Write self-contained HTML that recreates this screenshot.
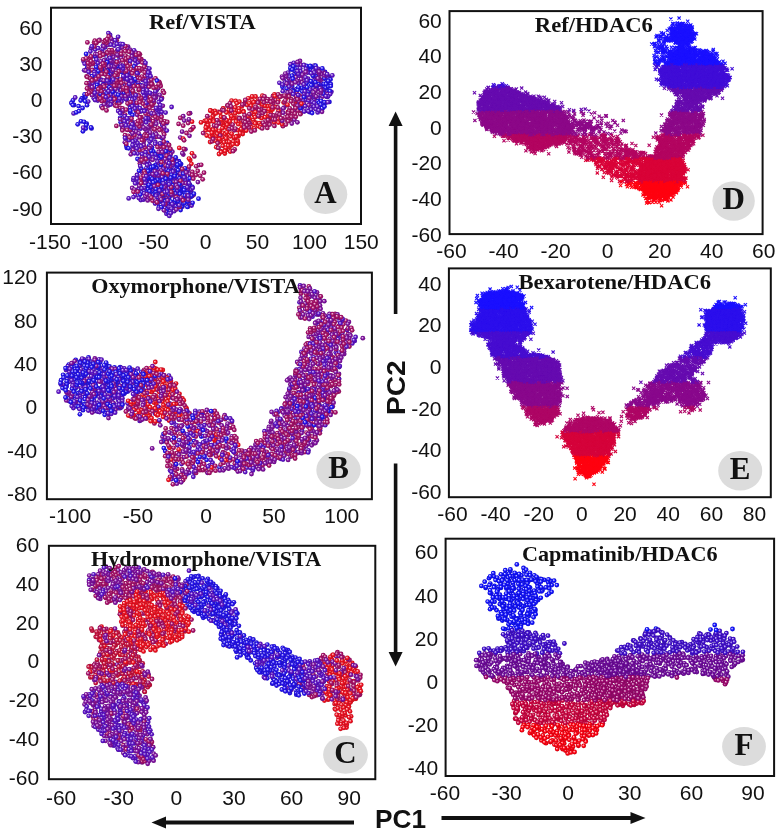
<!DOCTYPE html>
<html><head><meta charset="utf-8"><style>
html,body{margin:0;padding:0;background:#fff;width:781px;height:832px;overflow:hidden}
svg{display:block;filter:blur(0.35px)}
.n{font-family:"Liberation Sans",sans-serif;font-size:21px;fill:#111}
.t{font-family:"Liberation Serif",serif;font-weight:bold;font-size:21.5px;fill:#111}
.L{font-family:"Liberation Serif",serif;font-weight:bold;font-size:31px;fill:#111;text-anchor:middle}
.P{font-family:"Liberation Sans",sans-serif;font-weight:bold;font-size:26px;fill:#111}
</style></head><body>
<svg width="781" height="832" viewBox="0 0 781 832">
<defs><radialGradient id="gmdf01020" cx="0.5" cy="0.5" r="0.5" fx="0.38" fy="0.35"><stop offset="0" stop-color="#fde2e4"/><stop offset="0.55" stop-color="#f01020"/><stop offset="1" stop-color="#c00d1a"/></radialGradient><marker id="mdf01020" markerUnits="userSpaceOnUse" markerWidth="6" markerHeight="6" refX="3" refY="3" overflow="visible"><circle cx="3" cy="3" r="2.4" fill="url(#gmdf01020)"/></marker><radialGradient id="gmd5c12c8" cx="0.5" cy="0.5" r="0.5" fx="0.38" fy="0.35"><stop offset="0" stop-color="#ebe3f8"/><stop offset="0.55" stop-color="#5c12c8"/><stop offset="1" stop-color="#4a0ea0"/></radialGradient><marker id="md5c12c8" markerUnits="userSpaceOnUse" markerWidth="6" markerHeight="6" refX="3" refY="3" overflow="visible"><circle cx="3" cy="3" r="2.4" fill="url(#gmd5c12c8)"/></marker><radialGradient id="gmd2412ee" cx="0.5" cy="0.5" r="0.5" fx="0.38" fy="0.35"><stop offset="0" stop-color="#e5e3fd"/><stop offset="0.55" stop-color="#2412ee"/><stop offset="1" stop-color="#1d0ebe"/></radialGradient><marker id="md2412ee" markerUnits="userSpaceOnUse" markerWidth="6" markerHeight="6" refX="3" refY="3" overflow="visible"><circle cx="3" cy="3" r="2.4" fill="url(#gmd2412ee)"/></marker><radialGradient id="gmda8106a" cx="0.5" cy="0.5" r="0.5" fx="0.38" fy="0.35"><stop offset="0" stop-color="#f5e2ed"/><stop offset="0.55" stop-color="#a8106a"/><stop offset="1" stop-color="#860d55"/></radialGradient><marker id="mda8106a" markerUnits="userSpaceOnUse" markerWidth="6" markerHeight="6" refX="3" refY="3" overflow="visible"><circle cx="3" cy="3" r="2.4" fill="url(#gmda8106a)"/></marker><radialGradient id="gmd8010a0" cx="0.5" cy="0.5" r="0.5" fx="0.38" fy="0.35"><stop offset="0" stop-color="#f0e2f4"/><stop offset="0.55" stop-color="#8010a0"/><stop offset="1" stop-color="#660d80"/></radialGradient><marker id="md8010a0" markerUnits="userSpaceOnUse" markerWidth="6" markerHeight="6" refX="3" refY="3" overflow="visible"><circle cx="3" cy="3" r="2.4" fill="url(#gmd8010a0)"/></marker><marker id="mx8c0888" markerUnits="userSpaceOnUse" markerWidth="6" markerHeight="6" refX="3" refY="3" overflow="visible"><path d="M1.4 1.4L4.6 4.6M4.6 1.4L1.4 4.6" stroke="#8c0888" stroke-width="1.1"/></marker><marker id="mx660baf" markerUnits="userSpaceOnUse" markerWidth="6" markerHeight="6" refX="3" refY="3" overflow="visible"><path d="M1.4 1.4L4.6 4.6M4.6 1.4L1.4 4.6" stroke="#660baf" stroke-width="1.1"/></marker><marker id="mxb30560" markerUnits="userSpaceOnUse" markerWidth="6" markerHeight="6" refX="3" refY="3" overflow="visible"><path d="M1.4 1.4L4.6 4.6M4.6 1.4L1.4 4.6" stroke="#b30560" stroke-width="1.1"/></marker><marker id="mxff0010" markerUnits="userSpaceOnUse" markerWidth="6" markerHeight="6" refX="3" refY="3" overflow="visible"><path d="M1.4 1.4L4.6 4.6M4.6 1.4L1.4 4.6" stroke="#ff0010" stroke-width="1.1"/></marker><marker id="mxd90338" markerUnits="userSpaceOnUse" markerWidth="6" markerHeight="6" refX="3" refY="3" overflow="visible"><path d="M1.4 1.4L4.6 4.6M4.6 1.4L1.4 4.6" stroke="#d90338" stroke-width="1.1"/></marker><marker id="mx400dd7" markerUnits="userSpaceOnUse" markerWidth="6" markerHeight="6" refX="3" refY="3" overflow="visible"><path d="M1.4 1.4L4.6 4.6M4.6 1.4L1.4 4.6" stroke="#400dd7" stroke-width="1.1"/></marker><marker id="mx1a10ff" markerUnits="userSpaceOnUse" markerWidth="6" markerHeight="6" refX="3" refY="3" overflow="visible"><path d="M1.4 1.4L4.6 4.6M4.6 1.4L1.4 4.6" stroke="#1a10ff" stroke-width="1.1"/></marker><marker id="mx660bb0" markerUnits="userSpaceOnUse" markerWidth="6" markerHeight="6" refX="3" refY="3" overflow="visible"><path d="M1.4 1.4L4.6 4.6M4.6 1.4L1.4 4.6" stroke="#660bb0" stroke-width="1.1"/></marker><marker id="mx89088c" markerUnits="userSpaceOnUse" markerWidth="6" markerHeight="6" refX="3" refY="3" overflow="visible"><path d="M1.4 1.4L4.6 4.6M4.6 1.4L1.4 4.6" stroke="#89088c" stroke-width="1.1"/></marker><marker id="mxd5033b" markerUnits="userSpaceOnUse" markerWidth="6" markerHeight="6" refX="3" refY="3" overflow="visible"><path d="M1.4 1.4L4.6 4.6M4.6 1.4L1.4 4.6" stroke="#d5033b" stroke-width="1.1"/></marker><marker id="mx2c0fec" markerUnits="userSpaceOnUse" markerWidth="6" markerHeight="6" refX="3" refY="3" overflow="visible"><path d="M1.4 1.4L4.6 4.6M4.6 1.4L1.4 4.6" stroke="#2c0fec" stroke-width="1.1"/></marker><marker id="mx470dd0" markerUnits="userSpaceOnUse" markerWidth="6" markerHeight="6" refX="3" refY="3" overflow="visible"><path d="M1.4 1.4L4.6 4.6M4.6 1.4L1.4 4.6" stroke="#470dd0" stroke-width="1.1"/></marker><marker id="mxae0665" markerUnits="userSpaceOnUse" markerWidth="6" markerHeight="6" refX="3" refY="3" overflow="visible"><path d="M1.4 1.4L4.6 4.6M4.6 1.4L1.4 4.6" stroke="#ae0665" stroke-width="1.1"/></marker><radialGradient id="gmdc8103e" cx="0.5" cy="0.5" r="0.5" fx="0.38" fy="0.35"><stop offset="0" stop-color="#f8e2e8"/><stop offset="0.55" stop-color="#c8103e"/><stop offset="1" stop-color="#a00d32"/></radialGradient><marker id="mdc8103e" markerUnits="userSpaceOnUse" markerWidth="6" markerHeight="6" refX="3" refY="3" overflow="visible"><circle cx="3" cy="3" r="2.4" fill="url(#gmdc8103e)"/></marker><radialGradient id="gmd700a9f" cx="0.5" cy="0.5" r="0.5" fx="0.38" fy="0.35"><stop offset="0" stop-color="#eee2f3"/><stop offset="0.55" stop-color="#700a9f"/><stop offset="1" stop-color="#5a087f"/></radialGradient><marker id="md700a9f" markerUnits="userSpaceOnUse" markerWidth="6" markerHeight="6" refX="3" refY="3" overflow="visible"><circle cx="3" cy="3" r="2.4" fill="url(#gmd700a9f)"/></marker><radialGradient id="gmdcf0340" cx="0.5" cy="0.5" r="0.5" fx="0.38" fy="0.35"><stop offset="0" stop-color="#f9e1e8"/><stop offset="0.55" stop-color="#cf0340"/><stop offset="1" stop-color="#a60233"/></radialGradient><marker id="mdcf0340" markerUnits="userSpaceOnUse" markerWidth="6" markerHeight="6" refX="3" refY="3" overflow="visible"><circle cx="3" cy="3" r="2.4" fill="url(#gmdcf0340)"/></marker><radialGradient id="gmd400dcf" cx="0.5" cy="0.5" r="0.5" fx="0.38" fy="0.35"><stop offset="0" stop-color="#e8e2f9"/><stop offset="0.55" stop-color="#400dcf"/><stop offset="1" stop-color="#330aa6"/></radialGradient><marker id="md400dcf" markerUnits="userSpaceOnUse" markerWidth="6" markerHeight="6" refX="3" refY="3" overflow="visible"><circle cx="3" cy="3" r="2.4" fill="url(#gmd400dcf)"/></marker><radialGradient id="gmdff0010" cx="0.5" cy="0.5" r="0.5" fx="0.38" fy="0.35"><stop offset="0" stop-color="#ffe0e2"/><stop offset="0.55" stop-color="#ff0010"/><stop offset="1" stop-color="#cc000d"/></radialGradient><marker id="mdff0010" markerUnits="userSpaceOnUse" markerWidth="6" markerHeight="6" refX="3" refY="3" overflow="visible"><circle cx="3" cy="3" r="2.4" fill="url(#gmdff0010)"/></marker><radialGradient id="gmd1010ff" cx="0.5" cy="0.5" r="0.5" fx="0.38" fy="0.35"><stop offset="0" stop-color="#e2e2ff"/><stop offset="0.55" stop-color="#1010ff"/><stop offset="1" stop-color="#0d0dcc"/></radialGradient><marker id="md1010ff" markerUnits="userSpaceOnUse" markerWidth="6" markerHeight="6" refX="3" refY="3" overflow="visible"><circle cx="3" cy="3" r="2.4" fill="url(#gmd1010ff)"/></marker><radialGradient id="gmd9f0670" cx="0.5" cy="0.5" r="0.5" fx="0.38" fy="0.35"><stop offset="0" stop-color="#f3e1ee"/><stop offset="0.55" stop-color="#9f0670"/><stop offset="1" stop-color="#7f055a"/></radialGradient><marker id="md9f0670" markerUnits="userSpaceOnUse" markerWidth="6" markerHeight="6" refX="3" refY="3" overflow="visible"><circle cx="3" cy="3" r="2.4" fill="url(#gmd9f0670)"/></marker></defs>
<rect width="781" height="832" fill="#fff"/>
<path d="M210 121.4 216.3 135.8 242.9 129.7 253.3 120.2 222 137.5 239.4 101.7 256.1 102.1 226 127.5 213.4 115.2 229 135.2 229.2 150.2 237.7 140.9 213.6 119.7 221.4 120.2 286.7 97.7 238.5 136.3 241.3 124.8 215.8 132.1 265.4 110.9 243.9 130.8 247.1 105 219.7 142 229.3 111.3 253.8 122.5 241.8 106.4 228.2 129.5 213.1 138.2 218.1 111.8 251 104.2 233.8 109.7 243.4 111.1 217.2 133.7 269.7 118.1 210.1 142 249.4 103.3 220.2 131.6 258.4 126.2 234.5 138.2 237.9 143 274.1 122.2 191.4 163.8 201 122.4 223.2 132.8 205.7 130.4 237.1 117.7 192 121.7 207.2 122.6 210.4 129.8 204.8 121 230.7 145.4 235.1 107.5 190.2 160.1" fill="none" stroke="none" marker-start="url(#mdf01020)" marker-mid="url(#mdf01020)" marker-end="url(#mdf01020)"/>
<path d="M150 135.8 163.9 132.1 166.7 169.6 114.3 45.7 168.6 172.7 179.3 167.2 150.1 120.2 166.5 197.4 166.4 213.8 321 95.6 140.8 200 161 99.5 314.3 65.7 137.6 153.6 287.1 80.3 298.5 83 139.8 184.7 143.1 157.4 134.7 98.6 95.1 49.6 112.6 62.1 145.6 86.2 294.5 73.9 175.7 174.3 164.3 130.3 310 106.9 166.5 211.4 184.8 176.7 107.1 85.8 130.6 96.1 137.1 178.8 182.4 206.7 101 79.7 145.7 162.5 301.4 111.1 155.1 203.6 129.4 104.9 104.4 81.5 135 144 313.4 88.2 151.8 191.9 131.8 121.9 324.5 78.6 134.9 80.9 102.9 45.6 147.9 161.5 191 192 125.8 79.5 139 159.7 136.2 56.8 149.3 154.3 135.5 64.4 146.4 107.9 158.9 202.2 98.1 48.2 309.9 70.2 146 95.2 131.4 86.3 306.9 87.9 331.4 91.8 95.6 90 167.9 202.9 165.1 208 130.1 108.1 109.5 82.9 189.5 185.4 303.9 80.8 158.3 113.9 95.6 61.9 317.4 97.7 169.6 169.6 302.3 107 160.2 144.1 147 182.9 309 91.9 185.2 188.7 144.9 96 123 95.7 191.6 205.5 133.4 180.2 158.6 115.5 123.2 78.7 135.5 123.9 173.7 169.7 129.4 118.2 128.4 90.6 105.1 59.6 97.8 100.6 135.7 146 154.3 194.8 149.5 157.4 122.2 129 306.6 110.7 130.1 127.2 155 137.4 163.2 178.3 140.5 128.7 311.5 102.3 314.7 80 147.6 77.7 159.5 161.3 308 78.7 147.8 174.5 114.3 68.3 186.1 180.9 132.1 99.7 121.9 95.5 115 89.5 313.8 85 165.2 190.1 155 133.9 320.4 84.3 155 188.6 147.1 68.2 147.8 92.5 147.4 118.2 317.8 98.7 150.8 169.1 160.4 183.8 290.6 83.1 160.5 167.5 164.9 195.3 305.5 100.2 133 95.3" fill="none" stroke="none" marker-start="url(#md5c12c8)" marker-mid="url(#md5c12c8)" marker-end="url(#md5c12c8)"/>
<path d="M85.5 96.9 311.1 67.7 155.9 154.6 113.7 86.5 166.9 178.9 309.4 112 168 174.3 182.7 202.4 146.3 189.3 290.9 69.4 158.2 183.9 114.6 93.2 169 206 97.1 86.3 303.5 89 133 90.8 169.4 169.4 330.8 84.1 163.9 189.5 126.5 83.8 324.9 77.8 181.4 186.6 153.6 184.3 192.6 202.8 148.1 180.2 151.2 178.7 162.1 183 95.3 77.6 87 105.2 152.9 194.6 164.9 202.7 141.7 192.5 164.2 178.1 183 190.7 154.2 177.4 326.8 91 119.4 71.3 169.3 160.5 307.6 67.4 181.1 164.1 162.1 189.3 157.2 200.2 187.3 171.7 170.4 193.9 190.3 190.3 182 206.2 176.7 183.4 169.5 186.3 162.6 196 174.4 178.4 85.8 128.6 72.9 100.4 147.6 191.1 146.3 180.2 158.9 207 155.8 96 316 76.1 132.1 86.2 311.4 73 126.8 147.9 316.8 89.1 323 105.8 118.5 49.7 295.7 71.4 178.3 164.3 98.5 75.4 306.5 65.9 174.7 201.4 171.3 170.2 159.8 152 298.5 68.3 120.6 70.9 126.6 99.5 296.3 89.1 107.6 78.2 148.1 188.9 157.8 153.9 122.1 72.2 74.1 105 148.7 178.7 170.1 194.2 182.8 191.1 154.7 193 152.3 173 321.3 87.2 161.2 167.6 175.2 173.2 86.7 123.7 317.6 101.3 117.4 77.9 325 72 157.5 189.2 188.5 188.4 119.9 82 181 172.5 179.5 166.6 151 174.1 180 174.3" fill="none" stroke="none" marker-start="url(#md2412ee)" marker-mid="url(#md2412ee)" marker-end="url(#md2412ee)"/>
<path d="M155.8 192.2 119.5 98.4 174 190.3 130.2 112.7 167.7 208.7 98.7 79.8 324.1 89.6 107.4 98.8 177.1 181.1 180.8 192.2 161.5 153.7 155.3 154.5 78.6 106.1 176.8 203.7 82.9 131.3 318.6 84.1 326.9 82.6 169.9 169.3 168.6 170.8 325.7 94.3 82.5 98.1 166.8 161.2 142.2 161.7 172.6 188.1 115.4 61.3 150.6 177.4 325.5 102.8 168.9 213.4 184.8 197.5 293.2 68.2 167.9 182.5 137.5 158.9 175.6 193.6 129.8 73.5 329.4 101.9 129.9 110.7 119.7 58.7 156.3 167.9 103.5 90 120.7 122.2 316.9 86 328.8 77.2 108.6 71.9 190.7 197 71.4 103 320.3 73.9 161 165.2 110.9 92.7 115.3 87.6 120.3 89.9 181 182.9 183.1 203.7 152.8 167.9 189.1 196.9 134.2 66.5 301.5 87.9 175.1 202.9 160.8 201.1 153.3 151.3 166.6 160.8 286.7 88.5 174.5 202.5 324.4 78.3 153.5 171.6 140.3 194.6 72.8 105.1 77.7 124.3 155.5 165 134.1 81.8 174.6 206.3 153.8 166.3 130.5 104.2 324.4 102.1 160 191.5 308.5 91.7 128.5 71.8 177.6 186.6 163.8 174.5 126.3 145.8 311 69.7 137.8 73.3 111.6 74.2 101.3 87.5 180.6 210 159.9 161.3 127 64 318.4 70.1 131.9 91.8 111.2 98.8 159 179.4 107.4 63.1 326.9 86.7 167.8 183 292.2 85.9 178.9 161.2 108.1 68.1 133 134.7 178.2 187.5" fill="none" stroke="none" marker-start="url(#md2412ee)" marker-mid="url(#md2412ee)" marker-end="url(#md2412ee)"/>
<path d="M117.4 97 185 201.3 127.5 89.4 153.9 102.8 112.3 83.7 132 137.9 149.4 97.8 114 95.3 142.7 182.7 188.1 123.1 150.1 97.2 139.4 99.1 219.5 112.2 152.5 200.7 156.8 136.7 282.9 126.2 134.6 135.1 261.8 106.9 125.9 73.7 125.5 55.6 149 86.9 121.1 82.7 286.6 119.8 103.7 41.9 262.6 113.3 162 97.9 130 64.4 175.6 159.8 155.5 78.3 114.5 103.6 98.4 99.2 118.5 70.9 163.6 132.8 112.8 92.2 273.1 119.5 229.6 129.1 153.1 121.1 141.5 179.4 252.5 109.6 269.5 121.9 157.7 127.8 164.2 134.5 197.7 170.9 148.2 151.9 159.9 105.3 169.5 196.3 148.4 184.2 285.9 96.3 163.2 196.4 102.4 92.9 148.6 114.3 148.6 104.6 172.7 163.5 178.6 123.9 141.8 98.5 107 67.7 162.5 124.8 250.2 124.4 142.5 86.9 267.7 99.2 152.8 115.4 168.6 175.8 230.7 124.3 136.1 69.4 267.1 101.3 299.7 95.6 139.9 163.4 119.2 86.2 204 172.7 89.9 88.8 91 56.9 105.2 40.2 121.3 51.4 152.4 105.6 149.5 118.7 116.6 51.6 212 141.4 106.2 70.5 145.5 106.2 113.4 40.3 120.3 108 90.2 86.8 171.2 162.6 300.6 101.1 144.8 147.4 183.2 125.7 106.7 82.9 249.1 122.4 98.7 96.7 151.7 104.2 86.6 76.4 117.7 55.5 159.2 81.9 297.7 110.5 142 157 255.7 107.5 292.1 113.7 300.5 113.5 273 96 292.2 118.9 125.3 71.9 126.2 61.9 275.7 99.9 261.1 109.6 122.6 108.5 122.9 120.2 112.8 54.7 232.7 124.6 172.3 183.7 220.2 135.6 152.9 111.1 262.3 116.2 136 84.8 96.4 95.3 109.8 42.6 115.1 105.6 161.3 129.2 128.2 135.8" fill="none" stroke="none" marker-start="url(#mda8106a)" marker-mid="url(#mda8106a)" marker-end="url(#mda8106a)"/>
<path d="M160.9 186.6 109.4 78.9 291.6 83 292.1 93.4 320.8 80.3 151.4 159.3 284.1 107.6 303.8 72.9 155.5 175.3 100.3 86.2 322.7 96.5 308.6 105.1 142.6 159.1 146.6 131 188.3 169.2 297.4 122.3 102 51.6 136.5 138.8 314.1 99.7 137.8 189.7 132.2 151.4 147 169.9 320.3 88.2 288.9 78.3 295.1 106 143.9 162.3 156.3 123.8 145.1 64.7 112.5 100.1 98.6 77.8 99.8 56.2 118.7 68.2 163.9 210.3 327.5 75.9 151.4 82.5 192.3 196.1 313 94.6 152.1 94.2 126.7 92.7 174.5 158.9 138.5 83 122.1 47.2 155.3 93.5 159 163.1 132.2 188 182.1 131.7 110.7 75.3 115.6 89 121.5 125.3 110.4 74.1 295.8 77.2 300.8 76.8 142.6 173.3 150.5 186.5 170.8 154 297.1 80.8 131.3 89.8 183.2 198.8 325 93.6 147.9 156.5 291.3 88.8 315.5 90.4 153.6 100.5 149.6 127.8 94.7 80.5 155.4 132.8 188.9 119.3 161 122.1 113.4 57 160.9 150.4 300.7 64.8 95.5 57.2 294.4 119.7" fill="none" stroke="none" marker-start="url(#md8010a0)" marker-mid="url(#md8010a0)" marker-end="url(#md8010a0)"/>
<path d="M108.7 99.1 75.2 97.5 143.4 199.7 101.4 80.1 138.6 87.4 174.2 178.4 128.7 76.4 136.3 59.6 185.3 180.2 128.1 95.8 145.4 98.6 164.2 151.8 150 182.5 168.9 182.2 313.2 80.6 135.7 103.7 157.9 203.1 98.6 78.9 109.7 67.4 138.8 198 182.1 176.6 296.3 98.3 151.7 113.4 157.4 161.6 164.8 166.7 161.6 193.8 188.9 203.3 320.1 88.3 135.1 60.4 146.2 82.7 321 109.3 169.2 203.3 90.2 76.3 150 92.9 156.6 90.3 156.3 181.4 168.9 207 167.9 157.2 288.3 84.3 303.9 65 146.7 103.2 143.4 90 146.3 168.3 117.3 85.8 113.6 79.6 128.6 85.6 84.2 70.3 325.2 88.7 83.2 127.7 303.1 100.2 105.1 47.4 108.8 96.3 135.3 195.1 140.7 145.4 97.5 82.7 310 89.6 102.6 48.9 138.9 188.6 132.9 102.5 167.2 189.8 188.1 188.6 305.9 68.8 101.4 106.4 293.7 62.8 170.7 207.1 155.7 157.1 138.8 149.6 291.9 93.1 136.9 128.7 313 70.5 123.7 77.3 105 80.7 131 131.3 308.6 100.5 134 128.2 137.6 143 132.4 106.2 94.7 97.2 160.4 168.4 149.2 173.7 159.1 173.8 289 86.6 149.4 68.6 120.2 44.8 109.3 65.2 157.7 172.5 132.8 146 137.1 75.4 317.5 70.3 155.4 142.2 96.6 67.4 88.2 101.6 147.9 156 171.5 208.7 175.9 206.1 83.5 61.1 307.7 72.7 163.3 168.8 144.6 198.3 143.9 95.9 92.6 83.2 105.3 102.5 305.5 77.3 159.3 111 174.2 211.2 127.9 122.3 178.2 179.5 145.2 182.9 295.4 65 128.9 140.2 298.1 88.5 188.1 183.4 112 71.3 171.2 172.2 319.2 107.9 164.9 156.3 150.9 140.4 169.3 215.9 135.2 140.7 174.9 197.3 300.2 68.3 153.3 135.7 284.7 82.7 127.1 75.4" fill="none" stroke="none" marker-start="url(#md5c12c8)" marker-mid="url(#md5c12c8)" marker-end="url(#md5c12c8)"/>
<path d="M124.6 121.2 137 105.7 173.1 176.9 179 193.8 183.4 176.6 290.4 64.2 156.6 180.3 161.1 115.7 163.3 199.9 144.2 187.8 161.5 99.2 122.1 98.6 299.3 75.7 110.1 34.9 303.4 106 149.7 141.5 119.3 93.3 113.8 64.5 279.4 82.8 98 63 135.1 54.5 112.5 82 287.8 92.4 144.2 193.5 152.1 154.4 142.8 110.3 313.9 106.6 84.6 63.7 314.8 97.1 155.4 91.4 302 105 148 118.5 93.8 98.3 143 92.5 147.2 172.1 121.5 101.6 119.6 97.3 133.6 178.2 146.4 138.3 138.1 62.2 313.6 76 146.1 122.4 118.1 36.8 166 163.7 312.4 101.7 133.5 197.1 132.8 141.5 105.9 100.3 116.2 70.8 308.5 111.2 177.7 190.6 162.4 125 181.2 181.2 171 179 108.6 59.2 162.1 177 156.7 109.8 134.4 79.9 96.6 69.7 111.2 80.9 328.4 78.5 161.7 111.8 166.7 179.1 329.3 79.1 140.4 111.6 177.2 161.9 109 99.9 126.5 98.9 311.2 109.6 178.7 187.9 160.1 108.9 160.2 107.5 179.6 168.4 155.1 143.8 177.5 176.7 141.8 170.7 160.7 144.2 162.6 158.1 115.8 94.4 134.1 50.3 128.7 198.4 131.1 52.7 318.2 68.8 316.2 85.3 131.6 122.1 160 143.8 143.2 120 111.7 62.4 169.1 188.3 175.9 206.3 297.7 64.7 166.6 123.2 118.2 111 143.9 61.2 317.7 112.4 172.8 165.3 146.1 102.8 315.8 109.2 125.8 99 288.1 72.7 110.7 94.4 132.6 145 143 80.2 122.8 113.7 289.7 76.6 310.5 97.2 120.5 43.9 150.9 188.1 327 96.9 188.3 178.9 121.2 55.1 111.9 91.1 149.5 164.2 305.4 96.4 108.4 33.1 300.5 71.4 145.9 83.9 111.4 66.3 126 138.1 108.7 82.5 147 90.4 149.5 73 73.6 113.4 158.7 102.1 98 85.5" fill="none" stroke="none" marker-start="url(#md5c12c8)" marker-mid="url(#md5c12c8)" marker-end="url(#md5c12c8)"/>
<path d="M227.1 140.1 228.2 142.2 209.3 129.8 269.9 106.5 252.4 100.3 259.3 123.2 235.1 113.2 221 116.7 230.9 145.5 223.4 117.4 249.4 118.2 235.6 100.9 265.1 117.2 243.6 111.9 226.9 141.9 213.1 128.9 206.7 135.5 282 124.1 257.5 101.6 242.7 134 260.7 125.6 251.6 127.4 228.1 123.6 296.4 92.4 228.8 110 248.3 98.3 255.5 111.9 221.2 151.5 223.4 126.1 241.8 129.9 208.4 126 251 105.8 267.3 106.2 264.7 105.8 231.2 118.4 255.8 122.6 248.3 116 278.3 122.6 215.8 129.5 281.9 121.2 222.4 128.1 219 154 258.6 99.3 230.6 150.7 206.6 120.5 225.5 149.7 192 153.3 270.9 113.6 223.9 142.3 255.1 123.5 253.7 102.3 230.6 114.8" fill="none" stroke="none" marker-start="url(#mdf01020)" marker-mid="url(#mdf01020)" marker-end="url(#mdf01020)"/>
<path d="M177.5 164.3 158.5 188.6 170.4 202 177.8 206.9 164.9 200.7 297.2 105 117.4 66 170.9 201.7 109.5 87.3 290.4 67.9 81.6 98.7 149.3 145.6 171.5 174.8 322.6 108.6 322.1 108.2 323.4 93.7 184.5 182.9 173.5 159.9 120.5 66.8 198.5 198.7 184.8 188.5 86.1 53.9 184.7 193.3 120.2 117.8 159.5 180.8 76.2 112.4 117.9 101.1 127.5 91.8 161.5 194 167.1 143 177.1 199.7 87.2 67.5 160.1 190 312 85 298.4 73.3 179.6 178.4 108.9 80 105.6 64.8 157 80.7 293.4 66.3 141.4 85.4 152 147.6 282.7 85.1 312.8 75.7 299.3 105.6 120.9 90 150.9 187 98.9 40.8 162.4 138.4 153.9 166.8 311.3 67.3 190.2 175.6 300.4 108 323.8 83.9 108.3 75.1 185.7 193.5 298.5 87.3 97.1 85 157.6 179.7 178.1 170.1 100.5 93.9 108.4 91.4 319 102.8 156.5 194.4 112.7 91.8 147.5 169.8 130.4 110.7 163 194.9 148.2 171 329.9 91.2 151 167.3 164.4 172.8 160.1 156.5 187.7 193.1 321.1 100.9 307 87.3 91.5 128.4 151.9 179.8 169.3 197.6 147.6 177.6 175.7 157.5 111.5 101.2 175.1 174.1 315.6 65.7 148.1 185.8 124.1 92.9 132.5 115 171.5 163.2 101.9 70 136.2 111.7 189.8 185 98.4 71 116.2 82.7 325.7 87.6 330.5 79.5 152.3 178.8 160.8 199.3 181.6 199.4" fill="none" stroke="none" marker-start="url(#md2412ee)" marker-mid="url(#md2412ee)" marker-end="url(#md2412ee)"/>
<path d="M172.4 151.7 152.3 125.2 137.1 114.8 145 129 168 152 297.8 103.9 318.7 92.3 111.9 42.1 294 94.3 156 97.7 159.7 94.8 119.7 60.7 91.1 48.3 165.2 159.1 89.4 84.6 303.8 103.6 286 76 154.6 97.6 320.9 92.7 121.4 96.2 136.2 131.7 128 46.6 135.9 122.3 322.7 70.7 148.6 127 319.4 78.5 88.5 69.2 188.3 201 97.6 91.9 158.6 151.9 117.4 49.9 176.1 181.8 134.4 189.6 193.7 194.8 117.4 54.8 321.5 74.2 125.5 96.2 188.1 206.6 145.7 70.5 184.2 120.6 113.1 69.9 180.3 137.6 139.3 59.9 92.5 88.2 107.9 105.7 165.3 186.3 124.9 67 138.8 133.4 158.3 175.5 114.6 66.5 112.4 61.4 282.2 120.8 92 95.2 108.8 66.6 128.5 80.5 105.2 92 130.8 154.3 183.2 116.2 168.4 195.5 173.1 163 111.1 38.3 286.9 105.2 108.9 104.5 159.2 136.8 180.4 173.7 145.5 196.4 104.3 104.3 167.2 148.6 121.7 125.2 324.3 75.4 92.2 77.4 180.1 185.3 155.4 173" fill="none" stroke="none" marker-start="url(#md8010a0)" marker-mid="url(#md8010a0)" marker-end="url(#md8010a0)"/>
<path d="M282 76.7 292.1 83.8 301.4 97.8 300 61 319 73.5 185.6 183.2 130.3 85.7 301.2 79.2 147.7 200.4 302 82.5 183.3 172.6 182.7 169.1 103.9 60.5 318 71.5 319.3 79.6 283.3 108.4 108 44.8 176.8 184.8 160.2 197.7 295.8 99.9 198.9 165.1 149.8 198.3 183.3 154.6 150.2 132.5 297.6 62 103.7 80.6 182.4 153.2 170.2 166.5 162.8 105.8 197.9 182.1 115.9 64.4 139.2 185.8 121.9 70.5 150.2 125.2 285.3 73.6 136.1 52.9 314.2 94.6 155.7 200.6 124.9 142.3 161.2 199.5 164.1 187.3 172.6 194.5 321 90.5 325 73.5 110.7 60.6 299.6 105.4 161.2 170.7 85.7 70.5 156.9 172.2 132.2 59 286.7 83.6 131.9 56.4 293.4 90.4 121.8 111.6 122.9 110.3 143.6 127.5 154.2 113.8 171.8 193.1 182.6 182.9 302.4 74.7 150.6 146.3 149.2 83.1 156.3 134.3 143 78.8 316.1 96.5 298.8 101.5 103.7 46.3 280.2 109.9 143.8 145 144 141.1 165.1 144.6 291.5 79.5 114.6 82.1 148.7 81" fill="none" stroke="none" marker-start="url(#md8010a0)" marker-mid="url(#md8010a0)" marker-end="url(#md8010a0)"/>
<path d="M240.1 133.4 270.5 110 262 104.6 254 115.2 220.4 140.9 261.5 118.2 274.5 94.4 212.7 116.5 236.8 136.2 255 117.2 233.3 141.5 277.5 95.5 218.7 138.8 259.5 103 278.6 110.6 221.6 122.1 234.5 117.7 215.4 140.8 240.9 120.6 210.5 110.7 225.9 138.4 189 158.6 301.5 103.7 210.1 136.6 223.4 108.7 260.4 127.3 295.1 103.9 278.3 100.6 224.8 153.5 214.8 110.9 225.1 133.9 231.6 100.6 225.9 122.1 238.8 108.5 230.2 151.6 220.2 112.8 215.8 113.4 262.4 95.7 213.7 121.6 238.2 124.1 268.4 116.8 233.2 118.2 229.1 141.8 236.1 121.6 236.8 103.3 227.1 124.7 254.5 128.4 278.2 118.7 219.2 130.8 210.5 117.8 239.7 111.7 212.2 111.5" fill="none" stroke="none" marker-start="url(#mdf01020)" marker-mid="url(#mdf01020)" marker-end="url(#mdf01020)"/>
<path d="M287.9 112 246.3 130.5 268 115.7 191.8 129.2 223.1 108.5 283.6 102.6 230.4 136.4 229.7 121.4 206.2 126 287.5 104.7 234.2 137.3 272.5 109.5 274.8 96 245.3 101.4 226.6 120.1 268.7 109.3 207.8 125.1 210.3 110.5 213.1 129.8 226.4 112.5 226.7 132.3 216.3 147.2 221.1 152 205.8 127.5 237 144.2 222.7 145.8 228.1 145.7 295.1 104.8 238.8 112.1 179.3 147.9 241 129.1 211.9 134.6 225.7 147.9 255.5 96.5 234.3 110.1 275.3 107 231.5 116.2 236 136.7 222.4 123.3 252.1 96.5 220.8 123.7 251.3 113.4 225 151 183.2 138.7 219.4 139 231.7 133.7 237.3 130.2 232.8 144.3 211.8 132.8 259 116.7 239 111.2 268.7 114.1" fill="none" stroke="none" marker-start="url(#mdf01020)" marker-mid="url(#mdf01020)" marker-end="url(#mdf01020)"/>
<path d="M170.2 149.9 310.2 66 170.7 177.7 140.7 136.4 328.5 86.6 126 91.6 91 127.5 180.2 193.1 137.6 85 151 150.8 179.9 193.8 179.5 184.2 96.1 66.9 310.9 81.2 118.2 94.8 80.7 100.5 311.3 85.2 155.3 181.4 169.2 193.8 141.3 168.7 184.5 203 128.6 148.3 79 111.1 125.1 85.7 187.8 201.6 97.1 87.4 292.3 69.6 296.8 72.8 85.1 101.3 315.5 82.2 179.2 188.7 162.9 180.5 131.5 78.2 183.3 173.7 292 75.7 155.8 189.1 176 199.9 302.3 91.6 322.3 68.4 82.6 108 165.8 151.4 320.6 104.6 161.5 186.8 328.1 86.2 148.8 184.8 108.8 90.5 189.8 178.4 161 164.7 84.6 94.4 153.1 166.7 177 166.2 86.3 125 104.6 74 135.4 79.3 139 170.8 326 83.9 172.8 185.3 107.6 70.7 149.6 191.3 184.9 195.6 297.7 90.1 306.7 83 292.4 90.4 174.7 176 95.3 56.2 103.3 84.4 177.9 201.3 161.3 156.8 104.8 54.4 292.8 78.7 282.4 86.8 107.2 62.1 165.8 178.6 293.4 91.5 185.1 168.3 192.3 186.9 179.9 163.3 330.8 86.1 324.5 106.6 161.3 207.2 81 121.3 312.1 113 102.5 67.3 92.1 76.2 187.4 206.9 84 121.8 191.6 195.7 177.5 164.8 106.7 93.3 170.4 182.8 170.5 157.4 153.3 182.3 304 97 193.9 193.7 328.3 80.9 165.5 201.1 184.1 190 175.3 200.3" fill="none" stroke="none" marker-start="url(#md2412ee)" marker-mid="url(#md2412ee)" marker-end="url(#md2412ee)"/>
<path d="M317.9 78.4 121 90.2 322 111.8 152.7 159.8 99.5 39.9 147.4 112 313.6 92.4 189.5 135.8 305.7 72 158.1 88.2 95.4 54.1 146.9 194.3 139.7 137.1 327.6 94.1 171.5 194.4 189.8 173.9 163.4 137.3 154.2 175.2 287.7 92.5 283 78.3 111 89.1 190.1 113.2 295.3 82.3 154.4 186 129.9 49.7 132.5 133.1 164.2 127.4 119.3 86.2 133.1 149.9 142.6 85.9 139.9 160.7 166.3 144.7 176.2 185.5 290.6 91.7 167.6 200.4 180.9 197.6 188.3 199.7 282.6 78.1 162.3 152 185.4 149.3 309.4 97.9 137 174.9 291.8 123.5 319.2 71.8 156.5 119.5 92.1 87.2 120.7 64.8 159.8 172.6 131.7 52.7 111.5 101.6 127.9 94.1 127.3 48 141.9 123.8 152.7 174.2 100.8 61.3 177.4 187.4 283.2 112.8 123.2 128.7 176.3 209.4 297.5 105.7 103.4 85.1 154.9 171.2 293.8 110.5 120.2 119.2 110.6 55.3 186.2 172.5 149.1 148.2 88.7 83.1 167.1 161.9 97.5 54.3 150 195.8 131.5 72.8 121.3 58" fill="none" stroke="none" marker-start="url(#md8010a0)" marker-mid="url(#md8010a0)" marker-end="url(#md8010a0)"/>
<path d="M288.9 96 196.2 166.3 152.5 84.7 131.6 118.6 138.8 90.3 161.3 120.4 267.3 127.9 293.2 103.8 254.8 130.4 164.3 121.6 192.4 171.9 101.1 69 195.9 175.1 125.4 46.2 143.2 139.8 273.4 102.9 136.9 102.8 122.4 60.3 287.8 113.2 158.1 184.8 153.6 128.9 91.5 91.1 90.9 91.8 123.2 89.4 103.3 96 116.3 85.4 114.3 85.7 94.3 46.4 162.5 194 104.6 63.8 247.9 120.2 118.7 71.4 239.7 118 276.1 115.7 102.3 73.3 91.2 79.2 123.6 87.7 186.5 133 183.8 149 284.4 102 89.6 71.3 86.5 83.2 289.8 108.3 117.1 82.4 137.3 68.5 102.6 108.2 88.6 66.6 127.6 103.5 116.8 61.9 140.2 70.7 203.1 133.1 128.9 51.7 96.1 79 136.8 68.6 131 123.1 257.9 102.6 222.2 110 131 69.4 130.7 102.1 90 78.3 234.7 149.4 140.6 121.5 100.3 87.4 227.4 105.5 149.4 100.7 244 125.9 292.3 111.2 117.7 74.8 160.1 146.3 142.2 62.6 295.9 116.8 296.3 96.3 188.8 113.6 90.1 64.2 88.1 62.3 112.3 51.8 100 53 165.7 165.6 133.4 71.2 271.4 98.8 133.3 92.6 245.3 99.9 272.6 101.2 83.3 59.3 139.9 54.3 163.8 141.7 100.4 56.2 300.3 114.2 126.1 109.7 243.6 121.4 104 65.6 297.3 99 144.3 171.4 234.5 130.3 265.4 121.6 127 85.4 100.3 67.4 101.4 91.1 189 166.7 109.2 55.7 229.8 103.3 132.8 90.9 87.4 42.4 125.1 114.6 289.1 111 154.7 129.3 201.2 164.8 285.3 117.4 139.3 126.5 141.3 117.2 288.4 112.9 94.1 42.6 99.6 88.3 278.5 113.5 171.3 191.9 139 89.5 263.9 102.3" fill="none" stroke="none" marker-start="url(#mda8106a)" marker-mid="url(#mda8106a)" marker-end="url(#mda8106a)"/>
<path d="M256.7 108 285.3 100.4 282 96.1 168.5 165.3 245.3 122.2 92.1 80.5 126.4 82.4 231.4 110.6 135.5 94.4 141.2 101.8 264.5 96.3 138.1 86.2 141.1 177.7 126.1 63.3 108 77.9 214.1 125.5 202.7 179.3 139.4 149.9 141.7 160.3 194.3 156.4 291.3 99.4 151.4 79.7 297.5 99.3 145.2 76.1 132.3 73.4 273.4 115.4 259.2 110.2 106.9 52.4 137.8 191.6 157.5 118.1 142.9 103.8 90.2 64.5 137.4 124.4 192.2 174.9 227.7 105.6 145 134.4 270.6 115.1 207.3 116.2 87.1 94.1 144.7 72.4 108.1 96.3 138.5 95.5 262.2 128.4 126.7 91.4 151.4 197.6 129.9 129.9 127.5 60.2 176.4 197 151.6 84 120.5 79.6 121.2 54 98.4 89 90.1 57.9 105.3 74.4 156.1 87.1 125.2 51.1 163.8 147.2 239.4 118.5 92.8 64 106.5 110.4 90.9 56.5 277.5 113.4 92.3 70 88 63.1 137 68.2 187.5 195.7 232 128.3 141.8 69 116.2 73.4 288.9 118.9 218.8 123.5 171.2 187.2 119.4 103.2 165.1 204.1 121.5 83 216.6 126 141.9 76.6 269 124.1 104 100.2 139.9 117.5 144.9 173.6 145.5 113.7 291.4 99.6 106.4 71.7 291.4 116.8 179.5 206.9 272.6 107.4 141.1 97.9 151.2 124.6 193.4 127.2 259.3 114.3 114.6 99.2 155.4 116.9 125.9 58.8 136.1 54.9 224.3 117.8 101.8 101 141.3 59.1 139.5 68.1 259.9 98.9 127.8 66.3 243.9 104.2 213.1 139 125 135.2 164.9 121.3 167.3 173.8 294.9 113.6 284.5 95.6 289 96.5 100.4 98.6 127.2 129.9 106.8 42.8 138.9 95.9 86.2 58.3 275.1 119.6 217.6 143 96.3 43.2" fill="none" stroke="none" marker-start="url(#mda8106a)" marker-mid="url(#mda8106a)" marker-end="url(#mda8106a)"/>
<path d="M144.3 135.7 167.3 121.9 126.4 88.1 146.7 136 277.8 107.5 248.9 127.6 162.9 173.4 170.4 148.8 94.8 40.7 246.9 125.5 268.1 120 193.3 178.7 116.7 40.4 92.7 62.7 128.4 57.6 217.1 120.1 287.6 116.7 274.4 125.9 98.7 76.4 139.8 102.2 166.6 155.7 270.7 101.9 151 99.6 96 42.9 111.9 50.2 263.1 122.8 159.9 83.4 223.6 110.4 183 200.4 138.9 53.5 184.1 140.3 244.9 118.4 291 101.3 107.4 52.7 143.4 150.8 138.2 77.8 180.5 180.7 169.1 144.9 285.9 124.6 104.3 86.7 251.3 131.6 278.2 94.5 108.7 36.5 87.3 77 133.9 86.4 105.6 40.9 141.9 140.1 102.9 63.6 116.7 106.2 224.4 117.6 288.2 121.2 264.5 111.2 233.1 151.2 255.5 106.8 279.6 114.5 101.7 74.1 149.6 107.8 133.6 152.3 122.4 130.4 107.8 77.1 133.5 191.8 249.4 114.2 157.5 147 269.7 124.6 125.8 69.6 114.9 75.6 163.4 123.4 258.5 115.9 190.5 130.2 218.4 147.8 263.4 99.2 295.6 108.1 109.3 50.1 153.5 87.8 162.9 91 116.1 80.5 103.3 54.7 281 118.2 242.4 104.6 280 96.9 135.8 110.2 244.6 115.2 141.2 183.1 156.9 202.3 159.6 130 160.7 86 172.2 159.5 143.8 175.9 126.3 143.8 200.2 175.8 231 106.5 164 92.8 244.3 127.5 107 39.3 264.8 125.1 249.3 108.4 138.1 120.9 91 61.1 87 88.5 126.4 70.8 235.4 128.6 161.6 116.9 144.3 66.7 158.7 84.2 89 92.7 138.4 112.3 180.3 117.9 182.2 168.9 218.3 147.9 161.6 162.2 139.6 58.1 116.4 125.9 129.5 137.4 277.9 102.4 146 159 99.1 40.6 140.1 78.6 136.8 74.8" fill="none" stroke="none" marker-start="url(#mda8106a)" marker-mid="url(#mda8106a)" marker-end="url(#mda8106a)"/>
<path d="M88.6 71.9 136.8 148.4 169.6 157.7 159.6 190.6 158.5 208.8 115.2 40.2 298.2 95 293.3 94.1 145.6 152.2 124.8 116.2 151.3 139.5 125.9 125.4 141.9 111.1 149.1 156.8 132.3 124.3 156.6 173.8 170.7 213.2 120.1 113.1 144.6 179.1 177.3 199 91.8 46.4 298.3 73.9 327.2 74.2 282.5 84.6 282.8 91.2 145.5 62.8 169.1 184.4 147.7 75.4 123.3 76.1 108.8 91.4 95 100 172.3 204 127.1 118.4 314.3 72.6 305.2 106.1 131.2 127.4 119 100.4 145.8 118.3 136.5 182.6 94.5 72 332.3 75.4 297.5 71.2 140.2 166 146.3 176.1 314.3 102.9 173.6 171.2 134.4 153.3 150.6 76.2 303.8 84.4 122.9 68.7 147.2 165 167.9 166.1 129.3 84.2 90.4 51.5 141.2 146.4 96.5 59.5 191.4 189.5 105.9 97.1 166.8 130.6 137.2 175.1 141.7 188.5 94.6 74.1 156.7 194.8 156.2 158.1 163.5 183.5 311.1 73.3 137.2 73.2 156 195.7 156 108 130.2 78.2 109.9 57.9 165.6 112.6 140 108.2 160.1 143.5 148.3 72.6 135.8 95.3 110.8 44.7 94.8 92.9 160.3 105.1 171.6 107 304.3 93.8 107.3 80.7 327.8 102.2 173 171.6 330.2 94.1 169 163.2 142.1 154 184.3 177.5 131.5 81.3 125 138 328 96.5 145.7 81.4 306.9 80.4 318.7 110.3 192.7 188 144.4 111 135.2 183.4 127.5 79.7 122.6 65.9 122.8 44.2 108.6 91.2 120.8 66.7 134.9 108.5 116.9 43.9 164.9 192 130.3 61 307.9 94.8 119.5 98.6 127.2 79.1 187.4 187.2 325.8 96.2 316.2 68.2 113.2 79.6 179.2 205.3 110.6 99 304.9 91.3 110.7 104.6 163.4 203.9 188.2 195.8 167.3 191.7 189.1 183.2 304.2 111.6 317.4 106.4 118.3 49.3" fill="none" stroke="none" marker-start="url(#md5c12c8)" marker-mid="url(#md5c12c8)" marker-end="url(#md5c12c8)"/>
<rect x="51" y="7.7" width="310" height="216.3" fill="none" stroke="#111" stroke-width="2"/>
<text class="t" x="149" y="29" textLength="106.7" lengthAdjust="spacingAndGlyphs">Ref/VISTA</text>
<ellipse cx="325.5" cy="194.3" rx="21.8" ry="19.6" fill="#dcdcdc"/>
<text class="L" x="325.5" y="202.5">A</text>
<text class="n" x="42.5" y="34.9" text-anchor="end">60</text>
<text class="n" x="42.5" y="71" text-anchor="end">30</text>
<text class="n" x="42.5" y="107.2" text-anchor="end">0</text>
<text class="n" x="42.5" y="143.3" text-anchor="end">-30</text>
<text class="n" x="42.5" y="179.4" text-anchor="end">-60</text>
<text class="n" x="42.5" y="215.5" text-anchor="end">-90</text>
<text class="n" x="50" y="249.1" text-anchor="middle">-150</text>
<text class="n" x="101.9" y="249.1" text-anchor="middle">-100</text>
<text class="n" x="153.8" y="249.1" text-anchor="middle">-50</text>
<text class="n" x="205.7" y="249.1" text-anchor="middle">0</text>
<text class="n" x="257.5" y="249.1" text-anchor="middle">50</text>
<text class="n" x="309.4" y="249.1" text-anchor="middle">100</text>
<text class="n" x="361.3" y="249.1" text-anchor="middle">150</text>
<path d="M509 119.2 541.8 113.6 500.1 116.7 586.9 123.9 585.9 127.5 491.4 115.1 546.1 126.2 505.1 121.4 535 122.1 513.1 124.8 534 115.4 504.6 112.2 491.8 128.7 554.2 130.5 499.5 127.3 515.5 133.9 546.2 125.1 483.1 118.1 541.3 116.5 528.4 128.1 567.6 127.5 568.4 112.1 489.4 126.5 545.5 134.6 685.8 130.3 534 133.5 504.9 133.8 519.6 125.8 687.2 117.7 490.1 125.2 683.9 125.8 535.2 117.2 503.7 128.1 486.8 121.2 505.6 128.4 513.9 129.4 697.9 131.4 683.5 131.2 545.6 117.4 546.8 128 496.4 127.9 500.9 124 564.6 131.7 522.8 129.9 550.8 111.8 668.6 120.2 527.4 133 531.7 131.9 541.2 131.5 521.8 121 473.5 112 582.5 123.8 550.8 118 559.8 120.9 543.4 133.7 492.3 121.5 678.4 115 554 122.1 526.1 123.8 487 111.5 547.5 125.8 486.6 112.2 502.7 112.1 674.1 116.3 605.7 116 593.9 127.3 683.9 115 528.2 114.6 680.5 120.4 514.4 119 558.6 130.5 505.8 112.2 665.3 132.1 554.9 124.2 557.8 114.8 482 117.7 528.7 119.4 544.6 120 497.4 112.3 514.2 120.6 689.3 129.7 500 117.8 526.3 128.1 557 116.8 573.7 116.7 526.8 114 569.1 128.4 670.5 115.3 498.9 111.8 518.1 127.5 551 133.9 578.6 127.8 581.3 111.9 700.1 132.5 539.2 129.8 676.4 120 493.5 111.9 578.2 129.7 674.6 130.4 527.6 128.1 546.5 130.9 698.2 119.9 502.6 132.4 675.1 119.6 677.6 122.9 494.1 113.9 560.6 111.3 499.4 119.7 669.1 127.3 667.9 124.6 540.7 119.7 498.3 115.8 545.2 131.5 572.8 119.5 543.5 120.9 522.5 117.3 591.2 131 544.9 128.1 529.2 134 493.5 128.3 566.4 134.5 555.3 130.2 518 121.3 566.1 131 526 131.6 688.5 116 573.1 125.3 531.9 124 569.8 115.7 539.9 114.5 496.7 111.3 538.5 116.3 682.7 132.5 665.5 134.3 684.8 120.1 549.7 129.8 491.5 113 505.6 115.1 676.1 131.1 538.3 113.5 553.6 124.1 558.6 128.2 500.6 130 534 126.2 688.7 114 538.6 128.1 564.6 115 668.2 133 514.4 134.8 506.6 115.3 680.8 124.8 543.1 127.6 518 125.6 529 127.4 684.6 125.9 561.9 121.9 528.2 116.6 684 118.8 673.2 123.9 520.4 129.6 527.6 124.2 547 133.2 493.7 130.9 487.2 118.6 503.2 130.2 503.6 130.1 543.7 114 515.5 113.1 538.3 120.6 488 119.1 674.3 129.2 533.8 134 680.2 114 500.7 113.5 687.7 122.4 528.8 123.4 534.6 117.5 696 129.8 697.2 131.8 491.6 113.1 491 123.1 680.8 111.3 566.2 131.1 566 123 674.1 123.6 503.2 129.2 557 114.7 670.2 122 566.8 126.7 566.1 125.7 503.6 124.2 555.3 131.8 689.7 134.2 525.8 132.5 578.3 124.8 677.7 126.6 681.5 122.8 538 124.3 535.8 128.3 667.5 130.8 673 112.4 559.2 133.5 533.1 119.4 682.9 123.5 566.3 129.7 699.2 121.6 542.8 123 542.3 113.3 479.6 115 544.3 122.8 583 115.3 581 127.5 676.3 116.7 525.5 111.9 668.1 131.7 550.2 133.5 514.3 132.8 544.9 117.8 556.3 112.3 538.7 114.4 700.6 115.9 684.5 118.6 690 123.5 508 121.2 686.7 123 537.2 126.4 536.9 112.6 548.6 123.5 565.1 134.5 491.6 127.7 546.1 130.1 686.6 116.2 517.1 120.5 491.6 124.6 681.6 113.5 671.4 114.1 487.5 112.3 565.2 111.5 515.3 120.1 527.8 121.1 517.3 128 512.7 122.1 669.7 126.1 540.5 134.5 527.7 112 530.2 131.6 558.4 123.5 688.7 128.6 504.9 123.3 697.4 130.8 504.8 129.8 564 124.8 495.8 117.6 684.3 134 554.8 113.3 543.8 130.4 529 126.1 521.1 111.4 491.7 112 538.4 124.8 573.8 111.3 560.7 133.5 677.5 120 560.6 113.1 505.5 127.9 551.7 126.4 555.9 127.8 484.3 121.6 551.3 117.2 489.2 125.9 524.8 115.5 515.7 134.7 669.1 125.9 684.1 128.5 537.4 127.9 565.9 124.3 688.6 119.7 539.3 122.1 517.1 134.7 689.8 116.5 533.9 119.3 489.5 126.9 521.1 115.8 556.2 131.7 691.4 114.8 525.7 113.6 492.1 120.8 684.2 133 522.3 133.9 703.3 125.2 517.1 128.8 559.3 116.6 537.3 127.9 509.7 120.8 561.3 118.1 691.4 131.3 559.3 124.9 510.6 122.4 689.3 128.1 682.7 113.4 593.4 131.2 679 128.4 676.1 132.5 531 116.7 582.4 128.9 500.8 117.4 553.1 117.1 508.1 132.2 669.7 126.8 490.2 124.9 670.1 125.9 531.4 118.6 584.8 129.4 528.3 113.2 541.6 111.8 617.5 125.2 624.8 130.8 696.8 123.9 511.9 118.8 670.7 112.6 530.7 118.6 522.5 125.5 529.7 116.5 483.6 124.8 528.4 117.8 527.9 124.1 543.1 127.7 565 130.3 494.3 122.3 682.6 117.7 500.9 120 700.8 119.4 590.7 124.6 545.6 113.6 518.3 114.7 552.3 122.1 545.5 114 481 113.5 485.9 122.1 547.5 128.5 512.8 111.6 488.5 122.8 562 121.5 701.2 114.7 560.2 128.6 544 116.4 688.6 119.9 683.9 118.6 687.6 127.1 525.4 111.9 548 123.3 485.9 125.6 488.4 117.4 700.3 134.5 486.7 115.2 662.3 131 492.4 125.6 691.9 117.9 504.1 131.4 495.1 114.9 499.2 133.6 544.8 132.1 517.8 122.6 674.3 119.1 700.4 118.6 562.9 131.2 488.2 115.8 562.4 119.1 559.7 118.3 562.5 120.2 557.6 123.1 688.7 132.8 524.5 114.9 552.2 126 571.4 134.4 518.4 113.7 690.1 119.7 533.6 116.9 537.4 118 584.9 129.7 513.1 117.6 692.2 113.3 592.8 128.6 590.1 125.4 509.4 129.3 677.7 121 687.9 128.8 503.9 116.7 544.5 130.8 492.5 129.4 562 121.7 528.1 112.8 497.2 127 512.1 119.3 594.7 112.7 520.4 114.4 583 121.3 585.2 121.6 668.7 124.7 555.6 130.7 494.8 111.4 507.3 120.5 527.6 133.7 699.7 126.6 525.1 127.6 557.2 111.6 528.6 113.2 570.3 127.2 519.7 122.4 542.5 121.2 541.7 124.1 539 134.4 692.2 127.9 599.3 131.3 555.2 132.9 508.6 112.9 531.4 133.2 520.5 113.2 687.1 131.4 506.7 134.6 538.6 116.9 555.9 124.5 532.4 130.7 497.5 117.5 531.7 119.5 683.4 120.5 492.4 117.6 488.4 127.7 671.7 113.7 587.6 127.9 534.5 123.5 561.7 113.4 568.9 125.9 531.6 113 516.7 119.5 549.7 125.2 556.4 120 551.8 122.7 508.1 114.9 547 123.9 685.3 130.5 490.2 125.8 521.1 120.9 674.9 121.5 507 128.8 558.6 129.7 510.2 133.3 534.9 125 564.9 129.1 552.7 115.8 690.8 120.7 701 130.4 567.3 132.1 551.3 131.8 696.5 112.8 559.1 131.2 675.6 128.6 557.9 115 525 112.7 692.9 128.2 539.3 118.5 554 134.8 566.4 122.2 575.4 125 537.1 114 697.5 123.4 564.9 123.7 529.6 131.3 505.1 130.7 539.9 126.8 670.8 126.2 686.5 130.8 537.7 124.2 590.4 133.8 540.2 130.5 672.2 119 494.3 115.1 499 114.8 601.9 118 564.8 116.3 507.2 119.7 526.2 121.3 695.5 120.3 549.8 124.9 590 126.7 680.8 127.5 683.2 122.1 551.2 125.1 530.5 113.2 688.6 128.7 543.8 133.1 511.7 121.3 540.3 124.7 675.2 118.8 553.1 123 522.7 119.5 678.2 113 503.4 128.3 589.4 125.6 671.7 128.3" fill="none" stroke="none" marker-start="url(#mx8c0888)" marker-mid="url(#mx8c0888)" marker-end="url(#mx8c0888)"/>
<path d="M529.9 108 499.3 94.3 508.5 92.4 510.6 95.1 695.9 90.3 508.5 102.6 506.2 107.7 538.3 96.2 527.1 102.3 492.9 94.2 548.9 108.2 486.7 98.2 697.1 94.3 546.3 104.9 537.2 108.9 503 98.2 699 90.7 514.3 109.7 538 104.4 715.9 87.9 486.5 95 533.4 101.5 539.8 108.2 491.9 98.9 497.3 107 511.9 99.5 514 109.4 495.5 98.2 514.3 95.3 516.3 107.8 539.7 97.3 682.3 107.2 688.4 93.4 487.3 105.5 688 92.3 532.3 108.4 510.9 110.1 493.9 101.4 552.4 107.2 534.3 108.1 699.3 98 492.8 110.5 493 98.7 494.1 92.4 535.1 105.7 675.6 92.2 505.4 99.3 488.2 93.3 703.1 94.7 684.2 92.6 676 109.8 517.5 100.8 520.8 97.8 495.3 88.6 503.3 109 507.8 92.4 697.4 93.1 540.3 106.8 692.3 100.4 495.1 102.8 692.1 93.5 535.8 103.4 714.9 92.4 674.2 88.2 551.9 106.1 530.3 96.5 492.7 90.4 484.4 94.8 545.9 110.9 516.8 100.1 534.6 100.7 524.1 96.5 546.4 99.2 488.3 103.3 514.1 102.8 706.4 93.6 690.4 100.8 490.2 93.3 511 93.9 540 108.3 529 98.1 545.5 108.4 538.1 108.7 538.2 109.6 546.2 106.4 707.7 97.9 499 101.7 512.4 108 548 101 489.9 100.1 678.7 103.3 487.5 95.6 677.1 109 505.8 97.8 695.5 97.2 490.7 101.2 502 101.6 514.3 91.1 495.2 92.4 710.6 88.9 487.6 91.4 493.4 103.9 533.2 105.4 684.5 91.2 692.8 98.2 696.5 100.4 479.6 104.1 526.5 102.1 498.8 100.9 499.7 94.2 531.8 101.6 478.4 109.3 674.6 88.7 686.9 91.6 501.6 89.7 503.7 88.8 529.6 106.8 522.1 106.7 535.2 110.1 513.4 98.5 530.7 107.9 534.1 106.8 486.1 95.1 496.9 95.5 509.5 109.4 494.1 97.2 491.8 106.8 528.6 101.1 522.7 110.2 489.7 100.2 500.8 96.6 664.4 88.2 552.8 108.4 552.7 107.3 545.6 102.4 694.7 104.1 683.7 93.8 536.9 102 703.6 92.3 513.4 111 554.7 101.5 498.9 99.2 708.4 89.3 553.1 105.4 482.9 102.1 498.9 97.3 696.3 90.8 487.4 100.6 507.1 99.8 485.7 101.5 704.6 99 502.4 108 526.4 95.8 695.4 96.6 498.7 109 689.3 107 715.4 90.8 536.2 106.6 517.1 107.5 693 107.6 698.4 106.5 543.9 110.4 542.9 103.5 531.5 99.9 498.2 99.2 492.6 92.4 527.9 109.8 685.6 94.8 515 93.3 492.3 107.2 514.3 96.8 492.7 104.8 486.9 95.6 515.9 94 704.7 100.5 485.3 91.1 544.5 104.3 557.9 109.1 496.4 99.3 493.9 106.5 484.6 101 527.1 110.2 684.2 100.1 708.5 95.7 484.4 106.7 499.3 109.5 543.4 110.9 676.7 105.8 697.8 96.4 508.6 88.7 708.9 93.8 516.6 104.3 557.1 106.5 498.6 107.9 497 101 521.7 88.1 539.3 106.2 692.2 106.5 496.5 93.6 701.9 94.1 489 92.5 530.7 99.4 677.2 106 533.2 100 688 89.6 676.1 92.1 510.5 106.6 705.7 89 486 102.3 688.7 107.9 718 93 515.3 101.1 500.3 97.4 496.9 89.8 698 102 676.3 104.4 547.2 102.5 531.9 109.9 677.8 104.2 702.4 89.9 706.1 89.5 530.5 99.6 531.1 99.1 498.6 100.6 516.4 103.8 559.6 107.9 506 107.1 499.2 88.8 510.1 100 512.1 98.3 504.8 90.9 492.3 108.8 496.4 106.3 707.5 89.7 548.8 108.7 483.8 97.6 502.4 106.5 516.5 103.9 685.8 97.3 515.9 105.9 703.5 94.1 521.6 95 493 90.8 709 88 705.1 99 485.3 95.8 517.5 94 523.5 107.9 522.6 96.5 531.2 103.6 496.5 95.2 684.1 103.6 691.9 87.6 485.1 91.5 697.2 91.6 678.5 97.6 548.3 105.3 483.8 96.7 510.6 107.8 707.7 92.9 503.8 110.5 678.2 87.9 521.3 98.1 531.9 98.5 695.3 96.9 495.2 106.8 502.4 96.4 687.4 93.7 697.4 89.9 487.1 107.5 482 109 539.2 102.7 526.3 110.4 509.5 106.5 539 109.4 506.5 87.8 494.3 95.9 687.3 111.1 531.4 110 690.6 96.2 505.6 96.9 484.9 93.2 512.4 104.4 490.8 110.8 538.3 103.3 495.2 100.5 521 93.7 526.9 98.7 554.2 105.3 513.8 91.5 519.6 92.3 515.2 107.9 485.4 109.7 494.8 100.9 499 97.8 554.6 107.8 684.3 94.7 497.1 90.1 494.7 108 540.3 100.5 484.7 105.1 697.6 110.6 489.1 102.5 507.2 92.5 481.8 99.7 509.2 105.1 530.8 102.4 688.8 101.4 521.7 97.9 554.8 107.7 699.3 98.8 672.8 88.1 683.4 110.6 534.5 100.2 541.1 97.8 505 90.4 499.1 110.4 527.3 100.4 682.9 90.1 716 88.6 556.1 107.1 711 98 505 97.3 483.8 106.6 712.6 91.2 677.6 93.2 678.1 106.8 484.8 95.7 692.9 100.3 498.9 93.4 499.1 93.8 519.8 111 674.5 87.8 701.2 98.8 518.2 92.9 712.1 92.3 542.7 105 513.6 99.2 521.4 107.5 697.2 89.2 704.6 100.9 486 109.1 538.6 101.6 556.6 108.9 491.3 94 506.9 90.1 502.4 104 534.3 100.9 707.5 89.5 505.8 97.8 497.1 101 487.9 99.5 494.4 101 718.5 90.4 539.2 102.5" fill="none" stroke="none" marker-start="url(#mx660baf)" marker-mid="url(#mx660baf)" marker-end="url(#mx660baf)"/>
<path d="M583.2 148.6 513.5 136.2 671.8 136 682.3 142.7 595 143.1 665.1 152.3 678.8 147.9 544.9 144.3 682.6 156.6 536.1 139.7 662.2 144.1 580.5 154.8 532.9 148.2 659 157.2 551 136.5 518.8 140 618.9 139.9 678.1 149.9 686.2 148.6 544.5 140 661.4 135.8 536.4 138.1 558.3 143.5 624.9 157.4 653.5 157.3 687.6 139.1 532.9 137.2 580.6 146 656.8 151.2 678.8 143.9 657.4 155.8 545.1 141.7 542.6 146.5 515 134.9 516.4 141.2 539.5 149.1 662.2 154.8 648.9 158.1 666.5 147.7 691.1 135.2 666.9 140.6 688.4 150.1 628.7 155.2 558.7 141 552 140.6 671.2 157.9 532.2 144.2 590.5 143.2 671.6 157.7 663.3 140.4 662.1 150.2 632.7 151.6 532.4 142.1 556.1 142.1 661.8 142.3 665 140.6 658.8 156.5 675.7 156 613.5 148.8 564.5 142.5 666.5 144.4 531.6 137.5 557.9 140 535.9 145.1 658.8 156.1 534.4 144.2 675.6 154.7 662.2 153.4 677.8 158.2 510.3 136.5 679.5 140.4 614.7 144 555.7 144.9 683.3 141 682.8 150.7 670.5 154.9 666.5 147.4 615.1 154.7 547.4 135 558.9 144.1 593.8 138.4 684.8 137.3 626.8 156.7 687.3 149.7 672.9 141.5 680.6 142 610.7 156.2 680.2 146.5 589 149.1 607.1 141.2 593.2 147.8 547 138.5 607.8 157.7 658.9 147.4 578.1 144.5 666.7 147.4 620 151.3 649.5 156.8 544 145.5 606.3 139.4 575.5 136.7 667.6 139.1 522.1 139.2 538.6 139.3 659.5 150 548 142.8 510.2 135.4 536.8 135.5 627.8 151.1 548.4 141.8 656.8 152.2 672.2 149.3 688.7 139.5 661.8 151.2 598.1 157.8 560.3 138.2 525.9 150.8 682.8 152.2 535.6 135.7 668.1 148.8 570.5 135.8 603.5 151 517.5 138.3 624.7 150.3 666.5 136.2 567.6 134.9 680.9 156.3 680.2 151.5 548.3 142.8 579.7 153 580.3 153.6 503.4 136.3 680.8 140 685.9 142.3 674.6 155.9 673.6 143.4 571 140.8 543.1 137.9 630.9 155.2 558.3 142.4 538.4 140.9 543.6 137 596.7 140.1 554.3 135.2 560.7 141.7 664.7 143.1 560.9 139.9 684 136.6 693.7 141.2 590.9 150.2 530.2 135.1 540.1 143.6 535.2 139.4 573.2 146.7 513.9 136.5 670.7 137.8 559.5 137.9 611.7 146.7 610.7 143.6 661.4 153.8 540.1 145.4 628.7 152.7 667.5 148.2 662.4 139.7 681.5 149.6 591.6 155.2 604.6 136.3 602.8 145.9 574.6 137.7 666.7 136.4 591.9 146.3 547.8 141.6 602.9 158.2 673 155.2 608.2 153.2 521.9 135.7 656.3 156.5 608 157.4 664.7 155.7 637.2 154.5 536.7 142.5 548.5 143.6 577.9 152.5 582.3 145.4 661 144 554.1 141.6 616.5 138.6 516.8 139.5 584.4 139.3 594 137.9 514.4 138.3 655.8 149.2 548.1 137.5 670.3 151.9 592 137.6 575.2 143 565 135.5 667.8 136.1 656.5 136.9 520.8 143 667.1 138 672.9 150.5 528 147.4 596.7 137.3 666.4 152.5 675.1 158.1 548 136.1 671.6 157.3 648 158.1 668.8 136.8 564.9 138.1 522.7 138.2 618.4 154.2 530 140 539.8 144.9 686.2 141.3 624.7 157.9 671 137.2 585.8 135 693.6 136.5 538.8 137.7 625.5 155.6 677.2 135.3 647.7 156.7 667.4 154.7 648 157.3 620.7 149.8 661.7 154.5 562 140.4 586.6 148 635.3 157.4 668.4 154.7 672 136.4 554.5 142.3 623.3 158.3 530 138.9 512.7 139.6 652.1 157.8 540.7 136.7 552.6 140.9 569.3 136.8 604.8 148.6 634.5 153.3 678.1 146 680.2 148.1 605.3 136.5 667.8 137.4 660.3 156.6 656.8 146.9 678.2 155.3 601.1 134.9 692.1 141.3 556.7 139.1 683.3 144.8 547.2 137.4 673.5 137.8 631.6 150.9 558.1 141.3 655.2 151.5 534.2 140.5 591.1 155.4 660.7 140.9 502.6 136.2 668 141.1 547.7 139.3 673.7 148.5 679.1 155.9 657.5 156.2 687.7 137.6 636 151.9 601.6 146.9 557.4 137.6 517 136.6 678.4 141.8 533 146.4 687.6 142 574.6 149.2 681.9 139.6 625.2 157.3 659.4 145.5 575.8 142.7 603.8 148.4 666.2 155.7 546.8 142 566.4 136.4 562.8 139.2 663 146.5 559.1 138.9 657.4 138.2 621.6 149.8 617.2 146.7 666.3 149.5 657 157.9 584.4 144.6 553.8 135.9 526 135.5 690.5 136.7 599.4 137.9 574.4 150.5 666.9 148.9 578.4 149.9 683.5 150.1 658.9 158.2 623.9 156.5 526.3 135.1 692 136.3 533.4 138.7 628.4 152.4 689.2 145.5 522.4 139.2 517.7 141.2 589.5 153.2 610.8 154.7 667.8 151.8 680 158.2 585.4 141.9 538.8 148.7 538.6 142 679.2 142.4 581.3 138.8 562.5 141.8 689.5 139.2 564.6 135.6 660.4 156.2" fill="none" stroke="none" marker-start="url(#mxb30560)" marker-mid="url(#mxb30560)" marker-end="url(#mxb30560)"/>
<path d="M554 134.7 573 123.3 517.2 118.9 551.7 111.6 482.3 121.8 539.8 132.6 536.7 121.1 539.4 116.2 500.1 111.3 497 128.5 558.3 122.3 703.5 113.5 516.3 130.1 541.2 126.8 510.5 125.7 491.6 125.2 525.3 128.1 520.6 112.6 696.3 114 494.9 115 550.5 122.4 523.2 111.3 563.7 134 569 126.3 552.2 112.8 534.9 115.6 511.2 122.1 523.2 129.6 491.6 130.7 541.5 116.4 516 112 536.5 115.3 567.2 121.7 685 128.6 506.6 114.2 500.1 121.1 675.7 115.6 504.1 119.3 608.3 123.2 667.7 127.2 678.2 118 544.8 130.6 529.1 127.5 681.8 115.7 674.9 115 527 123.9 506.6 115.8 532.8 132 702 111.6 506.4 128.7 519.9 129.3 695.2 118.8 676.7 122.1 672.8 116.3 510.5 124.2 679.4 127.9 542.9 125.4 504.5 122.1 669.4 132.1 591.3 134.3 560.2 118.9 690.3 114.4 610.2 128.2 524.2 112.4 693.9 118.1 516.3 125.8 564.4 115.8 510.3 114.8 578.9 122.1 508.9 123.2 527.9 132.3 569.6 130.7 532.5 123.6 701.1 126.8 509.7 133 533.5 118.7 595.7 127.6 546.4 120.2 495.1 130.6 505.7 119 672.3 127.1 698.8 118.6 525.2 125.1 551.5 117.8 530 111.5 695.7 125.1 496.4 120.1 553.5 122.3 510.5 133.9 677.7 132.1 501.7 133.4 512.1 122.2 565.6 127 545.1 131.4 583.5 113.4 556.7 122.1 569.9 124.3 695.6 113.6 487.9 112.5 561.5 133.6 506.6 123.1 487.3 115 514.9 123 699.2 116.2 571.6 129.8 490.3 122.4 563 131.5 508.2 119.2 530 117.6 542.1 132.7 532.7 131 519.2 133.6 543.6 117.4 685.7 112.5 502.8 134.4 529 113.5 531.7 115.3 523.6 127.7 544.6 114.3 526 125.6 518.4 124.1 566 130.3 479.1 115.1 541.3 130.6 699.9 124.8 548.1 112.1 610.2 126.5 700 115.1 518.5 112.3 507.2 118.9 513.6 131.2 513.6 130.8 487.3 122.3 526.6 130 537.3 115.1 578.9 133.8 489.6 118.4 563.1 122.3 528.2 113.6 520 119.7 527.9 113.5 484.2 118.9 489.7 118.7 551.7 128.7 517.8 134.2 693.3 121.8 699.5 123.5 664.3 130.2 671.1 114.6 687.1 133.3 513.1 133.3 524.8 124.2 680 132.6 524.9 125.1 687.8 126.2 552 127.3 554.7 120 499.8 126.8 525 123.2 682.8 126.1 564.4 134.7 560.1 128.1 667.6 129.3 686.6 123.1 574.6 113.9 525.5 127.1 669.7 125 486.8 127.6 544.2 132.2 493.1 116.9 509.3 119.3 510.4 120.9 508.5 115.3 505.8 121 695.6 126.3 535.2 112 546.1 127.2 698.4 125.8 582 124.4 532.3 126.7 554.8 122.6 542.6 119.4 523.4 120.5 682 120.1 697.3 126.7 495.5 130.9 480.8 114.5 509.8 118.5 704.2 119.5 565.9 122.2 693.9 127.7 683.4 113.6 702.6 116.4 483.6 124.8 552.6 119.3 562.4 120.6 569.8 124.9 505 123.4 549.7 116.7 539.7 114.8 526.9 116.6 679.1 115.7 506.2 127.8 497.4 122.4 515.4 111.6 558.7 134.2 542.2 132.1 533 115.9 570.7 132.6 688.8 123.6 511.7 130.5 521.3 117 563.2 134.1 538.6 120.5 696.7 130.9 542.8 131.3 604.1 131.9 504.3 120.5 543.8 127.6 486 122.8 539.5 132.8 567.3 125.8 673.9 122.8 681.9 113.5 675.4 122.9 693.1 114.4 664.4 130 541.5 118.7 496.4 121.9 670.7 128.8 696.3 124.5 516.6 121.8 524.4 128.7 524.4 129.7 485.6 120.3 532 121.1 557.6 122.8 512.7 127.2 537.3 117.9 549.6 122.4 564.6 119.5 525.9 123.3 497.3 130.2 512.8 131.9 544.1 125.3 553.6 112.5 612.8 120.6 562.9 134.3 501.6 121.5 544.4 127.5 702 124.5 561.4 134 584.8 128 550.7 119.4 537.8 124.6 675.4 131.5 566.9 123.4 541.3 126.4 591.8 130.4 690.2 128.6 698.7 131.8 582.4 130 521.6 111.7 564.2 118.7 665.6 124.4 488 122.7 589.6 123.4 564.3 117.7 568 130.9 479.4 114.4 557.4 132.9 560.5 118.3 566.1 134.5 496.2 115.9 691.4 119.2 513.9 132.5 544.9 122.2 524.1 133.1 485.3 124.1 566.9 133.4 567.3 123.5 599.1 133 694.6 112.8 703.3 123.1 670.6 126.7 486.3 126.7 672.5 128.9 556.9 115.6 597.5 121.6 560.3 127.5 544.6 127.6 672.9 114.4 552.8 127.3 546.3 123.5 614.6 122 518.2 133.3 683.4 113.7 555.3 132.7 509.5 120 500.2 111.5 528.5 117.5 558.5 112.9 534.6 125.1 572.1 122.9 511.3 131.7 491.8 120.1 554.5 119.3 670.6 130.3 591.8 133.7 514.4 121.2 681.8 113.2 694.5 134.1 697.1 121.8 565.8 117.9 500.2 126.6 528.3 113.4 552.3 132.7 683.8 129.1 694.3 127.7 671.8 115.7 502.8 126 527.3 133.6 486.6 124 552.1 118.2 661.5 126.4 564.7 112.8 690.4 127.1 538.1 124.2 537.6 125.4 549.6 116.1 485.9 120.1 678.5 119.1 683.6 122.8 508.2 113.8 567.6 132.4 492.8 122.7 511 112.1 544.1 113 544.4 133.6 544.8 130.4 567.7 122.9 519.7 126.8 581.3 124 528.3 116.6 687.1 112 486.6 128.2 665.4 128.5 556.8 130.7 548.8 121.4 527.7 117.2 518.7 117.4 522.6 127.4 572.6 129.2 533.1 121.1 532.8 126.5 546.6 120.9 495.3 126.1 679.1 132.8 485.4 119.5 542.2 134.5 551.6 119.1 697.3 133.1 552.6 124.6 669.6 114.2 685.1 133.2 563.9 117.9 624.7 131.7 537.9 113.4 580.3 120.7 539.2 113.9 507.4 130.1 531.3 123.9 575.5 120.8 524 112 531.3 114 491.1 112.3 686.9 127.4 509.1 117.3 496.7 117.3 521.5 120.4 563.3 129.9 562.1 120.8 517.5 112.8 539.5 134.4 499 120.8 563.6 116.9 560.8 131.7 486 122.5 670.9 122.2 549.7 121.6 557.7 117.8 514.5 124.2 542.2 123.5 563.4 127.4 693.3 128.9 561.9 129.5 490.7 115.6 534.8 111.7 563.2 119.4 554.9 132.9 698.3 129.6 524.8 116.7 591.7 128.2 504.3 112.2 689.4 115.9 560.3 128.2 542.4 128 506.6 115.3 511.6 129 542.4 117.1 537.8 122.5 568.3 133.8 533.5 127 514.4 131.8 517.3 115.5 549.7 133.7 538.7 120.3 557.5 115.2 495.1 121.4 530.6 124.2 606.3 115.9 514.1 126.3 559.2 124.8 516.2 128.6 521.2 115.8 521.5 131.9 503.5 123.4 547.9 111.8 685.3 122.2 540.6 122.7 484.2 111.6 551.9 130.8 535.4 133.9 566.6 117.1 529.4 118.8 512.4 123.7 519.5 114.5 522.7 112.4 527.5 132.3 681 112 699.5 116.1 582.4 134.5 537.3 127.8 518.1 121.5 691.2 122.5 524.8 134 682.6 128.1 481.8 111.8 530.5 116.4 532.6 134.4 533.5 121 481.8 122.7 490.8 117.2 516.8 131.9 542.8 131 564.1 129.5 497.9 125.5 695.9 131.9 560.2 118.6 532.8 134.4 497.6 120.8 598.2 125.5 560.3 117.2 537.4 131.3 535.3 119.4 566.5 127.8 525.4 123.3 487.9 115.9 519.2 131.2 685.1 122.6 511.2 127.6 691.3 121.7 503.1 118.4 490.2 117.5 515.9 127.2 563.2 133.8 562.1 120.6 481.9 112.5 574.9 120.1 515.7 112 525.2 133.5 670.3 129.7 554.4 119.6 516.1 122.3 544.3 122.5 560.2 132.4 522.2 133.8 492.6 116.6 584.5 133 673.7 114.4 664.2 129.9 495.8 131.5 572.6 133.9 548.4 132.1 700.5 112.2 677.7 127.3 510 113.3 593.2 128.2 553.5 123 689.9 128.6" fill="none" stroke="none" marker-start="url(#mx8c0888)" marker-mid="url(#mx8c0888)" marker-end="url(#mx8c0888)"/>
<path d="M521.5 101.8 492.9 92.3 517.8 104.2 683.7 91.7 700.9 103.7 540.2 103.8 517.2 110.9 482.7 103.9 503.5 110.4 698.4 88.1 707 90.1 556.6 107.8 496 92.3 503.7 107 474.5 92.7 679 104.5 497.3 98.3 520.5 98.3 697.1 98.5 541.8 108.8 682 89.1 499.8 101 504.5 88.2 495.1 107.9 507.8 101.1 686 103.1 714.9 87.8 504.9 104.3 690.1 93 699.9 96.7 548.8 100.3 487.9 110.4 510.5 92.4 676 110.2 503.8 95.2 533 107.6 689 102.3 492.5 110.9 691.6 100.7 558.5 109.1 529.3 103.6 669 87.8 507.8 87.8 529.6 108.2 676.4 105.3 516.2 96.5 540.3 104.4 544.3 106.9 701.7 95.1 507.4 103.2 502.1 101.9 687.3 95.1 497.2 88.8 702 93.9 691.6 93.4 528.1 105.3 504 97.6 481.9 97.8 485.2 101.3 687.7 104.9 506.4 109.1 708.5 94.5 484.5 94.3 688.8 102.4 687.7 94.3 716 90.2 535.1 109.3 521.4 96.9 506.3 106.4 690.9 100.4 542.8 101.1 687.3 90.8 549.9 106.5 531.8 100.6 512.3 92.1 672.7 110.5 491.9 109.9 524.6 97.4 489.9 91.6 697.4 94.2 691.6 100.7 549.2 109.5 487.9 92.4 710.4 98.8 678.1 90.6 694.2 99.2 508.8 92.4 569.4 109.8 523 99.1 688.7 92.1 696.8 93 501.7 97.1 489.3 95.6 688.7 98.1 671.8 111.1 700.2 99.1 501.2 101.1 691.4 97.1 549 106.5 482.9 109.3 493.6 93.4 495.5 96.7 540 100.4 502.7 95.6 490.8 100.8 514 97.4 493.4 104.7 500 97.4 509.5 104.3 513.3 96.5 530.1 101.6 508.7 99 515.3 90.8 513 105.7 680.1 101.6 499.7 104.6 698.9 91.9 708.2 87.8 531.3 106.8 518.3 98.9 677.7 94.3 503.5 104.2 485.2 109.3 513.8 101.9 495.1 109.4 505 99.7 528.3 104.5 501.1 110.5 685.8 90.3 536.9 108.6 491.5 99 682.6 110.9 695.9 103 486.7 100.1 478.3 102.5 679.9 89.2 539.7 101.7 517.4 93.7 559 110.1 515.2 105.3 697.3 97.4 544.7 103.4 703.9 90.8 700.3 90.3 482 103.3 690.4 90.6 505.6 90 681.7 96.1 712.2 91.6 512.3 95.3 523.2 107.1 513.5 100.7 531.8 98.7 678.1 90.8 480.3 100 695.5 96.1 513.4 94.6 689.5 89.2 539 106 685.5 94.9 505.6 95.4 688.4 102.9 512 95 553.4 109.5 499.2 94.4 485 97.4 553.4 109.3 513.3 101.2 545 102.9 508.5 104.7 536.8 100.4 685.1 96.8 518.9 108 505.4 98.7 522.1 93.9 500.4 107.3 489 92.2 707.4 97.4 561.5 102.8 684.7 91.3 699.6 93.5 678.4 105.9 496.1 88.7 502.8 93.3 698.2 101.8 508.9 94.2 539.2 106.4 491.4 98 491.8 94 527.9 105.7 697.4 95.2 501 104.4 692.5 102.4 702.3 89.7 525.6 107.8 553.4 104.3 516.3 103.8 484.1 99.8 696.1 105.2 716.6 90.3 528.4 104 494.3 95.5 513.8 90.8 696.2 92.7 485.4 104.5 581.3 109.4 708.1 95.8 510.5 106.1 490.8 100.4 688.9 106.5 490.2 110.8 527 99.1 714.9 94.2 721.4 89.1 500.2 110.9 499.9 93.2 700.5 97 687.8 96.9 545.5 102.8 509.6 94.3 509.9 99.4 716.8 88.5 510.9 99.5 527 102.8 531.3 110.3 496.4 104.6 500.4 103.2 680 110.4 487.9 110.2 535.9 110.5 510.8 94.9 511.9 102 479.4 107 488.5 91 675.4 90.1 557.7 107.9 496.1 99.7 688.7 94.3 675.5 111 516.4 92.2 685.9 106.8 703.3 91.8 515 89.8 501.9 109.6 686.2 99.7 682.9 94 675.7 108.7 674.6 92.6 489.9 107.3 531.4 98 520.1 109.9 494.6 111 680.7 91.1 700.7 99.9 524.2 108.8 510.8 89.3 504 91.5 494 100 684.8 110.2 512.9 95.8 524.7 104 683.3 94.3 516.9 103 681.2 101.4 690.1 92 493.3 93.4 502.9 99.8 683.8 95.7 489.6 111 686.8 91.2 493 93.1 551.4 109 496.3 89.9 541.7 105 519.5 106.9 510.6 110.4 505.3 105.3 511.3 110.3 478.5 108.1 487.5 109.8 532.5 97.9 522.5 108.9 505.1 92.5 501.2 95.1 489.7 101.7 691.5 105.8 688 101.6 516.3 95.3 495.2 100.2 517.5 109.4 548.7 109.4 692.6 104.1 483.6 100.9 707.7 90.7 715.7 94.1 700.1 109.4 525.6 92.1 510.5 105.3 704.8 99.8 714.7 93.5 674.2 88.3 513.1 96.1 538.4 108 503.3 90.2 710.3 96.2 489.3 97.2 512.4 94.6 682.9 88.3 517.6 92.1 518.2 95.3 544.6 108.5 692.7 110.4 691 90.1 703 89.5 689 94.6 682.8 108.2 700.8 93.9 488.6 97.3 485.9 104.3 510.1 92 702.9 107 515.2 99.1 490.3 108.8 708.1 97.7 691.1 98.3 536 102 689.4 88.4 540.9 107.3 498.7 96.3 515.9 97.8 683.8 110.9 539.3 102.4 543.4 101.3 495.1 101.7 692.3 101.5 489.6 96.3 504.1 110.1 510.7 91 709.6 90.9 697.1 89.9 525.2 105.4 527.7 103.1 698.7 108.5 699 88.5 711.5 93.5 721.5 90.3 678.2 110.3 481.7 103.2 505.7 99.5 496.5 103.3 495.8 102.2 551.3 106.6 686.9 98.9 518.2 108.2 672.5 88.6" fill="none" stroke="none" marker-start="url(#mx660baf)" marker-mid="url(#mx660baf)" marker-end="url(#mx660baf)"/>
<path d="M668.3 196.8 652.7 190.7 649.2 197.3 655.7 196.8 649.7 197.3 650.6 187.1 651 192.2 643.3 183.1 640.5 189.3 657.1 183.4 654.6 183 673.1 186.3 662.2 191.9 651.5 187.7 666.8 198.7 641.9 184.6 678.2 187.7 676.2 183.8 643.4 188.2 635.8 182.8 639.8 183.4 676.9 183.7 653.4 196 662.8 187 667.8 200.9 670.5 189.9 654.5 194.3 660.8 182.9 657.4 187.7 665.2 197 655.4 184.6 657.1 198 649.8 185.8 657.4 189.7 650.2 196.1 646.1 190 653.5 187.4 642.2 184.2 663.9 193.5 654.8 186.9 663.6 183.3 666.9 198.8 646.6 188.8 649.4 202.5 668.1 194.9 677.6 189.1 648 182.6 675.3 183.6 669.8 192.4 649.5 193.9 654 189 667.6 187.5 674.1 189.5 673.4 184.7 647.4 186.9 646.1 191.6 662.1 182.7 672.6 184.8 659.5 196.3 675.7 191.4 646.3 193.4 645.2 184 639.7 187 670.2 182.2 653.7 192.7 654.4 188 659 186 652.7 189 674.7 187.1 659.8 189.2 669.4 182.4 646.6 203.1 655.5 190 665.7 198.1 648.3 184.3 675.1 184.6 664 194.6 672.7 186.5 668.9 187.8 672 191.8 655.5 186 653.7 196.8 672.5 182.9 678.2 183.6 644.6 191.1 646.7 184.6 665.1 187.5 665.9 185.8 650.1 193.5 662.3 182.8 656.5 188.6 669.5 192.8 649 202.6 667.1 189 658.4 184.5 650.6 185.8 659.3 195.3 649.1 183.1 652.6 182 669.8 190.1 659.4 183.1 655.5 191 671.9 183.2 648.7 196.7 666 199 668.2 191.4 662.7 195.8 648.8 182.5 676.2 190.3 650.1 184.4 656.5 187.6 643.8 183.9 668 189.2 660.2 193.7 673.3 184.9 655 195.6 646.6 191.1 656.5 189.9 665.5 190.8 677.8 183.3 672.9 190.9 631.7 187.2 649.3 194.7 662 195.3 629.1 183.2 670.7 186.9 672.8 184.7 656.7 182.6 645.1 190.9 643.7 188.1 654.6 186.1 664.5 193.9 648.3 185.6 661.9 194.7 654.9 197.9 656.7 197.7 670.7 185.7 661.1 185.2 652.7 193.6 661.7 194.2 672.8 189 654.5 188.5 641.8 185 653.5 193.4 660.6 182.2 632 182.8" fill="none" stroke="none" marker-start="url(#mxff0010)" marker-mid="url(#mxff0010)" marker-end="url(#mxff0010)"/>
<path d="M686.2 120 535.8 111.2 698.2 127.1 513.7 120.8 579.6 130.3 560.4 122.6 505.5 126.9 682.9 123 486.6 113.8 531.1 112.4 503 120.8 697.9 131.8 687.9 112.6 520.5 123.2 491.2 115.8 561.5 122.7 506.7 119.4 684 119.7 671.5 125.1 494.4 124.5 559.4 134.3 564.5 130.3 565.3 120.6 525.6 132.2 517.9 117.8 537.1 121.5 512.3 130.9 519.8 134.4 548.1 118 518.7 124.8 499.5 127.1 495 131.7 582 123.4 673.1 117.6 533.6 111.9 519.7 127.2 557.9 130.1 545 114.9 671.6 122.2 701.3 115.5 564.2 133.9 561 121.4 484 118.2 681.4 127.4 547.3 130.6 537 116.7 694 131.9 494.9 128.2 558.5 122.2 561.7 125.5 511.3 130.8 702.6 115.3 701.1 114.8 501.5 123.2 522.3 128.6 554.5 123.7 522.5 114.9 542.6 133.4 483.1 121.1 693.8 117.3 523.2 115.8 580.6 122.5 550.4 114.1 508.2 117.8 539.1 119.3 555.4 112.6 486.5 124 534.7 124 679.9 121 506.4 122.4 539.3 115.8 511.3 118.2 548.9 125.7 514 133.2 554.7 116.3 704.2 121.1 691.1 115.8 559.2 120.3 552 120.1 675.8 128.3 678.4 115.8 669.9 113.9 677.4 124.7 693.2 118 607.4 133.5 540.4 118.6 655.8 133.1 518.8 130.3 672.2 122.1 562.5 123.3 576.2 123.3 562.5 111.8 545.6 134.1 501.1 113.5 531.9 127.6 491.7 116.6 692.1 131.4 507.3 115.5 535.9 131.6 621.7 129.9 540.2 126.3 515.5 130.1 537.1 133.3 558.2 127.4 596.8 126.5 504.5 119 521 129 572.6 131.7 692.7 127.9 523 118 563.3 118.1 504.6 111.5 555.6 114.7 512 119.6 521.8 119.4 610.7 134.1 680.1 129.4 518.9 126.6 538.7 118.2 561.4 124.8 697.6 132.7 517.2 125.9 526.4 122.7 489.6 119.6 681.3 133.5 581.1 129.3 550.8 111.7 563.9 126.9 508.4 120.7 515.1 128.6 607.3 126.4 532 116.9 518.1 121.5 521.4 115.6 686.2 120.2 545.6 123.3 551.4 119.8 506.3 130.5 499.4 132.4 516.2 123 493.8 112.5 510.8 117.2 503.9 124.4 505.9 124.6 695.6 125.9 558.6 115.4 504.6 114 666.8 133 566.5 130.6 568.8 122.5 523.2 122.3 553.3 130.7 543.7 133.7 674.5 127.7 615.1 122.7 687.2 122.8 560.1 123.2 683 119.2 674.2 119.4 666.9 128.9 689.5 122.9 563.5 134.2 559.6 128.2 551 128.6 678.1 129.5 675.6 129 518.8 123.1 519.9 133.8 664.7 124.3 534.9 112.4 547.6 129.2 524 134.2 488.6 112.2 484.7 115.2 550.9 131.4 585 130.1 521.3 118 496 125.6 547.9 126.3 614.7 131 483.1 125.1 670.9 134.4 674.2 123.6 474.9 120.4 551.2 130.7 532.4 115.1 550.1 122.5 562 126.6 546 125.1 483 114.2 506.5 134.6 669.7 122.5 491.7 116.6 543.3 129.5 554.3 124.2 569.3 134.7 523 121.2 541.5 126.6 556.1 134.1 490.6 125.7 558 127.5 561.9 126.8 484.2 122 558.2 133.3 565.4 128.4 559.3 116.6 500.6 116.8 545.4 123 594.1 117.9 523.6 132.5 515.8 126.4 687.4 119.9 534.3 117.4 524.1 119.6 556.9 134.4 506.6 125.9 497.2 129.2 546.5 129.9 702.3 117.3 677.4 118.7 516.3 127.5 699.7 121 498.1 118.7 533.3 111.8 504.5 131.2 530 117.3 482.7 124.2 527.4 115 666.2 128.7 491.6 116.2 486.9 121.4 511.5 113.3 482.7 112.9 669.2 131.1 562.7 123.2 487.8 129 680.7 117.6 678.5 113.5 533.6 121.1 531.2 127.5 559.2 124.2 692.4 111.7 690.4 131.3 487.6 121.5 542.4 125.3 573.1 126.4 544.6 113.6 532.1 123.8 691.6 118.4 694 133.6 672.5 113.7 551.6 134.1 566.2 124.3 509.9 119.8 539.1 123.7 547.1 119.6 540.5 128.6 538.2 113.4 557.1 123 565.8 129 517.6 116.1 567.5 125 566.8 130.3 499.7 111.4 487.5 126.3 550.3 121.3 495 116.8 696.1 128.5 492.1 122.7 520.2 117.8 491.2 129.4 491.3 117.6 549.5 115.8 479.9 114.4 550.7 115.2 504.3 116.2 691.7 132.8 584.5 132.8 564.5 117.8 550.5 131 519.1 127.8 480.7 114.1 512 122 541.5 112.4 526.1 113.9 513.1 133.5 485.2 119.3 482.8 121.7 507.9 117 562.5 120.3 493.2 126.6 486.8 129.5 510.9 124.6 598.6 127.5 533.4 118.1 535.8 112.1 669.5 133.4 513.2 127.7 515.4 122.7 700.1 125.9 525.9 126 531.5 113.7 504.9 127.9 492.5 112.1 686.5 118.8 520.5 130.2 566.2 134.4 683.9 130.3 676.3 128.5 525.8 125.6 516.2 126.9 524.6 124.8 541.5 111.7 671 117.5 681.9 113.6 548 121.5 502.2 114.3 551.4 126.7 688.5 117.5 626.2 131.4 689.5 118.9 496 113.3 685.2 113.4 506.8 117.9 485.2 118.1 495 117.2 605.9 123.7 501.6 130 554.5 134.5 567.3 133.9 549.1 120.8 531.6 131 543.3 127.4 512.5 131 502.8 123.9 509.9 111.8 513.9 121.8 696.8 128.2 547 125 503.8 126.5 571.5 126.2 549.3 126 502.3 124.4 669.4 120.6 584.4 126.4 556.5 115.7 623.3 120.4 530.5 113.6 543.5 130 537 115.7 589.8 127.7 530 126.9 565.5 133 506.9 128.8 543.8 117.5 545.7 111.7 551.5 125.2 536.9 134.3 561.8 114.5 502.7 123.7 537.7 121.9 673.7 122.5 560.8 125.4 687.3 112 542.3 128.6 556.3 113.2 693.8 130.8 560.6 112 556.3 116.9 504.4 124 548.7 126.1 489.7 124 509 118.6 490.7 113.7 484.3 120 661.1 130.4 697 124.5 566.6 120 508 126.6 549.8 129.2 545.9 133.7 487.1 115 697.2 130.9 699.5 117.9 690.7 127.3 498.3 117.8 683.4 112.6 664.5 130.2 526.7 129.1 567.8 134.6 497.3 112.1 532.4 121.1 557.8 132.5 526.6 114.9 567.9 123 569.2 129.2 566.8 130.7 533 113.9 536 112.4 665.9 130.8 576.1 125.6 497.5 118 690.6 118.3 545.1 115.2 532 129.4 665.9 128.8 667.1 121.2 684.6 112.8 535 125.5 515.6 133 491.4 113 530.2 131.8 533.5 114 496.4 111.3 679.3 120.1 673.5 113.6 543 122.2 519.1 129 687.2 128.9 526.1 125.2 664.6 126.5 668 123.9 497.7 118.1 699.9 123.1 682.3 113.5 668.5 133.5 527.6 111.6 680.3 114.8 514.5 113.8 663.5 130.8 679.4 117.2 559.1 134.4 504 118.9 516.7 133.7 666 129.4 691 129 506.5 115.3 528.1 126.4 495.2 129.2 549.4 133.4 544.9 117.9 507.7 119.5 512.9 126.7 527.1 114.7 530 119 552.1 129.9 495.6 118.3 512.9 121.4 498.3 129.3 681.3 111.2 573.8 127.4 697.7 114.8 568.5 118.3 688.2 128.3 480.7 118 667.3 130.2 531.5 127.2 580.2 123.8 530.4 134.4 549.2 124.8 668.8 130.4 536.5 113.7 492.4 128.9 517.7 124.2 506 114.9 496.2 130.4 666.8 120.7 504.4 112.8 584.3 133.1 671.1 128.5 698.9 121.4 694.8 119.2 553.8 113.5 567.4 116.6 699.3 121.8 564.6 121.5 593.8 128.3 562.5 133.7 673.6 131.1 680.7 119.1 504.3 119.2 600.1 127.9 685.8 126.8 538.6 128.9 695.4 112.7 533.7 123.7 480.4 114.8 535.8 132.4 695.5 116.4 517.6 113.7 510.6 118 529.9 128.4 544.6 116.3 477.1 113.6 503 111.7 666.8 129.6 681.3 124.1 508 121.9 564.2 118.2 500.5 125.3" fill="none" stroke="none" marker-start="url(#mx8c0888)" marker-mid="url(#mx8c0888)" marker-end="url(#mx8c0888)"/>
<path d="M553 139.1 672.2 139.3 513.6 140.5 547.3 142.2 526.6 138.7 698.1 138 573.2 144.8 687.7 144.9 690.6 137.7 557.7 138.8 662.4 156.5 676.8 140.6 526.6 137.3 557.4 138.8 565.4 139.1 679 147.2 663.8 146.7 592.7 155.7 504 140.8 524.7 138 681.2 150.1 590.6 146.6 671.4 145.1 687.8 145.4 676.9 135.4 645.2 157.9 579.1 139.8 544.6 146.9 517.2 139.8 534.1 142.9 592.4 134.8 543.3 149.5 668.6 156.2 665 135.4 683.1 158 603.1 145.8 589.3 135.1 677.1 143.3 509.5 135 505.1 136.2 580.2 155.1 661.9 157.7 588 153.2 660.4 144.7 661.4 157.5 594.8 146 682.7 152.8 628.3 153.9 642.8 156.9 685.8 138 505.4 134.9 577.7 139.3 658.3 136.5 526.7 139.3 665.3 145.2 657 154.7 684.6 143.7 660.4 153.5 663.3 135.1 692 144.2 599.1 152.9 535.3 145.1 517.7 138.8 590.9 146.5 547.2 146 677.9 148 559.2 139.3 550.5 141.9 685.6 136.7 510.5 137 671.4 148.5 668.7 139.8 692.1 139.4 674.6 144.9 689.2 140.5 522.5 136.3 534.1 143.7 686.2 139.5 607.8 139.1 688.9 143.6 659.6 148.3 599.1 142.6 534 141.2 685.9 135.4 685.8 139.1 687.2 140.8 564.1 139.9 683.1 144 562.5 139.7 643.4 157.8 662.2 154.1 548.7 153.7 661 158.1 561.2 143.6 671 139.4 581.6 151.3 554 135.8 694.2 137.5 667.7 147.5 678.8 145.7 607.5 145.1 561 137.3 586 155.9 657.4 140.1 549.5 145.5 678.1 149.8 562.7 140 538 146.1 673.9 141.5 660.9 155.6 674 151.2 674.6 149.7 600.2 151 512.3 137.3 571.9 139.5 661.5 157.3 562 135 541.8 143 557.1 142 685.4 146.8 575.3 136.7 530.1 141.3 548.2 145.8 550.7 138.4 651.5 158.3 662.3 156.5 643.6 156.1 616.2 140.9 517.2 137.1 526.8 141.4 625.8 145.9 672.9 155.8 659.7 158.1 689.6 135.6 674.7 154 640.8 153.1 634 156.4 662.5 153.5 542.4 135 664.3 156.2 657.3 158.1 670 140.4 528.6 143.8 675.1 148.8 516.5 143.7 557.4 141.4 569.8 143.3 667.7 156.6 642.8 153.1 588.4 146.9 688.6 145.6 662.9 140.5 673.6 149 582.6 147.6 604.7 135.1 600.4 151.3 608.4 144.1 669.2 149.3 508.6 137.9 668.2 144.6 684.6 148.7 531.6 143.1 686.2 141.7 559.8 139.1 586.6 144.1 548.4 140.6 511.5 136 663.9 141.8 661.8 148.6 613.6 137 553.7 139.2 673 157.9 627.4 155.5 670.8 137.5 547.1 139.5 562.9 141.6 677.5 139.4 673.7 145.7 593.2 138.3 595.2 136.9 673.8 157.7 632 143.5 681.1 137.1 589.8 152.3 528.5 140.1 670.9 153.5 556.3 138.6 549.5 145.1 542.5 148.2 559.2 135.5 561.4 135.4 662.3 148.8 545.9 141.1 664.9 137.8 583.1 150.2 672.2 149.8 585.1 142.7 635.2 151.7 533.2 144 658.4 151.3 634.1 154.3 659.7 143.6 662.7 135 546 149 604.9 142.6 525.9 140.5 631.8 154.6 523.4 137.1 549.1 137.9 534.4 143.9 621.6 152.3 569.6 136.3 593.1 155.9 688.9 147.2 597 143.7 588.8 152.1 598.6 144.7 639 157.7 544.3 136.4 532.1 138.6 679.5 137.4 565.4 135.1 685.9 148.7 562.6 137.8 568 147.5 617.5 151.8 665.3 137.6 679.2 135.5 604.9 136.3 598.1 154.8 617.1 142.7 559.9 139.2 667.2 143.2 527.8 142.1 609.7 154 578.3 140.6 564.5 135.6 536.7 140.8 678.1 135.3 690.2 139.7 640.8 154.2 543.4 140.9 526.4 137.2 595.1 155 663.2 152.9 681.9 146 542.6 137.6 661 157.7 669.2 142.3 678.8 137.7 611.3 157.5 672.1 158 603.9 141.6 551.9 137.5 575.4 143.3 514.5 136.2 658.1 158.3 537.2 139.7 638.8 156.3 678.8 150.9 523.1 134.8 520.1 134.9 576.3 153.9 558.4 136.3 517.8 138.5 671.7 158 522.8 140 556.6 146.4 529.8 135.2 543.7 145.6 532.4 140.3 650.2 157.7 679.4 136.2 597.6 150.3 611.7 140.7 608.6 146.7 661.6 152.8 572.9 141.8 658.5 157.9 545.4 137.7 587.1 136.7 658.8 153.6 698.3 136 555.2 135.3 679.8 142.7 651.7 157.4 609.9 155.3 524.2 144 530 145.4 576.4 138.3 553.8 137.9 659.9 153.2 596.1 139.2 663.7 157.4 668.1 144.3 526.8 142.4 597.5 155 617.4 155.6 661.9 153.2 659.8 157.9 549.1 136 650.4 157.5 554.4 135.4 552.6 140.6 662.2 139.7 522 142.7 603.5 135.9 617.5 149.3 687.6 141.9 530.1 140.8 583.1 154.3 520.1 135.5 522.8 134.8 528.5 137.9 679.7 145.2 562.5 142.1 543.7 145 664.8 156 560.8 135.9 534.3 137.8 635.7 157.2 618.9 157.1 625.2 151.9" fill="none" stroke="none" marker-start="url(#mxb30560)" marker-mid="url(#mxb30560)" marker-end="url(#mxb30560)"/>
<path d="M658.8 175.6 658.9 170.8 662.6 170.9 675.4 159.7 681 168.2 646.8 162 680.4 160.9 639.4 170.5 662.8 163 661.6 172.3 660.2 178.8 651.3 177.4 679.7 163.7 666.8 162.1 679.5 168.7 627.6 175 603.7 159.8 680.8 180.1 678.2 176.6 633.8 169.5 674.2 171.2 676.5 161.1 641.8 160.8 665.3 174.8 659.5 174 671.2 160 646 166.2 604.3 167.3 666.9 170.1 661.4 166.7 638.9 159.6 674.8 164 642.5 175.4 649.8 165 660.3 165.5 676.3 160 650 161.2 652.2 162.3 667.1 158.6 641.3 174.6 666.1 168.6 662.8 166.7 661.5 173.7 666.4 179.1 648.7 168.1 650 168.5 652.8 164.9 601 159.2 671.4 161.9 649.6 161.5 672 169.1 643.6 174.6 642.9 179.9 627.9 174.8 679.5 165.7 674.5 160.2 669.6 162.2 667 172.5 674.9 164.7 628.5 160.9 669.2 164.6 643.4 173.8 652 181.6 658.2 170.3 631.1 169.8 656.8 167 662.2 161 655.6 171.5 624.5 162.3 658.2 160.1 676.1 161.9 649.8 159.1 605.1 164.7 650.2 178.9 607.8 164.5 672.5 164.1 639.9 174.5 621.3 159.7 608 163.9 621.3 165 641.6 171.6 647.6 175.6 677.3 169.6 649.3 176.1 606.3 167.7 644.3 178.2 661.7 181 620.8 159.9 649.9 179.3 684.5 178.3 654.4 159.2 615.9 160.5 653.9 166.4 663.1 161.4 612.7 161.5 673.9 163.6 598.3 166.7 636.4 173.8 644.9 178.2 652.5 160.3 650.1 160.6 643.4 176 639.1 176.2 676.8 170.6 653.3 174 658.4 167.8 676.4 176.6 660 179.8 683.4 170.1 665.4 164.7 662.8 165.1 649 168.6 626.7 174.8 680.4 174.4 630 176.2 677.8 175.3 648.8 166.3 675 160.2 672.8 164.2 654 179.3 671.2 161.3 674.2 164.6 636.3 178.1 640.8 178 676.6 161.1 654.5 171.9 664 166.1 617.6 173.1 661.9 163.9 660.9 163.2 665.7 173.4 642.8 178.3 650 165 682.3 169.4 670.1 160.4 669.1 181.9 656 161.4 615.8 166.7 671 168.7 621.2 161.4 660.3 169.2 622.3 166 654.3 164.6 654.6 175 664.2 181 677.4 170.7 658.3 166.2 674.2 162.9 661.2 175.9 642.3 172.9 648.1 182 650.4 168.3 660.4 162.2 621.1 173.7 587.4 159.7 610.1 168.3 651.2 167.3 674.6 176.6 679.5 167.1 668.7 178.5 631.8 166.9 672.4 179.5 676.5 167.8 643.5 165.4 681.3 164.6 612.5 168.3 653.3 166.3 645.7 167.3 678.4 170.1 631.3 168.3 653.5 178 679.6 166.1 642.5 165.4 640.7 167.8 614.1 175.2 644.8 180.1 649.7 166.3 634.3 172.8 672 163.3 644.1 169.5 673.5 163.6 651.8 168.3 679.9 178 680.4 179.2 657.5 170.5 647.9 166.1 664.9 159.7 661.1 178.4 674.5 168.4 645.5 178.5 663.4 160.9 633.6 176.2 662.9 168.8 685.8 168.6 641.2 169.1 645.7 161.6 650 167.7 671.8 168.3 663.4 159.3 664.3 162.3 612 166.6 674.3 165.1 662.1 166.2 670.6 171.9 686 178.1 652.6 163 656.5 162.2 670 160.2 597.7 165.9 660.8 160.9 641.5 164.5 651.9 177.8 666.4 171 660.9 170.9 679.1 180.9 652.1 165.5 654 158.8 678.5 170.5 660.6 161.7 676.9 170.1 673 168.2 636.7 171.6 653.8 162.7 632.3 180.1 655.2 159.8 680 162.2 648.7 174.1 614.9 159.1 642 173.6 627.7 180.8 671.3 171.1 639.1 173.9 681.8 164.8 680 171.8 665.1 163.3 666.6 165.3 645.1 178 620.3 169.2 675 165 670.5 169.7 666.5 167 668.3 164.9 657.2 171.5 670.2 179.1 654.1 160.8 664.7 176.7 611.3 163.3 611.7 170.4 658.4 176.4 646.8 170.4 670.8 171 672.1 173.8 675.5 170.8 642.1 176.3 660.5 160.2 676.2 163.9 653.7 161.5 646.4 175.5 669.4 177.7 681.6 164.4 649.1 159.6 648.5 167.9 642.5 181.1 657.3 177 622.7 181.4 665.3 172.1 647.5 163.1 652.6 162.9 685.3 171.8 659.6 161.2 669.3 160.8 653.4 158.9 653.1 177.3 651.3 175.8 607.4 160.6 654.4 174.1 605.4 167.5 674.8 164.9 681.2 169.6 672.3 181 677 177.8 656.7 169.9 585.7 160.2 672.4 169.6 629.5 166.2 678.5 179.7 645.6 174.7 683.2 179.1 629.8 177.2 653.2 175.8 671.8 176.3 682.3 165.9 666.6 171.3 593.9 159.4 677.2 175 655.7 162.4 639 180.5 676.2 160 647.6 177.7 655.1 167.5 670.1 159.4 615.2 160.6 646.2 164.2 660.8 163 667.2 177.5 632 178.5 648.1 166.1 678.9 161.1 642.6 167.4 681.1 173.4 608.8 170.7 617.4 167.8 673.5 162.9 654.1 176.1 677.1 181 677 176.3 635.3 158.6 655.7 179.3 649.4 173.5 668.2 166 682.1 173 669.7 159.3 673.1 169.3 655.1 165.5 676.1 166.2 661.2 164.4 679.2 181.2 626.2 170.4 644.8 180.2 663.8 178.8 633.5 159.6 648.6 177 657.2 181 660.4 166 681.3 165.1 661.1 166.4 616.1 163.9 638.7 174 628.3 163.4 599.7 161.4 646.9 168.5 677.3 170.5 655.2 181.9" fill="none" stroke="none" marker-start="url(#mxd90338)" marker-mid="url(#mxd90338)" marker-end="url(#mxd90338)"/>
<path d="M692.4 69.9 715.4 72.4 677.3 76.5 676.9 75.5 697.2 81.6 676 78.4 696.8 71.8 692 74.7 693.1 81.7 711 80 698.7 67.9 723.6 74.3 703.4 85.4 667.2 71.9 699.6 80.4 660.7 72.3 682.2 70.7 713 76.9 714.5 71.7 720 74.2 671.9 77.1 691.7 65.3 698.7 76.5 703 69.3 716.7 73.7 722 76.3 716.7 83 672.3 68.5 693.2 66.2 672.2 81.2 664.5 75 677.6 84.4 725 74.7 681.2 85.4 701.2 72.7 670.8 81.5 673.9 74.1 692.4 73.1 672.8 80.1 687.4 81.8 679.4 79.2 720.5 84.3 678.5 80.3 730.2 77.5 713.4 74 682.2 84 711.5 81.2 682.7 80 672.2 84.3 721.2 64.4 724.3 72.7 714.1 68.2 707.7 77.8 710.9 76.7 494.3 85.4 717.2 66 719.2 77.6 687 74.1 700.8 76.1 668.9 69.8 684.9 87.5 683.1 80.1 679.3 70.6 662.8 83.3 726.7 75.4 673.8 86.1 676.2 73.9 677.9 70.7 683.8 66.8 712.6 67.4 672.3 73 698.6 79.5 700.3 75.1 726.1 75.4 664.8 68.8 725.7 76.8 683.5 75 722.2 82.1 699.5 74.3 506.3 85.8 727.1 77 715.8 75.5 695.7 86 689.4 68.3 709.9 84.4 677.4 69.4 674 81 710 73.1 682.6 77.2 710.4 73.8 719.9 68.5 701.9 84 702.4 85.1 670.4 79.7 718.6 83.2 728.8 80.1 669.1 78.1 677.9 68 719.3 66.1 656.1 66.3 703.4 70.7 693.9 76.6 672.3 77.7 702.6 67.4 718 83.8 670.2 82.7 716.5 73.7 674.1 80.4 709.5 79.2 502.9 84.7 696.4 70 680.4 82.4 715.5 69.5 711.2 72.8 698.7 66.7 664.6 66.7 719.2 68.5 728.3 80.2 693.1 83.1 673.6 86.8 685.2 69.4 696.2 86.9 679.2 80.5 721.8 70.1 713.8 75.2 685.1 78.1 720 65.5 664.9 71.6 668.4 86 692.8 65 698.4 66.7 718.4 77.3 718.5 74.5 668.6 75 699.8 67.1 696.9 66 700.8 78.8 697.3 77.8 686.3 82 699.5 85.4 685 83.4 681 83.5 493.2 87.3 715.2 80.9 697.3 71.7 673.1 65 699.9 85.8 727.1 83.3 686.7 86 714.5 87.3 687.8 78.8 675 78.2 720.1 82 719.8 64.5 674.3 85.5 673.8 72 695.7 77.8 723.8 82.6 690.8 69.8 691.2 80.2 714.8 64.4 714.5 80.6 679.2 81.5 701.4 84 703.6 67.9 715.2 71.7 724.2 86.6 697.5 70.5 658.5 79.9 709.4 83.9 661.5 76.8 696.6 86.3 714.3 82.3 666.2 73.2 662.3 80.4 681.4 83 695.2 79.5 666.2 79.3 667.3 76.3 700.7 65.4 694.4 64.4 721.5 68.8 694.4 75 719.3 80.7 672.8 70.2 669.9 71.5 674.3 71.7 713.8 82.5 722.9 80.2 702.5 76.5 721.7 84.1 682.2 82.8 683.8 69 720.6 74.5 692 84.5 696.5 68.4 721.6 68.8 681.2 77.3 674.5 84.3 702.6 81.9 710.3 80.7 722.4 81.2 701.9 76.4 709.5 76.4 729.1 79.1 663.6 75.4 718.8 66.2 724.3 84.4 703.4 80.1 693 73.5 721.7 80.6 681.4 76.2 698.8 72.3 689.7 79.4 682.5 68.5 680 83.4 689.3 71.1 685.7 79.6 702.8 64.7 701.9 66 663.6 66.4 701.9 84.3 707 78.8 683.6 64.2 727.4 78.2 668.7 79.1 719.5 76.6 679 75.4 705.8 65.7 680 79.4 714 82.4 688.7 77.1 714.8 84.9 713.3 87.1 666.2 70.4 671.8 67.8 714.3 67.6 702.4 68.7 683.8 84.8 703.4 65.3 691.2 81.8 690.9 75.2 656.4 79.2 709.7 81 706.3 72.1 704.9 67.3 718.2 81.8 671.5 68.3 492.5 87.5 720.6 76.1 696.1 71 706.3 70.6 669.6 86.3 661.1 76.7 704.9 74.9 696.3 73.9 691.5 81.4 708.3 68.1 700.3 78.7 706.8 84.7 662.7 66.9 680.2 70.3 701.1 86 701.1 76.6 686.8 85.2 672.3 78.2 694.6 83.5 709 84 654.4 65 688.4 84.4 721.8 76.2 689.6 81.7 663.4 72 710 75 708.6 73.6 722.8 70.5 668.9 78.4 681 79.3 709.6 87 670.4 83.4" fill="none" stroke="none" marker-start="url(#mx400dd7)" marker-mid="url(#mx400dd7)" marker-end="url(#mx400dd7)"/>
<path d="M644.5 183.8 646.6 192.8 668 186.7 671.9 189.8 668.3 185.9 674.1 183.7 657.1 188.9 649.2 196.6 668.6 184.9 676 192.3 671.3 183.6 661 195.9 648.2 193.8 676.4 190.4 671.6 184.6 643.5 185.9 638.9 182.6 664 187.5 671.8 189.9 645 187.2 648.2 192 649.8 190.6 652.1 182.3 665.7 197.1 665.9 197.1 658 183.3 662 193.2 650.3 186.9 651.9 188.8 661.3 188.6 659.6 195 664.9 196.8 669.6 182.9 650.8 187.2 650.5 188.4 654.7 190.3 653.3 195.8 670.2 185.2 662.6 192.1 628.4 183 655.7 189.3 649.7 195.6 650 187.2 667.9 196 676.4 192.7 669.4 194.1 662.5 194.1 673.7 186.5 653.3 195.3 656.6 184.5 660.6 193.2 651.9 187.8 660.7 196.4 644.5 189.3 665.9 193.7 663.9 192.9 659.7 196 645.6 187 668 184.5 673.1 191.4 644.5 184.3 657.3 189.8 658.2 183.3 671.9 190.2 663.4 192.5 654.1 185.4 676 182.9 672.6 186.7 663.9 186.1 649.9 184.5 663.9 190.7 660.9 185.5 662.3 182.1 629 182.3 654.4 191.7 656.2 186.9 668.6 185.1 652.8 184.3 671 184.6 650.4 183.1 661.6 205.8 643.6 191.1 662.8 195.2 663 188.6 685.4 182.9 645.6 186.3 653.8 190.8 664.7 198.9 653.2 197.6 647.1 191.2 673.3 191 654.9 185.5 653.6 186.4 653.1 193.3 656.4 185.4 667.9 197.2 658.5 186.8 668.3 191.1 675.5 185.5 645.4 193.6 653.6 199.4 646.3 191 683.4 183.3 643 194.9 664.1 185.2 676.5 182.8 670.3 187.7 650.4 182.5 673.9 194.3 644.8 189.8 654.1 200.2 655.7 187.3 677.3 187.2 661.4 188.6 647.9 182.7 651.2 190.8 681.4 187 653.1 190.5 658.9 194.7 664.7 190.5 677.9 190.1 638.6 182.8 646.2 187 653.7 183.7 640.4 189.5 658.5 183.7 655.2 187.5 667.3 189.7 635.4 187 656.5 186.3 659.7 198.4 661.1 191.4 667.7 197.2 657.8 198 659.4 193.6 680.8 185.5 659.2 184.5 651.9 188.6 647.2 198.3 654.7 187.2 655.8 182.5 664.3 186.3 674.2 182.1 660.4 189.6 649.4 190.2" fill="none" stroke="none" marker-start="url(#mxff0010)" marker-mid="url(#mxff0010)" marker-end="url(#mxff0010)"/>
<path d="M682.3 78.5 675.7 70.6 692.8 68.9 663.7 70.9 692.3 65.7 671.3 71.8 672.3 71.6 704.4 83.8 663.3 69.8 669.6 67.2 677.1 80.3 677.2 75.8 677.6 82.3 701.5 65.1 709.5 69.4 690.6 73.2 700.5 64.4 704.2 77.1 679.6 79.8 722.5 73.7 666.7 76.1 721.3 86.4 665.6 70.7 701.5 67.5 681.9 84.4 674.2 70.4 714.5 77.8 687.8 74.6 712.6 70.5 693.2 65.2 724.1 75.4 679.5 85.4 677.2 67.7 689.8 68.7 693.6 68.5 687.5 75.2 714.7 78.5 679.3 75.1 704.3 66.4 664.5 67.7 723.1 80.4 663.2 68 677.7 78.2 710.5 72.9 668.4 70.1 722.5 67.9 725.4 79.4 676.9 69.6 669.2 84.1 667.7 78 685.3 73.5 699.5 86.3 674.4 65.5 662 75.6 723.3 79.2 677.6 73.1 693.1 74.6 707.2 85.2 716.8 72.1 691.3 73.4 665.3 83.9 720.9 66.3 671.6 70.4 702.3 86.6 671.2 83.2 691.1 79.5 711.5 75 725.3 85.3 677.2 66.2 670.5 81.9 720.3 65.4 703.4 64.3 681.1 66.3 715.4 86.8 682.6 65 701.1 77 696.9 70.8 720.5 69.3 690.7 84.8 706.5 86.7 666.5 79.8 712.7 76.5 712.6 73.7 682.1 68.2 711.4 67.2 691.5 82.7 712.6 73 721.7 76.4 686.5 80.8 710.8 74.1 718.6 80.6 672.4 64.5 690.8 85.7 719.8 74.5 665.2 81 726.7 70.3 685.4 68.7 719 76.6 502.3 86.7 694.5 82.6 715.8 69.7 684.7 75.1 693.7 64.8 684.8 72.3 698.1 85.4 708.5 75.5 676 77 710.4 66.5 681.5 77.6 671.3 72.6 727.4 80.3 712.1 69.3 687.7 64.9 723.6 73.3 708.1 85.1 694.6 67 693 84.3 702 77.9 712.9 78 710.8 68 679.5 64.1 699 69.3 691.8 74.7 714.7 84.8 716.7 70.1 693.3 85.5 669.9 67.4 664.4 68.4 686.6 80.7 711 65.7 718.5 83 691 87.5 707.5 73 668.4 81.6 716.7 75 716.4 82.5 692.3 85.4 675.1 81.4 714.5 85.4 701.2 84.2 708.2 79.4 670.4 77.3 708.5 76.1 725.2 67.9 664.4 80.6 690.9 77.1 724.2 80.6 692 73 670.6 72.1 701.7 86.4 702.9 75.3 664.6 67 707.3 70.3 721.8 84.2 691.1 77.2 699.9 75.7 712.2 71 694.1 68 660.9 70.5 704.7 73.2 721.4 86.6 718.3 80 701.6 80.9 658.9 65 691.9 83.7 721.7 66.9 728.6 78.8 685.9 64.3 718.5 87.5 723.6 78.1 667.1 81.8 717.6 69.3 666.3 72.5 695.3 70.4 675.3 68 693.3 86.7 697.8 68.1 703.8 81.1 690.6 87 679.2 83.6 720.3 81.3 673.9 83.5 705.8 65.5 679.1 86.1 709.5 70 701.5 70.3 683 64.3 705.3 81.1 682.5 80 696 67.7 679.1 70.5 710.2 67.8 697.4 76.1 686.8 66.3 693.2 72.9 721.5 69.5 705.8 82.6 712.1 72.5 666.1 76.1 715.2 64.2 678.1 84.2 681.6 66.1 694.3 70.1 682.1 64.6 706.5 64.5 712.6 79.1 704.4 82.6 722.1 68 725 75.3 725.4 84.8 488.2 87.5 679.8 78.1 714.2 66.8 702.5 64.6 691.4 72.5 668.5 72 681.8 75.3 693 68.3 709.3 74.8 688.7 65.1 720.5 84.9 686.5 85 661.7 71.2 714.8 78.4 718.6 82.6 693 73.7 702.4 64 725.4 81.4 700.2 77.6 718.9 74 680.4 70.6 704.9 68.1 710 69.5 708.3 75.1 713.5 72.3 702.5 85.3 672.1 75.1 700.3 77.5 699.2 83.4 702.2 67 714.1 76.2 665.3 83.8 728.4 77.1 703.8 71.1 670.8 68.9 701.9 69.2 703.3 81.7 711.1 73 722.1 76.8 662.6 84.3 689.7 85.5 691.2 86.5 687.7 70.9 686.2 72.4 681.4 78 710.5 83.2 707.8 68.5 664.6 77 702.2 78.5 698.7 69.8 727.1 78.9 681.9 80.8 681.1 85.9 698 65.3 699.5 87.2 705.7 78.9 686.5 73.8 702.5 77.4 713.7 76.1 722.4 87.1 691.4 66.6 713 67.9 690.3 74.4 700.8 73.2 696.8 83.2 719.8 66.7 670.5 72.2 711.6 65.8 689.8 69.3 701.1 75.2" fill="none" stroke="none" marker-start="url(#mx400dd7)" marker-mid="url(#mx400dd7)" marker-end="url(#mx400dd7)"/>
<path d="M722.6 77.6 668.6 66.3 675.7 67.9 708 75.3 698 67.9 700.1 69.9 663.2 73.8 699.1 77.6 671.6 71.7 676.3 74 675.2 84.7 707 81.4 687.5 75.1 716.4 78.4 710.2 83.5 694.3 65.6 720.2 78 675.5 72.9 700.9 64.4 720.4 66.3 717.3 77.2 705.7 72.3 662.7 74.3 678.8 76.8 666.5 67.6 689 80.9 692.8 83.9 706.4 66.3 710.6 72.3 667.4 67.9 691.9 71.8 685 70.5 696.7 71.5 726.7 69 686.8 71.4 690.1 78 701.6 78.1 706.6 79 704.3 67.9 681.9 70.3 699.7 81.2 721.7 83.5 699 86.2 716.2 82.7 697.2 78.2 705.7 86.9 716.7 72.8 660.6 79.4 710.7 85.2 705.4 83.7 720.7 77.7 727.4 85.7 704.6 78.5 676.2 69.7 672.6 81.3 684.8 76.2 678 68.9 716.9 80.2 660.3 70.6 693.5 81 666.3 84.8 663.7 82.5 663.5 82.4 706.9 78.6 708.2 84 682.5 72.7 675.1 69.8 678.8 69 685.7 73.4 684.2 74.1 669 75.2 675.4 85.7 657 67.3 688.2 74.9 694 73.4 678.5 70.6 496.3 87.1 675.8 66.4 673.5 75.4 725.9 83.8 693.7 68.9 718 70.8 661.1 70.5 715.3 70.1 678 72.1 665.4 80.8 671.8 81.3 723.7 70.3 667.2 82 705.8 66.6 663.4 71.5 500.5 85.9 685.6 67.6 692.3 74.6 696.6 80.9 721.4 77.9 709.1 77.1 701.8 76.7 507.7 86.9 722.9 76.5 680.1 81.4 661.8 68.9 693.6 74.6 697.8 80.5 704.2 81.5 707.1 85.4 663.5 69.5 705.3 68.9 708.8 80.1 502.2 83.8 684.4 65 717 85.5 672.5 77.9 683.4 75.9 674.3 82.2 669.8 74.2 702.5 74.7 685.3 73.5 697.9 71.5 712.4 73.4 675.5 69.6 686.2 78.8 686.7 84.7 680.5 78.5 679.3 84 721.5 77.2 715.5 77.7 692.9 76.3 673.9 85.8 694.7 67.2 706.5 65.4 721.4 67.7 694.2 69.3 704.7 66.3 699 74.7 721.7 83.1 719 85.2 662.9 82.7 684.1 72.1 693.8 75.5 712.4 81.5 683.6 67.2 700.9 80.9 666.5 82.8 703 66.6 668.2 64.8 709.5 84.5 696.9 69.8 709.5 86.5 666.6 67.4 667.4 82.1 710.9 73.2 729.6 77.6 720.7 68.3 668.6 67.7 710.3 82.2 716.7 72.4 669.5 85.1 680.1 85.1 669.1 69.5 684.3 78.7 662.7 70.2 668.6 74.5 710.6 70.9 728.5 75.3 715.2 81.5 709.1 84.6 722.6 65.6 708.8 74.6 696.8 76.2 687 85.4 667 73.8 697.9 64.9 685 72.5 656.9 64.2 714.7 79.9 718.2 84.4 694.7 70.6 674.9 79.1 676.8 75.3 693.5 84.1 499.3 85.8 701 68.2 669 65.1 700.6 64.3 689.8 87.1 670.9 71.3 686.4 69.2 711.2 64.1 675.4 85.3 670 68.3 704.4 84.3 691.9 83.8 720.8 79.7 498.5 86.6 710.3 71.4 701.1 84.4 683.8 70.2 676.1 84.4 663.9 71.7 719.9 76.5 694.9 69.9 672.2 75.7 713.3 86.2 698.7 76.4 703.4 71.4 695.4 71.3 690.3 75 682.5 81.9 709.2 87.5 701.4 77.7 669.7 75.9 684.7 78.4 659.9 70.6 685.5 78.4 667.7 77.1 672.1 71.9 674.4 86.8 695.8 69 692.6 79.1 677 70.6 710.9 83.4 684 78.4 678.4 75.6 675.2 85.7 683.7 72.5 697.9 84.8 666.8 81.3 698.8 86.5 700.5 85.6 716.7 83.8 690.7 66.6 658.3 64.9 699.6 71.3 693.6 67.4 671.8 79.1 703.5 84.7 695.2 82 669.3 85.8 717.8 86.9 663.7 71.9 691.3 75 667.6 64.8 699.2 80.7 708.2 79.4 665.9 77.4 668.5 79.9 716.2 87.4 690.8 77.9 702.9 87 687 79.6 672.3 72.4 707.4 85.1 709.7 79.9 666.1 68.7 721.4 68.9 681.7 71.6 677.7 67.2 703.3 72.2 676.4 80.3 695.3 84.8 713.4 77.4 720.1 86.2 703.3 77.2 697.8 72.1 655.2 69.4 687.3 64.2 679.5 85.6 711.3 84.4 726.8 80.2 684.4 71.3 702.2 67.4 718.2 78.8 672.8 74.5 716.5 67.5 713.5 79.5 666.2 68.1 708.4 87.1 694.1 64.5 716.8 69.8" fill="none" stroke="none" marker-start="url(#mx400dd7)" marker-mid="url(#mx400dd7)" marker-end="url(#mx400dd7)"/>
<path d="M686.4 53.8 680.6 44.3 679.3 29 682.6 31 695.3 51.2 690.5 49.4 672.3 54.8 689.6 60 701.2 60.6 682 37.4 693.9 48.3 699.8 59.2 675.9 34 675.5 51.2 692 33.2 671.4 60.6 686 33.7 699.3 49.9 674.8 55.6 685.8 39.5 682.1 42.6 715.2 62.7 692.6 38.2 663.3 33.6 679.6 57.3 684.5 37.1 682.8 44.5 670.9 33.5 675.3 32.2 691.1 59.1 693.1 54.9 675.3 54.9 708.3 61.8 686.1 40.2 674.7 47.6 655.1 45.7 704.3 54.1 691.4 63 710.5 63.4 693.3 57.4 675.8 30.5 705.7 59.2 664.2 43.7 688.9 40.4 668.5 39 661.6 47 680.6 53.4 663.7 41.9 712.4 60.7 696.5 33.8 685.1 49.5 671.1 29.5 666.5 55.9 676.5 62.6 655 58 707.6 57.5 708.4 57.3 664.5 41.8 697.8 55.6 714.4 60.4 674.3 58 671.1 55.2 698.6 52.6 705 55.8 677.7 51 711.9 55.3 681.8 39.3 678 32.7 678.5 60.9 676.3 41.3 702.5 52.5 664.6 61 688.3 25.3 698 62.7 723 61.3 694.8 39.1 667.5 52.4 696.3 61 671 57.4 671.1 57 673.2 31.3 666.4 36.8 694.1 60.7 705.7 56.6 700.9 61.4 679.4 43 679.1 57.6 707 60 674.7 36.1 681.5 62.6 677.4 26.2 674.5 53.9 669.8 62.1 679 59 688.5 52.6 711.2 63.3 676.6 38.4 671 41.1 702.8 60.1 708.2 60.5 688.5 55.2 663.4 51.6 691.9 50.1 687.9 40.2 684.3 52.7 682.7 48.1 674.9 54 680 59.5 674.8 37.1 701.9 61.6 673 34.3 691.2 62.3 685.2 30.3 686.7 33.7 680.5 63.3 675.3 34.1 677.7 48 669.8 62.2 703.4 54.2 655.8 61.7 689 36.9 675.4 42.7 706.5 63.5 714.1 62.4 660.9 36 714.9 58.6 690.6 38.3 671.1 36.2 709.7 54.7 689 36.4 702.9 54.3 659.9 61.1 671.7 28.3 693.3 54.1 670.1 53.2 671.3 63.9 697.9 55.1 707.6 60.2 679.4 24.1 689.6 53.2 669.2 29 671.2 57.6 683.1 45.9 686.3 43.9 676.8 52.9 689.2 57.4 692.4 34.7 683 63 713 51.1 673.2 63.6 687.7 51.5 671.4 47.2 706.1 51.1 705.1 53.1 689.7 48.8 691.8 34.7 705.8 61.7 714.3 63.4 673 50.3 679.3 30.3 661.2 43.8 687.5 61.7 679.7 38.9 689.1 53.8 708.6 62.7 685.8 56.6 704.5 53.1 669.3 51 679.8 58.4 673.7 57.5 675.4 62.6 703.5 60.1 690.4 51.3 680.1 62.3 714.6 58.4 674 40.1 683.1 30.4 679.5 47.6 686.4 52.9 694.4 34.8 673.2 33.8 686.7 40.6 686.2 30.1 671.4 35 677.3 60.4 707.3 51.6 686.8 31.6 681.1 27.1 687.6 44.1 666.8 40.6 662.7 45.9 685.1 53.4 697.5 53.4 705.2 51.6 680.8 33.4 703.5 63.5 676.5 63.4 680.4 51.4 677.6 26.5 662.7 47 679.4 39.7 662 47.5 673.7 38 675.1 33.4 687.7 31.2 715.2 53.4 674.3 30.1 694 48.1 688.2 29.6 688.4 59.2 672.7 38.2 662.5 59.6 655.6 50.6 713.5 57.9 685.6 53.1 670.9 19 687.3 27.9 669.5 53.9 716.4 61.1 701.9 63.1 707.4 63.6 675.4 55.6 675.7 35.5 701.7 59.3 702.4 62.9 682.3 40.4 705.5 60.3" fill="none" stroke="none" marker-start="url(#mx1a10ff)" marker-mid="url(#mx1a10ff)" marker-end="url(#mx1a10ff)"/>
<path d="M553.9 137.8 553.1 135.2 626.9 151.4 524.3 137.9 515 135.7 680.9 147.6 659.3 154 527.9 145 515.4 137.9 518.7 136 669.7 149.5 678.8 139.2 626.1 155.3 620.6 149.2 669.7 135.4 661.1 158.1 661.8 145.3 535.2 137.3 634.2 153.8 584 150.1 533.9 151.6 526.1 137.2 524.6 135.9 528 136.9 661 139.2 526.5 144.6 510.5 136.6 574.9 153.4 566.9 144.1 525 136.3 578.4 153.5 661.3 146.1 557.3 136.6 653.3 137.2 533.4 145.4 640 155.9 634.4 157.5 660.8 156.9 669.9 149.3 574.5 152.1 590.8 153 653.5 156.5 526.1 143.5 548.2 141.1 586.2 152.3 678.1 151.9 541.5 138.2 651 156.1 513.7 136.9 534.1 142.3 682.9 143.3 665.2 157.8 665.9 151.9 613.3 140.5 559.4 138 516.8 141.2 676.7 158 579.7 150.2 671.6 140 675 156.8 520.6 135.5 533.7 140.6 665.7 140 611.6 140.3 617.5 144.4 698.1 137.1 670.2 148.1 565.6 139.4 660.4 156.9 681.8 139.2 670.3 135.4 611.7 135.2 591.4 142.9 533.9 138.2 660.7 140 671.7 146.1 567.3 138 679.2 141.1 673.9 143.9 620.7 153.9 626.4 145.2 613.6 144.5 550.2 141 551.5 137.4 542.4 136.9 561.3 138.5 531.2 146.7 539.8 135.2 553 143.5 564.6 136.7 533.6 139.4 679.5 148.8 555.3 135 663.2 135.9 606.2 149.2 544.2 145.2 552.5 139.8 536.1 139.2 680.6 157.8 672.5 143.1 592.9 147.7 531.9 140.3 658.5 158.3 624.7 156.8 659.1 150.3 601.3 144.4 596.3 147.4 574 147.2 667.3 142.3 604.4 146.1 522.3 139.6 676.9 135.5 509.6 135.9 565.6 138.5 642.3 152.8 548.4 140.9 608.2 147.1 588.1 146.9 672.4 157 533.6 149.4 666.2 151.1 542.4 147 655.3 153.9 671.5 154.2 687.2 140.5 665.1 144.1 625.7 149.9 687.6 145.6 647.4 157.5 586.7 150.7 514.4 136.1 657.1 150.2 507.3 136.5 529.9 145 618.6 143.4 657.8 137.4 635.8 153.9 540 135 522.1 142.3 674.8 151.3 645.6 153.4 530.5 143 619.1 157.9 656.4 157.8 535.4 145.7 552.1 138.4 663 154.6 616.6 157.7 537.8 149.9 621.9 143.9 528.1 140.6 552.5 135.5 615 156.9 543.4 136.8 625.5 146.1 535.1 153.5 537 149.7 620.4 155.8 540.9 147.6 664.3 152 674.8 158.1 616.9 138.7 604.9 153.2 662.7 147.3 584.8 151.1 544.9 140.1 662.1 140.2 661.9 146.8 674.8 146.8 676.6 146.4 502.1 134.9 616.7 145.9 662.9 156.2 657.1 157.6 541 144.5 599.3 157.7 664.5 139.6 594.3 140 589.6 152.2 533.3 143.4 628.9 150.4 591.4 153.1 518.5 137.4 660.1 154.9 511 136.4 596.8 157.9 643.7 152.4 680 144.2 590.9 157.4 605.1 149.5 541.1 146.4 543.3 141.3 603 151 607.7 141.5 535.3 148.1 536.3 144.5 690.5 140.9 527.9 149 533.3 146.2 513.6 138.1 683.3 154.5 679.7 147.8 543.4 138 562.1 140.4 602.5 151.3 690.8 145.6 548.2 142.8 602.9 141.4 517.6 136.7 669.5 150.2 563.1 138.2 535.8 145.3 632.9 149.7 533.8 147.4 589.3 144.8 604.8 140.9 539.9 146.4 574.8 140.5 534.7 139.3 628.4 157.6 664 152 581.4 141.3 696.9 136.1 678 152.5 578.1 136.1 534.3 141.3 578.1 139.7 617.4 136.4 532 147.9 536.7 141.4 659.1 138.8 546.5 135.1 527.2 138.9 612.8 145 594.8 156.7 583.6 137.5 678.3 146.4 631.8 150.3 685.3 152.5 560.5 138.4 528 140.6 581.7 157.2 668.9 156.2 590.4 151 541.8 138.1 557.3 143.6 650.6 157.7 685.4 152.3 678.9 135.6 633.6 151.9 611.6 139.9 584.1 137 674.1 135.4 537 137 679.1 150.5 674.5 157.8 582.6 143.3 655.4 156.7 670.9 156 591.6 158 541.2 137.2 554.9 143.8 575.5 137.6 661.9 147.9 529 137.1 674.3 138.4 531.4 151.9 688.7 143.4 666 150.6 664.3 148.4 605.3 158.3 569.7 140.2 675.2 149.1 550.5 140.5 687.1 139.7 635.8 145.5 620.3 141.8 601.5 136.6 561.1 135.2 551 140.3 549.4 135.4 690.9 140.4 666.2 137.8 546.5 145.6 680.5 147.2 515.4 139.4 617.7 139 660.2 141.6 529.3 147.5 626.3 147.8 535 147.5 639.7 152.3 536.1 143.2 607 156.7 541.3 146.4 559.1 136.5 548.9 144.1 523.8 139.5 541.7 135.8 532.2 136 682.1 151.5 682 152.5 680.9 145.6 540.6 141.4 536.1 147.9 680.5 142.8 514.5 136.5 662.4 158.1 531.7 148.7 533.2 138.4 670.1 135.9 566.1 136.3 557.8 137.1 545.3 136.4 683 143.4 522.9 135.4 556.5 135.7 528.3 137.7 603.1 134.8 603.1 137.3 669.7 150.9 550 144.3 574.6 141.4" fill="none" stroke="none" marker-start="url(#mxb30560)" marker-mid="url(#mxb30560)" marker-end="url(#mxb30560)"/>
<path d="M652.5 202.3 664.5 191.3 650.4 183.4 653.9 185.5 658.9 184.8 663.9 183.7 674.7 185.2 663.8 184.9 671.7 186.1 626.4 184.5 665.2 195.4 678.7 184.4 642.6 182.9 662 183.7 630.8 185.2 648.7 195.7 643.7 189.7 643.6 187.1 656.5 189.7 635.9 183.5 651.6 197.7 679 182 657.2 190.8 636.4 187.8 646.8 182.2 662.4 189 646.1 182.6 646.2 189.3 662.3 200.6 655.9 186.5 672.1 188.6 651.2 194.7 653.7 187.6 664.3 193.8 647 193.1 666.8 182.5 662.8 185 643.9 187.2 659.9 188.2 673.1 197.1 670.9 199.9 649.2 198.7 645.9 185.1 665.8 192.5 665.1 182.1 669.9 185.2 669 182.7 663.5 190.8 656.6 190.3 662.9 192.8 648.8 194.4 644.9 189.6 666.3 196.6 663.9 182.2 652 187 645.8 198.4 659.2 183.8 620.6 185.5 645.5 192.5 667.3 196 645.5 186.3 644.9 185.4 635.8 182.8 660.2 190 677 190.5 644.7 187.9 651.4 191.4 663.6 185.1 650.8 196.1 648.8 189.4 664.7 191 651.9 185.5 662 192 627.4 186.8 675.2 185.8 644.8 188 654.6 194.3 644.6 185.3 652.3 185.6 669.2 187 664.1 192.1 687.5 186.7 647.4 189.6 645.5 184.4 666.6 192.6 664.9 187.4 680.4 183.7 667.7 184.6 653.5 190.9 648.3 196.1 674.7 186.2 661.3 183 666.4 188.3 649.9 182.4 655 194 649.5 193.4 640.6 182.3 655.2 185.9 635.4 185.4 646.3 186.8 649.9 185.4 650.3 188.5 648.6 188.5 635.7 186.6 653.2 195.3 650.6 197.8 654 182.7 658.2 188.2 672.5 192.8 670.2 192.3 651.7 195.1 649.2 190.1 672.8 185.9 669.5 187.6 660.5 186.6 642.8 182.3 664.9 191.4 649.2 187.3 655.9 202.2 650.7 193.5 639 182.6 646.7 188.2 651.6 186.8 674.9 187.2 655.7 197.8 643.1 184.3 669.6 190.3 664.9 186 640 182 659.7 200.5 642.1 187.9 663.7 198.7 654.4 198.8 654.2 189.3 675.1 183.1 656.9 196.2 634.8 186.4 661.1 188.2 659.5 184.4 673.9 182.6 673.6 191.9 671.4 182.6 673.9 188.6 670.2 194.9 629.3 183.7" fill="none" stroke="none" marker-start="url(#mxff0010)" marker-mid="url(#mxff0010)" marker-end="url(#mxff0010)"/>
<path d="M657.6 171.7 657.7 158.5 651 170.5 625.6 169.1 667.2 171.2 656.6 181.4 607.3 170.8 645.5 179.7 651.5 172 650.2 179.1 669.1 162.5 675.5 160.5 668.6 170.9 677.8 177.9 658.1 164.6 677.3 175.1 676.1 162.8 615.7 165.1 672 164.8 680 168.9 659.9 164.9 662.5 160.1 670.7 159.8 676 172 660.4 173 672.7 160.1 681.7 177.9 657.9 176.6 652.5 169.2 608.2 164.3 654.5 172.4 641.2 167.7 654.7 181 642.1 178.6 676.5 181.9 622.4 176.5 666.1 175.1 679.9 178 669.8 162 670.7 169 679.4 160.5 623.9 165.8 660.3 160.9 656.1 176.3 673.4 158.9 682.3 166.9 659.4 176 671.1 159.7 668.7 159.3 681.3 179.1 665.7 168.5 653.7 168.4 625.8 158.7 653.5 169.9 639.1 171.3 654.2 175.4 651.5 180.6 626.7 176.4 618.7 176.1 658.1 169.9 624.4 162.7 670.9 163.5 673.8 161.7 676.5 168.9 650.7 172.1 616.2 175.7 614 165.6 670 175.4 648 168 676.7 173.8 677.3 176 676.9 162.1 615.5 159.8 657.5 159.5 673.6 161.4 667.5 168.8 676.8 169.8 658.3 160.8 666.5 160.5 660.8 178 650.4 169.8 683.2 181.2 637.6 163.8 611.6 164.5 611.6 161 665.8 166.1 674.7 162.9 651.7 176.7 608.5 171.5 662 177.7 662.4 177.7 651.2 165.5 644.8 165.3 685.1 180.7 653.9 168.3 670 181.9 674.6 171.1 635.9 172.2 647.6 164.1 676 158.5 626.5 169.8 682.1 180.3 680 176.6 660.6 173.6 629.5 180 587.9 160.1 645.3 162.5 605.9 166.6 674.2 170.5 663.8 175 683.5 172 655.8 179 660.3 175.4 600.6 161.1 610.4 164 674.7 178.9 651.4 176.9 650.4 164.8 666 158.8 661.8 176.8 637.8 162.9 633.7 167.3 650.6 176.1 642.9 181.1 664.6 169 645.8 178.9 665.8 180.7 679 179.7 672.1 161.7 672.1 159.2 630.4 162 676.2 176.9 651.3 173.3 591.5 159.8 657.7 162.8 644.1 169.6 669.8 163.8 633 164.8 654.4 165.1 648.8 172.4 636.5 165.3 654.9 174.6 643.3 158.5 627.8 160.2 658.9 178.3 665.3 164.1 640.5 181.8 672.5 169.2 649.2 180.8 673.2 164.6 671.7 173.4 643.8 166.2 655.7 159.8 679.7 167.3 644 169.7 660.8 171 652.7 179.8 664.1 162.1 658.5 164 670.9 178.2 651 160.5 674.7 180.1 647.5 168.3 601.8 163.9 680 178.5 644.2 176.3 646.4 159.8 678.7 177.7 658.1 178.1 671.5 181.8 653.7 171.4 640.6 159 625.4 170.2 649.3 168.9 653.5 164.3 602.3 161.4 640.3 177 665.1 167.6 631.6 174.4 661.2 172.1 658.8 160.9 665.1 165.8 658 167.8 682.8 170.9 643.2 169 655.1 161.4 625.5 176.8 666.6 159.6 658.8 177.7 676.9 172.5 648.5 165.2 615.7 175.1 619.5 181.4 683.3 173.5 649.3 160.5 662.8 163.5 662.9 169.3 645.5 166.7 675.4 176.4 643.9 171 679.1 173.8 666.3 176.5 633.3 162.6 676.1 162.4 643 168.1 680.4 174.8 678.1 164.8 642.2 165.3 658.8 161 668.2 164.3 682.1 166.2 641.1 164.3 669.4 163.3 645.3 165.8 611.6 161.2 665.8 158.8 649.7 173.5 657.8 165.8 682.4 173.4 641.9 166.1 683.1 173.7 673.3 161.3 600.2 162 680.4 168.4 662.9 164 638.9 178.7 672.5 159.4 648.7 175 659 178.4 677.9 174.8 646.8 158.4 670.2 164.8 632.7 176.3 678.6 173.8 649.4 166.9 662.2 166.2 656.2 167.6 678.9 170.6 662.6 164.4 625.7 178.2 654.2 173 615.7 171.9 665.4 162.4 642.7 180.2 653.4 172.8 660.2 160.7 660.9 159.4 677.8 167.6 662.8 173.2 662.5 170.3 662.1 166.2 659.1 162.5 620.2 168.9 605.7 168.4 648.1 176.2 645.4 172.9 661.9 158.6 630.5 160.6 599.5 165.8 655.4 160.9 671.3 173.3 642.8 179.1 653.5 181.6 645.3 165.3 613.9 163.9 637.4 177.1 613 168.1 680.7 175.3 649.3 179.1 646.6 169.7 615.9 171.7 663 160.1 657.3 177.9 653.6 168.3 651 158.6 660.1 159.7 680.8 175.4 629.7 171 659 169.2 673.4 178.9 662.3 161 674.4 179.4 667.2 177.1 648.7 160.4 643.2 173.6 667.9 161.8 656.4 181.7 675.7 180.9 651.8 159.3 651.7 179 679.9 175 649 161 609.4 161.8 648.1 180 646.9 178.8 651.7 169 653.6 164.4 644.8 174.8 611.6 180.5 663.8 179.9 648.2 160.9 671.8 159.3 650.4 167 681.7 162.9 663.4 160.9 666.9 161.9 626.7 163.4 668.7 160.8 668 169.7 667.5 161.3 598 160.9 626.2 175.7 680 166.4 651.7 167.9 661.8 178.6 651.4 163.5 677.9 162.8 651.4 176.7 611.4 173.4 670.1 165.9 645.4 176.9 659.9 176.1 661.2 161.6 677.7 165.6 640.4 165.3 675.7 168.6 673 173.1 646.9 160.4 656 167.1 671.3 166.6 643.4 158.8 662.5 178.2 632.5 175.1 677.3 163.1 618.8 169.5 633.4 162.2 646.7 169 646.8 164.9 659.7 181.3 672.4 162 641.5 170.7 674.8 161.8 650.1 179" fill="none" stroke="none" marker-start="url(#mxd90338)" marker-mid="url(#mxd90338)" marker-end="url(#mxd90338)"/>
<path d="M651.1 173.3 676.2 165.4 661 160.2 670.8 173 679.6 176.2 642.5 173.9 671.7 165.7 642.9 176.2 626.2 174 664.3 176.1 676 161.2 658.6 171.9 668.1 164.1 603.6 160.3 655.5 182 596.7 159.1 659.8 178.5 676.7 164 663.2 169.9 658 163.1 651.9 173 639.2 177.3 613.3 160 645.1 169.3 673.1 177.8 652.1 178.3 661.7 179.3 645.7 163.2 656.8 181.5 613.3 174.6 649.6 160.1 668.7 159 600.2 159.6 655 176.2 635.3 162.8 644.5 168.7 651.9 164.4 671.8 164.1 645.7 163.8 680.8 163.2 627.9 161 676.9 164.5 645.2 177.5 639.9 161.8 656.5 159.7 660.5 181.1 682 169.5 656.2 174.8 649.5 168.5 630.1 161.8 640.1 180.4 667.7 162.9 644.3 178.7 643.6 164.3 663.6 176.6 671.5 159.2 683.2 171 663.3 169 667.2 174.7 672.7 160.2 595.9 162.2 649.4 171.6 682.7 163.1 642.7 171 649.9 174.6 648.8 172.7 682.1 164.2 602 169.4 650.8 168.2 639.7 170.6 651.1 179.4 657.4 182 658.4 159.9 648.5 167.4 675.2 159.3 609.7 169.2 627.6 162.7 609.7 166.9 597 162.9 672.6 163.9 606.9 172.7 646.2 162.6 679.1 180 662.6 170.9 668 170.6 650.6 179.5 668.6 159.7 675.7 170.9 616.9 175.8 629.7 175.5 633.3 175.5 621.5 169.5 684 170.7 661.7 170.9 658.1 179.9 634.9 161.7 682.2 171.8 645 173.6 647.9 159.9 668.3 162.9 657.2 163.9 680 175.3 672.8 177.5 678.8 178.2 640.7 169.3 642.4 181.5 632.3 169.2 660.7 180.4 658.2 167.5 669.9 179.5 664 175.4 629 161.7 634.9 175.5 677.8 172.6 665.5 163.5 651 173.8 650.3 175.2 684 169.3 643.6 175.8 637.8 173.4 612.7 167.7 658.2 179 672.2 173.7 627.1 181.2 665.5 167.2 655.3 181.4 642.1 168.6 670.1 180.5 676.2 163.4 656.7 162.4 644.7 166.8 661.8 181.8 673 168.8 613.1 165.1 665.6 163 662.1 174 650.1 175.9 655.1 175.2 670.9 164.6 652 167.9 656.8 168.7 665.2 159 672 171.2 655.3 180.9 646 170.1 658.2 162.1 669.4 169.4 649.6 166.3 673 174.2 652.1 159.3 659.1 172.2 671.6 171.6 650.1 162.2 677.3 178 668.3 163.4 612.2 176.5 649.9 166.5 669.1 179.2 651.6 162.8 655.8 176 644.2 178.7 677.8 161.4 623.1 169.7 656.1 160.2 645.1 169.6 650.1 169.6 652 177.3 679 165 665.5 161.5 626.5 176.8 665.1 171.1 682.7 162.9 678.4 168.3 655.6 176.7 643.3 167.3 679.5 159.9 617.8 178 624.1 173.3 655.4 181.1 661.7 160.2 672 161.9 670.6 162.9 684.7 166.7 648.8 166 630.7 172.5 657.4 176.5 664.4 158.5 651.2 161.4 627.7 180.6 659.3 177.8 672.3 168.2 669.3 180.4 641.5 167.5 672.4 164.7 649.4 174 654.1 173.7 675.2 180.5 655.3 167.5 674.4 177.7 660.2 160.3 673.1 173 679.8 171.5 665.1 165.7 650.8 172.1 661.6 181 666.8 163.7 653.9 179.3 655.7 160.3 684.4 167.5 649.5 170.3 663.2 178.6 658.9 171.3 663.6 165.4 671.6 170.5 650.6 171.3 655.5 180.9 682.4 166.9 683.6 171.9 644.7 165.6 662.5 175.4 659.5 175.6 683 177.7 648.9 169.8 657.8 165.8 653.4 167 683.5 179 665.8 180.4 679.3 170.5 679.7 171.5 643 167.7 657.5 164.8 660.3 163.9 631.4 173.4 650.8 173.6 663.5 174.3 601.2 159.1 677.8 159.2 667.5 161.8 649.8 175.7 640.8 164.5 652.4 174.4 656.1 173.8 648.8 161.9 656.2 164 659.3 159.7 646.6 179.9 684.4 171.1 660.1 170.4 659.4 159.8 603.3 177.3 647.4 170.5 672.1 159.8 643.6 166.6 660.7 175.7 683.5 170.8 674.4 163 606.8 166.4 662 175.9 622.7 164.3 621.2 159.5 661.9 163.3 646.3 171.4 632 180.3 640.4 164.4 680.7 163 662 172.8 645.7 178.8 680.8 161.2 630.6 158.9 682.6 178.3 632.8 175.7 680 160.1 595.5 162.8 619.1 169.1 658.6 160.5 664.5 164.5 647.7 171 656.7 163.3 616.9 177.3 641.2 174 672.9 168.1 670 167.6 652.2 181.1 662.9 181 674.6 174.5 617.4 171.5 661.5 167.3 627.1 176.5 674.3 176 669.8 163.7 645 163 680.1 167.3 670.5 171 624.4 173.6 647.8 179.6 660.8 172.3 648.4 171.1 653.9 175 671.8 165.9 641.8 167.2 667.4 158.7 665.8 160 612.4 164.3 669.9 169.1 609.9 167.3 672.7 161.5 662.4 165.9 608.6 173.2 666.2 162 633.7 161.4 609.5 164.6 655.3 164 645.8 174.2 610.8 171.9 669.8 160.5 670 169.5 649.7 174.1 667.3 161.6 618.7 176 664.3 179.6 617.2 174.7 665.8 176.1 671.5 166.7 670.3 161.2 656.7 167.1 645 175.7 627.6 167.2 679.2 175.3 666.4 174.3 641.4 175.8 647.6 163.5 673.7 174.2 654.1 170.8 653.1 177.7 646.5 175.2 658.8 169.3 656.9 171.7 663.8 165.7 656.9 159.6 656.2 173.3 681.6 164.7 658.5 163.7 668.6 158.9" fill="none" stroke="none" marker-start="url(#mxd90338)" marker-mid="url(#mxd90338)" marker-end="url(#mxd90338)"/>
<path d="M665.1 51.1 670.4 58.4 725.1 63.2 678.9 34.9 685.3 61 681.7 54.9 690.4 48.3 678.9 37.5 672.9 61.8 687.9 34.9 682 30.6 658.1 52.3 691 61.9 677.6 58.8 708.7 62.4 713.7 59.5 689.6 54.3 658.3 44.2 679.5 54.6 687.9 47 679.6 53.2 663.1 57.3 667 40.2 691.2 33.1 688.9 36 682.3 36.6 680.8 40 679 63.4 687.1 53.1 687.1 42.5 678.2 58.4 686.2 38.8 677.1 56.6 681.6 25.4 717.4 56.3 694.6 50.5 685.5 55 679.5 56 656.9 56.5 675.6 50.6 682.8 40.4 684.6 53.9 676.1 55 677.7 36.3 682.7 57 713.3 49.4 674.1 39.5 684.8 40.7 688 60.2 667.1 58 685.5 51.3 687.1 35.9 671.8 62.9 673.2 24.1 681.2 29.9 706.2 50.5 679.3 60.4 682.8 23.5 703.1 50.9 698.1 55.6 700.3 52.7 662.5 52.3 670.3 51.8 661.3 32.7 684.8 27.1 685.7 61.9 707.1 52 705.3 58 711.5 52.8 679.5 58.8 711.1 56.7 667.2 48.4 683.9 56.7 716.2 63.9 671.9 58.2 704.7 54.4 693.9 59.2 708 54.9 673.9 30 690.9 34.7 703.4 58.9 689.6 39.9 695.8 63.8 669.8 52 702.1 56.1 707.7 61.5 680.5 62.6 676.2 39.7 704.8 60.4 691.3 28.6 655.2 62.2 667 37.2 682.2 38 666.6 61.6 677.6 28.3 685 57.6 702 59.1 670.1 56.8 664.2 59.4 678 30.7 676.7 37.7 680.1 25.1 672.5 53.3 688.3 27.3 693.4 58.8 689.2 43.7 676.3 55.6 714.5 61.4 690.3 28 716.9 59.7 679.5 41.1 688.8 51.7 686.9 57.7 680.1 38.7 702.7 52.7 712.8 63.7 692.1 41.2 675.3 40.1 676.4 63.6 682.4 48.7 707.8 62.8 698.4 63.5 675.7 59.9 684.4 58.5 704.4 56 686.2 62.3 661.1 36.6 678 40.9 679.9 44.8 682.5 46.9 685.7 38.1 715.1 63.1 684.8 29.1 676 60.5 693 54.5 711 63.3 675.1 42.6 654.1 55.5 670.6 60.3 694.7 53.9 682.4 53.4 679.7 62.4 677.8 59.5 706.1 62.9 711.1 61 704.6 59.6 672.9 52.8 678.8 63.8 684.3 59.3 660.4 36.5 685.4 49.8 690.1 25.7 679.9 23.6 679.9 44.1 684.6 56.9 701.2 63 683.6 40.5 695.8 51 698.4 63.8 695.4 58.3 694.7 57.8 670.4 28.1 701.8 60.5 682.9 56.8 687.9 40 692.3 27.1 698.1 60.3 700 63.3 680.5 52 681.1 48.5 675.1 36.3 685.9 63.3 673 31.6 658.7 52.3 654.2 43.9 696.9 55.4 708.2 59.7 683.3 33.5 699.8 56.9 707.2 58.3 663.9 60.6 666.1 63.6 686 33.2 691.8 33.5 674.7 26.8 674.5 34.5 672.8 34.3 659.2 50 658.7 62.1 682.2 33.1 687.5 59.7 675.8 35.4 688.3 54.8 719.4 62 666.2 46.6 698.5 50.6 677.8 34.4 715.9 61.2 712.4 62.2 665.4 39.8 690.6 36.3 693.7 49.4 693.1 60.5 694.5 54.9 711.6 63.8 672.5 59.9 684.1 61 674.4 31.2 672.6 29.8 677.9 60.9 690.5 26.8 675.9 37.1 673.5 39.9 693.1 57.5 654.4 43.5 670.3 52.9 686.3 25.6 692.5 49.4 677.4 34.1 686 55.5 688.2 30.5 661.8 56.6 692.6 34.7 677.7 36.7 679.1 40.7 682.7 31.7 704.3 56" fill="none" stroke="none" marker-start="url(#mx1a10ff)" marker-mid="url(#mx1a10ff)" marker-end="url(#mx1a10ff)"/>
<path d="M696 103.3 516.9 106.9 503.9 99.5 492.6 89.6 506.8 104.3 503 110.7 485.2 100.7 685.1 89.7 675.1 88.9 524.3 101.2 702.2 106.2 677 101.4 687.8 105.2 522 98.2 517.8 101.3 520 107.5 715.4 88.9 552.1 103.9 700.4 96.9 695.9 101.8 541.7 106.4 704.3 90.7 513.3 96.6 517 105.2 492.4 103.7 688.7 94.8 514.3 108.3 690.3 98.7 496.5 97.2 499.6 97.7 482.6 97.2 701.3 87.8 549.6 109.7 532 106.6 536.3 109.5 518.4 107.2 694.3 90.4 536.6 106.7 543.8 101.2 695.7 91 518.4 102.6 547.5 108.6 717.5 88.2 486.8 89 696.5 108.8 512 110.3 682.2 103.9 528.3 98.2 692.6 99.1 695.8 95.5 673.4 89.3 588.9 111 513.9 95.1 537.5 111 685.3 108.8 687.1 93.8 695.8 89 697.2 93.9 509.8 94.2 558.4 110.1 522.5 105.9 500.6 97.5 535 107.8 519.3 95.8 491 102 483.8 109.2 701.3 90.6 510.9 97.2 701.6 93.6 693.9 108.7 534.3 105.7 514.6 106.5 551.4 106.3 554.6 108.2 682.9 91.5 513.4 105.7 690 108.6 523.6 94.4 717 95.8 497.3 96.5 674 90.6 685 90.9 692 104.9 504.5 100.7 695.7 97.7 519.8 100.9 511.8 97.6 688.7 97.7 527.1 103.9 682.6 91.5 493.8 91.6 533.1 98.2 697 109.8 692.8 91.6 513.4 110.5 490.5 90.4 552.2 106.2 719.2 92.3 688.8 101 680.6 91.4 511.6 99 505 87.7 708.1 97.5 701.3 97.7 527.2 98.8 500.6 102.5 705 98.5 680.3 90.5 532.6 102.7 495.2 105.7 513.6 103.9 547.8 103.2 506.2 102.2 530.2 111 515.1 109.7 547.1 103.3 689.9 87.8 492 90 547.8 103.7 495.9 100.5 503.4 101.8 520.4 96.5 678.8 106 507.7 104.3 557.5 107.3 700.6 108.8 510.6 108.4 690.3 99.6 529.4 105.5 529.5 104.6 696.5 93.6 522.9 103.1 693.7 108.1 676.5 101.5 691.6 94.3 697.5 87.8 487.5 106.5 504.7 104.8 704.1 89.5 515.5 104.9 687.9 101.6 711.1 88.1 493.5 89.4 509.5 95.2 683.7 109.8 498.5 110 503.6 93.2 708.5 91.8 495 108.8 484.5 105.8 530.2 102.7 525 109.9 694.7 96.2 504.6 95.6 699.2 109.1 523.4 110 505.2 110.3 694.4 89 501.2 92.9 698.7 110.5 692.6 101.4 562.7 106.5 532.4 97.3 686.3 95 704.5 98.1 699.6 93.3 483.2 109.1 500 99.2 700.7 91 703.4 88.8 703.6 99.2 697.1 94.2 676.5 94.4 531.6 104.1 484.6 110.3 488.4 87.6 520.7 95 514.5 110.6 493.7 110.3 499.5 100.9 685.8 102.9 527.3 110.4 699.2 107.4 500.1 88.3 710.8 92.2 695 96.7 497.6 89.7 520.3 108 496.1 105.8 520.1 109.6 502.3 88.5 703.2 88.8 708.3 88.1 690.7 100.2 697.6 108.3 506.9 96.3 700.4 97.9 679.1 100.7 492 108.8 515.1 111.1 680.9 91.7 692.5 111.2 478.9 104 542.3 105.7 696.4 105.5 522.5 101.3 493.5 102.1 543.3 102.5 528.8 106.6 554.2 105.2 708.5 95.1 711.1 97.7 702.6 96.4 525.9 105 520.7 107.3 520.6 99.5 497.3 111.1 700.8 97.4 488.6 108.4 542.7 105.5 684.9 88.5 485.1 107.5 686.2 100.8 709.4 91.4 709.6 95.8 544.4 97.3 486.6 95.4 541.7 109.2 492.1 104.3 507.4 89.7 703.7 97.5 543 104.6 689.4 109.3 680.7 91.9 678.4 110 496.8 91.5 553.5 108.4 523.1 110.5 524.1 101.4 549.7 106.8 514.7 104.7 501.2 104 530.2 101.2 486.3 102.5 493.9 100.9 522.9 100.7 694.2 104.3 520.4 105.8 706.4 95 511.4 94.4 709.2 88.4 692.4 92.2 532 106.7 513.8 99.2 509.9 104.1 699.8 99.4 499.4 93.6 718.1 93 679.9 102.4 521.8 110.8 490.8 104.9 501.7 97.6 681 106 482.9 99 687.2 91.7 489 99.4 506.3 97 534.7 98.6 524.2 104.3 679.9 109.5 481.2 101 501.8 90.2 503.3 104.3 551.8 106.3 519.7 110 532.5 109.1 704.5 93 709.4 89.4 518.5 105.7 518.7 107.1 548.1 108 693.7 91.8 532.1 106 678.6 104.2 689.8 107.3 533.9 96.2 527.8 100.1 531 105.2 491.4 111 523.4 96 526.6 103.5 530 101.7 515.7 106.1 490.4 94.7 491.5 91.1 530.2 105.3 499.2 107.2 717.8 87.7 483.9 101 484.2 92.6 714.1 88.3 680.6 92.4 516.9 101.5 545.5 104.2 547.2 109 507.5 107.4 508.4 110.7 694.9 98.5 696.2 94.8 680.4 107.9 496.9 111.1 681.5 91.5 480.3 95.4 722.5 98.2 485.2 110.9 674.5 90.1 703.6 88.9 500.9 109.1 530.9 107.5 510.9 103.6 487.9 99.8 526.5 99.1 525.9 110.2 504.4 98.1 516.6 107.9 537.1 104.5 524.7 104.4 687.3 91.8 674.9 92.5 552.7 111.1 534.7 99 708 90.6 677.3 94.3 699.5 102.6 503.8 101.4 517.5 105.9 502.7 89.7 529.9 105.1 532.3 109.7 486.6 109.6 548.4 104.8 504.2 107.7 506.4 104 478.3 110 499.7 88.6 706.2 96.6 499.2 105.6 520.9 106.7 694.1 98.4 488 107.8 501.8 98.6 510.5 98.7 509 97.2 684.9 89.4 487.2 102.8" fill="none" stroke="none" marker-start="url(#mx660baf)" marker-mid="url(#mx660baf)" marker-end="url(#mx660baf)"/>
<path d="M688.8 32.4 686.7 42.1 716.1 63.1 676.8 54.3 688.5 49.5 669 62.8 675 32.3 668.9 58 701.8 52.3 704.3 55.1 700.7 53 677.3 59.7 703.4 57.1 669.5 40.5 672.8 63.2 681.4 59 673 60.7 660.2 47.9 686 56.5 678.4 35.5 674.8 63.7 657.9 63.7 711.6 54.6 682.7 53.1 683.6 40.6 708.2 52.4 681.6 25.8 672.1 39.2 688.9 28 677.4 60 659.6 46.5 693.8 34.4 704.8 62 677 36.9 677.5 36.8 673.7 56.2 673.1 55.5 716.9 53.6 677.6 60 657.2 36.5 677.3 54.5 675.9 41.9 670.6 53 694.1 37.7 694.9 60.7 672.1 33.1 710.5 59.8 668.6 62 677.9 34.5 701.7 57.1 685.3 63.3 703.7 58.3 677 28.4 685.1 43 686.4 36.2 708.7 61.9 687.1 61.7 708.3 56.6 701.4 52.4 681.3 36.5 672.5 30.1 690.9 50.9 681.1 30.1 671.7 60.2 694 58.3 675.8 34.3 662.5 50 682.3 53.5 662.3 48.3 678.7 42.4 676.6 54.6 688.4 33.2 656.1 36.9 681.5 45.5 665.7 38.6 694.5 55 671.7 38.2 691.9 37.2 668.7 55.4 680.1 42.6 690.7 42.3 714.5 63.4 671.4 57 686.5 50.1 682.7 52.2 688 33.8 682.7 32.2 696.7 55.3 678.8 33.7 684 40 688.7 33.6 680 61.5 674.5 37.6 692.1 29.3 685.8 55 674.8 62.4 678.5 56.9 694.3 63.8 683.3 23.8 714.7 60.1 682.3 62 701.8 59.5 686.1 59.1 689.4 53.4 683 35.2 691.5 38 692.1 35.5 712.2 58.2 657.3 48.2 671.9 26.5 684.6 59.3 687 56.9 699.5 63.1 683.6 34.8 655.1 43.8 680.3 39.1 668 35 702.2 56 672.4 63.6 686.2 34.3 665.8 51.8 695.3 33.5 681.2 31.2 695.1 50.3 681.7 52.7 679.8 24.5 681.6 37.4 682.3 54.7 672.5 34.5 687.6 35 674.7 32.7 681.4 29.9 689.2 32.2 687.5 63.8 690.2 59.4 654.6 59.2 672.1 63 677.7 35.7 672.3 31.8 694.5 52.9 688.4 54 679.4 59.9 688.1 41 680.5 49.1 677.7 53.1 697.4 62 702.2 55.2 685 52.1 722 63.9 678.6 26.1 679.6 40.8 711.6 57.8 700.6 50.4 685.7 31.1 687 42.8 682.9 31.5 688 46.1 696 56.1 677.5 38.9 690.5 37.2 674.1 32.2 673.9 59.4 680.1 58.5 689.1 56.5 704.3 63.8 682.9 52.8 679.7 44.1 694.1 63.3 694 56.6 686.7 42 707.4 59.8 695.3 47.5 714.1 60.3 693.5 56 678.9 30.3 686.9 56.7 701.1 51.9 706.8 63.2 710.7 60.4 673.4 54.5 665.6 52.6 686.3 56.4 668.6 40.7 681.3 59.5 684.9 54.2 684.5 39.7 684.2 43.6 679 50.5 668.6 37.8 685.8 38.9 700.3 57.1 680.7 48.5 679.4 61.2 659.3 59.3 683.8 37.9 683.9 38.2 658.8 40.2 679 27.6 689.8 56.1 678.2 48.2 662.9 51.4 688.7 60.4 700.3 58.1 691.8 61.5 665.4 38.6 713.6 59.8 703.3 56.8 679.9 62.2 683.1 51.5 681.4 36 681.5 30.3 675.1 53.2 679.9 28.4 658.9 61.3 695.9 50.6 675.3 37.1 714.5 55.9 712.3 55.3 661.9 49.6 711.2 57.2 679.3 54.8 677.8 37.8 711.8 61.7 702.9 59.1 692.3 36.6 676.8 57 685.2 31.8 683.1 37.1" fill="none" stroke="none" marker-start="url(#mx1a10ff)" marker-mid="url(#mx1a10ff)" marker-end="url(#mx1a10ff)"/>
<path d="M497.6 102.2 688.9 92.6 496.9 102.2 504 94.8 512.3 94.9 498.7 91.4 517.7 104.1 483.6 102.9 487.5 96.6 686.9 89.3 684.8 89.9 500.1 97.2 485.8 99 486.3 109.9 498.5 108.2 533.7 103 517.7 104 695 109.9 679.6 99 676.4 91 495.6 101.3 684.1 93.9 690.9 92.3 711.7 88.7 521.8 105.4 511.1 89.2 685.2 106.4 526.2 103.6 482.3 97.9 508 88 546.5 103.1 703.8 91.5 699 108 573.6 110.5 684.3 98.3 481.9 108.8 517.6 97.8 487.4 96.5 670.7 88 511.4 93.9 709.7 89.5 507.8 87.9 687.5 101.5 687.4 108.9 696.7 100.9 694.7 98.9 506 103.7 513.5 93.1 691.2 99.7 488.8 98 709.7 95.6 703.4 89.9 701.8 95.9 693.9 102.8 506 93 539 100.5 494.8 98.3 707.9 90.8 691.9 96.8 505.5 99 513.4 99.5 712.7 87.8 522.7 109.4 696.3 107.1 683.4 92 491.9 109.5 699 95.7 691.6 92.2 545 108.5 690.2 106.1 482.3 103.7 502.9 109.4 705.4 90.9 529.2 105.1 519.3 100.3 702.2 106.8 693 92.3 493.2 107.8 712.3 88 482.8 108.1 718 92.1 552.3 111 685.3 98.5 515.3 95.6 494.7 102 707.1 97.2 550.8 109.6 710.5 95.6 709.7 90.2 490.3 101.3 499.3 87.8 537.4 100.9 516.4 98.7 523.2 103.5 676.2 110.9 685.5 105.5 694.1 95.7 497 87.9 526 101.6 502.6 92.2 696.6 104.7 560.4 107 678.5 106.8 491.7 110.5 481.5 102.4 491.5 100.7 715 90.1 517.7 94.5 486.4 92.6 693.2 94.2 514.5 94.7 516.9 100 524 110 691.4 93.5 528.1 103.9 479.1 107.1 512.9 100.5 493.8 97.9 682.3 92.7 519.3 94.4 685.5 92.1 690.2 104.6 509.9 101.9 699.4 99.9 498.9 93.7 504.5 98 691 97.1 510.4 103.7 677.2 109.5 512 94.7 523.8 109.1 703.3 94.8 701.7 96.6 678.4 88.8 514.1 110.7 550.5 107.9 509.8 104.9 683.1 105 710.3 88 545.3 109.6 560 110.5 484.7 100.1 548.6 108.7 711.5 93.7 691.6 94.7 492.4 94.9 488.5 107.4 684.5 90.6 491.7 94.1 500.3 96.2 537.2 99.3 720 88.1 703 98.5 715.5 89.7 531.1 109.8 484.5 95.6 526.9 96.7 515 101.5 496.8 100.9 527.9 109.1 717.1 88.6 485.4 100.7 522.6 105.1 510.6 92.1 495.9 92.7 514.6 91.4 686.7 97.1 535.2 104.3 681.2 102.1 696.9 98.9 527.1 101.9 527.6 95 516.2 94.6 703.8 89.5 531.1 103.1 686.9 97.4 505.4 96.2 509.5 102.1 527.7 93.6 529.2 97.2 528.4 99.6 522.8 105.8 530.9 101.2 514.2 102.2 503 97.9 699.2 89.3 525.3 95.2 491.7 109 694 97.9 494.3 107.4 684.6 98.9 682.1 107.1 523 111.1 479.8 103 508.5 110.2 688.8 97.2 549.1 108.2 547.9 109.3 528.2 107.2 697.5 100.1 684.3 102.9 516.4 98.1 540.1 104.2 512.7 107.9 536.7 105.4 685.9 96.9 543.9 101.6 549.2 105.7 478.7 102.1 479.7 111.1 536.7 101.4 523.9 99.3 485.3 94.9 506.9 100.7 716.5 90.1 481.6 104.9 543.3 102 688.2 104.7 498.5 107.6 522.4 108 531.4 107.8 505.6 87.7 525.7 95.5 509.7 99.6 519.1 95.8 512.8 94.2 706.9 87.8 487.7 92.4 720.6 87.9 682.9 97 502.2 106.7 485.1 109.7 486.9 90.4 505.6 107.9 511.2 88.7 498.9 87.6 524.2 104.1 692.1 105 550.8 107.5 534 98.2 714.2 91.4 506.1 91.1 677 105 585.2 109.1 713 90.7 708.8 97.4 502.3 100.9 489.8 94.5 520.9 104.9 487.1 106.1 508.2 103.7 491.4 102 530.4 106.6 499.6 108.3 478.1 103.8 498 103.4 492.5 109.8 522.3 103.8 522 97 704.2 95.5 485.8 109.5 516.4 89 679.4 92.4 668.6 89 528.3 109.7 512.9 110.4 502.8 103 502.7 98.8 525.4 97.8 547.8 102.7 508.5 103.7 687.2 110.6 480 101.4 506.4 89 709.1 90.5 514.5 106.1 487.3 105.1 479.6 109.8 511.4 92.1 481.9 107.7 515 95.7 675.6 94.5 520.3 107.7 696.8 94.1 688.7 91.1 687.7 105.5 486.5 96.7 503 89.9 543.4 105.3 509 98.6 533.7 106.3 486.5 98.9 521.9 98.4 489 96.8 503.8 92.9 510.2 89.3 515.9 96.3 528.9 97.2 480.3 104.5 702.4 100.6 695.6 101.9 494.4 105.6 693.2 98.2 507.2 90.8 516.7 101.3 696.3 97.9 541.2 101.9 518.6 110.3 509.9 108.6 511.8 95.2 512.8 98.9 693.6 92.4 693.4 95.4 539.6 100 671.7 90.5 519.8 97.6 544 110.9 718.3 91.9 539.4 105 489.5 106.8 490.1 109.6 722.4 88.2 513.9 92.4 682.9 110.5 520.7 105.4 489.5 98.8 500 111.2 499.9 108.4 505.2 106.1 489 100.1 508.9 94.5 696 93 515.1 108.2 518.8 103.6 505 110.9 539.1 107.6 538.7 105.4 715.4 90.9 497.1 103.3 499.9 94.1 499.3 102.5 511.2 100.3 673.6 107.1 498.8 106.2 685.4 95.1 696 97.3 692.3 93.6 495.3 97.9 502.7 90.1 698.4 98.2 489.1 107.5 485.6 108.4 483.4 100 539.7 105.9 496.4 107.8 530.2 98.2" fill="none" stroke="none" marker-start="url(#mx660baf)" marker-mid="url(#mx660baf)" marker-end="url(#mx660baf)"/>
<path d="M677.2 161.9 683.8 179.1 655.8 159 615.2 161.9 649.2 168.1 668 172.9 641.5 163.2 606.6 163.7 663.3 165.3 646.7 160.9 649.5 180.6 664.6 181.1 606.4 162.7 666.4 174.2 648.7 175.1 621.3 176.3 655 171.6 634.5 158.9 662.9 174.7 645.7 163.4 681.5 176.5 627.6 166.6 659.6 164 677.4 165 655.6 175.1 662.7 171.8 649.5 161.2 605.7 162 653.5 178.7 675.6 178 635.5 177.4 655.7 178.2 673.4 179.9 672.2 172.4 678.9 162.7 659.1 164.7 667.2 170.3 668.3 158.8 652.4 161.6 654.2 166.8 680.6 163.2 658.1 177.7 653.8 169.4 673.6 165.7 597.5 168.4 641.6 169.4 648.8 163.1 627.4 181.2 611.1 168.6 651.1 159.7 645.9 171.3 675 170 625 164.7 640.7 173.6 667.4 180 659.2 180 599.1 158.6 655.4 165.2 636.2 160.8 650.1 178.3 666.4 159.1 663.2 160.2 648 161.2 675.9 177.3 675.4 171.3 668.9 169.4 660.2 168.8 674.1 160.8 622.5 172.8 649.5 169 652.5 163.8 650.9 160.9 675.8 159.6 678.6 158.7 647.5 165.5 675.3 178.8 673.3 174.1 646.3 176.9 671.7 171.1 668.8 171.6 664.3 171.3 660.7 174.4 661 179.8 650.2 162.2 645.3 163.2 647.7 159.6 663.9 173.2 639.5 161.5 671.2 163 628.4 172.2 658.5 173.1 621.7 171.1 641.3 168.3 646.9 165.2 640 177.8 664.2 163.6 667.3 173.6 644.5 160 621 175.9 620.3 165 681.4 165.9 640.3 165.5 674.3 162.8 656 172.6 670.3 158.9 678.4 165.8 614.8 158.7 642.4 176.8 667.7 171 650.7 172.2 652.3 170.9 679.8 171.4 603 164.7 649 167.9 655.5 164.8 665.6 159.3 664 166 678.4 167.7 601.8 159 659.4 180.3 682.5 169.7 661.1 178.5 650 179.4 680.9 160.7 679.2 177.6 649.9 173.6 648.6 174.6 640.9 164.3 649.8 164.3 664 167.4 659.3 165.2 684.4 164.6 680.5 168.8 664.7 163.7 665.7 168.9 634.1 165.5 641.6 159 669.8 160.1 660.6 162 618.3 162.9 639.5 176.5 655.3 168.2 644.2 164.5 596 164.6 679.8 165.9 641.6 176.5 659.6 179.3 648.4 174.8 671.8 163.4 666.3 160.7 649 158.6 676 159.1 678.1 179.3 659 160.5 678.3 174.2 649.1 169.1 678.5 164.8 628.6 158.9 672.5 165.9 640.8 176.7 625.1 179.2 668.1 163.2 656.6 169.7 684.2 164.7 644.1 178.5 639.6 178.3 683 167.8 616.6 166.8 662.6 174.8 656.9 161.8 651.3 166.8 673 174.1 659.5 159.6 670.2 166.4 654.7 162.5 682.5 164.7 635.4 170.7 623.6 178.5 659 178.5 661.1 159.9 653.7 174.2 660.1 177.1 677.5 181.2 681.4 170.5 672.6 162.3 672.3 168.3 664.8 175.3 666.8 175.5 652.3 166.3 665.9 175.9 644 167.5 656.1 175.1 673.8 182 668.2 166.7 678.4 159.1 661.9 174.8 673.7 164.7 640.4 176.5 680.9 179.5 670.5 163 656 161.3 592.2 158.9 658 163.5 681 174.8 655.4 174.2 672.1 164 643.9 169 674.2 158.9 666.5 181 604.3 172.6 663.4 165.3 658.1 173.4 648.9 175.1 600.9 159 653.3 175.2 669.6 174.9 675.6 180.3 678.4 167.9 642 180.2 651.3 179.4 678.1 162 625.1 158.8 611.5 177 643.6 174.3 644.1 168.6 672.6 159.2 666 179.5 597.3 172.9 680.7 169.8 638.4 162.5 611.3 160.6 658.7 176.9 593.5 160.6 611.6 165.2 669.4 171.3 675 170.5 626.3 162.9 681 173.5 658.7 159.6 640.7 167.9 631.4 168.5 651.9 164.9 673.2 171.8 656.1 181.1 667.3 162.2 612.3 167.3 655.5 175.4 653.9 178.3 679.6 158.7 599.4 166.6 688.1 169.8 673.2 162.3 630.1 161.6 645.4 180.8 662.8 175.8 662.7 175.3 656.4 169.2 635.5 178.5 630.1 180.2 665 170.2 667 168 647.7 177.3 620.4 164 668.2 179.5 642.1 177.8 611.4 170.4 632 176 665.8 179.6 654.9 181.3 649.7 158.6 673.4 160.4 669.7 158.9 649.8 171.4 668 164.3 655.1 168.2 652 176.6 639.6 163.8 653.1 166.5 678.3 178.3 677.9 164.5 675.3 161 662.7 175.6 680 168 661.3 174.8 662.1 174.6 670.2 162.1 672.4 160.9 680.5 161.8 663.1 176.7 653.7 167.1 660.9 179.8 653.7 181 654.5 175.6 678.8 176.7 637.7 160.1 647.9 172.3 665.9 165.3 665.8 166.6 665.8 162 658.7 175.8 624.8 162.1 617.3 158.6 657.8 163.3 663.8 163.4 647.6 176 646.5 180.8 668.9 180.1 641.9 181.9 620.5 169 664.4 168.7 662.1 164.1 664.7 158.4 675.8 168.5 674.4 181.1 642 178 677 172.2 660 174.9 602 169.1 655.2 181.8 673.7 164.1 602.9 161.2 658.6 160.4 648.5 158.8 647.8 163.8 648.4 175 659.6 163.9 648.7 174 658.9 172.8 683.1 160.3 642 179.3 657.9 166.3 666.5 160 647.7 173.7 661.1 177.2 659.3 174.9 670.8 166 647.2 160.3 647.3 175.5 677.6 159.6 674 179.2 647.5 164.8 626.2 181.6 655.5 162.6" fill="none" stroke="none" marker-start="url(#mxd90338)" marker-mid="url(#mxd90338)" marker-end="url(#mxd90338)"/>
<path d="M665.2 142.1 659.4 156.9 603.9 137.5 683.2 147.9 665.3 139.8 572 137.3 539.3 137.5 631.5 153.5 598.3 152.8 532.9 138.5 530 135.9 694.1 138.1 671.9 143.8 681.3 146.2 662.9 146.3 605.6 144.2 528.8 142.8 616.7 151.3 652.7 156.2 517.6 137.6 613.6 148.4 597.2 141.9 544.3 142.4 670.9 153.2 687.6 139.9 676.8 156.5 569.6 140.4 542.8 140.7 543.4 138.9 663 154.4 618.3 141.4 677.9 154.9 541.6 136.2 535.3 149.6 664.1 137.5 545.6 138.2 604.2 138.9 660.9 138.3 622.2 149.8 682.1 139 539.6 143.8 584.1 140.4 540.5 141.9 668.3 155.1 687.5 142.5 687.4 142.4 694.9 138 518.8 137.5 664.5 158.4 613.3 151.7 689.3 147.9 576.2 144 540.2 145.3 623.4 157.9 676.5 153.9 660.2 154.5 582.7 141.4 674.8 140.1 538.5 135.6 540 144.2 659.6 139.9 686.1 137.1 682.1 154.3 662.2 139.5 535.3 142.9 685 137.8 521.1 142.2 694.1 135.2 671.8 156 664.2 146.6 539.1 141.7 545.2 144.8 664.2 157.8 610.9 138.2 555.9 135.1 685.1 137.3 668.1 139 594.9 146.6 677.7 147.3 603.1 147.3 511.8 138.4 674.6 141.9 550.8 139.8 577.8 152.6 661 149.5 681.2 155.6 667 148.5 532.1 146.5 674 148 616.1 142.9 541.8 137.1 540.7 141.7 522.1 136.2 625.4 153.7 671.1 144.9 684.1 136.1 669.1 155.4 532.9 140.3 584.3 136.5 584.6 142.7 659.3 138.8 667.8 145.8 691 138.7 610.1 139 551.2 144.6 664.6 157.3 531.2 136.2 568.8 140.5 534.4 151.8 535 146.3 614.1 151 656.9 156.9 632.8 151.5 574.3 137.2 514.4 140.7 514.6 140.9 672.9 149.4 526.3 136.6 688.3 143.1 658.4 147.1 543.1 142.6 594.7 140.7 564.7 136.8 634.3 156.6 537.2 147.2 530.3 149.8 531.4 135.9 568.9 152.1 606.9 149.2 658.9 155.3 682.6 144.5 666.1 157 541.2 143.9 659 157.7 679 147.6 649.4 155.9 580.5 145.6 680.8 141.3 563.9 141.8 693.1 141.2 590.1 148.3 660.5 156 693.6 143.8 662.9 153.4 688 138.6 674.2 144 539.8 147 536.8 148.6 618.4 140.2 582.5 141.7 677.8 149.8 580.6 140.7 522.3 136.2 662.3 145.3 591.4 138.6 521.4 138.4 556.1 135.3 676.5 149.8 687.2 136.7 601.3 139.7 587.8 157.4 618.4 154.5 537.9 136 668 156.5 494.4 136.3 539.4 148.5 676.2 145.3 671.6 145.1 686.9 141.4 547 138.1 676.3 134.9 669.1 157.3 663.5 154.1 525.8 138.9 527.9 139.2 666.6 154.2 610.9 153.3 531.2 146.2 662.3 142.1 678.7 154 671.5 141.7 548.9 142.6 526.9 143.8 526.7 142.5 659.1 137.8 571.5 140.1 594 158.1 625.9 148.5 582.5 140.6 531.6 144.1 548 140.8 518.2 139 679 145.8 672 152.6 551.4 143 543.6 139.6 612.5 153.2 629.1 148.9 668.7 139.5 675.6 152.3 664.6 156.8 531.3 138.6 681.4 152.2 548.4 144 582.1 145.7 683 148.7 519.1 140.6 618.7 153.7 531.3 146.6 670.7 150.2 661.1 156.7 605 155.2 663.1 146.5 691.7 136.9 664 154.8 607.7 158.2 610 151.3 663.3 157.6 686.8 142.5 562.3 135.7 620.9 146.5 603 140.2 620.7 158.3 557.9 134.8 512.7 135.4 679.3 136.3 574.4 148.6 535.7 139.7 593 140.6 676.2 146.7 629.1 150.5 672.9 142.9 579.5 141.3 520.2 138.8 684.2 149.9 636.6 156.9 675.8 142.7 588.4 142.6 686.4 137.5 660.2 156.1 569.7 148.5 574.6 137.9 683.9 135.3 666.7 157.9 531.7 138.6 663.6 144.5 579.1 148.3 649.2 145.3 660.3 139.4 664.2 156.8 541.7 150.8 633.8 155 583.9 150.6 674.9 154.4 669.8 138.4 544.2 136.3 524.2 139.6 577.5 152.5 550.8 142.5 530.8 147.8 555.5 141.2 696.8 134.8 570.6 143.6 562.7 139.4 655.1 158.3 508.1 140 532.6 136 659.8 138.1 659.1 148.6 570.2 139.8 683.6 145.9 588.1 158.1 573.7 149.7 627.4 154.2 551.2 136.5 607.6 154.1 519.8 139.1 655.3 158.1 594.1 150.8 624.1 150 672.1 146.4 673.2 150.3 536.4 139.7 580.9 146.9 547.6 147.1 669.2 155.9 600.9 145.1 702.9 135.2 523.9 140.4 669.3 158.1 658.9 147.3 561.6 138.5 632.2 157.9 542.7 150 540 145.4 581.5 150.5 580.3 147.1 656.9 156.5 527 138.5 677 135.3 588.7 140.2 564.3 139.7 673.1 154.7 611.7 142.4 534.5 139.2 676.6 135.7 665.5 149.7 666.4 135.1 587.4 156.4 686.2 144.1 681.9 145.1 541.4 140.8 655.9 157.2 577.9 149.7 661.8 157.7 677.8 148.4 699 137.4 549.9 141.7 555.5 135.9 550.3 138.5 663.2 155.6 596.1 142 586.3 139.9" fill="none" stroke="none" marker-start="url(#mxb30560)" marker-mid="url(#mxb30560)" marker-end="url(#mxb30560)"/>
<path d="M671.7 186.3 676.7 187.9 668.3 189.2 672.3 183.9 660.2 190 655.9 193.8 661.6 189.9 652.7 186.1 671.7 192.9 648.4 193.6 672.1 193.7 645.9 182.7 644.9 189.5 671.3 191.8 650.7 189.2 665.5 185.1 662.1 187.9 648.8 186.7 675 190 670.8 191.3 673 191.7 662.1 189 669 192.6 656.9 191.6 654.9 191.7 633.2 184 651.6 186.2 663.4 194.2 647.4 200.6 636.2 187.1 663.5 190.2 656 187.4 668.4 186.8 653.5 188.8 659.9 190.8 640 188.6 656.4 182.7 671.6 183.8 656 188 668.6 183.3 658.5 185.9 668.9 183.7 670 194.4 678.1 188.4 665.1 197.6 655 186.4 661.2 184.1 644.4 192.3 650.6 182.2 660.2 182.8 680.1 182.8 670.4 182.5 670.6 185 661.5 182.2 660.5 196.1 670.1 190 669.4 189.9 639.2 184 674.2 187.1 654.8 184 645.1 189.8 658.4 185.8 656.1 196.3 660.9 198.9 650.9 191.3 657.9 190.7 650.6 196.8 656.8 193.8 645.4 184 676.8 187.1 669.9 184.4 647.9 188.5 663.1 187.2 675.3 188.5 645.7 190.1 659 202.3 647.1 187.3 676.4 188.8 656.1 183.8 659.8 199.9 659 188.9 677.3 186.5 681.6 183.6 650.7 187.3 639.1 183.9 646.3 194.3 669.3 188.5 649.9 196.4 661.2 195.4 667.1 184.9 671.7 186.9 644.8 196 650.2 196.1 650.8 186.2 664.1 189.8 621.3 182 654.9 194.2 647.9 182.9 655.7 199.1 660.5 195.5 670.6 186.5 674.6 182.1 642.9 187.8 661.6 196.3 649 184.1 651.6 184.4 661.5 190.6 643.8 186.5 671.6 192 650 186.2 666.5 198.4 655.4 189.5 657.1 191.6 651.9 187.3 662.3 190.8 667.2 183.5 643 188.4 671.5 187.5 671.3 195.2 648.5 187 648.4 190.5 665.7 195.1 663.2 194.8 674.5 189.2 637.2 187.2 652.7 190.2 655.6 192.8 662.2 190.5 644.9 186.3 663.8 190.5 645 183.4 658.5 188.1 661.5 184.3 665 199.6 658 187.4 671.1 185.5 674.5 186.9 681 183.3 652.4 185.1 660.7 191.8 647.4 193.8 644.9 182.4 638.7 188.5 646.3 184.9 667.4 193 671.4 184.6" fill="none" stroke="none" marker-start="url(#mxff0010)" marker-mid="url(#mxff0010)" marker-end="url(#mxff0010)"/>
<path d="M718.2 85.3 696.1 80.3 676.7 75.7 702.9 71.1 723.3 83.6 669.9 70.9 689.1 69.9 678.6 79.8 674.2 76.3 683.7 70.6 697.7 71.8 669.7 81.9 682.1 83.7 670.3 81.2 693.4 71.3 683.5 86.1 689.8 74.6 693.3 74.7 692.8 68.5 727.6 70.2 714.7 70.7 720 67.7 702 82.2 710.7 65.1 720.9 78.7 723.1 78.8 710.3 67.7 698.1 69.7 664.8 69.2 682.6 73.8 689.6 80.9 678.3 85.8 714.6 84.9 717.8 72 712.9 85.1 661.6 72.2 724.1 68.1 674.8 86.5 714.8 77.4 674.6 67.5 695 70.7 685.4 86.9 666.1 85.5 693.6 68.5 696.3 65.1 663.6 79 711.4 70.7 665.5 68.3 679.2 73.4 706.5 75.5 678 66.5 689.7 72.2 713.8 77 700.9 67.2 717.3 65.4 715.2 65.4 666.4 81.4 702.3 67 703.4 84.9 680.9 65.6 709.6 66.8 702.6 83.4 503.7 86.1 665.7 78.4 685.3 87.5 696.1 87.1 706.8 72.2 732.1 68.7 665.8 81 692.2 80.5 684.9 77.9 685.6 79.2 683.8 79.3 664.1 70.1 684.4 73.3 698.2 85.9 689.7 68 717.9 87 717.8 84.5 684.4 75.5 711 82.7 686.6 68.7 693 72.3 716.4 85.1 708.1 87.4 717.4 87.3 671 83.4 681.1 87.4 714.7 79.3 672.6 68.3 712.2 69.4 683.9 64.4 679.1 78.4 692.7 72 678.8 81.4 707.6 85.6 694.5 78 700.7 75.1 710.3 75.3 683.7 74.3 693.8 80.5 693.7 65.7 694.6 64.2 679.1 84.2 663.6 80 700.8 67.7 662.3 69.3 686.4 64.4 695.7 79.4 719.7 67.6 686.5 84.2 694.9 84.8 694.7 70.6 727.1 74.8 691.9 78.9 678.8 83.1 674.6 74.5 687.6 79.1 693.7 73.6 659.6 69.5 684.4 74.6 716 83.1 689.7 86.7 670.6 73 702.1 71.8 674.8 80.9 680.7 87.5 690.3 72.6 671.4 65.1 702.9 81.1 499.1 86.8 664 71.4 718.1 70.9 673.1 64.2 719.1 79.9 723.4 67.6 667.2 68.1 676.2 67.2 708.2 71.5 671.7 86.2 703.6 86.9 695.4 81.8 698.5 69.7 690.4 86.9 693 73.6 493.4 84.7 714.2 75.2 691.1 80.4 689.4 75.9 686.9 78.1 698.7 80 715.7 74 722.1 73.5 673.4 71.6 721.6 87.2 662.3 71.7 663.8 77.3 695.1 76.7 673.7 71.6 717.9 74.7 675.2 76.5 666.5 77.8 721.4 80.6 713.9 80.7 721.4 70.7 700.8 67.6 719.8 69.4 697.7 64.4 666.7 80.4 663.8 74.8 663.2 79.4 714.9 76 708.5 86.6 678 71.5 704.4 82.8 706 75.8 676 72.4 681.6 75 666 76.3 661.7 82.6 710.3 83.5 701.7 71 663.6 67.3 661 85 675.8 78 721.3 71.9 720.5 76.3 674.1 70.5 679.3 73.4 702.8 79.1 689.2 81.5 681 65 710.4 71.4 721.3 71 714.1 69.6 692.3 76.1 709.7 75.1 717.4 82.3 692.9 77.8 674.3 75 678.8 84.6 683.1 77.9 718.2 77.8 700.6 65.1 715.4 69.5 683.4 68.3 685.1 67.9 674.6 86.5 674.8 70.6 689.3 66.2 723.6 65.5 711.9 87.3 679.4 83.9 693.7 68.1 686.8 64.6 692.8 71.5 672.3 86.1 694 68.8 709.2 65.9 674.8 86.5 668.5 70.5 717.4 65.2 683.8 64.6 675.4 83.5 689.2 82 705.1 79.7 672.3 70 697.7 84.7 715.7 77.3 671.8 81.9 669.4 71.9 673 79.8 686.6 75.1 710.5 76.2 661.7 83.6 699.3 67.7 661.2 73.5 659.7 73.3 700.1 84.9 718.1 86.7 708.3 67.6 726 78.3 693.2 77.8 678.3 75.2 677.5 73.4 675.6 84.1 719 86.8 725 75.3 664 83.4 706 77.3 710.5 86.3 717.2 84.5 672.4 86.8 717.6 66.5 671.1 75.1 719.9 80.8 670.6 74.8 708.5 77 688.7 73.9 708.5 81 675.7 78.4 673.8 66.6 697.2 73.6 705.7 79.4 704.7 86.2 669.7 64.7 717.8 79.9 684.4 80.9 705.2 79.5 665.3 80 687.5 86.7 666 70.6 696.5 76.4 696.4 65.2 725.4 76.5 682.2 71.1 676.8 74.8 688.5 74.8 696 76.3" fill="none" stroke="none" marker-start="url(#mx400dd7)" marker-mid="url(#mx400dd7)" marker-end="url(#mx400dd7)"/>
<path d="M668.8 63.9 707.1 55.9 691.5 50.9 692.4 49.1 707.5 61.8 679.2 46 692.3 53.6 687.9 43.6 694.7 56.5 678.8 34.2 711.3 62.6 682.4 48.3 679.1 62 682.6 53.1 657.8 58 700.7 61.9 673.2 61 684.7 27.7 683.8 41.5 685.5 42.5 704.2 61.6 683.8 58.4 689.9 33.9 664.1 56.7 671.4 57 658.5 40.3 706.8 61.3 687.7 21.3 684.1 48.8 682 27.3 692.7 33.1 681.4 50 682.2 54.6 692.9 58.4 681.2 29.9 679.4 63.9 672.2 35 692.8 55.4 696.2 61.9 692.3 38.5 663.3 34.8 683.1 59.7 683.7 60.1 672.7 23.4 661.1 40 692.8 58.1 679.9 37.9 700.4 62.3 661.5 60.8 675.9 43.1 674 36.1 689.3 48.1 680.6 53.6 674.1 59 669 55.5 678.2 51 684.7 31.6 664.7 48.9 693.6 63.3 687.5 54.8 711.6 62.4 693.8 60.3 686 41.7 686.7 52.8 702.1 58.3 677.4 28.9 683.8 62.1 689.6 47 671.3 55 674.6 38.4 686.3 25.7 699.8 53.5 681.3 63.8 691 57.5 690.2 32.3 679.3 51.6 673.6 28.1 671.5 56 679.3 30.4 681.9 50.8 702.7 59.3 680.9 38.8 701.2 52.7 687.5 35.3 705.7 57.9 677.3 42.4 688.3 39.2 671.7 51.6 687.4 61.7 699.4 63.5 662.9 53.5 669.6 52.3 709.1 57.5 677.5 34.8 667.2 30.5 717.5 63.3 674.8 63.2 656 52.5 688.7 31.3 665.2 62.7 672.7 33.9 687.2 52.1 686 35.5 698.3 59.5 688.7 31.4 681 56.6 686.4 39.9 689.5 62.4 659 41.2 688.6 33.7 675.4 48.5 691.2 41.7 689.4 63.6 672.7 59 708 53.6 687.9 53.5 681.4 42.1 690.9 29.5 674 39.5 684.8 34.1 706.2 63.1 670.5 52.5 712.4 62.9 680.4 32.2 690.6 27.5 709 63.1 681.3 24.8 657 35.4 661 60.2 693.2 33.3 695.3 52 706.2 63.1 676.9 35.6 677.4 23 708.6 57.8 674.9 38.4 670 38.9 681.2 62.1 677.1 52.4 660.2 37 676 60.9 710.8 57.7 651.7 44 672.3 30.1 680.9 54.8 690.1 37.3 686 45 682.9 31.4 674.5 56 691.4 49.7 703.8 51.9 684.6 25.3 676.8 33.7 676.2 62.1 716.4 63.3 655 61.6 658.2 63.4 692.5 57.2 683.4 32.6 688.6 31.7 665.7 63.8 679.7 45 699.1 57.4 686.8 52.9 685.6 51.8 668.7 58.1 680.3 50.4 676.6 47.4 675 28.6 678.1 37 682 29.1 688.9 56.4 654.4 46.8 692.6 55.4 670.3 56.9 713.8 60.6 678.9 47.7 673.4 36.3 675.1 34.2 682.7 54.7 712.3 59 692.1 29.9 682.8 57.8 704.1 53.3 693.3 38.2 673.8 58.6 678.2 35.1 689 58.9 718.9 62.6 687.7 27.2 682.9 42.2 684.9 51.6 673.7 61.7 685.1 32.9 706.4 57.5 691.8 59.3 706.2 60.8 686.2 25 668.2 39.6 683 51.8 672 32.7 697.7 54 685.6 33.6 670.3 61.2 706.1 57 672.2 35.4 680.6 51.1 706.8 63.6 672.1 31.2 675.8 52.6 687.4 31.8 679.4 60.3 676.3 23.8 664.2 38.2 692.2 61.2 678.1 27.5 679.1 18.1 685.5 34.4 685.9 27.8 658.3 47.4 690.8 24.9 682.3 23.8 679.2 40.1 716.2 60.1 706.9 62.3 689.4 55.6 678.2 63.8 685.7 46.4" fill="none" stroke="none" marker-start="url(#mx1a10ff)" marker-mid="url(#mx1a10ff)" marker-end="url(#mx1a10ff)"/>
<path d="M678.8 128.8 560.5 126.6 672.7 126 498.9 121.1 532.6 112.1 527.6 118.5 561.9 133.6 562.9 116.2 530.6 116 549.6 133.1 486.4 121.6 510.3 128.9 501 126.3 541.6 113.5 541.6 125.9 498.2 130.4 550 127.4 572.7 119 546 120.6 553.2 129.3 595.9 128.4 534.2 113.5 496 125.8 491 121.2 533.2 133.1 665.4 124.3 517.6 129.8 514.2 118.6 555.1 123.4 499.4 123 580.2 126.8 529.4 119.5 539.3 120.2 519.6 129.6 508.5 134.2 695.2 115.4 500.9 114.5 499.3 115 495.6 125 498.9 122.8 541.2 124.3 559.6 118.1 488.8 124.6 563.4 126.1 519.2 130.3 481.9 123.7 493.1 131.3 591.3 121.4 488.5 113.6 545 127.6 543.2 119.8 562 129 544.2 118.3 586.2 124.1 579.1 124.5 530 122.9 512 112.8 499.7 130 514.3 131.8 549.4 116.9 593.6 130.1 490.4 112.8 542.2 130.9 533.4 128.3 560.9 132.6 501.9 114.1 510.1 133.6 531 134.1 677.5 117.5 671 129.8 678.5 132.8 480.2 113.1 679.8 114 541.1 128.4 568 133.2 515 112.5 584 120.1 544 134.6 543.7 130 559 129.9 513.5 112.5 686.4 119.8 541.4 119.5 503.4 126.8 687.6 126.5 548.5 122.2 575.8 134.4 671 128.5 517.7 112 686.4 119.2 520.1 112.2 479.2 117.2 499.5 126 519.3 126.7 505.5 121 494.6 122.9 484.4 116.4 506.4 126.2 513.3 124.6 537.5 119.7 510.6 120.9 503.2 127.9 529.5 115.3 591.8 134.5 692.8 124.6 534.9 113.6 543 118.8 523 131.5 567.7 127.7 523.8 114.4 540.6 128.6 676.2 132.8 525 121.5 516.6 117.5 674.9 130.3 667.5 118.9 549.2 111.8 563.8 132.9 585.6 134.5 486 126.4 536.8 124.7 497 113 560 128.9 498.4 112.3 565.8 123.7 536.9 119 670.1 132.1 568.9 114.4 693.2 121.3 681.4 120.6 527.8 132.6 673.5 126.5 571 129.2 566.5 120.3 480.6 117.1 670.1 121.3 513.3 114.3 498.6 118.3 665.8 126.4 674.8 121.7 492.4 132.3 675.3 112.5 561.6 124.5 498.3 120.6 524.2 114 538.2 111.6 611.6 126.3 517.7 130.1 687.3 132.3 541.3 118 491.7 118.4 515 114 521.2 122.5 562.4 125.8 490.2 114.7 524.8 120.6 539.4 119.4 514.6 117.2 513.4 112.7 588.3 124 573.9 132.3 601.2 123.3 500.3 130 504.5 119.9 577.6 129.3 679.2 116.9 564.4 131 500.5 127 500.6 134.5 599.2 116.2 536.4 118.6 511.8 114.9 557.8 123 522.5 128.7 487.9 123.9 506.4 117 689.9 127.8 515.1 117.1 494.3 127.7 549.8 128.8 491.5 126.9 514 126.4 564.9 133.1 537.5 113.2 499 119.2 515.5 116.9 489.4 113.4 685.3 124.2 523.1 122.6 483.5 120 676.3 127.5 666.3 133.9 549.3 130.4 567.5 126.2 566.4 119 549.5 126.2 559.1 112.2 683.9 117.1 675.7 122.8 702 121.2 544.5 114.7 691.9 128.8 500 127.8 687 117.3 675.6 120.7 536.2 112.7 545 131.2 563.8 134.1 542.2 120.2 521.4 114.6 591.4 114 550.2 117.2 493.1 131.1 558.5 122 552.3 114.9 565.4 120.8 556.3 133.5 546.6 124.5 501.3 131.9 539.9 116.1 514.1 131.5 536.7 117.8 508.8 118 542.8 129.7 518.2 120.9 495.9 115.5 495.4 121.9 522.7 112.6 671.1 122.9 536.9 132.8 527.1 113.3 661.5 115 494 131.5 695.8 117.6 496 116.4 675.5 113.1 677.6 134.6 682.4 119.9 682.7 121 552.6 134.8 588.5 121 560.7 120.6 546.6 118.6 557.7 116.5 544.9 128.5 502 127.6 594 129.1 535.4 130.4 505.4 111.8 680.7 121.3 668.1 128.3 683.4 114.8 538.1 118 486.5 124 556.5 121.2 544.5 118.3 521.9 115.4 511.7 129.6 668.2 132.3 545.8 111.9 512.6 122.6 487.6 112.9 577 123.2 505.8 116.8 500.3 133.2 506.9 113 492.1 127.1 521.4 129.1 601.4 125 521.2 117 571.5 117.1 666.7 130.8 667.4 132.7 494.4 116.4 497.2 122.1 537.7 117.6 682.3 127.7 508.2 126.7 557 111.3 496.1 120.9 552.3 112.2 574.2 121.1 583.3 126.7 669.9 124.5 504 125.6 541.8 122.7 696.7 122.5 526.6 131.6 677 122 542 134.4 574.5 120.8 678.9 117.9 487.8 117 507.6 118.2 672.3 130.1 543 112.6 560.6 114.1 700.5 128.1 534.6 125.7 522 119.2 538.8 114.7 571.7 129.9 674.4 134.2 586.3 125.5 691.4 114.9 550.5 117.8 487.9 112.5 501.1 115.3 495.7 114.5 526.5 112.2 536.6 112.8 500.3 114.8 497.1 131 542 127.1 521.4 114.9 521.4 132.4 556.7 113.4 498.8 121.2 500.7 124.8 499.3 126.7 568.2 121.4 606 115.7 674 112.8 543 116.5 547.7 119.9 537.3 115.4 562.8 116.4 549.2 114.4 520.9 123.7 502.5 128 525.5 112.5 511.1 119 687.9 132.7 568.7 132.4 520.2 128.4 680.2 123.2 601.7 120.3 570.7 126.7 557.9 120.8 677.8 113.5 508.5 129 525.3 124.2 577.6 122.7 550.5 131.8 519.4 111.9 540.8 119.5 516.2 119 672 120.8 696.8 128.4 693.4 116.1 520.1 124.6 585.9 125.6 557.6 115.3 480.7 118.9 673.1 119.5 684 118.6 508.1 132.6 555.9 129.9 500.8 114.1 685.1 122.1 493.5 117.9 526.5 125.9 484.3 124.2 535.1 118.2 492.1 130.5 525.7 114.4 678.1 116.3 536.7 118.6 509.2 133.7 699.4 121.2 518.4 119 488 115.3 689.8 122.8 535.1 116.6 495.9 133.7 595.5 134.8 513.3 120.3 538.3 119.7 675.8 132.4 507.8 115.9 521.7 119.5 526.7 111.6 545.8 126.5 523.6 121.4 557.4 132.9 525.6 121 506.1 113.8 499.8 122.4 537.3 127.2 518.7 121.7 566 131.3 506.5 131 559.1 121.6 527.3 116 689 128.3 555.6 133.4 695.6 120.9 587.3 126.4 518 120.1 561.3 127.2 519.4 127.4 693.8 122 557.9 121.7 538.5 126 492.8 112.3 538.1 114.5 590.1 121.6 620.9 133.3 491.9 117.2 676.4 128.5 499.3 113.8 532.1 111.6 695.6 122.2 532.1 134.7 514.5 118.3 575.6 133 512.1 129.1 689.1 126.9 514 124.1 525.1 116.6 501.6 130.9 523.8 120.2 509.4 114.3 691.4 126.8 503.1 113.3 491.2 115.5 510.4 113.6 558.9 120.1 550.1 123.5 539.1 128.4 536.9 121 601 129.5 696.3 122.1 496.2 117.1 558 130.6 692.8 126.8 532.2 114.1 534.8 114.4 554 117.2 524.7 114.1 512.6 130 529.9 134.8 504.2 120.3 484.2 122.9 542.6 111.7 531 130.8 695.3 112.7 694 119.2 521.9 132.6 497.6 128.4 534.7 115.4 492.1 129 671.2 134.7 556.6 125.7 491.9 121.3 521.3 116.2 687.5 124.7 679 134.8 495.7 130.4 537 125.4 494.1 129.7 556.7 117.5 551.2 111.3 559.4 132.7 519.9 124.4 484.2 112.8 585.5 129.4 513 131.5 536.4 125.4 553.5 124.6 480.4 119.5 532.1 132 685.2 120.2 531.9 115.2 503.2 133.6 480.7 117.6 488.2 122.8 545.3 117.6 500.3 121.8 597.7 125.4 485 115.3 541.1 125.7 513.7 131.8 520.8 118.2 514.1 127.3 523.3 125.5 540.9 126.6 525.2 131.6 675.2 117.9 545 132.1 522.9 124.5 528.1 113.1 551.6 115.3 521.7 119.3 532.8 127.9 490.4 117.4 684.9 116.6 514.6 125.9 688.6 113.9 489.7 117.4 696.7 125.7" fill="none" stroke="none" marker-start="url(#mx8c0888)" marker-mid="url(#mx8c0888)" marker-end="url(#mx8c0888)"/>
<rect x="449.5" y="11.1" width="313.1" height="223" fill="none" stroke="#111" stroke-width="2"/>
<text class="t" x="534.8" y="32.1" textLength="118.1" lengthAdjust="spacingAndGlyphs">Ref/HDAC6</text>
<ellipse cx="733.6" cy="201" rx="21.2" ry="19.7" fill="#dcdcdc"/>
<text class="L" x="733.6" y="209.2">D</text>
<text class="n" x="441.8" y="27.5" text-anchor="end">60</text>
<text class="n" x="441.8" y="63.2" text-anchor="end">40</text>
<text class="n" x="441.8" y="98.9" text-anchor="end">20</text>
<text class="n" x="441.8" y="134.6" text-anchor="end">0</text>
<text class="n" x="441.8" y="170.3" text-anchor="end">-20</text>
<text class="n" x="441.8" y="206" text-anchor="end">-40</text>
<text class="n" x="441.8" y="241.7" text-anchor="end">-60</text>
<text class="n" x="451.5" y="257.5" text-anchor="middle">-60</text>
<text class="n" x="503.6" y="257.5" text-anchor="middle">-40</text>
<text class="n" x="555.6" y="257.5" text-anchor="middle">-20</text>
<text class="n" x="607.6" y="257.5" text-anchor="middle">0</text>
<text class="n" x="659.7" y="257.5" text-anchor="middle">20</text>
<text class="n" x="711.8" y="257.5" text-anchor="middle">40</text>
<text class="n" x="763.8" y="257.5" text-anchor="middle">60</text>
<path d="M107.6 388.1 102.2 386.3 99.6 372.4 121.9 379.1 89 371.5 79.2 407.9 106.9 387.4 141.9 376.6 76.5 376.9 141.3 371.8 72.9 363.8 86.7 399.2 182.8 445.6 82.2 376.9 129.2 370.7 68.8 364.6 86.4 394.2 68.8 368.1 111.6 380.3 84.4 371.6 91.2 376 97.8 365.9 206.6 459.9 111.5 383.4 305.6 422.7 226.5 441 72.1 397.4 188.5 443.2 106.8 367.6 88.5 357.3 87.9 385.9 201.2 436.6 75.1 371.5 148 376.5 78 375.1 80.6 407.8 107.9 408.4 124.8 377.9 76.8 372.6 95.1 365.2 77.9 393.4 85.2 383.7 87.6 380.8 76.8 367.5 91.1 361.7 82.7 384.2 311.4 403.3 112.8 398.4 61.1 380.2 83.7 370.4 110.8 395.4 143.9 390.5 80.3 402.8 73.3 376.4 68.8 376.4 288.7 403.5 123.8 372.4 74.4 379.4 79.5 402.2 105.4 379.3 127.7 391.5 165.2 451 129.6 379.7 109.8 384.6 319.5 414.2 121.1 371.3 118 382.4 105.3 413 114.8 392.9 78 367.7 71.6 367.2 85 364.8 321.1 425 83 381.7 100.4 368.3 219.5 467.4 125.8 372.9 134.1 383.7 88.8 381.8 108.7 385.4 95.7 384.9 296.6 418.5 310.4 396.1 103.9 390.9 163 441.4 66.5 386.5 88 372.5 121.1 395.1 71.6 377.7 85.7 370.8 146.1 373.6 120.1 393.2 127.9 382.2" fill="none" stroke="none" marker-start="url(#md2412ee)" marker-mid="url(#md2412ee)" marker-end="url(#md2412ee)"/>
<path d="M120.1 408.2 190.4 462 341.8 321 107.4 382.6 296 397.9 94.5 411.2 252.8 470.4 300 396.5 270.9 453.8 231.6 449.9 324.2 379.6 250.2 467.8 153.1 382 316.3 410.9 97 375.5 101.3 371.3 326.5 390.4 99.4 397 317.1 409.1 316.9 339.4 348 344.2 127.6 403.3 277.4 422 265 445.5 312.5 316.7 169.6 454 230.2 418.5 152.3 386.7 83.3 397.2 117.2 379.5 194.5 473.2 179.2 440.2 322.1 350.3 161.6 373.6 309 440.2 312.2 426.5 339.6 321.2 281.7 408.5 81 369.4 306.7 438.9 295.9 410 98.9 393.1 197.7 449.8 352.3 343.4 295.4 407.1 85.4 391.9 129 389 63 384.6 212.9 453.6 336.2 338.3 209.8 465.3 299.1 398.2 214.8 438.3 289.3 403.7 85.5 406.4 325.4 348.6 296.5 369.7 315 410.3 134.2 410 116.6 381.2 170 407.6 114.5 372.1 323.5 392.6 97.8 411.7 297.6 383 172.2 475.1 66 370 323.8 361.5 320.1 430.6 245.2 472.1 308.7 360.9 76.2 401.9 321.5 391.6 199.5 411.7 84 359.5 195.3 453.5 171.3 479.2 189.6 451.1 118.8 408 299.6 369.1 204.8 469.1 99.3 401.4 161.5 388.7 119 392.3 122.4 398.2 302.8 414.2 304.2 417.3 58.6 391.7 309.1 370.1 335.8 352.6 97.2 403.3 330.1 332.9 170.1 470.5 332 369.7 246.1 463.9 79.7 362.4 294.4 413 121.5 407.3 355.6 337 178.4 413.6 328.1 390 294.7 451.1 280.6 458.8 150.1 383.8 169.6 403.4 278.1 419.7 139.7 420.9 104.4 385.7 325.4 361.1 102.2 379.6 90.3 409.1 318.8 336.5 148.2 386.8" fill="none" stroke="none" marker-start="url(#md5c12c8)" marker-mid="url(#md5c12c8)" marker-end="url(#md5c12c8)"/>
<path d="M144.4 397.3 146.8 403.6 165.6 408.3 164.2 416.9 137 415.5 155.3 375.7 156.3 404.8 154 378.1 173.3 387.6 154.5 408.3 171.3 459.6 195.8 414.5 196.2 422 145.8 407.3 147.5 391.1 139.7 412.7 227.9 454.5 155.9 368.7 154.1 422 157.5 407.4 154.1 367.8 227.9 460.3 160.2 379.9 176 403.9 166.8 389.7 166.1 399 151.7 392.2 159 391.8 168.5 393.2 155.6 382.3 160.6 408.4 156.2 370.9 225.5 460.3 168.8 397.7 219.9 458 173.5 393.1" fill="none" stroke="none" marker-start="url(#mdf01020)" marker-mid="url(#mdf01020)" marker-end="url(#mdf01020)"/>
<path d="M167.8 453.6 319.5 405.2 219.3 445.5 180.5 451.4 314.7 374.3 131.1 416.6 306.5 432.6 329.4 328 163.8 413.9 156.1 410.1 324.5 330.8 184 475 141.8 387.6 326.9 377.4 232.5 428.1 193.8 435.7 290.2 411.9 211.5 470.3 305.9 352.7 312.8 368.7 243.4 454.5 170.2 389.1 322.9 368.3 276.3 439.7 172 452.4 283 446.8 280.7 435.5 300.1 409 184.9 421.5 144.2 369.8 213.8 433.1 151.4 374.6 177.2 468.9 284.9 432.5 326.9 334.4 333 357.5 219.3 437.8 280 437.1 149.1 409.1 171.7 469 299.3 363.8 317.9 393.2 284.4 444.6 308.8 286.4 300.9 293.7 305.9 377.8 177.8 398.4 314.7 342.8 336.2 349.3 174.3 461.7 260.8 440.3 200.5 462 219.4 439.8 295.1 458.5 331.2 381.6 286.6 453.1 315.6 381.5 171.1 382.6 277.3 433.2 262.4 460.7 307.3 417.3 335.4 412.4 315 307.2 293.4 422.6 256.2 441.1 303.6 406.4 307.2 343.5 272.4 427.5 154.4 423.4 278.6 424.5 202.7 470.2 305.8 344.6 243.8 461.2 307.4 304.9 194.5 427.5 295.1 379.8 310.4 420.4 322.6 382.3 333.3 370.2 278.5 457.8 244.4 458.9 225.2 419.1 229.2 441.7 212.3 415.1 319.2 429.2 182.2 469.4 181.7 456.8 228.6 447.6 266.9 436.9 139.5 408.8 215.2 442.6 297.5 392.4 264.2 442.3 320.4 415.5 308.1 332.6 219 422.9 320 363.7 331.4 411.9 181.7 459.8 145.8 372.5 168.9 389.7 158.3 387.7 348 334.1 331.8 358.2 309.4 347.6 200 470.2 189.6 429.9 149.8 380.5 173.6 414.1 306.9 301 299.1 434.5 172.9 484.3 275.2 437.5 171.5 428.1 183 480.2 233.8 441 241.5 465 166.9 394.8 277.7 435.5 334.8 379.8 276.6 449.1 137.8 404.4 189.6 413.5 169.7 447.4 335.1 384.9 304 387.4 170.4 465.6 307.4 294.1 262.8 464.9 299.9 392.1 281.3 420.7 309.8 410.1 258.3 456.4 322.6 338.6 176.2 435.9 150 415.1 292.4 406.7 236 469 133.4 406.6 320.3 428.1 312.2 381.3 264.1 461.4 231.7 422.4 319.8 433.3 271.8 443.6 290.6 388.4 326.7 371 322.6 317.7 259 460.4 195.8 416.2 178.9 419.7 142.8 385.1 288 416.9 331.3 412.3 284.7 450.5 207.6 443.2 288.5 454.1 265.1 441.4 332.4 381 323.7 398.7" fill="none" stroke="none" marker-start="url(#mda8106a)" marker-mid="url(#mda8106a)" marker-end="url(#mda8106a)"/>
<path d="M69.3 381.7 301.4 351.9 318.8 322.5 79 403.5 215.2 444.6 307.9 390.5 70.8 375.3 311.7 358.9 60.9 384.4 159.3 375.4 295.1 446.8 248.7 458.3 337 353.7 305.9 377.1 298.9 382.7 214.5 415.9 101.5 396.4 339.3 352.6 189.4 472.8 338.1 339.3 175.6 426.7 301 415.7 158.4 406.8 128.1 381.8 331.2 327.6 322.9 393 328.8 358.7 198.3 423.5 80.6 361.2 187.5 411.6 300 379.8 113.7 403.5 79.8 371.6 215.5 428 92.5 373.8 122.2 401 302.3 444.4 320.4 336.9 300 285.5 199.2 428.1 99.1 359.4 118.1 400.1 330.3 344 101.2 395.9 93.4 404.2 92.9 407.2 112.9 370.9 79.9 395.6 255.5 465.9 319.2 352 189.5 447.5 315.8 406.8 115 397.3 234.2 467.9 126.1 385.3 329.5 406.8 94.1 400.8 129.7 390.2 231.7 467.1 354.7 340.9 69.3 371.7 96 394.2 118.4 397.2 306.9 390.7 347.1 330 104.2 402 67.9 366.2 102.8 373.7 212.5 462.6 132.1 384.9 166.9 441.9 321.5 419 108.2 402.8 102.6 392.2 155.2 413.7 337.9 335.4 281.2 408.9 212 465.6 308.5 450.5 299.5 302.3 81 388.5 87.6 407.3 195.6 431.2 181.5 464.1 303.3 390.5 67.2 379.3 313.6 296.5 306.7 400.8 307.3 418.6 325.2 425.2 194.2 471.7 290.6 419.6 274.9 425 176.8 425.4 132.4 381.2 235.9 446.3 233.9 452.3 316.6 314.4 308 375.6 168.9 375.6 97.1 407.7 173.7 422.3 115.1 377.5 111.4 400.8 319.9 336 313.7 357.3 73 382.7 306.4 403.1 99.6 407.5 186.5 474.6 291.6 408.8 137.7 368.7" fill="none" stroke="none" marker-start="url(#md5c12c8)" marker-mid="url(#md5c12c8)" marker-end="url(#md5c12c8)"/>
<path d="M343.3 324.3 157.6 389 202.4 411.5 322.9 333.1 337.9 355.3 144.6 381.6 333.3 393.7 344.9 347.7 293.1 413.2 325.5 388.4 145.4 370.4 309.6 435.7 292.4 424.8 265.1 443 319.8 396 296.7 423.5 183.2 462.6 333.6 396.1 133.7 404.2 162.1 377.8 339.2 384.4 320.3 376.9 309.2 391.7 327.8 400.3 136.4 408 210.8 421.7 311.2 407.1 293.3 434.9 184.9 477.4 307 306.2 167.6 452.8 334.8 322 294.4 436.8 289.2 390.1 206.1 413.2 220.7 464.6 179.6 425.8 298.6 437.8 267.5 457.4 214.1 419.2 134.8 418.3 291.4 424 335.1 314 316.5 303.5 169.5 382.4 325.2 349.6 207.7 423 277.6 416.7 137.7 403.5 149.6 409.8 328 397 236.4 441.9 250.6 464 167.4 466 223 452.2 170 476.8 137.6 381.4 308 426.6 206.8 471.5 216.3 452.7 330.6 405.3 316.7 309.7 347.9 328.4 297.3 400.2 287.5 451.2 325.3 345.3 235.7 458.9 299.3 307.8 142.1 390.4 308.4 407.1 138.1 380.2 198.4 414 325.8 356.5 178.4 459.5 307.5 361.9 335.8 370.5 320.2 350.1 332.4 399.3 168.4 461.3 312.5 395.9 165.2 456.2 230 460.6 345.8 320.6 315.1 418.7 305 359.6 300.3 317.5 290.3 451.3 309.4 425.6 276 450.7 282.4 443 263.9 456.8 308.5 343.3 155.7 377.9 204 464 301.5 409 235.7 453.7 338.3 333.8 302.9 353.1 315.2 350.4 319.6 419.1 251.8 451.6 192.2 422.7 134.7 383.3 294.9 387.9 304.9 452 295.1 437.6 338.8 325.9 199.4 465.2 311.7 428.7 143.3 372 185.2 436.5 320.6 397.1 306.8 438.6 140 379.2 300.9 291.1 307.4 407.8 151.6 375.6 305.7 374.8 225.3 453.4 234.8 463.5 349.4 346.6 203.1 449.9 314.6 301.8 334.2 395 223.7 462.8 330.8 382.2 156.4 389.6 209.9 432.9 318.7 401.1 193.3 431.1 151.6 397.6 308.5 413.4 212.6 436.3 138.4 401.6 156.8 384.4 294.6 439.8 311.3 415.5 175.2 470 342.7 342.2 301.7 312.4 209.1 435.5 311.8 421.5 188.5 461.7 320.5 386.1 331.8 314.2 195.8 436.6 279.5 423.6 312.4 436.6 300.3 432.1 322 374.2 301.3 419.1 328.2 411.9 312.2 388 229.1 428.2 166.7 442.4 314.8 368.8 189.8 439.3 307.3 347.9 300.1 398.9 253.2 465.8" fill="none" stroke="none" marker-start="url(#mda8106a)" marker-mid="url(#mda8106a)" marker-end="url(#mda8106a)"/>
<path d="M166.9 377.7 162.8 370 148.6 380.1 167.4 384.6 135 397.4 146.3 399.1 145.6 404 215.7 414.8 168.8 416.8 169 420.5 178.1 398 186.6 408.4 211.6 467.4 140.4 379.6 180.6 414.7 157.7 369.7 148.7 415.7 157.1 415.3 162.4 385 148.5 397.2 178.7 449.4 153.6 389.8 155.1 408.5 147.5 385.3 150.4 368.3 153.8 402.6 167.6 401.5 147.3 413.3 179.5 393.8 142.6 394.7 170.7 380.3 176 383.6 172.8 389.7 156.2 413.9 163.6 377.7 185.5 416.8 147.7 371.2" fill="none" stroke="none" marker-start="url(#mdf01020)" marker-mid="url(#mdf01020)" marker-end="url(#mdf01020)"/>
<path d="M159.7 410.4 130.9 404.5 161 369.6 175.2 388.4 139.7 377 133.3 414.8 168.3 409.4 168.5 479.8 166.1 409.5 158 415 159 421.1 136.9 392.8 146.7 418.5 182.4 398.3 214.8 440.4 167 406 141.4 374.9 150.7 421.2 148.1 404.4 142.3 376.7 151.6 418.1 133.6 402.4 155.2 421.4 149.5 391.4 168 410.3 175.6 411.7 187.5 463.8 153.8 371.3 221.5 456.2 179 415.6 128.2 400.8 151.1 378.7 165.9 386.5 131.1 402.1 174 404 163.4 404.8 138.4 398.2" fill="none" stroke="none" marker-start="url(#mdf01020)" marker-mid="url(#mdf01020)" marker-end="url(#mdf01020)"/>
<path d="M133.9 375.6 110.5 394.8 122.3 387.6 105.2 403.7 305 400.3 85.1 390 202.1 415.2 98.2 372.8 106.9 365.3 92.5 377.5 98.8 388.6 76.6 371.4 133.9 370.4 78.6 392.9 84.4 365.7 106.3 366 123.6 393.2 199.9 457 96.2 390.5 195.9 459.7 97.3 367.8 194 441.1 120.1 367.2 119.4 385.8 67 383.2 203.4 436.1 68.7 398.5 323.1 406.7 138.4 384.5 73.5 387.4 117.7 406.9 319.7 418.7 222.3 468.8 310.1 411.6 75.3 388.6 129.4 377.2 83 410.2 109.5 366.5 163.8 448.1 114.9 381.4 303.9 390 139.2 386.3 226 447.6 133 380.5 124.7 393.3 76.5 406.4 88.2 361.7 192.5 415.7 126.1 391.3 90 380.9 323.7 399.6 115.4 385.3 85.9 388.4 109.3 373.3 72.6 371.6 94.9 390.7 75.7 396.6 79.9 414.3 104.9 382.1 115.3 381.5 155 376 117.7 372.6 91.9 399.7 94.8 396.7 67.2 368.4 302.3 387.6 317.4 400.8 109.5 390.6 126.4 378 122.4 379.9 86 406.1 90.7 395.2 137 375 62.5 388.1 100.1 362.4 80.1 400.5 127.2 371.8 126.6 388.3 80.4 391.8 318.9 405.4 305.9 406.6 123.7 394 65.5 368.1 81.7 381.6 119.9 386 85.1 397.1 129.2 377.1 114.5 367.3 98.2 367.2 127.6 373.7 97.1 381.2 115.6 405.5 72 388.7" fill="none" stroke="none" marker-start="url(#md2412ee)" marker-mid="url(#md2412ee)" marker-end="url(#md2412ee)"/>
<path d="M145.1 376.4 134 409.8 163 416.8 155.3 362 169.5 447.7 162.1 409.8 160 411.2 164.3 375.5 162.5 401.4 163.1 395.6 158.4 398.9 213.4 439.2 156.3 402.7 179.8 398.1 144.1 416.2 155.3 386 164.7 380.8 179.7 397.3 183.8 400.4 185.8 407.4 156.1 396.1 197.7 431.2 161.7 412.8 238.2 444.9 128.3 415.6 170.4 404.6 163.3 381.5 150.3 371.2 141.2 410.1 138.5 410.8 150.1 407.2 155.1 382.5 216.4 434.7 155.4 401.1 134.6 387.3 170.4 395.1 149.4 376" fill="none" stroke="none" marker-start="url(#mdf01020)" marker-mid="url(#mdf01020)" marker-end="url(#mdf01020)"/>
<path d="M317.9 363.9 305.5 355.5 270.7 446.6 266.7 455.5 257.2 467 300.1 404.6 335 344.6 362.8 338.2 214.4 447.2 206.8 410 87 378.7 318.6 314.7 163.9 387.5 323.9 396.6 307.9 351.6 221.7 425.5 196 468.9 255.4 444.7 335.2 390.5 152.5 366.1 311.7 445.3 332.8 406.6 294.5 443 313.6 443.3 336.1 389 109.3 371.4 188 469.9 100.8 405.3 300 287.5 312.2 401 70.3 394.5 315.3 436.5 305.5 290.3 258.7 452 323.3 352.6 172 440.2 288.1 412.8 320.9 345.1 179.1 412.1 331.5 377.8 178.1 481.7 182.3 470.9 115.6 409.5 305.4 369.9 209 452.1 252.4 459.7 317 292.3 289.7 441 270.9 422.3 309.2 308.5 228.1 464.7 273.3 458.9 286 423.3 207.7 472.9 120.1 406.3 71.8 393.1 103.8 402.4 207.1 431.2 267.3 463.8 314.9 387.1 335.2 330.7 105.9 400.2 181.2 482.3 92.1 412.6 282.7 422.7 315 392.1 322.4 344.8 107 372.8 286 411.9 182.1 425.3 112.1 390.6 143.6 403.4 271.3 420.8 331.1 375.3 282 440.1 300.6 358.9 349.7 334.3 140.8 420.2 148.3 398.5 250.6 460.6 298.7 452.8 186.1 452.1 322.3 328.2 91.5 393.9 222.8 438.5 186.3 472.4 271.9 437.2 132.2 411.8 281.9 450.3 314.9 297.8 257.3 456.7 322 424.7 131.6 414.3 303.6 410 268.9 426.9 250.9 448 296.2 431.7 222.5 453.7 242.3 466.7 311.4 353.6 300.2 425.1 240.2 464.9 305.2 303.5 290.4 384.4 302 317.4 114.1 386.4 329.1 364.4 325.6 394.4 67.4 393.5 253 457.4 183.2 451.7 303.2 426.8 331.1 362.7 318.7 347 316 334.3 115.2 369 295.7 376.6 317 327.5 330.6 376 199.7 434 307.8 365.2 290.8 381.8 113.1 402.8 344.5 341 329.5 313.9 290.6 456.7 304.4 348.6 302.4 440.9 294.9 404.3 335.7 372.1 302.2 389.9 313.4 395.3 127.9 409.6 271 429.1 333.2 332.5 308.1 443.8 100.7 409.6 299.4 375 339.6 357.5 344.2 354 311.2 291.9 180.3 476.4 179.3 419.2 320.3 411.3 218.4 448.5 311.6 350.4 290.8 449.1" fill="none" stroke="none" marker-start="url(#md8010a0)" marker-mid="url(#md8010a0)" marker-end="url(#md8010a0)"/>
<path d="M312.1 294.3 271.9 458.4 296.3 402.9 258.7 447.7 128.5 407.2 274.1 461.9 289.1 407.1 318.2 296.5 302.7 390.3 330.1 321.8 102.7 401.4 316.9 440.4 270.7 446.6 132.3 369.6 144.3 380 244.3 458.9 113.4 383.6 338 317.5 314.8 401.8 348.9 322 303.7 286 313.7 405 332.7 361.1 318 425.8 133.6 372.8 298.5 418.2 68.5 392.5 134.7 390.2 322.7 357 175.1 478 320.3 358.5 186.6 449.3 205.1 416.1 320 305.4 320.5 296.7 221.1 419.9 237.8 471.5 318.4 332.5 316.5 321.8 326 341.5 84.3 404.8 301.7 373.7 226.9 426.5 240.7 455.4 288.8 378.8 214.3 423.5 319.2 385 161.2 391.7 281.6 437.1 200.2 432.4 180.7 409.8 183.9 433.2 205 441.2 217.4 451 242.1 468.4 198 420.2 280.4 432.6 320.7 371.1 318.3 418.1 318 313.8 307.5 313.1 256.7 444.8 206.1 453.4 284.4 424.6 288.5 450.7 196.8 419.9 324.3 367.7 268 461.1 251.5 474 340.3 343.4 335.3 331.8 337.3 359.4 293.5 415.5 323 316.5 313.1 415.2 109.6 393.9 285.7 397.2 174.9 467.6 268.5 443.6 274.8 459.6 226.5 448.4 272.3 426.7 300.9 400.4 112.9 390.1 298.5 452.2 301.7 453.2 239.5 461.6 313.4 431.3 142.4 419.4 205.8 445.4 92.4 392.2 305.5 385 143.5 399.6 295.4 374.9 203.6 457.6 108 408 281.2 427.2 173.5 410 333.6 376.5 162.5 436.7 93.7 361.8 310.8 365.8 145.7 418.4 193.6 428.2 285.7 429.6 335.2 317.3 308.1 315.5 257.1 463.9 318.5 375.2 310.5 404.8 287.1 380.3 350.5 335.7 142 380.3 323 313.4 176.7 409.7 255.5 461.4 277.5 418.8 183.8 444.5 138.1 416.5 305.8 395.3 283.2 410.9 328.9 319.3 287 444.1 274.5 414.6 138.2 392.1 330.6 414.9 310.9 311.3 320 422.1 318.5 330.2 201.2 416 119.9 385.8 311.3 402.1 309.3 369.9 303.5 375.7 259.6 467.4 211.2 425.6 350.1 328.2 228.6 468.7 83.9 376.2 284.4 455.7 313.9 442.2 109.8 399.3 301 413.4 318.9 418.8 152.2 448.4 231.7 443.2 306.8 398" fill="none" stroke="none" marker-start="url(#md8010a0)" marker-mid="url(#md8010a0)" marker-end="url(#md8010a0)"/>
<path d="M89.2 402.4 124 384.5 122.8 380.8 139.6 379.9 109.8 412.6 135.2 376.1 112 391.6 88.8 370.3 328.5 410.9 120.1 374.5 109.3 391.2 102.5 393.7 87.2 404.4 84 404.4 87 394.5 111.1 384.7 112.7 410.8 66.8 383.9 139.4 377.6 134.3 386.6 121.3 376.2 151.2 385.2 126 377.6 119.3 378.2 103.9 383.5 129.6 375.5 318.4 415.5 98.2 388.9 123.1 393.2 134.7 381.1 76.5 375 93.5 377.6 106.1 362.6 139.2 389.4 292.1 403.4 66.7 381.2 78.5 406.6 89 366.5 98 388.8 103.8 398.4 92.9 383.1 98.8 366 75.3 368.9 130.4 373.1 75.7 359.9 80.4 362.1 136.5 391.9 122.8 388.8 131.3 378.3 101.7 387.5 86.3 368.5 331.7 407.2 128.6 386.6 113.4 372.7 142.8 373.6 65.8 387.3 92.1 382.5 126.3 374.3 103.9 393.3 63.1 374.8 116.5 376.4 111.3 378.6 163.6 433.8 88.6 386.5 84.7 382.3 99.5 372.5 193.5 443.4 315.1 397.8 143.5 383.3 81.6 377.8 115.7 371.9 291.7 394.8 104.7 414.8 96.3 377.2 84.7 375.6 305.8 396.7 93.7 380.3 78 378.4 95.9 394 85.4 404.7 142.8 386.2 102.5 374.2 84.9 399.3 96.2 407.6 115.9 395.7 105.5 367.3 119.8 371.2 314.1 425 80.4 365.2 113.5 405.4 109 413.9 75.4 388.3 130.7 370.3" fill="none" stroke="none" marker-start="url(#md2412ee)" marker-mid="url(#md2412ee)" marker-end="url(#md2412ee)"/>
<path d="M93.2 409 211.4 445.2 88.3 410.6 90.5 369.1 93.6 369.6 132.7 381.7 203.1 442.5 307.1 402.7 323.5 395.9 339 378.8 249.3 451.4 327.3 373.6 76.7 386.8 277.2 426.6 92 409 297.9 393.8 234 452 212 436.5 94 406.9 124.3 368.4 103.1 390.8 325.2 373.7 246.7 467.7 105.1 394.6 172.5 398.1 310.9 358.8 312.3 374.9 89.3 371.5 171.3 471.7 126.9 385.4 233.8 448.7 275.6 423.6 89.8 406.9 94.7 403.7 298.8 392.9 318.8 325.5 327.5 403 339 379.1 323.9 414.1 323.2 361.1 319.8 351.8 325.9 417 322.9 321 77.4 397 319.5 389.9 340.4 323.5 329.2 316.7 263.2 447.8 281.4 446.7 302 430.6 118.4 376.9 277.7 412.4 323.6 387.6 148.1 383.9 114.6 395.9 95.3 372.7 327.6 360.2 293.6 398.4 325.1 405.3 126.9 383.1 322.6 381.7 310.4 371.7 342.2 333.5 126.3 370.2 72.5 385.6 292.7 438.1 126.6 388.5 68.9 401.1 108.4 397.1 274.8 440.9 193.8 452 122.3 403.8 99.6 412 81.1 387.8 230.3 457.7 103.7 382.4 117 404.9 198.2 447.3 210.7 460.1 121.4 367.9 104.4 376.8 91.7 402.9 195.3 410.8 105.4 405.6 302.7 400 168.4 456.7 260.6 445.3 193.5 435.3 328.8 343.5 324 325 253.4 468.3 101 410.2 193.3 476.8 309.9 311.7 260.3 463.1 82.2 358.6 188.5 438.1 102.8 386.6 125.7 386.4 186.6 410.7 292.3 384.4 112.1 410.7 150.4 401.6 309.6 376.1 81.8 389.6 210.1 439.5 98.9 391 137.3 378.2 334.1 368.4 221.7 459.9 308.1 452.4 353.8 340.1 103.8 390.1" fill="none" stroke="none" marker-start="url(#md5c12c8)" marker-mid="url(#md5c12c8)" marker-end="url(#md5c12c8)"/>
<path d="M168.3 438.4 245.1 454.4 196.5 442.1 290.6 394 268.9 430.7 315.8 432.8 301.1 386.3 161.7 394.5 318.7 356.4 237.8 462.5 258.5 453.1 152 387.1 312.7 388.4 209.4 425.6 300.8 398 305.2 309.1 236.9 464.6 318.7 320.8 103.9 405.8 134.4 395.1 349.2 338.4 88 399.8 313.4 334.3 314.9 310 313.8 362.5 179.7 428.7 341.3 357.7 329.7 349.7 132.8 399.5 171.9 433.7 319.3 415.1 296.1 428.8 302.2 305.5 320.2 358.1 147 393.1 301.7 384 303.5 423.7 66.4 392 66.3 400.4 205.1 435.9 255.4 464 346.6 336.4 223.3 470.3 299.9 310.5 303.5 448.2 345.9 342.6 267.2 462.7 316.9 357.9 176.9 391.7 301.9 439.1 324.9 315.7 160.3 425.3 290.6 395.9 90.2 405.8 222.1 440.6 297.2 362 303.1 314.4 182.1 445.1 318 378.3 267.4 440.2 296.3 446 336.1 334.4 284.7 415.7 168.4 404.7 307.9 419.8 315.7 379.4 226.3 445.4 317.8 371.8 298.6 424.8 281.1 454 71.6 363.2 269.2 435.2 292 393.8 263.1 469.4 331 348.5 334.3 344.6 105.4 408.2 313.8 348 265.2 463.1 204.9 429.6 300.4 408.5 327.4 383.6 74.7 361.1 310.9 405.7 332 334.7 175 465.2 231.8 436.3 300.7 403.9 320.2 301.2 296.3 428.8 239.7 464.2 166.5 418.5 75.3 402.2 315.6 415.6 298 404.1 186.5 442 336.1 361.6 174.1 408 330.6 354.2 331.3 365.1 272.7 432.4 268.6 429.1 163.4 388.7 71.2 396.7 290 432 327.7 320.2 94.7 388.7 306.2 397.2 271.3 448.3 276.6 453.2 309.4 297.2 290.7 446.3 297.2 387.2 307 367 142.8 405.1 163.7 391 318.4 378.1 308.9 410.5 113.9 392.1 313.1 374.9 313.5 338.9 331.3 349.6 315.3 434.7 337.5 314.5 159.5 401.2 219.9 470.4 184.3 457.1 328.7 354 303.5 381.2 308.2 434 320.6 308.8 100.9 381.5 224.7 415.1 316.3 404.8 283.9 438.5 288.1 459.9 311 315.2 318.2 297.7 347.8 323.8 285.7 406.9 96.2 365.9 339 373.9 161.3 442 93.7 387.4 306.2 446 301.1 382.4 277.4 448.8" fill="none" stroke="none" marker-start="url(#md8010a0)" marker-mid="url(#md8010a0)" marker-end="url(#md8010a0)"/>
<path d="M175.7 459 341.5 327.5 314.1 422.1 293.7 393 250.1 451.3 184.6 405.3 201.1 421.6 233.6 459.4 351.3 327.8 192.7 463.5 334.9 341.3 183.6 446.6 223 446.4 323.8 384.9 315.2 362.6 328.4 394 188.3 464.4 334.5 329.4 212.8 425.5 320.7 296.3 305.8 293.7 153.5 373 231.7 438.3 146 411.8 307.2 419.1 165.7 428.4 336.4 316.9 197.9 453.4 155 399.1 302.2 290.3 264.8 437 330.9 398.3 248.5 465.1 134.4 399.3 307.7 298.2 187.2 417.1 156.7 374 328.6 369.7 172.6 394.3 249 450.2 316.6 353.2 226.8 456.4 165.3 395.2 173.5 419.1 311.8 400.2 324.7 338.3 324.5 338.2 303.1 366.6 184.6 417.6 338.8 381.3 289.8 400.6 298.4 314.4 315.3 437.6 306.2 350.3 325.2 321.9 174.8 417.4 218.8 434.1 316.1 301.4 296.6 414.8 210.6 455.2 246.2 463.8 256.5 460.6 342 346.1 318.7 406.7 143.2 412.5 308.2 378.6 172.9 456.4 296.2 387 292.1 455.8 212.9 450.7 338.8 391.5 162.1 398.6 305.6 298.2 333.3 317.9 327.2 329.8 152.5 411.1 144.8 408.4 174 429.6 248.9 455.1 334.6 368.7 343.8 344.7 296.7 443.8 146.6 368.1 300.6 449 234.7 436.1 181.2 475 333.8 324.2 125.9 411.5 175.6 453.6 290.8 416.6 280.6 429.2 288.1 435.3 310.8 379.2 210.5 454.4 300.4 420.7 280.4 457.3 331.2 386.1 226.9 433.7 224 416.8 203.7 445.9 257.8 443.1 215.6 470.7 302.9 415.3 221.1 435 253.5 452.2 310.7 376.5 215.2 465.8 142.7 390.7 186.8 456.5 280.1 442.4 285.6 433.4 180.4 433.8 243.8 456.1 158.5 382 314 384.4 174.8 442.2 295.5 373.2 249.5 458.5 257.5 462.2 340.2 331.6 352.1 330.3 317.1 306.3 241.9 450.6 330 401.9 308.2 383.8 182.7 402.7 177 453.2 307 394.3 338.3 375.4 196.3 421.4 293.8 455 336.5 392.3 140.9 385.4 138.6 397 307.5 439.4 193.9 445.3 332.7 314.2 295.3 454.9 311.5 302.4 168.5 445.6 272 454.1 139.1 397.5 322.6 315.4 295.6 407.8 297.9 427.4 325.5 384.6 313.7 359.3 174.9 432.2 193.8 457.6 172.5 415.3 196.1 472.9 341.1 318.4 266.7 451.9 298.6 363.8 282.2 411.4 349.5 341.9 136 418.6 324.9 422 205.5 468.3 214.8 411" fill="none" stroke="none" marker-start="url(#mda8106a)" marker-mid="url(#mda8106a)" marker-end="url(#mda8106a)"/>
<path d="M333.6 402.7 91.1 396.6 326.2 409.9 301.6 433 290.7 396.4 291.7 433.3 176.8 483.7 271.6 411.9 107.2 376.2 309.6 368.8 284.8 438.3 267.6 436.9 323.3 411.9 178.9 454.7 320 359.8 190.8 419.9 316.4 422.7 329.6 324.4 290.5 377.6 335.6 358.9 311.5 395.3 329.6 360.9 303.8 425.1 315.5 443 185.9 450.3 304.5 291.2 111.2 368.6 183.8 445.5 309.2 319 308.7 336.9 275.4 442.9 287.5 400.5 292.5 380.3 176.7 429.9 278 453.1 324.3 301.2 133 377.2 334.4 391 287.2 448.9 289.3 447.6 163.4 387.2 287.2 406.2 332.6 341.1 182.2 444.2 302.1 400 326.8 327.8 94.8 358.5 184.2 412 287.4 411.6 337.4 389.7 325.1 395.2 183.4 441.7 315.1 379.6 236.3 457.2 89.5 396.3 93.4 385.1 326.2 381.1 169.2 432.5 270.2 461.9 287.9 426.2 319.9 342.6 241.5 460.1 314.8 374.6 224.9 468.3 312.9 313.3 336 346.6 309.6 395.9 254.7 448.4 204.3 419.1 213.2 428.9 331.1 320.3 165.1 437.6 181.2 426.3 316.3 345.8 313.3 418.5 240.2 471 102.7 409.9 315.1 323 129.7 408.4 251.1 462.5 304 397.5 300.6 297.7 94.8 359.9 142.2 400.1 112.1 368.8 84.4 381 294.2 444.9 307.6 411.8 139.9 416.7 302 355.7 87.6 404.5 301.5 451.2 321.5 408 301.3 386.2 195.5 442.8 301.4 370.3 191.2 426.2 72.3 393.9 130.9 374.3 329.7 338.9 264.1 451.4 300.9 301.5 293.5 430.5 195.6 471.1 309.9 288.5 305.1 437.9 325.2 410.5 336.3 347.4 311 337.2 99.4 381.5 344 351.2 334.8 328.3 160.8 396.1 148.8 387.9 329.6 392.7 227.6 423.6 346.7 337.7 328.5 324.6 287.8 393.6 245.6 451.4 340 361.1 292 433.1 317 432.4 313.1 363.9 316.2 389.9 333.9 390.6 226.5 429 94 394.1 342.5 354 283 412.4 180.1 409.3 320.8 329.3 307.7 382.1 306.5 424.9 253.9 450.7 273.5 445.4 258.7 469.2 319.5 426 178.8 477.2 116.1 389.1 206.4 447.1 228.1 432.8 311.2 430.8 163.9 375.4 108.5 418.1 328.7 367.7 307.8 291.4" fill="none" stroke="none" marker-start="url(#md8010a0)" marker-mid="url(#md8010a0)" marker-end="url(#md8010a0)"/>
<path d="M311.4 413.7 339.3 367.1 330.8 345 313.8 389.4 88.8 358.8 312.9 329.3 268.3 455.1 341.7 336.7 80.7 392.8 346.5 346.7 199.7 444.5 264.5 431.2 119.1 379.3 307.9 389 124.7 383.3 84.9 361.5 311.5 342.6 179.4 411.4 325.2 375.9 79.5 409.1 220.1 430.1 84.7 392.7 313.4 372.2 233.7 451.9 300.4 364.3 324.4 417 119.2 401.4 339.8 366.1 314.6 291.4 232.1 421 103.9 374.3 127.5 379.5 111.2 413.9 102.9 368.5 71.6 380.2 283 459.6 116.3 374.2 327.2 357.9 222.4 455.2 114.3 406.6 292.2 401.3 170.7 378.5 342.6 318.9 236.9 466 235.3 445.2 298.6 412.1 326.6 408.2 309.7 424.6 190.8 433.4 311.5 404.5 297.1 408.9 312 418.9 186.8 420 306.3 416 149.9 371.3 337.3 365 200.1 449.7 167.6 379.4 110.4 407 310 344 320.1 338.4 118.7 395.6 159.4 420.3 187.3 434.3 101.5 359.7 208 466.4 193.7 467 318.9 380.8 130.2 383.1 153.7 383.6 119 404.8 218.3 421 204.4 425.1 201.7 426.5 85.3 390.9 73.4 408 328.1 329.8 295.4 411.5 294.7 399 79.4 365.3 136.7 386.3 91.2 376.2 276.6 410.9 69.8 368.8 177.4 445.2 85.6 386.7 323 400.6 289.4 388.6 324.6 364.6 190.3 455.2 115.1 412.7 312.6 406.6 195.3 413.3 171.6 422.8 313.4 343.5 71.7 406.1 108.1 413.3 218.4 442.3 226.3 417.9 151.3 379.4 323.3 348.6 74 403.4 92 371.6 318.7 313.6 280.4 418.9 139 388.7 133.1 394.1 122.8 370.3 206.9 440.6 246.6 458.5 114.6 378 74.4 401.4" fill="none" stroke="none" marker-start="url(#md5c12c8)" marker-mid="url(#md5c12c8)" marker-end="url(#md5c12c8)"/>
<path d="M92.9 366 83 374.4 107.7 381.5 73.8 391.7 87.7 362.7 124.3 385.6 97.1 377 109.9 376.9 305.1 422.4 75.6 371.5 98.2 362.1 81.9 382.8 174 438 104.1 365.3 111.8 375.8 86 373.9 136.7 384.6 123.6 375.4 77.6 368.7 93.4 363.7 142.1 380 65.5 397.5 124.9 380.7 111.6 386.4 81.6 391.1 193.1 418.1 67.4 375.5 111.3 410.8 128.4 377.3 187.7 426.5 87.3 393.3 107.6 404.1 134 389.3 96.2 386.6 76.8 384.9 297.2 406.1 108.1 373.9 302.7 418.1 103.1 410.8 119.5 388.3 76.7 365.8 127.6 381.9 123.5 380.9 109.6 371.4 76.5 377.4 80.1 382.7 143.6 374.4 119.8 373.5 226.4 438.7 80.4 362.8 65.7 390.3 116.8 379.4 129.6 367.6 77.5 382.7 108.4 390.4 197.8 462.1 130.3 386.7 182.8 430.9 84.8 361.5 83.5 407.6 110.1 406.2 204.5 456.6 136 373.3 136.1 381.7 87.4 365.9 89.1 381 122.5 404.7 211.1 411.2 176.2 464.2 99.2 405 137.4 382.1 78.2 374.2 322.4 416.8 71.9 375.7 91.7 367 85.6 389.4 176 480.3 70.8 402 104.6 369.6 141.4 390.8 83.1 372.6 203.1 430.1 63.6 377.6 237.5 461.3 90.4 388.5 99.4 376.6 105.9 380.7 139.5 380.5 99 377.2 147.1 380.2 119 368.4 60.5 383.1" fill="none" stroke="none" marker-start="url(#md2412ee)" marker-mid="url(#md2412ee)" marker-end="url(#md2412ee)"/>
<path d="M210.6 433 138.9 377.4 318.8 368.4 297.7 395 286.4 434.4 236.4 437.9 185.6 414.5 300.4 444.7 322.8 399.9 243.3 468.8 330.6 384.9 175.6 398.5 307 308.7 327.2 419.4 223.7 433.2 285.1 403.3 208 418.4 246.9 453.8 233.2 427 276.1 414 202 452.5 335.6 363.4 304.9 318.6 268.1 445.8 294.5 383.1 154.6 395.1 303.6 401.8 262.5 450.1 304 361.4 209.5 472.9 223.1 428.4 287.8 440.3 272.7 435.8 298.6 435.5 289 428.5 271.7 436.5 263.8 454.6 170.1 385.4 219.9 445.2 334.2 337.1 216.9 413.7 153.3 397.3 343 339.5 253.2 453.7 180.6 399.6 144.5 393.2 186.2 417.1 244.3 463.7 189.7 467.3 234.3 429.9 319 327.1 342.9 336.4 337.5 341.7 295.5 371 311 305.9 277.5 444.3 324.2 371.1 308.7 377.5 327.4 422.4 222.9 431 192.3 457.2 308 301.4 312.1 390.9 312.1 338.6 314.8 304.1 285.2 442.1 296 427.9 176.3 474.2 313.3 307.9 180.2 404.2 209.5 455.1 173.9 442.6 215 418.2 327.5 387.8 275.2 455.3 301.8 427.5 343.1 330.9 296.3 440.9 296.6 371.2 243.9 457.6 248.4 454 182 419.8 187.1 423.3 307 359.5 216.3 456.3 217.5 446.9 178.9 396.4 264.9 433.9 278.3 439 310.2 346.8 300.9 394.8 239.1 450.5 284.8 404.4 310.9 332.2 207.6 415.2 183 438.1 300.6 415.5 326.3 414.4 304.3 444.3 295.7 421.6 342 350.5 299.5 376.2 337 316.4 321.3 324.4 173.4 398.3 343.8 343.8 338.1 327.1 286.5 417.2 304.1 353.6 193.5 461.1 209.9 448.5 302.8 305.4 319.4 390.7 272.5 441.4 323.2 317.6 218.2 416.7 216.9 429.4 173.6 447.8 165 433 341.1 317.1 314.3 330.3 314.1 328 332.3 384.2 304.9 442.6 167.6 461 291.9 430.9 301.7 446.5 321 353.2 199.1 468.5 316.6 342.1 316.5 408.5 304.6 364.4 169.9 412.9 327.6 401.4 330.9 330 309.9 428.9 165.1 412.8 328.7 341 326.9 348.2 300.2 401.2 287.3 420 289.7 428.2 255.2 453.7 269.1 465.6 262.4 457.6 310.1 328.5 318.4 397.6 272.6 449.2 325.9 335 171.6 417.5 292.9 421 301.2 448.2 290 403.5 282.3 431.6 315 352.4 176.6 400 293.1 449.7 174.4 385.5 319 400.9 310.3 330.2" fill="none" stroke="none" marker-start="url(#mda8106a)" marker-mid="url(#mda8106a)" marker-end="url(#mda8106a)"/>
<rect x="46.9" y="272.6" width="325" height="226.6" fill="none" stroke="#111" stroke-width="2"/>
<text class="t" x="91.2" y="293" textLength="208.5" lengthAdjust="spacingAndGlyphs">Oxymorphone/VISTA</text>
<ellipse cx="338.5" cy="470" rx="22.2" ry="19.1" fill="#dcdcdc"/>
<text class="L" x="338.5" y="478.2">B</text>
<text class="n" x="37.3" y="284.1" text-anchor="end">120</text>
<text class="n" x="37.3" y="327.5" text-anchor="end">80</text>
<text class="n" x="37.3" y="370.9" text-anchor="end">40</text>
<text class="n" x="37.3" y="414.3" text-anchor="end">0</text>
<text class="n" x="37.3" y="457.6" text-anchor="end">-40</text>
<text class="n" x="37.3" y="501" text-anchor="end">-80</text>
<text class="n" x="70.1" y="522.9" text-anchor="middle">-100</text>
<text class="n" x="138" y="522.9" text-anchor="middle">-50</text>
<text class="n" x="206" y="522.9" text-anchor="middle">0</text>
<text class="n" x="273.9" y="522.9" text-anchor="middle">50</text>
<text class="n" x="341.8" y="522.9" text-anchor="middle">100</text>
<path d="M514.3 306.9 507.1 302.6 735.2 306.7 489.5 303.2 509.5 298.3 498.6 296.3 500 300.7 522.6 305.9 508.8 296.6 724 306.7 508.2 301.1 486.3 295.1 491.7 296.8 510.5 303.4 488.2 302.7 480.6 304.4 522.4 296.2 489 300.9 522.8 297.6 515.8 302.5 506.2 305.3 484.1 294.7 509.7 299.9 510.4 303.5 518.7 304.6 732.3 304.9 512.1 305.5 491.9 305.2 494.8 307.9 498.2 296.7 481.7 300.2 514.7 303.5 492.8 304.9 506.1 303.6 484.6 302.5 510.5 300.5 498.9 304.7 511.6 307.4 481.8 304.5 516.7 297 503.1 303.2 517.1 297 724.1 302.3 492.9 298.4 489.2 298.9 504.2 291.7 522.4 307.4 491.4 300 493.5 295.4 498.1 297.9 483.9 303.3 505.5 296.7 507.1 304.3 501 296 490.6 304.6 485.2 293.4 512.9 304.1 508.5 291.7 496.2 302.7 519 300.1 492.2 296.2 732.4 307.3 728.2 304.4 513.4 306.2 514.5 302.4 499.7 305.9 501.8 292 492.6 297.9 499.6 301.4 497.4 305.6 519.8 306.9 500.2 306.2 496.3 306 490.2 299.6 503.6 305.5 493.2 301.6 718.3 307.7 738.7 305.9 482.9 300.5 496.8 305 501.8 298 486.8 303.5 505.8 297.8 512 293.6 476 302.6 511.7 293.4 513.1 300.7 498.7 304.6 508.7 300 499.6 301.4 505.5 288.8 495.5 305.2 488.9 299.6 505.3 295.5 505.1 291.2 509.7 302.3 482.1 307.1 727.8 306.8 486.6 294.8 500.8 303.1 508.9 297.3 489.8 305.1 518.6 304.9 525.5 302.4 516.9 305.3 494 294.7 512.7 295.4 490 305 513.4 302.8 496.8 301.9 495.7 304.1 506.9 294.4 488.3 297.2 726.1 303.5 498.7 294.1 506.3 295.3 514 304.7 513 290.7 523.4 303.2 501.5 294 497.6 298.6 490.7 304.2 503.5 298.8 721.1 304.2 495.3 296.7 482.7 301.9 501.4 292.5 518.3 306.6 489.9 306.8 486.8 302.2 505.4 299.7 506.9 307.9 499.5 296.9 521.2 295.2 510.6 303 730.9 307.1 492.1 293.8 481.2 299.6 512.6 295.9 501.2 300.7 508.4 303 507.5 296.9 513 304.3 515.9 297.8 503.9 295.5 726.5 307.4 513.5 295.8 729.9 307.9 500.8 298.7 511.3 286.4 491.7 305 519.9 290.3 506.3 300.9 512.6 301.6 510.1 295 486.4 303" fill="none" stroke="none" marker-start="url(#mx1a10ff)" marker-mid="url(#mx1a10ff)" marker-end="url(#mx1a10ff)"/>
<path d="M666.9 380.1 680.6 377.9 529.7 375.7 554.3 381.5 535.4 374.5 690.6 374.5 533.6 379.9 515.4 374.9 671.8 370.4 553 359.3 532.3 376.9 520 359.6 656.1 382 524.4 377.1 504.6 367.6 695.2 369.5 681.4 374.1 523.4 371.7 527.8 360.4 549.3 365.5 523.8 371.2 555.7 378.5 535.9 361.5 553.1 370.6 550.8 381.1 534.7 370.4 552.8 359.7 508.4 364.4 547.9 358.8 682.9 377.6 529.5 360.6 509.7 366 520.7 363.9 531.4 373.4 504.7 371.3 539 374.9 541 364.3 697.3 381.4 549.9 377.9 524.2 365.4 510.8 371.3 499.1 361.8 682.8 378.6 676 378.5 524.9 360.7 531.9 381.9 687.9 367.1 539.9 367.2 534.4 370.2 546.8 381 523.1 379 680.6 377.5 536.5 362.8 507.7 362.9 509.4 378.7 537.8 370.1 688.9 368.6 658.9 380.5 670.3 375.7 524.6 376.3 543.9 381.9 535.6 368.1 505.6 362.1 547.5 362.7 510.6 366.2 522.3 364.3 536.7 363.6 547.5 378.8 548.3 360 556.1 375.9 502.7 362.2 671.8 374.9 663.3 374.9 514.8 378.1 545.2 371.1 539.8 373.5 549 379.6 526.2 380.3 546.2 370.3 503.3 359.7 673.4 365.7 515.3 375.5 512.9 377.7 543.3 359.7 535.2 368.5 544.1 367 696.9 362.9 518.8 382.1 549.9 375.7 511.2 380.5 526.3 363.3 553.1 360.7 552.7 361.7 503.6 360.6 524.2 361.7 552.7 363.3 502 361.4 548.9 369.8 663.6 382.1 526.2 370.4 540.8 375.2 657.7 380.2 543.2 372.5 517.6 375.6 666.5 368.7 513.9 360.2 543.3 367 554.3 364.2 685.3 361.7 668.3 368.2 512.3 369.3 507.2 376.7 692.5 381.4 555.9 372.1 681.8 371.1 659.4 381.4 683.9 378.2 537.7 362.5 662.2 381.7 507.4 360.1 533.8 368 521.9 374.5 696.3 358.9 685.4 357.8 503.3 357.9 530.4 374 659.4 371.3 556.5 368 701.3 360.7 688.3 377.3 506.6 372.1 498.9 368.9 662.1 380.2 503.5 371.3 508.2 360.1 556.3 374.3 694.9 363 548.4 358.1 509.6 373.1 537.4 373.3 527.2 381.3 678.5 368.2 495.5 364.1 539.4 362.4 540.2 357.7 515.1 379.5 535.8 376.8 521.3 379.9 511.1 366.5 553.5 359.9 526 374.5 545.1 381.4 552.9 378.6 539.4 379.1 508 375.1 541.7 377.7 536.1 377.5 539.5 373.3 664.8 372.6 537 370.6 697.7 371.4 667.3 371.1 529.2 380.8 513.4 367.6 522 362.9 511 370.5 538.2 366.7 546.6 370.6 534.7 372.3 523.1 380.3 509.8 378.5 537 376.5 544.4 366.4 510 362.2 542 379.4 532.2 379.3 523.6 380.3 514.1 373.9 557.1 372.4 673.2 374.5 528.4 375.8 512 366.8 550.7 371.7 502 361.4 525.1 368.2 533.2 358.9 659.2 374.6 519.9 369.6 534.1 367.9 517.6 364.1 670.5 377.6 672.3 373.4 691.6 368.6 519.4 360.8 534.4 374.1 538.6 367.9 556.3 368.6 541.4 373.5 556.8 382.1 675.3 375.3 554.5 378.9 518.6 374 687.7 363.3 679 364.6 554.7 372.8 517.4 358.3 514.2 374.5 539.1 367.3 678.8 374.8 686 361.2 540.1 366.5 516.5 376.8 555.2 381.5 508 373.1 679 368.5 522.4 363.4 533.5 380 521.6 367.5 518.3 368.3 532.2 377.2 687.4 360.7 551.5 377.1 697.2 359.3 543.2 375.3 537.8 380.7 545 374.4 668.3 368.5 671.6 371.6 557.1 362.8 513.1 362.9 555.4 377.7 505.4 366.4 545.6 379.6 544.9 367.8 548.1 358.7 533.3 370.9 545.7 376.1 502.7 362.9 694.7 369.4 513 366 526.6 365.3 669.9 377.3 547.9 366.4 690.8 366.4 674.5 366.2 540.9 364 514.8 376.5 517.2 370.8 509.9 381.7 552.4 377.7 527.9 371.1 522.4 363.3 544.1 373 532.5 360.4 521.8 377.3 668.7 368.8 533.9 358.3 680.5 358.8 498.6 359.8 693.3 359.7 507.7 373.2 509.9 371.6 501.6 360.3 682 371.6 530.2 359.7 694.3 370.4 539.9 357.7 534.4 374.4 535 375.3 531.6 381.7 541.8 371.5 515.9 380.4 502.2 363.7 497.4 378 555.8 379.5 553.3 364.9 529.9 379.2 549.4 365.4 702.5 373.6 555.6 361.9 657.1 380.4 555.7 378.7 536.8 363.5 696.9 364 533.4 371.1 532.2 364.7 672.7 377.3 550.5 361.4 505.1 373.6 688.5 357.9 557.8 370 543.5 357.9 523.3 378.6 539.6 375.2 506.2 374.8 694.9 361.1 534.4 379.9 547.7 376.9 693.8 366.5 515.9 364.5 516.8 378.5 674.1 370.1 526.1 369 542.5 374.8 524.9 373.2 658.7 381.4 522.2 358.5 524.2 380.2 511 375 547.5 359.3 555.9 376.4 673.7 365.2 527.2 365.5 518.1 370.1 531.6 360.7 690.6 369.9 518.1 379.9 541.4 371.9 699.5 366.9 551.6 377.3 663.3 375.1 526.9 363 534.6 375.9 529.3 371.4 536.9 358.4 518.8 375.7 549.4 367.5 552.4 366.7 543.5 377.1 528.1 371.8 553.7 370.4 668.9 365.6 520.4 377.6 559 380.7 684.8 374.3 502.9 368.7 523.6 358.1 668.6 374.1 556.8 373.1" fill="none" stroke="none" marker-start="url(#mx660bb0)" marker-mid="url(#mx660bb0)" marker-end="url(#mx660bb0)"/>
<path d="M530.2 390.4 523.8 393.5 540.5 395.8 663 392.4 530.6 394.5 652.5 402.6 532.1 384.7 559.1 384.1 703.7 387.8 551.8 392.2 647.6 402.5 670.3 396 513.4 389.3 662.9 389.4 522.7 391.3 695 402.6 686.3 395.5 551.1 395.5 555 394.6 535.8 384.9 679.5 387.1 534.7 394.9 549.4 389.2 681.5 398.9 546.7 384 655.8 399.1 697.3 387.4 545.2 403.8 637.6 403.4 557 394.6 538.9 390.6 520.6 395.7 551.9 394.2 553.2 395.8 533.1 394.6 639.8 399.9 515.1 384.2 706 395.2 689.6 400.6 649.5 385.4 541.6 401 629.4 405.7 690.2 401.9 553.5 386.1 522.6 393.4 538.8 401.5 542.6 382.8 528.2 403.9 689.5 397.4 544 397.2 527.9 393.1 688.8 402.1 552.6 404.7 657.1 390.7 552.6 395.3 551.8 402.4 560.8 394.6 648.2 400.1 652.4 393.9 551.2 394.1 521.5 400.6 664 399.1 525.7 392.3 557.6 395.8 520.5 389.8 550.9 389.1 544.7 399.8 674.4 398.3 645.2 394.8 541.7 394.8 519.5 391.6 664.1 397.6 638.5 396.8 519.1 393.4 525.5 387.9 544.6 389.2 682.1 388.6 684 401.3 656.2 395.1 682.7 388.6 532.1 386.7 521.5 389.8 671.1 399.3 637.5 403.4 534.2 382.3 643.9 403.2 688.4 389.3 653.9 384.8 652.4 398.5 638.6 405.5 659.5 392.4 515.9 390.3 554.9 400.4 518.5 386.8 558.2 397 524 389.5 541.8 390.2 544 392.2 537.7 405.3 667.6 386.4 523.1 402.6 544.6 388.9 676.3 394.7 551.3 390.8 665.5 397.7 639.4 405.4 693.7 400.6 649.5 388.2 688.5 406.6 672.6 398.3 677.7 388 542.6 406.6 645.8 390.7 691.4 394.3 669.5 394.5 538.6 383.9 649.9 401.6 685.4 389.5 521.8 397.8 682.3 385.4 690.7 393.3 643.8 400.2 698.3 385.6 547.9 392.1 662.8 384.5 508.7 384.4 526.9 386.7 553.7 386.9 527.2 402.2 550.8 401.9 530.8 403.4 689.8 397.2 518.9 398 685.7 384.3 521.3 394.1 658 383.3 557.5 399.9 662.4 384.6 681 382.4 687.2 384.6 660.4 391.1 538.3 387.8 683.5 386.2 550.9 384.9 552.6 395.4 687.5 383.2 538 395.2 550.4 401.1 643.8 396.5 537.6 402.3 544.2 389.6 534.7 404.1 686.8 397.2 524.5 391.1 510.6 384.1 510.9 391.6 515.3 390.8 512.5 392.5 663.7 389.7 660.8 387.5 646.5 403.2 527.9 399.5 697.2 406.3 649.8 398.9 539.6 406.7 695.3 399.4 667.4 398.6 681.3 404.6 531.6 406.6 531.3 404.4 545.4 387.8 520.4 386 683.1 382.5 667.6 390 668.8 382.7 536.3 387.1 547.9 393.5 542.7 404.6 639.2 400.9 530.6 385.5 696.9 383.1 522.7 390.5 666.2 387.5 683 394.3 682.1 384.3 514.2 386.8 561.3 389.1 676.1 382.5 688.6 401.8 536.2 402.9 538.8 395.1 653.7 391.4 689.3 386.5 680.3 396.9 542.8 387.7 556.4 404.1 512.9 383.5 530.8 382.4 546.2 394.9 550.4 393.5 534 393 666.9 394.4 553.4 400.3 692.5 389 685.6 384.9 531.1 392.2 665 394.2 534.6 385.4 531.4 393 526.2 398 527.7 404.3 522.1 388 684.4 388.9 524.9 392.5 539.5 389 655.1 383.4 516.7 394.2 552.5 405.9 693.1 390.9 543.9 387.4 648.2 401.3 520 383.8 525.1 395.8 690.9 386.2 647.7 406.9 648.2 395.4 644.5 391.3 546.8 401.5 689.6 387.8 511.9 389.5 533.4 384.6 526.7 403.4 556 383.5 532.2 395.3 693.8 397.9 521.6 397.2 693.3 405.2 531.1 384.1 540.6 383.2 668.9 388.9 532.2 395 690.9 404.6 533 403.6 557.2 386.5 537.1 386.4 540 397.2 530.4 402.8 677.1 384.9 689.6 392.6 661.4 390.3 544.6 393.1 653.9 403.5 544.7 397 540.6 383.5 675.7 383.1 567.3 396.4 552.8 397.5 694.4 400.6 557.6 385.6 701.5 399.4 657.6 402.6 699.2 398.6 700.7 382.6 690.2 401.9 560 401.9 651.1 401.5 629.3 404.7 558.4 401.3 522 390 517.4 383.4 702.7 393.7 676.8 387.4 663.9 398.2 540 385.5 683.9 398.3 550.4 395.5 542.8 382.5 560.2 396.2 647.8 386.4 694 387 558.4 387.1 653.6 393.9 535 393 547.1 405.9 539.2 384 679.5 398.5 549.6 385.7 531.6 390.3 539 398.6 537.3 391.1 534.1 396.5 545.1 399.3 522.9 383.3 528.4 394.6 697.8 402.6 522.4 396.2 524.8 385.7 647.6 402.4 636.3 403.6 647 398.2 697.1 390.1 523.5 394.9 548.7 397.7 553.3 396.3 648.3 395.4 657.9 394.9 679.6 400.1 682.7 395.1 554.2 403.2 679.5 387.5 526.1 384.7 537.7 399.3 551.8 405.2 554.5 398.6 690.1 397.2 690.9 385.7 533.5 404.3 528.6 393.9 648.8 401 681.5 387.7 547.6 390.1 519.9 384.5 651.7 394.2 527.5 384.6 523.3 399.2 556.2 406.7 541.4 390.3 531.6 384.5 545.9 392.4 549.1 394.3 559.4 397.6 527.4 393.4 672.9 389.6 665.9 401.9 552 393 700 400 523.8 401.9 520.2 392.4 546.9 405 645.9 391.9 532 387.6 558.3 390.8 680.6 383.4 540.5 393.6 652 387.7 539.7 395.2 521.4 384.4 662.7 397 538.5 401 662 394.2" fill="none" stroke="none" marker-start="url(#mx89088c)" marker-mid="url(#mx89088c)" marker-end="url(#mx89088c)"/>
<path d="M527.9 386.6 673 388.5 531.7 402.7 645.8 400.8 540 395.3 690.2 396.4 639.4 406.8 656.7 390.7 669.8 396.7 654.3 399.9 514.5 385.8 692 388.2 526 382.9 703.9 392.8 526.7 402.1 692.3 391.1 549.2 398.1 547 397.3 687.9 388.7 557.4 382.8 691.7 387.8 686.1 394.9 661.1 391.8 521.9 401.9 650.9 397.6 534.7 391.4 532.2 390.4 513.4 384 545.3 393.8 633.7 388.2 691.8 399.9 526.1 395.8 533.4 385.6 551.6 389.6 532.3 388.9 543.9 384.6 563 387.9 543.6 390.6 703 390.8 541.7 389.6 542.4 399.7 519.8 391.1 699.4 398.6 545.4 397.1 552.2 394.1 680.3 399.8 533.9 385.6 653 404.6 536.1 387.3 550.2 405.5 694.5 398.3 524.6 391.8 527.7 383.3 543.5 405.2 536.8 401.8 670.2 385 684.2 402.8 643.5 397.6 545.4 400.3 546.4 399.9 679 385.8 650.7 389.9 556.1 400.6 683.8 383.5 661.6 390.6 544.4 406.8 545.6 404 552.7 404.8 698.9 386.4 696.2 383.6 546.6 392.9 677.2 392.2 634.3 401 559 384 683.1 386.7 676.8 383 548.1 405.6 533.8 387.6 552.9 394.2 649.5 400.3 557.8 397.6 529 397.9 698 392 547.4 385.5 655.2 402.2 547.2 403.1 690 393.6 675.1 386 521.4 389.2 528.4 404.7 552.9 399 682.7 390.2 700.7 397.9 547.9 389.6 630.6 403.1 689.1 395.5 511.9 391.7 545.5 402.7 552.4 402.8 644.1 400.8 670.7 391.8 678 391 661.1 398.4 517.6 395.9 658.9 393.5 515.4 395.2 676.1 394.9 671.6 400.2 670.3 389.2 537.4 397 692.7 389.7 701.4 400.2 670 387.2 690.7 402.2 530.1 401.2 532.2 387.9 544 389.7 516.4 390 543.7 392.4 547.4 399.3 634 400.8 525.6 383.7 675.1 384.4 687 396 547.3 395.8 528.9 397.2 527.9 386.1 534.9 403.1 691.3 392.5 556 392.6 557.5 387.2 688.4 395.9 667.9 384.8 534.6 399.2 653.4 383.8 526.2 393.2 556.3 394.6 527.8 397 665.7 400.1 531.9 386 696.9 391.4 669.1 393.1 517.1 386.1 533.5 382.4 674.7 396.8 666.1 384.8 642.7 403.4 525.1 400.2 531.1 393.9 548.9 391.1 654.7 402.9 557.1 392.7 550.4 389.2 685.5 407 704.1 395.8 522.9 399.1 678.6 395.7 556.6 394.3 534.6 386.1 550 405.4 546.5 386.1 626.3 405.1 675.3 399.8 555.1 394 667.3 384.9 558.4 386.8 539.4 399.8 702.2 392.7 696.6 389.2 549.6 389.2 527.9 392.7 686.2 394.6 674.1 383.3 524.9 395.3 687.4 399.6 688.4 403.5 541.1 394.2 683 390.8 648.1 401.5 548.1 388.4 653.9 406.6 697.9 393.2 678 394.9 650.3 384.1 537.6 403.9 653.4 398.4 520.1 389 637.7 389.7 678.3 385.9 651.8 396.6 521.6 404.5 544.9 395.7 555.7 399.4 556.9 403 513.7 383.9 651.5 403.2 528.7 393.8 530.8 382.8 683.5 396 538 394.2 701.4 394.6 554.1 390 680.5 386.7 543.9 393.2 654 402.4 650.2 387.5 685.5 393.2 519.8 390.4 668.7 389.5 547 388.5 667.7 393.4 534.8 386.5 674.5 387.9 694.1 400.1 531 386.7 551.1 403.4 688.4 405.7 558 391.1 515.5 395 635.5 402.7 641.1 392.5 526.3 402.5 554.3 388.4 648.9 400.4 512.8 384.9 528.4 405.3 629.1 406.3 518 389.9 662.2 397.5 531.3 395.4 687.3 398.7 661 386.2 558.2 402 532.1 384 687.7 402.6 532.8 394.3 689.6 405.5 552.3 391.4 657.9 396.4 545 392.7 666.1 398.3 540.1 390.7 519.4 396.2 559.5 393.3 529.9 405.4 543.3 392.4 546.5 392 661.4 387.3 546.5 403.7 519.2 383.2 698.5 399.7 677.6 390.9 538 399.2 554.4 394.7 544.7 394.7 526.1 388.6 523.5 383.5 550.9 384.7 545.6 403.1 663.8 384.2 548.1 405 693.6 402.4 551.5 395.3 524.8 383.4 540.2 404.3 549.3 385.2 523.1 388.1 649.3 403.2 688.3 383.1 551.3 395.4 648.5 404.6 687 392.3 703.4 398.4 700.6 396.8 545.5 391.8 651.1 400.1 653.8 397.1 682 396.4 550.9 397 688.1 383.3 546.1 384.2 523.8 386.6 685.6 397.9 554.8 388.7 635.8 400.5 669.9 399.2 649.9 383.7 639.7 398.4 656.9 400.9 691.6 395.8 549.3 387.1 660.5 397.9 667.4 393.5 539.4 406.5 536.6 389.3 653.3 396.2 697.7 385.5 538.5 405.1 552.6 396.2 545.6 383.8 676.7 382.5 675.7 383.7 640.8 400 527.7 399.3 636.8 405.5 667.2 397.4 680.7 389.6 555.3 383.8 682.4 394.3 689.1 406.6 693.5 407 542.9 401.8 695.2 389.4 696.3 401.3 661.1 391.4 687.8 385.1 559.3 395.3 546.3 382.7 690.8 386.3 555.6 385.3 532.7 393.5 661.1 388.5 544.8 404.7 528.8 394.7 548.3 387.2 685.3 386.2 559.1 384 529.3 392.4 651.7 387.3 552 397 698.5 386.1 523.3 382.3 700.4 387.5 665.1 385.1 647.2 390.5 548.6 402.4 556.4 396 557.8 395.6 536 402.9 657.8 394.6 665.1 389 651.7 395.5 683.4 388.2 517.5 395.5 678.3 383.6 697.1 392.1 670.6 388 668.7 394 653.5 389.7 531.3 384.3" fill="none" stroke="none" marker-start="url(#mx89088c)" marker-mid="url(#mx89088c)" marker-end="url(#mx89088c)"/>
<path d="M601.2 450.5 572.6 451.3 583.3 444.1 572.1 436.4 587.9 436.6 605.8 446.5 598.3 441.8 572.1 439 585.1 446.4 580.4 451.6 611.4 438.6 604.4 452.2 611.7 440.3 602.3 447.8 569.5 435.6 577.8 440.3 582 449.5 588.3 454.8 578.2 434.8 573.6 445.8 596.7 446.8 570.8 432.6 574.1 437.3 577.2 446.2 606.4 436.2 609.5 433.1 580.8 443.9 588.9 446.1 609.9 436.4 588.6 453.1 584.7 447.5 577.4 440.5 576.9 436.8 612.8 434.5 589.8 433.8 603.1 448.5 579.1 445.8 584.3 434.7 595.3 439.4 603.8 434.9 598.9 441 597.6 449.7 593.5 450.6 612.4 433.5 608.4 452.3 576.9 453.8 597.7 438.8 592.8 434.8 571.2 442 578.6 453.1 599.6 448.2 604.3 449.4 593.7 443.4 581.6 456.6 589.8 443.1 589.3 439.9 590 438.6 600.2 455.2 602.8 450.6 589.1 437 574.2 452 569.8 436.3 600 434.6 604.7 437.3 618.3 431.9 594.1 443.6 584 442.9 613.7 433.1 587.5 436 606.4 443.8 605.1 445.7 591.7 448.1 576.4 435 596.4 444.5 583.4 442.4 601.5 446.3 593.8 436 565 434.5 598.9 443.2 589.7 440.1 598.7 447.4 582.7 433.9 584.1 443.9 604.7 441.3 585.7 433.9 576.9 433.5 588.1 441.9 588.9 455.1 594 443.2 615.7 432 610.7 435.5 573 436.7 587.6 434.3 602.4 439.5 594.7 442.7 597.8 442.3 586.8 454.9 605.4 450.2 581.4 432.6 586.5 435.9 568.1 436.2 589.7 452.7 611.4 435 602.6 436.7 605.2 436.4 576 448.7 610.2 437 604.8 443.4 564.9 435.1 600.6 454.5 609.1 440.3 592 432 609.1 442.6 611.9 436.4 603.3 438.9 598.7 450.3 575 436 596.8 432.4 575.9 434.3 611.8 442.4 600.1 441.5 593.9 432 594.5 444.8 589.7 439.2 574.3 437.2 598.9 443.4 587 438.2 595.6 438.7 598.7 455.4 613.5 432.6 588 446.3 576.1 432.5 575.3 433.7 592.1 445.3 611.6 432.3 593.2 451.3 600.4 448 571.6 438.8 584.3 436.9 568.8 441.1 599.2 449.6 607.9 455 578.4 455.9 604.3 448.5 581.4 445.6 608.8 456.3 599 432.4 578 451.2 580.8 441.6 585.5 451.4 571.3 442.4 571.7 432.6 596.4 438.8 592.4 450.4 585.1 449.2 606.8 441.4 596.9 439.9 598.2 448.5 580.8 455.1 577.7 454.6 579.2 449.5 582.2 438.2 588.1 448.6 577.6 446.6 588.1 454.6 578 439.2 587.5 436.2 605.2 441.4 600.6 434.5 602.9 455.6 609.8 439.6 603.7 438.4 583.4 448.8 602.5 442.7 576.4 449.4 613.5 440.1 597.7 448.3 581.7 443.6 574.5 442.1 575.5 434.6 609.8 437.2 572.8 452 585.8 436.4 593 449.5 588.5 432 573.9 455.2 589.8 452.1 580 435.5 601.9 438.4 569.2 443.1 609.2 452 579.2 449.5 602.9 431.9 587.9 438 608.3 442.4 591.9 452.8 581.6 452.8 594.8 440.5 580.6 449.1 568.3 439.6 572.6 436.2 577.6 439.3 588 443.1 591.2 441.3 598.7 455.4 591.1 432.1 566.6 438.6 592.4 452.3 576.2 433.3 600.7 437.4 600.6 455.7 599.1 442.9 575.8 450.5 600 440.2 584.3 437.9 599.9 437.6 592.7 454.5 564 434.7 598 438.2 582.6 451" fill="none" stroke="none" marker-start="url(#mxd5033b)" marker-mid="url(#mxd5033b)" marker-end="url(#mxd5033b)"/>
<path d="M600.3 458.1 588.9 465.3 586.4 475.2 579.6 460.9 588.1 467.3 591.2 459.9 581.3 462.5 599.2 462.8 600 458.4 590.5 464.6 587.4 471.4 583.9 474.2 595.7 463.3 595.5 468.6 578.4 459.6 590 469.2 589.2 471.6 595.9 466.1 584.8 457.4 592.9 464 589.7 474.4 593.9 459.2 580.1 464.7 582.3 461.7 590.5 467.5 582.1 467.6 586.4 476.1 574.7 468.1 589.3 466.5 585.8 462.3 587.5 461.1 591.4 466.8 586.2 462.3 580.7 459.6 586.9 466.7 594.2 469 581.9 457.9 576.5 457.3 603.8 463.8 590.7 460.8 603.5 461.3 585.5 471.5 598.4 459.6 581.1 470.3 586.1 466 587.7 461.6 580.6 470.7 596.6 463 590.1 472.1 579.7 460.5 583.8 458.4 584.7 472.8 596.6 461.6 597.4 469.5 594.7 461.6 592.9 463.4 592.3 466.2 597 461.4 581.7 459.9 600 468.6 601.2 460.2 595.9 467.2 593 459.7 597 457.7 592.7 462.2 599.2 457.3 592.4 471.8 585.4 472.3 604.7 468.4 579.3 462.2 579.4 458.9 590.3 468.4 585.2 460.6 593.9 462.2 601 465.8 599.8 465.1 588.1 473.1 585.3 475.4 584.8 457.9 596.2 462.8 578.8 457.9 605.7 460.4 578.5 464.1 592.4 473.5 582.8 458.5 575.3 457.2 593.9 461.7 595.8 459.8 588.7 461.7 600.4 467" fill="none" stroke="none" marker-start="url(#mxff0010)" marker-mid="url(#mxff0010)" marker-end="url(#mxff0010)"/>
<path d="M580.5 433.6 590 445.3 597.3 432.6 588.3 451.3 581.5 452.7 608 445.1 594.3 448 584.4 453.7 583.6 449.8 585.8 446.5 608.3 445 600.7 435.6 606.7 446.8 584.6 452.4 572.3 437.4 578.9 436.6 593 448.6 606.8 455.5 582.6 456.5 582.1 433.6 583.9 453.8 582.8 433.6 579.2 447.2 586.1 454.1 593.5 441.5 568.3 439.3 592 439.5 601 437.6 588 445.3 611.7 433.3 612.6 434.8 613.8 440 578.2 436.3 569.1 437.3 606.6 435.4 582.2 448 587.6 436.6 564.9 440.6 604.1 453.2 568.9 436.3 577.7 449.8 578.9 444.9 604.7 442.8 587.2 455.4 597.4 440.1 584.7 451.4 565.3 437.9 574.7 451.7 599.2 443.9 578.5 442.3 598.7 450.3 608.3 450.9 585.6 438.9 597.2 438.3 614 434.6 589.1 434.9 573.3 439.4 583.7 437.6 612.5 432.2 576.2 442.9 603.6 437.3 588.6 431.9 608.8 452.1 607.9 451.4 573.8 434.3 579 440.7 579.3 432.7 597.2 438.3 586.5 455.7 576.3 441.2 607.3 437.8 611.7 449.3 575.6 435.4 592 436.4 569.9 435.2 592.1 454.6 599.7 454.6 575.9 445.2 587.4 454.9 565.9 445.9 608.9 437.4 589.7 436.8 605.8 433.7 573.6 450.7 581.3 455.1 592.2 439.2 584.8 434.7 566.2 438.8 571.6 435.4 591.8 446.6 580.7 443.3 599 455.9 587.5 441.4 568.2 444.3 571.8 437.4 598 437 614.5 436 595.9 442.7 605.9 435.4 568.8 439.8 587.8 450.1 593.8 438.2 603.2 445.3 618.5 436.7 607.3 444.6 606.5 432.3 571.6 443.3 612.6 432.2 587.6 444.7 575.4 435 574.9 435.6 583.5 454.6 591.8 455 579.5 432.7 605.7 440 570.9 433.5 585.4 445.7 599.3 456.1 599.1 448 606 435.6 565.5 435.9 582.8 442.9 589.9 440.9 605.1 437.2 596.2 432.1 583.6 441.7 584.3 448.6 594.1 437.7 604.2 443.5 584.5 440.3 605.1 434.6 582.7 449.7 574.3 443.7 599 440.6 567.2 438.2 609.9 441.4 575.7 455.5 599.5 435 611.2 436.6 581.7 441.5 599.3 446 581 449.7 592.7 448 589.9 452.8 591 432.8 598.6 453.6 578 437.9 564.9 433.7 601.6 440.6 606.5 452.2 572.6 445.1 580.5 449.7 602.1 451.3 587.4 447.1 582.5 453.4 567.5 438.8 578.6 454 608.1 442 575.6 438.4 589.9 451.3 579.9 453.8 612.8 438.3 605.4 445.2 597.9 439.8 600.4 435.8 589.5 436.6 613.4 438.3 577.8 452 572.8 447.9 583.9 436.8 588.2 436.2 598.5 444.4 572 438.9 593.3 433 567.6 433.9 586.3 440.1 610.8 444.4 596.4 455.3 592.2 432.6 572.5 431.9 586.5 437.4 585.3 453.2 605.3 449.3 578.6 444.7 596.4 449.1 607 448.5 612.6 437.1 581.5 453.8 567.6 437.8 569.3 439.4 591.9 444.1 570.7 448.5 606.9 451.9 603.9 448.4 574.2 444.4 577.7 441.5 576.7 442.9 602.8 436.1 601.1 442.9 579.7 456 613.4 438 575.3 436.9 603.9 446.5 598.3 453 598.3 450.5 598.8 453.1 601.6 435.4 575.7 450 589.9 454 584.2 442.3 594.8 442.2 603.6 452 608.4 448.7 572.3 441.7 610.3 434.2 610.1 434.5 576.4 451.3 586.6 444.6 594.3 442.3 585.1 452 595 437.7" fill="none" stroke="none" marker-start="url(#mxd5033b)" marker-mid="url(#mxd5033b)" marker-end="url(#mxd5033b)"/>
<path d="M715.9 322.7 728.3 319.3 506.2 330.3 732.9 309.5 738.1 310.4 719.1 329.8 734.1 320.8 718.5 317.4 473.9 320.3 721.6 326 742 317.4 714.3 330.2 504.3 308.9 502.3 327.2 709.3 316 710.6 314.1 492.7 324.2 735 315.5 522 326.2 708.9 313.6 483.9 312.8 481 320.5 512.4 332.3 519.1 319.1 724.3 312.8 530 328 484.4 319.7 733.3 323.4 496.7 331.4 712.5 316.1 735.8 332.2 500.3 309.3 492.9 328.8 724.7 313.5 740.6 329.1 716.1 326.1 740.4 314.5 480.8 331.1 495.5 310.7 738.8 309.3 508.4 327.3 724.4 332.4 505 323.6 715.5 314.4 489.1 329.1 515.9 319.5 726.6 314.9 723.2 331 714.3 328.3 719 313.4 723.1 326.8 501.1 329.7 725.2 308.4 737 318.8 723.2 322.8 509.3 313.9 732.4 320.4 723.9 324.9 719 320.1 735.2 318.1 480.4 329.4 523.4 310.9 725.2 319.1 712.4 332.3 478 323.3 717.5 329.4 736.5 330.6 504.4 328.6 507.6 328.7 495 320.1 514.7 316.2 527.4 317.7 709.9 314.2 730.6 324.4 736.7 315.5 732.5 311 720.1 323.8 720.8 327.1 718.9 311.8 479.6 329.8 492.2 313.2 482.2 316.3 513.2 316.4 505.5 326.5 729.6 309.3 732.9 332 733.3 324.3 520.9 309.3 507.1 315.4 716.5 317.5 505.6 318.1 492.1 311.5 719.5 313 732.3 325.5 494.5 310 731.1 320.8 722.4 315.9 712.2 332.7 724.9 330.7 743.8 318.2 506 314.4 732.8 320.6 707.6 323.3 504.8 330.2 517.7 324.8 714.6 320.4 477.4 326.6 722 317 720.3 310.5 516.3 324.1 480.5 329.4 516 319.9 719.5 327.5 492.2 323.7 502.1 310.3 712.3 326.7 487.3 314.3 471.2 329.4 517 331.6 475.9 330.7 715.2 315.8 736.6 331.8 738.6 309.4 480.9 323 714.9 313.2 741.6 315.2 735.5 311.6 491.2 310.2 729.7 313.2 737.7 330.8 499.3 324.6 736.6 308.4 735.9 323.3 527.4 318.6 512.8 327.2 518.3 312.9 523.7 309.6 718.7 322.8 708.9 325.8 736.3 310.7 487.8 313.5 720.7 323.4 514.1 317.8 527.4 316.8 512.5 321.8 706.6 320.9 742.5 320.3 717.2 308.9 715.8 314.9 709.9 322.5 736.6 327.9 491 317.8 503.5 314.1 734.9 315.8 524.3 323 495.1 312.4 503.4 318.4 505.4 314.3 532.2 321.3 741.6 325.8 481.2 330.8 495.4 309.9 710.6 324.7 713.8 330.2 512.9 328.2 722.9 311.3 736.2 315.4 727.5 323.5 498 329.8 734.5 323.1 505.3 316.8 706 328.3 481.9 317.4 493.9 310.5 475.4 328 505.5 320.3 489.7 321.4 740.2 313.7 729.9 322.7 720.5 315.2 480.1 317.1 512.3 330.8 492.3 317.2 731.5 331.7 523.5 322.2 502.1 310 731.6 325 731.6 312.9 518.6 325.4 730.8 331.5 514.1 326 716.6 326.2 733.8 320.5 529.9 324 710.7 320.9 732.8 317.5 734.1 311.5 723.4 323.6 722.6 318.8 486.1 310.8 723 331.4 711.4 329.4 726.9 326.9 737.7 309.9 713.8 320.4 486.2 327.6 529.2 310.5 718.5 319.2 479.6 321.3 733.3 332.6 741.9 326.7 491 314.8 494.6 316.8 725.8 309.5 525.8 330.8 516.5 314.9 722.2 310.4 707.9 313.7 720.3 309.3 515.6 311.5 498.3 316.2 510.5 312.3 495.7 322.4 739.1 326.2 503.3 329.6 521.4 321.2 524.4 316.2 728 330.6 512.2 310.9 705.9 319.5 710.9 319 513.7 324 725.2 323 508.7 313 529.2 321.5 722.4 327.7 732.5 329.5 741 326.2 705.4 318.3 735.8 311.5 717.3 332.6 481.7 316 711.6 330.4 727.9 324.1 516.2 321.5 491.1 332.3 734.4 319.6 510.3 314.8 524.6 310.7 722.1 308.2 512.9 331.5 475 323.6 739.4 313.1 733.6 323.4 729.4 309.8 488.1 315.3 713.2 329.8 708.1 326.9 722.1 322.9 527.6 332.6 488.7 326.3 490 323 479.7 318.3 491.4 326.2 728.4 313.2 502.3 312.3 722.2 309.6 482.6 308.1 728.7 329.9 477.2 322.8 742.4 322.7 740.6 324.3 740 325.9 507.8 321.1 521.1 309.2 723.4 316.7 503.8 310.2 730.5 314.3 501.2 317.9 515.1 322.6 725.6 332.4 480.2 326.6 718.4 316.1 509.9 328.2 530.2 330.5 526.1 309 714.6 317.1 521.8 324.6 485.6 318.4 520.3 330.8 723.6 313.2 734 311.6 510.1 330.3 480.7 324.3 499.1 325.7 480.2 322.9 714.7 309.2 515.9 322.8 479.4 321.6 482.9 309.5 520.6 332.1 486.8 321.4 710.8 318.7 524 314.8 498 325.5 728.3 323.1 737.3 331.8 733.2 308.1 476.5 313.4 512.6 329.8 714.1 312.7 508.1 312 742.1 327.9 732.7 312 512.7 326.6 712.8 326.2 732.3 311.2 480.2 320.2 723.1 321.5 737 318.1 735.6 311.1 513 327.9 489.3 317.9 503.4 316.2 494.5 329.7 722 317.1 701.7 317.5 730 317.5 503.3 315.4 484 321.6 484.4 315.6 721 322 500 316.5 717.4 330.1 717.8 326.4 720.3 311.3 719 326.4 472.9 326.5 494.2 313.2 505 324.9 516.9 313.1 714 313.1 482.3 308.9 490 309.9 477.8 330.9 492.1 330.6 497.2 309.9 721.4 318.2 496.4 326.3 726.3 326 522.3 311.7 509 321.6 726.3 313.5 732 317.9 708.8 328.5 503.3 321.4 493.1 329.1 741.1 332.3 727.8 320.3 491.5 321 740 318.2 724 322.5 503.2 317.4 512.9 326.6 518.7 331.5 723.1 311 486.7 309.3 482.8 317.8 476.2 328.2 717.9 331.8 489 318.7 493.2 313.8 504 325.3 509.6 327 502.4 310.7 498.1 326.5 736.7 327.7 736 315.6 736.2 317.5 708.8 320.9 486 315.2 738.8 330 517.1 308.6 473.8 331.1 522.3 326.3 521.5 325.9 724.9 321.4 735.6 322.2 739.8 325 738 308.1 721.1 311.6 482.3 318.4 738.4 315.1 500.5 310.4 727.7 319.1 510.2 317.5 525.6 331.4 714.9 327.2 501.2 320.7 512.5 315.3 726.1 314 483.7 316.8 505.8 310.5 707.1 315 526 329.2 530 332.1 715.2 320.7 524.8 325.5 508.6 311.4 485.7 318.7 716.9 320.4 518.6 321.7 730.1 315.5 519.3 308.5 722.8 323.2 497.3 316.5 516.9 318.6 519 321.4 720 314.8 487.7 327.8 728.8 320.3 491.7 317.7 721 322.1 713.5 317.9 743.4 320.8 714.7 318.8 707.4 328 509.3 320.3 502.3 320.5 530.8 325.8 518.5 328.3 713.6 322.8 509.7 330.6 481.1 315.9 710 323.7 716.5 310.8 520.9 330.2 708.2 328 474.6 331.1 508.2 317.5 531 325.8 504.8 325.4 522.3 318.7 505.8 316.9 529.1 319.7 736 316.7 520.1 316.1 473.6 326.1 509.9 316.3 714.4 309.5 710 310.9 518.5 318.6 477.1 320.4 512.9 316.7" fill="none" stroke="none" marker-start="url(#mx2c0fec)" marker-mid="url(#mx2c0fec)" marker-end="url(#mx2c0fec)"/>
<path d="M522.7 364.2 550.1 369.8 521.7 370.8 558.3 368.9 694.1 380.7 530.7 370 502.6 364.8 557.8 367.1 550.3 378 668.6 367.7 675.8 377.9 673.4 377.3 677.4 372.9 682.5 378 517.2 364.7 528.6 371.8 529.7 365.7 549.4 360.1 536 358.1 666.3 374.2 681 378 532.6 380.4 557.5 381.4 547.9 359.6 532.8 366.8 507.5 369.3 501.7 357.6 546.7 362.9 664.4 381.9 661.4 378.6 505.9 370.2 558.1 366.5 542.5 382 551.9 367.9 548.3 359.7 498.6 359 517.3 381.7 689.3 373.6 555.3 372 554.9 368.7 496.8 357.7 671.2 377.6 514.6 371.8 507 364.4 521.9 368 558.2 377.8 510 380.2 677.6 379.8 545.3 371.3 526.9 380.1 547.2 369 691.3 373.8 554.9 371.7 557.2 366.2 676 379.6 547.9 366.4 673.6 379.2 506.8 372.2 553.4 373.5 534.8 373.5 549.8 377.3 558.5 369 501.9 364.2 664.3 371.5 537.2 370.6 665.6 379 521.3 380.1 550.5 369.1 523.6 374.2 531.7 369.4 519.7 358.5 659.8 379.4 524.1 363.8 669.4 372.1 528.5 360.2 553.1 369.6 544.1 375.3 692.3 379.4 530.1 364.3 542.1 364.6 692.4 373.4 557.8 375.7 529.5 368.5 544.3 359.4 541.1 369.5 539.3 365.3 523.9 360.4 696.4 362.2 520.4 376.8 503.5 359.2 521.2 359.4 551.7 368.2 510.8 359.6 517.6 367.9 535.2 364 510.2 364.9 542.5 373.8 551.6 364.2 665.7 373.5 537.7 362.9 510.5 367.3 541.9 381.2 556.3 367.5 689.4 377.9 508.6 381.9 559.6 372.8 508 373.1 677.3 362.4 559.3 382.2 521.8 370.9 524.2 362.2 530.1 359.9 542.7 364.9 535.5 360.2 664.9 378.1 682.3 360.4 520.9 381.2 513.8 375.7 521.5 359.2 655 379.9 512.1 365.8 662.2 376.9 681.7 360.4 535.5 368.6 535 380.9 677.6 375 536.7 361.1 539.9 377.3 691.2 374.1 512.5 375 547.1 360.1 519.9 364.4 531.3 372.1 525.6 371.5 549.8 369.9 529.2 364 540.4 379.8 543.3 365.9 559.9 369.7 694.1 370.4 705.9 358.6 551 378.6 523.1 376.2 547.5 362 503.8 358.2 541.4 379 532.3 378.4 550.4 372.6 536.5 363 520.8 369.2 512.7 374.9 552.4 377.1 541.4 370.6 666.5 370.1 508.6 381 508.1 369.3 558.1 376.1 525.4 379.2 688.6 368.6 556.9 376.5 673.7 382.1 516.4 373.7 699.1 363.8 684.6 379.9 678.4 381.1 500.5 363.1 680.4 357.8 536 359.9 552.3 367.3 534.7 379.3 508.5 378.2 684.4 369.7 678.8 372 531.7 368.6 534.5 366.9 507.4 381.2 517.2 371.1 543.6 378.5 539.3 358 526.7 380.5 550.6 378.6 509.8 361.1 680.5 360.8 553.6 374.7 535.9 364.7 504.5 370.3 681.2 363.2 558.9 379.1 684.1 376.7 676.7 364.9 521.1 366.1 520 359.9 525.5 381.2 544.3 378.2 535.9 367.3 547.7 373 550.6 376.5 678 377.4 532.8 363.7 517.5 378.2 513.7 360.7 505.8 365.7 503.2 367.1 519.3 380.2 511 369.1 520.7 376.8 510.4 364.4 675.5 371.6 501.6 361.2 548.8 369.5 511.2 369.1 548.1 366.6 660.5 371.5 513.6 366.2 557.3 376.4 544.5 359.9 536.8 376.3 691.1 372 547.4 366.1 507.9 377.3 554.4 378.1 553.4 371.1 677.4 364.8 682.3 360 707.5 357.7 519 378.7 525.7 358 546.9 377.2 527.1 369.5 517.5 371.3 558.5 369.9 522.2 357.8 520.4 366.6 515.2 372.7 525.9 359.1 516.4 364.3 685.5 378.8 690.7 378.5 517.3 360.1 542.3 368.9 514.4 374.1 692.9 365.1 506.2 370 690.1 376.1 527.5 361.2 691.4 374.5 553.9 381.4 686.9 372.1 528.9 372.6 554 367.7 677.8 378.5 542.3 374.9 556.5 368.2 548.9 381.2 676.9 365.5 671.1 380.8 518 364.7 535.7 360.6 554.8 380.1 555.2 369.7 547.6 360.2 537.4 367.8 682.7 380.1 558.2 379.3 547.5 378.2 673.6 362.8 559.6 365.1 543.6 380 561.5 377.5 544.4 367.4 537.2 371.7 533.5 372.6 506.3 372.8 518.6 375.7 506.2 362.6 536.5 370.1 679.5 367.3 555 376 690.9 371.1 539.3 375.6 547.4 359.6 658.5 374.2 534.5 373.9 678 375.1 534.2 371.3 525.7 370.6 516.1 364.6 506.7 367.9 536 372.7 544.8 365.6 667 380.9 526.7 369.3 531 365.7 525 367.7 521.1 374.4 539.3 378.8 682.3 368.9 690.6 376.3 665.7 373.2 509.3 374.5 542.7 366 503.3 368.1 530.7 364.5 513.5 369.7 668.5 376.6 684.2 375.7 514 378.7 543.3 369 551.3 374.2 543.9 375.3 497.7 363.9 657.2 380.6 520.1 362.7 690.7 358 541 365.4 497.9 358 534.6 369.1 544.5 374.8 665.5 372.4 530.8 361.5 679.5 365.5 512.6 379.8 516.8 363.7 545.8 364.3 549.9 364.9 524.2 381.3 544.4 377.5 520 366.9 504.8 365.2 517.9 373.9 550.5 374.3 537.5 360.6 514.3 380.5 666.7 377.5 538.9 375.8 508.5 362.4 663.2 382.2 682.3 376.8 529.8 361.9" fill="none" stroke="none" marker-start="url(#mx660bb0)" marker-mid="url(#mx660bb0)" marker-end="url(#mx660bb0)"/>
<path d="M504.7 346.5 735.4 334.1 720.1 338.4 692.2 347.5 511.4 354.4 517.7 356.3 705.9 346.3 499.8 341 725.1 339.3 522.1 340.3 694.7 348.9 497.7 342 721.5 335.3 733.5 337.3 502.1 343.6 491.6 352.9 494.4 336.1 516.3 349.6 497.8 338.1 507.3 341.1 732.7 339.5 491.3 348.7 496.7 333.3 716.4 339.6 698.2 350.4 724.8 338.8 516.9 356.5 546.6 356.5 506.9 337.1 508.8 336.4 513.2 341.3 711.7 337.6 720.2 334.4 727.9 336.9 522.5 356.5 526.6 354.1 502.7 341.6 733 336.1 728 339.9 491.7 333.1 730.1 338.2 520.4 344.4 700.6 342.5 706.2 353.7 724.1 338.8 503.6 338.8 534.4 355.1 521 337.2 497.5 348.3 506.5 338.3 716.9 337.8 508.5 342.3 509 338.1 526.3 353.1 506.6 349.6 714.8 335.9 494.4 344.9 483.6 336.3 494.8 334 734.4 332.8 728.6 343.6 495.2 349.9 717.3 334.8 497.8 336.3 514.2 354 706 341.1 710.9 337.9 516 352.8 524.4 355.8 494.2 350.3 503.9 347.1 487.3 337.1 512.4 355.6 704.4 339 525.2 355.6 496.1 348.9 497.3 343.3 521.6 349.8 543.2 357.2 716.8 338.2 515.6 337.5 514.3 347.2 695.5 352.9 475.9 332.9 494.6 353.8 709.5 339.4 529.4 357.3 508.7 350.8 722.2 337.5 709.4 340.7 510.1 334.2 519.9 347.3 503.1 338.7 523.7 333.4 717.3 340.1 729.2 333.8 694.5 357.3 505.8 342.3 510.7 333.6 695.5 352.6 513.5 339.6 522 338.6 523.5 338.5 511.1 347.6 522.5 336.6 701.7 340 715.3 338.4 508.9 333.5 711.7 349.4 490.3 344.4 506.5 343 501.6 348.4 500.6 349.2 703.8 351.8 737.6 333.5 714.8 337.5 507.4 356.9 704.8 337.8 730.4 338.8 498.8 335.7 522.7 356.8 502.5 349.1 530.9 355.8 719.3 339.1 725.9 333.2 728.5 339.9 522.2 338.6 703 345.1 727.8 341.4 712 336 703.2 344.3 700.5 344.8 497.8 346.4 708.3 335.9 726 334.5 496.5 350.1 710.9 347.4 702.9 353.1 513.8 351.6 685.9 352.4 503.6 335.9 692.6 357.3 710 336.2 519.5 336.7 498.2 355.3 733.1 339.9 510.7 341.5 514.6 340.1 717.5 334.9 541.8 356.5 507.6 346.7 508 340.7 493.5 346.6 535.3 357.3 493.4 342.7 709.3 352 685.3 352.7 721.6 342.4 524.8 337.5 519.6 351.3 500.8 347.7 510.3 343.3 521.2 336.4 726 337.9 712.1 347.2 494 339 506.6 355.1 705.8 356.9 719.5 342.5 498.7 342.1 712.9 334.5 504.1 338.3 517.4 337.1 512.5 342.4 730.4 339.3 506.7 334.1 515.2 348.7 733 335.1 691.2 348.5 501.9 349.4 506.4 336.8 499 357 504.1 341.9 694.9 353.1 696.8 353.3 501.7 334.2 707.4 346.7 714.4 336.2 520.7 357.2 487.3 333 700.7 354.5 712.7 340.6 508.7 340.5 485.2 339.2 518.2 349.3 498.9 348.8 479.5 333 515 345.4 708.8 353.9 496.4 335.8 517.3 334.1 699.5 351 495 343.5 520.7 332.8 713.4 332.8 698.4 351.9 715.8 332.8 721 334.3 521.8 354 487.8 334.7 517.6 356.4 509.1 354.3 501.1 350 505.8 338.2 489.5 336.7 519.7 338.5 724.2 335.9 700.7 355.9 497.9 341.4 514.9 349.7 498.5 334.7 515.7 339.9 496.5 351.4 500.1 356.5 708.6 340.9 493.2 339.7 501.5 341.4 514.3 338.1 696.3 344.9 724.5 333.6 499.7 351.4 507.1 350.3 524.8 337.7 689.6 353.6 509.8 334.2 512.3 356 533.7 354.7 518.4 348.2 494.6 354.2 516.4 349.1 716.8 341.5 513.3 350.4 508.4 335.6 720.7 333.2 515.7 334.9 708.4 343.2 501.3 354.1 697.9 355.7 694 347 501.1 344.5 507.5 338.9 727.4 337.4 504 346.3 721.8 334.9 706.7 338.8 725 339.7 694.2 352.6 506.6 343.6 704.1 339.8 516.9 335.5 701 357.2 726.9 334.5 724.3 339.6 713.1 335.1 724.5 340.2 485.5 333.5 528.7 332.9" fill="none" stroke="none" marker-start="url(#mx470dd0)" marker-mid="url(#mx470dd0)" marker-end="url(#mx470dd0)"/>
<path d="M577.4 468 585 472.8 602.6 462.4 585.4 469.5 592.1 464.2 585.4 457.5 596.6 472.1 578.6 464.1 593.4 471.8 602.8 464.2 590.8 460.3 582.4 461.2 598.8 465.3 594 484.3 591.5 457.6 582.3 468.3 579.5 466.6 600 465.2 606 461.4 597.9 465 579.3 458.4 593.8 457.2 576.3 460.9 594.2 466.3 596.3 470.9 587.8 473.6 591.9 459 589.4 466 590.9 460.7 578.1 470 589.4 464.9 580.5 461.6 597.1 459.9 598 459 579.2 462.7 597.8 458.8 591.2 470.9 578.4 474.3 595.1 470.8 576.9 461 594.4 465.8 590.8 462.1 576.9 458.2 598.8 469 582.6 469 585 467.5 584 463.6 602.3 472.1 590.9 470.5 580.8 466.4 602.2 459.5 596.2 465.5 575.8 457.7 590 465.2 591.8 462.5 588.2 464.9 595.5 469.8 599.1 468.7 588.7 473.8 588.4 468 587.1 463.9 575.1 478.7 594 462.1 582 459.8 587.6 467.2 588.3 476.4 600.1 463.1 578.9 464.6 593.3 471.2 599.1 460.8 583.6 469.5 586.6 457.6 584.6 462.5 588.8 465.7 602.7 458.1 598.6 460.8 594.6 463.9 604.3 468.6 608.1 458.4 594.7 457.9 586.6 463.1 585.4 470.7 603.8 462.7 586.5 477.8 595.7 470.9 594.5 472.3 595.5 464.5 597.7 468.7 576.9 462.3 578.3 470.2" fill="none" stroke="none" marker-start="url(#mxff0010)" marker-mid="url(#mxff0010)" marker-end="url(#mxff0010)"/>
<path d="M605.7 458.3 600.8 466.1 596.3 466.7 584.1 474.2 586.4 462.8 584.1 464.7 597.8 457 599.7 463.7 590.7 464.2 576.8 457.6 594.2 472.7 600.9 461.7 583.6 471.7 603.5 461.8 592.1 462.8 602.7 460.9 592.8 470.2 591 463.7 589.7 476.3 594.2 464.4 586 464.4 583.6 466.4 578.3 465 595.6 469.5 584 465.2 581.4 472 589.1 465.5 592.3 461.1 598.1 462.9 594 463.3 596.9 461.9 589.8 470.2 596.5 468.9 585.1 463.1 581.2 464 577.8 468.8 602.7 457.2 606.4 459.7 597.6 459.7 580.2 467.1 588 466.5 587 467.7 595.2 462.1 596.4 464.4 594.6 459.3 586 458.9 603.2 459 604.6 457.2 601.2 462.9 585.1 456.6 601.3 462.2 577.8 468.5 598.8 465.4 583.1 464.3 578.7 466.9 588.6 462 594 471.3 594.1 461.2 591.4 460.5 603.5 459.2 580.9 470.2 595.8 471.2 585.3 459.9 589 459.2 589.8 468.6 585.1 467.2 590.4 472.8 595.2 461.7 588.1 461.3 595.2 458.5 606.1 459.4 578.5 458.5 580.8 474 592.4 470.9 577.2 468.6 608.3 462.6 589.2 456.9 576.9 458.8 598.9 458.8 597.3 459.8 583.6 458.8 600.3 456.6 588.3 460.3 588.4 470.9 579.9 470.7 603.3 465 588.1 457.6 595.5 459.9 596.8 469.9" fill="none" stroke="none" marker-start="url(#mxff0010)" marker-mid="url(#mxff0010)" marker-end="url(#mxff0010)"/>
<path d="M606.1 445.5 579.6 450.3 590.6 440.8 587.8 453.3 591.5 432.4 563.5 437.1 603.1 448.1 591.3 435.6 604.7 440.2 596 444.7 604.8 450.3 577.5 450.6 578.9 446.1 592.2 439.5 585.3 436.4 567.4 432.7 565.8 440.1 585.4 433.3 610.9 445.1 581.4 442.3 592.6 448.5 588.8 437.2 576.1 450.8 577.7 434.1 596 441.4 599.2 436 581.8 450.7 573.5 445.2 585 434.9 596.4 440.4 613.3 440.9 568.3 447 604 433.6 604.4 452.5 573.6 450.7 578.9 452.9 584.7 455.8 604.1 441.1 578.1 446.4 583.9 444.9 611.1 453.9 581.9 447 592.7 444.2 603.5 455.1 596.9 434.9 573.2 439 603.3 435.9 588.2 454.7 592.1 434.6 575.4 455.5 598.2 450.9 570 440.8 602.4 451.6 602 452.5 577.3 435.6 592.7 448.5 585.3 455 573.2 451.5 613.2 443.8 596.6 442.5 588.5 450.7 594.6 438.4 575 441.9 576.1 438.6 601.5 449.7 597 435.4 599.1 449.3 587.6 450.9 580 448.4 589.5 432.5 593 439.8 569.3 440.8 573.1 450.4 573.2 433.3 578 440.8 605.9 447.5 586.4 437.7 595 441 599.1 442.4 589.9 451.8 571.8 450.7 576 444.4 575.6 432.2 567.7 442.8 605.1 447.3 606.8 444.1 594.6 440.4 600.2 444.2 611.1 436.6 610.1 446.1 615.4 451.4 581.5 437.6 594.1 437 594.8 444.1 599.6 454.3 580.4 445.8 613 433.1 610.6 447.9 596.9 454.8 578.8 441 585.6 446 575.4 448.2 573.7 431.9 593.9 452 568.9 443.7 584 441.5 594.7 449.7 586.4 453.3 614.5 444.7 610.7 440 583.4 436.4 594.3 440.2 603.1 448 580.9 455.7 573.3 452.4 586.3 451.2 579.8 452.3 557.1 436.8 604 443.9 590 451.1 580.1 438.7 563.2 434.8 599.2 433.6 593.7 448.8 589.5 449.7 562.2 432.4 593.3 452.2 582.1 452.5 602.4 449.3 589.7 437.9 584 450.2 594.9 449 579.4 453.2 576 455 610.4 432.6 609.3 434 579.9 434.1 563.7 446.7 598 455.8 574.1 452.7 601.9 448.1 609.8 436.4 562.8 432.4 594.5 453.3 574.3 433.7 586.1 455.4 608.1 452.3 574.8 444.6 587.5 445.7 609.2 439.5 613.9 434 608.1 450.2 565.2 437.6 585.1 442.4 582 446.9 576.2 445.6 607.4 436.3 609.5 444.4 575.2 440.3 603.3 443.4 568.4 444.6 589.7 452.8 601.6 437.3 602 453.3 581.4 442.3 585.4 456.2 574.3 449.8 588.1 447.2 580.5 453 595.5 441.4 591.1 437.5 591.9 441.3 598.1 447.9 574.2 432.2 602.9 442.5 569.3 441.6 609.2 434.6 573.2 447 606.9 443.2 605 441.7 589.6 433 588.7 451.7 607.4 437.9 596.1 448.8 570.5 439.5 612.2 439.4 571.6 440.8 576.4 432.8 561.5 437.7 600.1 448.8 601.8 440.6 608.4 451.9 584.9 434.4 589.2 446.8 605.6 445.5 603.7 443.5 595 454.3 574.5 444 604.9 434.7 611.4 434.8 570.1 436.2 581.6 446.8 596.5 444.9 580.3 438 590.8 450.7 588.3 448.6 581.2 439.3 590.7 447.6 589.9 441 584.6 451.8 601.9 435.9 593.8 442.3 604.9 437.1 580.4 443.9 595.2 433 584.2 434.4 572.2 437.8 599.6 453.4 598.3 445 588.4 446.3 581.9 444.3" fill="none" stroke="none" marker-start="url(#mxd5033b)" marker-mid="url(#mxd5033b)" marker-end="url(#mxd5033b)"/>
<path d="M491.5 304.9 740.7 306.8 723 307.2 500.7 302.9 485.4 302.3 482.7 295.3 504.8 306.3 738.6 307.2 488.9 296.6 521.4 296.2 531.6 307.6 486.6 301.9 492.5 296 503.1 305.4 722.4 305.4 499 298 502.3 298.5 494.9 296.5 496.2 303.7 485.2 295.8 508.3 298.9 495.2 304.9 503.9 298.9 502.1 295 520.4 295.8 514.6 303.7 738.2 305.6 510.2 296.3 505.2 296.5 511.1 295.5 496.5 307.3 484.1 300.6 509.7 298.1 486.1 307.4 496.8 294.4 490 302.5 714.5 306.4 511.4 303.5 522.5 307.6 495.1 307.9 508 292.6 521.4 302.9 483.1 299.6 516.4 307.1 500.4 302.1 500.4 293 512.8 295.6 482.2 307 490.6 293.5 482.9 303.3 491.6 304.7 513.4 299.4 488.9 295.5 510 295.4 729.6 305.1 504.5 304.2 492.7 294 479.1 305.3 484.2 300 521 294.7 504.2 301.8 495.3 292.5 514.9 296 501.6 292.1 490.4 303.2 491.9 292.6 488.2 295.7 510.9 295 503.9 293.2 485.8 299.2 718.2 303 737.6 304.8 511.5 293.5 498.7 291.1 503.4 298.9 518.6 296.5 717.6 307.2 495.9 305.8 516.5 299.4 716.1 304.5 499.7 302.8 499.9 299 509.2 292.7 501.4 302.1 514.5 301.3 508.3 295.2 501.4 297.7 508.6 305.7 508 297.4 486.4 304.2 504.1 305.4 493.6 299.7 510.5 299.2 522.1 305.8 731.6 307.6 724.3 306.4 486.3 306.2 512 292.6 486.7 302.3 496.8 294.9 481.8 303.6 482.5 297.1 498.1 305.6 482.1 293.3 492.4 302.5 503.8 303.4 508.5 296.2 729.6 305.4 727.1 305.4 497.8 295.7 500.4 294.9 504.5 294.6 490.5 292.4 506.6 291.4 502 293.7 503.2 307.8 506.2 301.2 520 295.6 515.2 297.8 487 295.6 516.7 298.8 510.2 295.3 717.7 304.9 721.1 306.4 512.6 292.4 483.6 305.8 500.5 306.1 510.2 295.7 514.2 299.1 512.7 307.3 508 292.9 488.8 300.3 512 294.6 507.1 299.4 504.1 296.7 729.7 304.2 496.8 304 518.5 306.4 484.3 296.6 495.6 293 493.7 294.7 520.4 307.2 487.2 292.5 732.2 304.4 509.6 304.1 515.9 293.1 486.5 297.3 722.2 306.5 492.8 302.4 514 295.8 497.9 303.4 521.6 296.7 521.5 306.7 514.3 305.2 509.8 301.6 512.4 299.4" fill="none" stroke="none" marker-start="url(#mx1a10ff)" marker-mid="url(#mx1a10ff)" marker-end="url(#mx1a10ff)"/>
<path d="M490.3 312.5 733.8 327.1 722.8 326.4 708.7 314.9 725.4 311.6 487.3 322.5 719 332.4 488.6 315.5 511 319.3 510.9 314.6 706.5 324.8 725.3 315.1 510.1 326.2 729.1 327.1 515.2 318.7 732.2 309.9 740 315.2 513.7 323.7 488.3 318 526.2 315.1 475.1 326 492.5 330.5 507 330.8 734.4 332.4 733.5 308.8 491.1 313 721.5 310.8 513.7 331.7 524.8 327.6 505.2 310.5 499.5 322.6 477.3 328.9 723 316.9 526.4 330.9 511.1 317.1 487.7 316.7 497 311.1 522.1 309.7 731.3 322.5 742.6 327.5 721.8 324.3 523.2 309.8 735.3 332.6 495 332.1 716.6 314.4 524.6 308.6 487.1 320.8 736.7 313.5 716.1 329.3 479 325.8 486.9 319 699.1 324.9 495.9 320.4 526.8 332.1 732.2 323.4 515.8 309.5 488.4 330.1 712.9 328 722.5 311 734 324.7 517.5 309.7 520.7 319.5 508 308.3 474.2 326.4 711.6 331.6 708.2 329.6 730.2 331.6 497.5 326.8 717.2 329.7 517.5 331.7 730.5 325 726.5 314.9 516.3 309.9 729.3 322.6 715.9 314.3 478.7 325.4 731.8 324.7 491.6 308.1 729.9 310.4 474.6 332.2 718.5 313.8 485 327.3 724.9 314 738.3 309 726.6 319.2 482.4 309.7 724.6 329.1 733.1 323.3 505.7 318.7 490.3 322.1 479.4 322.3 523.4 319.6 487.7 327.4 505.2 313.7 504.2 315.1 730.1 311.2 731.6 315.1 739.8 332.5 705 310.4 527.7 315.7 720.1 317.1 489 316.1 486.3 329.4 497 323.2 508.8 323.6 488.3 309.3 729.5 330.4 707.6 328.1 489.3 310.1 720.1 318 532.3 329.1 734.1 329.5 729.6 312.6 515.7 312 492 328.9 738.5 313.1 512 316.9 725.7 323.1 521.2 308.9 521.9 331 709.9 315.6 728.7 321.8 726.3 314 742.4 320.6 493.2 325 530.8 326.2 481.1 327.9 520.5 312 484.1 311.4 510.5 332.7 734.9 324 708.9 314.7 520.1 310.5 709.8 324.1 519.6 321.8 507.5 316 525.7 318.1 486.4 323.1 712.5 324.3 715.4 318.2 722.9 328.6 721.4 328.6 513.7 311.1 493.7 313.6 493.7 316.7 509.9 327 484.2 329.6 715.7 315.7 521.2 313.5 493 331 511.1 310.9 719.9 312.5 716.4 309.6 725.2 319 705.6 311 721.2 327.1 724.7 332.3 732.4 310.3 508.7 330.8 518 316.5 732 332.1 509.1 316 491.6 326.5 731.7 327.1 504.4 316.3 708 313.2 510.8 312.9 740 314.1 529.8 332.6 484.8 317.7 507.6 322.3 490.4 309.3 728.2 311.6 491.4 321.5 525.4 328.9 514.2 315.8 482.9 319.4 712 323.2 519.1 323.3 522.7 310.2 727.9 313.3 710.3 313.3 490.8 326.4 513.8 315.4 503.8 317.8 729.6 309.6 739.3 318.7 502.1 323.8 707 317.8 505.9 321.7 490.3 311.8 708.9 318.9 495.3 315.4 707.1 324.4 712.2 330.3 745.7 323.3 522.8 320 514.8 321.8 491.3 327 721.5 323.4 476.5 332.2 490.8 317.2 720.6 327.1 723.7 310 719.4 313 722.1 332.1 491.7 324.1 737.5 330.8 716.8 314.5 512.1 331.6 486.4 318.5 526.9 317.9 476.9 329.4 499.5 321.4 713.4 308.4 529.7 329.9 516.8 316.2 477.5 320.6 517.8 313.9 720.9 332.5 485.7 310.4 507.4 325.9 516.4 328 481.9 318.6 736.2 311.1 523.1 327.6 715.8 329.7 511.8 322.7 514.9 324.3 489.9 332.6 706.5 329.2 505.1 317.1 500.4 309.7 483.1 325.5 529.7 325.8 723.7 331.8 535 324.2 495.8 313.8 734.4 314.2 713.6 331.6 715.9 319.3 721.6 318.8 502.9 332.7 704.3 325.1 716.7 313.7 710.2 321.6 491.1 332 482.3 308.7 739.4 320.2 492.3 320.9 710 323.3 495.4 332.6 530.2 332.4 524.8 317 726.2 320.4 493.1 328.6 713.9 326.4 482.2 312.2 494.3 327.6 529.5 322.2 719.8 319.3 719.8 329 719.2 329.1 480.4 316.1 487.8 325.1 738.6 320.6 725.4 316.8 725.9 315.9 493.7 309 729.7 308.3 501.3 321.1 519.1 315.2 491.1 310.9 521.9 327.8 482.2 326.9 506.8 331.3 489.6 309.6 708.7 320.8 515.5 309.6 712.4 314.3 717 325.6 481.7 327.6 505.8 315.6 706.8 331.3 710 321.3 518.6 329.7 719.4 309.9 713.8 326.5 725.4 308.8 512.5 324.2 490.3 316.2 507.1 327.9 730.5 309.2 478.1 327 508.9 316.3 510.1 314.3 493.1 312.5 723.5 327.3 500.4 310.2 512.4 325 715.6 310.7 512.5 329.5 492.4 326.2 527.3 332.3 728.6 330.5 489.6 328.4 718.1 313.3 485.3 309.7 522.7 308.3 493.9 314.7 735.5 326.2 507.6 311.5 509.4 324.9 508 310.8 496.7 323 732.7 309 514 324.9 526.7 326.8 734 331.1 737.2 329.7 720.4 327.2 739.2 315.4 714.8 310.3 470.8 330.2 484.8 318.7 523.9 317.1 723.3 321 473.7 327.3 723.6 317.7 485.9 331.6 477.5 329.4 496.1 310.6 731.6 318.2 501.5 326.4 506.5 310.9 721 317.1 728.4 322.8 506.8 324.9 712.3 325.5 485 323.1 500.8 325 708.4 320 483.4 316.5 483.5 330.8 489 316.8 499.8 310.6 511.3 318.3 478.8 330.2 523.4 326.4 504.3 329.9 526.6 325.4 494.9 319.1 529.7 321.1 714.3 317.4 486.1 317.2 720.4 322 742.6 320.2 508.3 332 528.8 332.2 476.4 326.1 476.1 326.8 523.9 320 706 325.3 720.8 331.3 521.1 319.1 511.7 317.6 731.6 314.7 719.1 309.7 495.8 321 492.8 329.3 522.4 320.8 732.5 323.6 486.5 324.2 497.7 318.8 730.7 313.4 496.6 318.9 485.4 321.3 708.9 326.7 494.6 316.9 733.6 321.4 733.5 319.2 705.8 314.6 715.3 327.9 505.7 315.1 506 323.8 732.8 331.3 511.4 314.8 495.4 321.2 495.6 310 740.1 320.7 516.6 319.8 511.2 327.8 479.7 320.2 471.8 324.6 500.8 312.5 524 326.3 736.1 323.7 509 325.5 497.9 316.9 503.5 311.6 480.8 328.3 720.8 320.7 733.4 316.8 493.8 328.1 510.7 310.7 526.9 321.3 735.1 312.3 529.4 324.3 744.5 311.8 506.1 318.8 522.9 316.9 721 318.8 717.1 329.2 486.4 309.1 722.6 323.2 518.7 309.3 713.4 312.7 511.7 325.8 518.7 308.6 722.9 331.7 724.2 310.2 730.8 318.9 497.9 325.5 508.2 313.2 720.3 315.6 508.6 329.8 732.3 315.5 733.3 317 504.3 323.8 718.8 325.1 483.7 325 503 327.7 496.5 329 714.7 313.8 731 319.5 508.6 315.4 473.3 328.3 518.6 309 718.4 313.3 479.6 317.4 732.9 322.1 713.9 318.8 517.5 316.9 728.8 315 482.5 317.6 729.9 319.9 484 314.6 481.9 331.7 716 326.4 722.2 327.3 523.2 310.7 485.4 317.9 507.7 328.6 488 324.4 489.7 310.5" fill="none" stroke="none" marker-start="url(#mx2c0fec)" marker-mid="url(#mx2c0fec)" marker-end="url(#mx2c0fec)"/>
<path d="M539.2 364 703.9 357.9 496.4 358.2 505.2 374.1 539.6 360 670.1 375.4 529.7 362.8 541.1 379.5 553.2 364.1 526.2 370.6 530 371.7 555.2 379.6 549.4 372.3 546 358.8 535.5 363.9 684.1 378.2 681.9 366.1 536 364.3 534 368.7 504.9 365.3 513.5 377.8 688.5 360.4 550.5 363.1 535.1 372.1 514.9 361.9 515.6 374.9 522.7 381.8 543.9 369.2 540 362.7 541.1 377.5 552.9 378.1 537.5 376.7 545.6 377.8 516.2 370.1 543.1 367 550.1 363.4 661.2 375.6 527.3 370.9 695.1 361.5 521 368.7 505.2 374.2 494.5 358.8 520.7 357.7 688.3 362.8 523.1 370.6 504 376.9 521.2 378.3 553.9 369.3 510.5 363.4 548.6 373.8 549.6 360.9 525.3 362.9 512.8 357.6 533.9 368.2 548.1 368.1 514.1 371.6 510.2 359.6 675 381.2 663.2 370.4 539.9 377.3 516.6 382.3 531.3 379.9 672 366.4 669 378.7 495.7 357.6 513.4 376.2 674.7 377.9 517.4 370.2 508.2 361.1 531 371.1 546.6 361 529.8 362.3 558.1 377.5 549.7 359.7 662.6 372 537.4 375.7 541.1 380 679.2 376.3 528.6 365.8 541 369.9 525.5 357.9 511.5 371.2 531.4 360.9 558.1 376.4 666.4 373.2 553.1 372.1 547.4 360.7 546.9 364 522.8 376.4 523.9 373.3 517.7 377.8 516.5 367.9 674.2 378.5 695.8 361.9 531.2 357.7 656.9 375.9 516 371.3 685.9 365.9 545 368.7 539.4 362.3 673.3 373.6 551.8 364.6 522.2 364.2 545.1 369.4 515.3 358.4 516.5 375.8 700.7 360.7 670.2 373.4 657.2 378.4 509.9 367.1 521.6 358.1 678.8 373 552.8 377.6 506.4 370.8 546 357.8 546.1 378.5 703.3 361.7 542.2 364.1 685.9 362.5 655.3 381.5 499.3 358 531.3 376.8 558 367 673.5 373.2 531.6 365.7 685 358.9 549.6 374 554.6 378.1 513.1 368.7 517.4 363.9 521.2 372.8 689.5 377.2 504.2 380.8 518.3 370.7 701.3 362.8 547.4 373 697 359.6 540.6 358.6 549 368.3 518.8 362.5 515.4 366.4 560.9 378.9 550.7 374 528.6 371.1 514.2 364.4 520.8 376.3 535.8 362.3 668.3 376.7 521.3 381.1 670 375.6 539.4 358.1 560.3 374.5 534.2 361.4 531.4 367.4 668.7 372.8 507.7 363.2 542 380 522.7 361.2 685 369.9 691.8 368.4 534.1 362.1 523.6 371.8 687.4 373.7 518.1 376.3 672.8 371.1 693.5 369.2 510.6 374.5 501.8 361.9 510.5 369.6 538.5 364.8 548.1 366.3 527.5 371.6 532.7 372.6 541.5 363.8 523.1 360 553.2 374.9 555.4 377.8 690 369.8 527.5 377.6 518.8 358.8 548.9 371.6 530.7 380.2 543 370.7 513.7 375.3 511.1 363.3 665.2 373 553.8 368.8 545.6 371.7 513.7 378.2 661.2 378.9 683.9 368.7 514.7 371.4 519 366.7 526.2 371.2 558.5 381.5 678.3 375.2 660.2 380.5 674.1 380.4 510.1 374 664.3 378 510.8 378.2 559.9 373.4 516.2 372 549 371.3 546.2 378 531.9 369.1 684.9 373.4 545.6 366.5 525.6 374.1 681.4 370.3 507 359.8 686.4 358.8 548.9 372 545.3 374.6 549.7 369.6 537.8 371.8 519 365.2 695.7 366.7 663.8 370.7 549.4 365.6 508 370.4 530.6 365.7 517.5 362.3 506.1 373.7 548.7 380.2 660.9 376.3 523.9 379.5 553.4 369.6 525.9 360.6 530.1 361.5 534.5 359.3 694.8 370.3 666.9 381.6 672.3 367.3 695.2 378.8 520.4 359.2 698.9 360.3 536.1 381.4 531.7 381.9 543.5 370.2 690.2 365 507.4 358.5 512.9 372.4 685.7 361.3 674 365.4 558.2 364.6 540.8 378.7 676.5 362.4 549.3 358.6 507.1 368.4 526.7 367.3 547.3 371.8 684.5 357.6 688.2 361.1 545.5 381.6 500.3 359.3 520 377 689.6 367.4 514.5 363.7 508.9 369.5 697.4 367.5 529.6 364.6 512.8 361.9 681.6 375.2 526.6 370 682.2 380.6 546.7 375.2 661.6 375.2 662.1 378.7 517.2 363.4 504 359.5 522.3 375.1 539.9 381.2 511 364.6 503.3 371.6 669.6 370.7 535.1 361 508 368.7 499.1 358.3 546.5 374.5 701.9 364 544.9 381.1 682.2 378.4 690.6 376.5 539.7 365.3 536 363.8 557.3 370.9 540.2 363.9 510 377.4 693.5 360.8 685 375.4 541.3 381.5 540.6 366.1 545.3 378.1 526.8 367.5 674.8 366.5 534.6 369.5 518.3 358.9 545 369.3 514.2 367.3 557.1 375.8 537.5 379.2 673.9 378.5 555.7 379.4 668 378.8 510.6 365.9 693.6 361.8 683.8 365.8 695 368.9 550.5 379.2 554.8 363.7 687.1 373.3 667 378.6 524.4 368.6 693.9 369.6 545.3 361.9 529.4 372.9 545 358.1 515.3 367.4 545.2 364.7 523.6 374.3 531.2 377.9 525.4 374.9 535.5 362.8 549.3 379.5 547.2 359.7 554.6 362.4 544.5 375.3 509.9 370.9 517.5 357.6 542 360.8 541.4 358.1 681.4 367.2 525.4 379.3 500.1 362.1 703.3 361.4 523.2 359.2 685 360.9 510.6 380.4" fill="none" stroke="none" marker-start="url(#mx660bb0)" marker-mid="url(#mx660bb0)" marker-end="url(#mx660bb0)"/>
<path d="M543.9 411.1 536.8 412.6 534.6 410.1 639.5 414.1 537.5 409 602.7 428.6 606.1 426.7 542.5 423.2 632.3 409.5 599.1 429.9 590 421.3 648 408 592.3 419.8 552.4 409.3 534.5 415.5 615.9 428.7 560.1 413.8 627.8 414.2 601.6 431.3 627.7 409.2 633.2 419.2 584.4 421.8 540.6 421.9 587.2 427.4 580.3 421 547.3 413.9 641.5 407.6 607.6 426.3 592.3 428.2 536.9 416.8 556.9 412.2 593 418.2 526.3 413.9 594.3 423.9 588.6 426.7 587.3 431.5 597.5 423.7 604.4 430.2 594.7 430.5 607.8 424.4 633.6 417.4 597.6 425.5 589.6 423.2 570 423.8 582 430.8 597 423.4 583.6 423.8 585.2 426.3 639.4 410 604.9 424.8 613.8 431.6 586.1 430.8 539.3 416.6 577.4 426 602.4 430.6 601.7 423.1 599.9 418.4 557.3 407.7 593.6 418.6 534.9 410.4 684.7 411.3 588.4 426.7 639 412.3 533 409.6 598.5 424.9 641.9 417.3 595.5 423.9 588.6 428.8 585.2 425.3 533.4 411.7 592.3 422.5 554.3 412.3 604.7 422.8 641.9 408.9 587.2 429.6 594.4 430.4 545.7 409.4 568.3 426.8 529.3 408 566.5 427.2 641 417.7 556.7 415.1 553.5 414.6 584.4 421.9 639.3 417.6 571.2 429.8 604.5 429.3 607.6 421.2 543.6 418.9 592 431.1 537.4 408 643 410.8 548.1 415.1 578.6 427.6 533.1 410.7 547.8 417 639.6 408.9 635.5 412.2 614.7 424 599.1 420.3 548 409.5 694.3 409.3 534.9 407.2 571.7 426.3 544.1 411.6 597 419.5 630.4 414.9 594.3 418.7 573.9 427.1 543.8 412.8 551.6 413.2 613.3 426.6 568.9 431.3 534.5 414.2 554 413.2 641.4 414 645.3 413.3 564.9 429.9 642.7 407.1 543.2 411.3 538.5 409.1 628.7 422.8 599.7 430.5 596.6 430.7 600.1 425.5 531.7 417.2 540 408.2 612.2 429.7 581.2 428.1 552.5 420 607.8 429.2 556.1 412.8 590.7 423.7 654.6 407.5 612.8 430.8 577.3 428.1 583.2 425.6 609 429.3 590.3 419 540.2 422.4 600.6 424.4 538.5 419.7 592 428.3 557.6 412.1 550.5 407.9 579.2 420.1 605 418.3 608.8 430.8 631 416 544.4 410.8 612.4 428.2 634.2 413 602.9 412.3 523.4 408.3 644.8 407.3 606.5 420.5 692.3 410.5 639.7 407.4 634.2 411.9 539.1 421 690.6 409.6 538.9 409.6 592 419.8 597.6 421.8 530.7 412.6 550.4 407.3 638.8 416.8 581.6 431.8 546.5 413.7 535 417.3 635 416.6 544.7 410.9 576.4 425.3 644.3 415.1 630.2 415.6 609.6 423.5 550.3 412.8 547.9 409.9 544.7 420.6 636.2 418.4 587.6 418.3 597.6 428.6 607.6 429.9 632.4 409.1 574.7 424.4 537.2 425.4 527.5 416.8 603 425.1 635.2 417.3 527.9 410.6 542.2 416.5 631.4 407.9 601 430.4 550.8 411.6 642.2 416.4 598.2 422.3 572.6 429.1 533.2 416 602.2 428 611.9 425.6 611.9 428.5 630.6 410.1 633.4 417.1 607.6 422.2 566.1 429 531.4 417.2 537.5 412.3 581.6 420.6 570.3 419.6 604.9 425.4 547.6 418.9 563.8 430.7 611.6 423.6 586.4 426.6 573.8 427.1 627.2 415.1 630.6 420.2 553.7 408.1 530.3 409.4 536 407.4 606.9 425.5" fill="none" stroke="none" marker-start="url(#mxae0665)" marker-mid="url(#mxae0665)" marker-end="url(#mxae0665)"/>
<path d="M700.7 392.6 686.7 394.8 686.7 404.3 697.6 389.9 546.5 399.1 671.3 401.3 646.1 402 552.5 399.5 526 382.8 543.2 389 682.3 390.2 670.9 397.8 548.9 387.2 552 405.7 700.8 399.1 677.1 403.9 656.1 401.6 682 395.7 653.5 384.5 523.3 394.6 551 402.9 537.1 400.4 673.3 390.8 537.1 388.4 554.5 383.9 648.9 402.4 532.6 405.4 546.6 391.3 527.7 402.4 558.8 393.2 551 406 652.8 388.7 521.1 390.4 546.6 394.2 673.7 398.1 540.6 385.7 642.5 395.2 650.2 401.3 674.4 389.9 540.4 390.3 551.6 395.5 675.5 384.6 661.9 388.5 529.2 404 526.7 390.6 674.7 382.9 539.3 396.4 526.1 384.4 537.1 395.4 672.6 391.4 531.8 399.5 684.8 382.5 558 387.1 648.7 403.9 651 392.6 555.1 404.2 658.6 396.7 555.2 401.3 533.5 384.6 683.8 388 530.4 388.5 523.6 394.3 660.4 394.1 521.9 383.6 537.7 387.9 669.2 383.5 534.3 399 527 390.1 525.8 385.3 546.6 399.8 682.6 388.8 546.5 401.1 653.1 382.9 544.2 402 551.4 403 685.6 397.9 653.3 403.1 545.8 391.4 697 393 557.1 399 542.2 391.4 544.3 403.9 542.7 401 543.6 386.9 689.3 402.8 541.5 389.5 689 394.7 539.7 400.7 525.6 398.1 542 391.8 668.1 394.6 686.5 391.9 677.4 397.3 673.8 385.3 544.8 402 551 393.3 515.3 383 671.4 382.6 638.5 405.7 540.3 392 677.5 390.1 640.3 403.4 660.4 394 555.9 382.4 536 384.5 694.6 387.5 555.1 391.2 540.9 396.1 515.4 382.5 683.1 400.9 533.3 403.9 695.8 403.2 650.2 387.7 684.4 383.7 667.8 399 684.4 396.4 634.9 401.7 554.3 407 636.3 399.4 695.5 390.2 667.6 401.9 529.4 394 690 396.5 702.4 400 540.4 386.7 697.7 398.3 515.4 383.4 681.4 389.9 664 398.3 648.2 406.4 550.1 397.9 545.3 397.4 524.4 403.1 554.9 402.3 699.9 389.3 695 401.1 544 399.4 697.6 394.5 686.1 405.1 545 389.1 514.4 398.4 527.9 404.8 517.1 398.1 648.4 396.8 686.5 382.6 669 386 522.8 384.4 539.3 396 546.5 384.2 526.1 384.6 644.2 389.2 526.2 399.3 559.4 397.3 550.7 392.4 519.6 388.3 524.1 391.1 540.2 388.9 542.9 403.8 536.4 396.6 511.7 384.8 537.1 383 520.4 384.3 536.1 395 518.5 388.2 648.1 391.8 691.8 395.5 527.6 401.9 547 387.1 547.1 392.6 663.1 400.2 662.9 389.4 533.5 387.9 553.6 388.8 665.4 387.8 693.3 392.7 530 387.6 516.7 397.4 666.9 386.1 692.2 399.5 526.9 403.2 540.7 406.4 647.4 398 672.1 393.7 558.1 387.6 685.6 385.8 544.6 396 514 397.1 544.8 394.2 684.7 400.2 639.3 401.9 645.6 405.2 647.4 403.4 517.2 389.5 545.2 382.4 663.4 392.5 707.4 398.6 686.1 399.8 530.3 393.3 676.7 391.6 688.6 401.8 547.1 388.2 533 398.6 539.3 405.3 678.7 394.6 530.2 389.7 554.1 386.9 703.4 399.2 553.5 401.4 693.5 396.1 538.8 398.9 530.3 387.9 673.1 396.6 516.2 391.7 697.6 403.1 538.9 386 555.9 392.1 546 392 523.7 392.1 533.3 386.1 678.4 388.5 652.7 394.8 543 392.1 536.6 388.1 658.8 383.9 663.8 398.2 667 388.4 530.3 402.3 551.2 404.2 681.7 395.4 672.4 388 703.9 394.5 691.2 386.9 653.6 401.8 549.8 392.9 693.7 397.3 688.2 384.3 546.5 393.1 699.8 404.2 640.6 403.1 687 395.7 654.8 388 631.6 402.3 683.6 404 521.4 385.4 682.5 405.9 540.3 385.8 675.2 399.8 699.3 398 693.3 386.5 539.8 389.4 530.6 398.5 655.3 387.9 652.1 383.5 528.5 383.1 521 384.7 661.1 399.9 660.3 382.5 656.4 400.2 551.2 391.9 660.3 396.6 662 398.9 528.2 401.6 534.7 400.6 555.7 394.8 530.7 406.1 655.2 396.7 662.2 394.5 685.4 389.8 674.8 396.5 647 396.4 544.3 382.7 560.8 393.6 541.8 393.9 695.4 404.4 682 396.1 544.6 403.9 664.3 399.1 556.3 387.5 636.8 404.8 527.4 403 660.7 398.9 631.2 404.9 682.9 398.8 684.9 389.4 553.5 388 676.1 392.3 551.6 396.7 542.4 398.8 684.4 393.5 683 386.1 696 390.7 558.1 386.3 533.6 399.1 701.9 391.9 688.6 385.5 554.4 388.2 697.5 397.5 534.9 398.7 547.5 392.7 540 400.1 543.4 404 538.7 394.7 519.7 398.8 523.7 387.6 668.7 397.3 543.6 404.9 628.6 405.6 511.1 382.4 543 402.9 553.1 386.3 657.9 401.4 531.1 393.3 683.8 399.3 554.1 401 558.3 384.2 522.8 398.2 512.3 385.3 522.5 387.8 527.8 395.1 674.6 384.7 548.1 406.7 517.9 383.7 554.3 385.4 555 392.6 551 394.3 553.7 402.3 532.1 387.9 539.1 393.8 554.3 390.7 653.6 393.2 648.8 399 538.3 386.7 658.2 405.2 532.1 402.7 650.4 393 678.3 393.1 541 386.3 555.2 395.1 544.5 391.6 524.3 395.4 528.9 394.1 558.5 398.9 536 388.2 677.5 390.4 522 394.1 550 400.6 541.2 383.5 696.7 393.1 680.5 401.6 672.7 397.7 536.1 397.6" fill="none" stroke="none" marker-start="url(#mx89088c)" marker-mid="url(#mx89088c)" marker-end="url(#mx89088c)"/>
<path d="M523.8 313.1 489.6 323.1 509.2 326.7 723.3 316.4 510.5 327.8 717.6 317.7 740.6 317.1 483.7 315.7 473.1 328.7 729.9 315 724 327.1 502.5 317.7 493.6 330.7 506.8 314.2 733.6 318.6 501.2 330 737.5 328.8 519.8 324.1 728.3 321.1 702.3 316.9 717.2 308.8 731.8 331.3 509.8 322.3 707.9 331.4 478.2 318.8 479.5 319.2 738.1 321.9 716.5 312.7 478.4 317.6 726.7 327 711.6 314.1 529.8 330.8 720.1 317.6 525.6 327.2 495.2 309.2 735.8 329.4 527.9 321.6 503.9 332.5 740 324.1 721.6 327.3 707.3 323.9 728.3 326.9 493.7 323.2 523.9 312.1 493.8 324.9 721.4 319.1 500.5 325.1 523.6 325.3 719.1 317.5 497 312.4 727.7 308.7 510.3 322.1 718.1 320.8 497.5 314.4 515.2 331.5 736.8 323.4 738.4 315.2 736.3 319.8 503.4 316.7 524 332.6 719.2 310.3 504.2 310 492.4 314 514.1 325 524.3 331 739.6 329.4 725 328.4 530.9 325.1 520.9 324.4 493.5 325.8 497.5 329.4 509.1 327.6 742.4 325.7 493.8 310.2 712.5 332.6 712.3 324.6 528.8 330.8 738.9 331.3 515.4 322.4 482.6 323 738 325.6 713.7 321.3 506.8 321.1 502.5 311.7 720 321.7 733.4 328.9 516.5 323.6 727.4 332.7 516.6 310 725.6 326.4 516.3 322.8 506.8 331.9 729.8 315.7 515.6 316 718.5 322 503.7 322.4 512.6 332.7 503.5 310.7 520.5 322.9 520.6 319.2 725.3 313.2 501.7 331.7 480.1 313.8 737.8 317.9 715.7 321.8 493.1 316.7 506.4 320.5 734.3 323.5 484.1 326.5 492.8 328.7 479.5 322.7 519.5 310 489.9 317.4 729.5 311.2 481.8 319.9 521.2 311.6 524.8 330 710.9 318.9 712.7 311.5 737.4 328.4 481.2 324.5 720.6 330.6 714.6 331 473.8 328.5 713.9 328 504.2 320.1 710.3 319.4 491.6 316.7 713.3 309.8 495.8 313.3 734.6 323.7 510.6 317.2 518.3 309 721.4 315 497.3 309.9 470.9 325 719.1 319.2 525.5 322.8 489.9 310.8 505.1 318.4 740.1 315.9 511.1 309 498.5 325.1 715.3 317.6 735.8 332 527.4 322.3 715.5 330.4 710.8 325.2 722 312 714.6 309.7 722.4 324.2 515.4 321.5 499.8 312.4 522.2 309.3 726.1 309.3 472.7 328.8 729.7 321.8 510.9 330.7 725 331.1 480.6 329.8 710.5 318.9 735.1 315.3 715 319.8 713.2 330.7 512.2 316.3 727.5 321.6 511 311.7 506.5 328.7 730.5 320.6 734 319.2 520 319.9 500 312.1 520 315.7 480.6 317.2 717 327 725.3 318.6 497.3 326.4 710.1 328.7 511.7 308.8 730.5 325.3 517.8 319 742.4 317.1 712.2 315.8 710.8 311.2 725.1 319.3 720.8 328.9 736 314.5 705.7 314.7 723.1 329.3 482 331.6 513.2 327.5 731.6 330.5 487.5 332.6 529.7 331 712.8 318.7 509.7 329 526.8 317.6 519.6 321.1 511.6 332 506.8 314.5 727.8 316.3 528.5 321.4 510.9 317.3 518.4 315.1 708 325.7 721.6 313.4 716.3 327 506.7 316.7 724.3 313.2 529 323 514 327.1 713.8 313.2 527.5 332.8 480.9 310.1 503.9 308.1 505.4 313.6 524.9 311.1 721.1 326.6 724.7 311.1 501.1 318.8 729.8 315.2 525 326.7 517.8 315.4 737.2 310.2 507.2 312.7 507.5 312.2 721.1 332.3 732.6 332.3 490.6 320 480 332.3 530.8 329 714.3 327.6 736.4 332 498 322.5 521.7 316.4 516 314 506.4 321 713.5 315.8 493.2 322.1 721.9 311.3 520.5 310.8 517.7 315.6 528.2 322.6 727 329.5 528.1 326.1 502.4 308.1 726.6 325.1 496.5 319.1 489.1 316.1 721.7 314.6 731.8 330.6 498.7 328.6 479.3 324 483.5 311.1 736.2 312.9 494.3 312.6 527.3 318.7 489.1 323.5 516.8 320.5 717.6 319.9 492.2 317.8 485.9 323 734.7 326.2 715.3 324.7 519.5 331 498.1 326.6 477.6 329.9 718.4 329.3 715.4 332.1 736.3 316.1 485.7 331.2 507.7 318.9 490.2 323.3 729.4 331.5 738.5 321.3 731.6 310.5 520.3 309.5 725.9 323.9 492.5 314.1 716.4 320.2 510.3 310 737.1 312 707.5 311.7 500.9 322.9 503.5 322.1 739.4 312.6 737.8 309.7 482.8 321.8 739.3 329.9 523.5 312.6 737.5 329.4 714.5 326.6 724.1 314.7 513.9 323.7 484.9 309.6 738.8 324.4 727.7 328.6 732.5 327.4 473.1 324.2 505 308.3 527.2 332.6 733.6 323.6 507.9 322.6 496.1 309 511.2 314.9 491.4 320.7 504.3 315.8 499.6 330.9 512.3 321.3 496 328.4 511.8 312.5 518.5 331.6 498.8 310.6 491 324.3 477.2 327.5 733.2 316.2 516.7 311.7 713.8 330.3 515 313.4 527.2 332.7 726.6 328.7 741.4 313.4 725.8 331.6 712.5 314.8 476.5 327.7 501.3 308.1 732.5 314.8 486.7 315.6 492.6 318.1 516.5 323.2 709.9 325.7 730.2 323.6 502 321.6 716.5 317.3 723.7 312.9 741.7 310.2 498 316.5 713.3 311.3 513.8 329.6 737.8 326.5 728.9 322.8 479 326.2 525.1 319.6 511.2 326.9 517.1 311.9 507.3 311.2 736 331.4 713.2 329.4 736.8 311.8 491.5 311.8 513.2 312.7 478.5 323.7 718 325.5 742.4 314.4 733.3 317.9 710.1 317.1 500.2 323.6 505.4 309.4 509.8 312.9 718.2 324.6 515.8 326.1 497.4 308.8 715.5 322.7 729.5 320.4 743.6 315.5 513.3 323.6 524.3 311.9 494.8 322.8 718.3 327.2 518.9 317.9 731.4 329.4 525.3 312.5 738.1 326.3 473.5 322.3 741.7 320.1 730.7 316.7 499.9 323.5 487.9 314.6 726.7 331.8 721.8 316.6 525.8 318.2 736.2 321.4 489.8 330.4 485.6 310.4 743.5 321.1 724.4 310.4 491.3 311.7 726.8 308.8 504.6 313.3 495.5 324.7 726.8 325 491 312.7 710.6 324.1 707 314.3 486.2 311.1 512.5 317.1 710.3 310.9 731.1 309.6 711 325.5 522.9 323.2 734.8 316.3 520.2 331.5 518 324.8 713 310.1 708.7 327.6 512.4 319.2 527.8 331.8 709.1 319.1 725 332.3 719.4 311.9 504.8 313.7 500.6 324.6 508.1 313.7 507 326.4 514.4 325.7 513.8 318.9 732.4 328.2 483.8 308.9 739 312.5 484 323.8 486 317.8 526.5 317.4 476.8 326.4 720.6 329.4 719.1 322.8 715.4 314.3 488 324.3 721.6 329.6 720.6 316.9 526.1 321 726.5 323.2 486.5 308.3 512.6 312.8 519.4 329.4 485.5 327.2 521.3 322.4 715.7 311.2 478.7 309.3 471.5 332 514 330 710 310.7 728.9 331.7 719.5 329 480.3 309.3 495.7 328.7 510.3 309.9 717.5 315.3 739.1 309.5 712.3 312.5 522.1 329 707 325.8 516.2 322.1 505.5 325.5 491.2 308.6 521.2 316.7" fill="none" stroke="none" marker-start="url(#mx2c0fec)" marker-mid="url(#mx2c0fec)" marker-end="url(#mx2c0fec)"/>
<path d="M481.5 311.1 724 323.4 739.4 319.2 737.9 325.5 490.1 330.2 511.5 327.9 474.2 327.3 499.3 319.7 494.1 315.2 483.5 323.6 519.2 320.2 525.1 319.4 709.9 328.8 524.6 310.3 520.4 318.7 505.8 314.8 520.5 311.5 713.3 329.5 484.5 330.2 515.6 321.3 514.8 330.9 723.2 317.4 718.2 313.8 493.1 327.1 714.8 330 493.5 314.6 724.1 324.3 507.9 319.6 520.3 309.6 490.1 323.1 723 331.9 524.9 310.2 506.5 330.2 723 311.3 736.1 331.5 722.2 329.5 728.6 314.9 472.7 332.4 706 326.5 711.4 322.2 733.2 311.3 517.9 308.5 730.1 317.2 487.8 325.5 714.4 316.4 475 331.6 497.3 331.3 502.4 327 512.2 322.6 504.3 313.6 724.5 312 728.7 326.5 484.6 310.7 720.2 309.6 488.2 331.5 517.6 314.2 739.9 313.7 741.3 325 503.6 321.8 484.3 324 720.9 315 525.7 318 740 326.3 497.7 321.6 494 327.1 726.9 329.6 487.2 312.8 732.4 315.1 491.7 318.7 477.7 315.6 483.1 324.4 743.7 321.5 504 332.1 529.4 327.5 744 329 726.8 316.5 722.5 312.2 722.8 311.1 724.1 320.3 494.3 314.7 725.1 323.4 728.3 317.4 503.1 313.5 739.4 316.7 519 324.7 731 315.8 710.3 312.6 489.1 316.5 492.1 325 729 322.4 707.8 325.8 486.3 314.7 474.4 326.3 476.2 330.6 497.8 319.7 710.1 314.2 715.3 320.3 473.7 326.7 726.2 331.9 500 315.2 498.1 309.4 716.4 326.1 482.1 331.2 737 320 508.8 308.4 729.1 330.3 740.7 310.1 721.6 319.7 739.7 315.4 725.5 320.1 717.4 322.6 708.7 324.1 728.6 327 707 316.6 500 318.1 725.7 312.1 709.9 319.4 727 326.6 705.5 326.2 495 330.8 736.6 326.2 712.7 316.3 713.9 314.8 736.1 320.9 529 330 487.1 317.9 494 324.2 522.5 320 736.7 313.3 484.5 325.6 487 311.5 728.6 311.3 514.1 332.4 523.9 325.4 474.5 323.8 489.8 310.8 741.3 327.2 508.2 315.5 728.8 329.6 501.5 322 498.8 308.8 490 328.2 483.5 329.7 511.6 313.4 721 322.7 486.1 331.7 505.8 309 718.5 318.2 488.6 326.6 740.2 317.8 512.6 323.5 490.6 309.4 523.4 327.9 494.2 321.9 474.3 331.4 513 310.7 527.7 330.6 733 331.3 489.1 328.2 510 311.6 717.5 315.4 707.9 313.4 504.2 321.8 481.5 319.5 517.2 318.9 727.7 327.8 519.9 332.7 719.4 322.4 483.3 314.2 712.1 324.5 722.5 314 707.6 323.5 497.2 327.8 729.8 315.9 496.7 322.7 480 314.8 512.4 312.9 735.5 323.6 503.6 329.4 504.2 317.4 732.3 322.2 713.7 332.3 473.8 326.7 725.7 324.8 501.4 309.7 708.3 322.7 706.4 324.4 733 332.4 720.6 316.7 725.5 327.1 493.5 317 500.8 325.6 508.8 325.9 484 329.5 732.2 321.6 724 332.7 471.3 324.7 519.1 310.2 516.4 311.8 529.2 320.3 718.9 328.7 510 319.8 507.2 332.5 505.7 331.3 519.8 318.7 712 332.7 721 309.6 708.7 320.9 488.9 325.1 520 327.8 529.1 312.3 507.8 325 731.6 311.4 501 314 717.6 317 728.9 313 734.1 315.7 516.5 329.7 524.4 316 521.6 314.3 709.6 330.9 488.6 320.5 494.5 308.3 491.7 318.4 708.4 313.4 516.8 329.1 482.5 310.4 725.5 326.3 735.8 328.4 502.6 324.1 514.1 319.6 506.4 314.1 521.9 330.5 490.6 329.9 521.3 317.9 707.9 315.9 503 309.9 490.5 326.5 488.2 325.6 722.2 308.2 717.7 321.4 486 332.5 475.6 324.5 490.5 309.8 722 326.9 490.1 331 498.5 315.7 508.3 308.2 516.1 314.8 483.2 317.8 479.2 318.5 727.9 328.3 527.3 325.2 708.1 329.5 507.8 323.7 717.5 329.3 482.7 325.2 521.1 327.2 734.6 313.4 482.1 314.5 700.8 309.8 495.3 317 492.8 322.6 529.3 331 483.8 328.1 524.9 325.9 508.4 313.8 715.3 329.4 729.1 309.2 740.8 320.2 486 327.1 729.3 326.6 716.8 319 717.4 324.6 728.6 316 712.7 325 512.4 328.4 715.2 327.4 734.9 308.6 516.9 310.2 711.4 326.1 475.3 328.8 505.8 324.7 506.4 325 524.6 319.2 507.8 311 735.9 332 509.6 329 507.2 321.8 491.6 325.8 717.4 315.3 732.8 308.6 495.8 309.2 529.2 327.9 502.4 331.4 737.8 316.1 733.6 309.7 715.7 322.2 737 328.3 500.8 331.8 514.8 325.9 520.8 323 711.8 318.1 492.7 327.8 719.2 324.3 729.7 329.3 736.2 320.6 714.8 316.3 500.6 327.4 503.4 313.8 713.5 321.6 710.1 321.6 502.9 308.4 493.6 330.5 722 323.2 528.5 320.1 497.7 310.3 707.1 326.2 525.8 314.3 738.6 316.3 509.7 317.8 513.2 308.5 487.4 326.4 504.1 309.1 730 323 731.8 319.1 479.6 325.5 734.8 326.2 487.8 318.5 478.5 318.1 497.4 311.8 738.4 312.8 529.9 325 720.9 317.4 492.2 315.8 472.2 328 515.2 328.6 521.5 324.4 730.8 316.6 714.5 320.5 707.2 311.2 729 324.5 521.7 327.3 521.7 324 722.4 324.3 482 331.2 479.7 322.1 711.9 324.4 508 311.3 739 312.7 722.4 311.2 506.1 313.4 529.9 331.9 509.2 316.3 483.5 308.6 479.1 330.2 504.2 313.2 737.5 317.7 480.4 313.9 494.6 311 712.1 314.8 709.5 328.5 728.2 316.3 726 320.5 490.3 314.2 491.5 323.4 515.1 327.3 709.2 318.1 736 320.6 730 321.8 738.1 332.2 523.9 311.6 732.7 310 733.7 332.5 734.8 322.7 501.9 311.6 721.5 324.5 511.1 308.5 730 319.5 743.2 316.1 492.1 324.9 711.9 311.6 518.7 324.8 512.4 313.2 715.9 319.1 505.5 319.3 739.1 329.5 506 314.4 486.1 311 707.3 316.8 503.7 325.7 719.1 325.6 489.1 327.1 713.4 309.6 737.3 308.3 709.3 319.3 488 318.6 731.5 316.5 491.3 326.8 502.3 315.3 471.5 322.3 472.8 331.2 724.4 326.6 516.6 311.7 490 326.7 727.8 314.5 491 312.9 508.7 313.2 717.2 326 714.2 323.1 521.9 308 521.2 317 714.2 325.7 498.8 320.3 516.8 330.5 485.7 314.5 519.1 312.5 481.7 319.9 506.4 317.1 707.8 310.4 513.2 325.9 730.2 329.4 713.2 316.7 739.1 311.5 714.6 317.4 706.7 315.6 481.7 331.5 726.6 322.3 714.1 318.3 714 310.5 503.7 329 477.3 332.4 515.3 311.4 495.7 311.7 492.9 328 514.3 316.1 730.4 319.1 739.6 326.1 509.2 328.4 730.5 319.3 523.2 325.9 501.9 318.7 722.3 322.3 504.2 321.9 727 312.2 496.6 311 480.7 310.9 476.7 319 486.4 315.3 494.2 331.3 714.7 326.6 495.8 325.1 483.9 326.1 504.2 321.5 512.2 316.7" fill="none" stroke="none" marker-start="url(#mx2c0fec)" marker-mid="url(#mx2c0fec)" marker-end="url(#mx2c0fec)"/>
<path d="M486.1 334.9 510.2 341.5 539.7 355.4 497.6 340.8 507.3 345 517.5 350.7 538.7 350 509.4 334.4 725.6 341.2 724.9 340.1 718.4 333.7 711.8 346.8 499.5 340.7 517.9 356.7 708.5 344.4 702.1 342.8 695.8 354.9 731.8 337.9 530.7 357.3 517.8 347.3 701.2 342.2 524.3 334.2 500.8 346.9 500.7 334.2 707.2 347.1 702.1 346.5 711.6 341 493.3 345.9 707.7 350.5 497.1 344.8 502.1 347.9 736.2 338.1 520.1 350.4 503.7 342.1 522.7 348.6 495.3 337.6 733.1 340.3 501.7 349.1 508.6 342.3 492.6 345 482.1 333.6 697.3 351.9 531.8 356.6 694.7 353.5 513.9 347.1 738.1 334.3 478.7 334.2 520.3 341.7 696.4 357.3 688.7 354 513.6 333.4 722.5 332.9 713.2 333.6 737.1 334 703.2 338.8 501.4 343.5 727.2 336.8 501.8 333.3 522.5 347.7 732.3 337.3 709.6 338.4 509.4 334.2 731.8 338.4 717.7 339.1 706 342.7 494.6 344.2 493.5 340.4 706.1 347.3 512 341.4 473 333.9 508.5 346.8 493.7 336.9 516.4 338 489 335.9 510.3 339.8 511 356.4 722.8 334.2 500.6 346.1 524.1 355 506.7 333.2 499.7 344.1 702.1 348.5 691.8 345.6 533 352.7 533.3 354.3 521.4 349.2 729.4 337.2 701.6 341.2 501.6 349 537.8 357.3 696.1 355.5 718.1 340.1 506.7 334.8 729.6 336.5 694.3 351.6 522.7 353.5 506.3 345.3 737.2 334.5 506.2 338.5 704.1 355.7 524.1 355.2 503.8 346.1 507.5 343.2 507.5 334.8 512.8 345.9 510.8 339.2 729.2 337.5 734.5 337.3 488.3 337.4 723.1 333.3 517.3 354.2 708.6 337.6 538.2 355.4 695.6 347.6 707 351.8 490.2 333.9 722 335.9 489.8 348.3 495.2 344.9 512.2 339.3 740.4 336.9 503.9 343.3 732.1 332.9 729.9 333.8 696.7 343.5 508.4 339.2 497.1 354.7 705.6 342.4 492.7 345.6 703.4 351.4 521.4 355.3 714.9 338.9 489.4 342.2 733.6 333 506.9 351.6 517.4 333.3 709.7 347 524.9 350.5 522 337.8 503.3 342.9 705.2 340.7 733.7 337.3 504.5 339.3 697.5 354.3 497.4 333.2 700.9 352.6 537.4 355.5 699.1 348.8 523.2 350.8 492.1 352 519 336.3 500 335.5 696 356.2 502.4 337.9 709 351.7 729.8 346.9 499.9 346.5 727.7 332.8 545.5 356.7 498.6 355 513.4 344 523.4 354.9 724.9 342 504.6 337.5 507.8 357.1 499.5 338.8 504.4 348 502.5 354.9 488.1 336.1 528.5 355.8 521.4 338.8 500 336.7 525.4 353.6 522.3 334.9 534.6 354.1 509.6 349.6 526.9 356.5 511.1 354.9 513.6 340.9 725.7 333.1 518.4 357.4 507 342.6 719 341.1 511.3 353.8 505.4 348.4 512 350.2 541.4 356 522.6 355.7 490.5 338.7 517.2 351.9 501.9 334.1 542.1 356.4 531.5 356.5 515.2 342.2 690.3 351.1 497.7 344.7 525.2 333.4 518.6 347.1 703.1 347.9 703 357.1 690.2 356.7 511 346.1 509 338.9 701.5 354 500.3 356.5 501.1 353.3 494.7 350.8 735.7 338.4 715.8 344 488.6 337.6 511.2 345.9 488.2 344.9 741.8 334.4 506.7 349.3 498.4 356.1 732.6 334.1 717 337.3 503.4 347.9 696.6 351.1 486 334.3 499.4 355.8 496.3 345.9 488.2 344.2 512.5 346.4 733.4 337.2 486.7 333.4 497.7 343.1 507.4 350.6 489.9 335 516.1 339.7 696.2 342.4 497.8 347.1 526.2 333 698.9 345.4 497 339.6 512.1 354.6 497.7 355.7 731.2 333.2 704.2 344.6 491.3 334 711 346.7 698.1 349.4 501.5 343.4 703.1 345 700.6 354.3 510.5 354.5 704.1 354.2 514.4 335.8 492.2 334.3 707.7 343.5 704.2 357.2 710.6 352.9 520.2 336 706.9 335.2 715.9 341.8 692.1 350.2 713.2 335.4 696.8 347.7 494.5 338.4 489.5 339.2 702.6 353.5 495.5 344.7 726.7 335.6 508.9 348.1 503.3 336.1 730.7 335.1 523.2 356.8 519.9 348.3" fill="none" stroke="none" marker-start="url(#mx470dd0)" marker-mid="url(#mx470dd0)" marker-end="url(#mx470dd0)"/>
<path d="M613.4 429.9 536.2 418 589.7 423.9 615.9 429.6 547.3 411.3 638.5 417 541.7 411 632.4 410.4 606.8 425.9 601.9 428.8 537.2 418.4 567 428.2 584.2 420.3 626.8 415.8 535.7 413.1 635.9 411.2 578.7 429.8 538.2 411.3 636.5 414.6 577.5 419.4 632.1 407.7 575.6 419.8 541.4 411.4 525.9 408.5 551.8 413.5 548.6 412.5 538.1 414.6 581.8 419.6 543.7 414.4 606.1 425.5 530.6 407.9 643.1 412.2 569.6 425.2 635.7 412.9 587.4 429.3 639.8 409.2 528.2 409.3 547.4 407.7 609.2 429.3 533.4 411.8 551.1 416.4 587.7 424.8 606.1 429.3 593.9 427.8 640.4 410.8 538.9 419.2 612.6 422.9 610 417.9 553.1 407.3 693 407.3 607.4 423.8 583.7 431.1 547.1 412 550.3 423.1 610.6 431.5 546.1 413 555.9 409.2 643.4 408.4 599.1 431.4 596.8 420.4 579.1 430.6 578.4 427 583.6 413.3 591.8 418.5 555.2 411.4 577.4 427.4 546.1 417.1 539 409.6 573.8 423.4 566.8 423 534.7 407.5 570.3 430.3 587.4 419.2 592.5 407.7 644.2 410.8 589 424.2 596.4 418.4 579.1 426.3 609 428.9 541.5 416.4 634.8 417.9 628.9 409.8 592.5 429.3 545.4 415 610.3 421.5 592.7 418.9 633.4 411.5 593.1 421.9 536.7 422 551.1 409.3 568.2 427.3 590 422.5 535 424.4 580.9 430.1 556.9 413.3 605.5 431.2 590.2 428.4 631.7 408.3 578.5 426.9 541.2 417.9 642.5 416.7 606.7 428.5 546.3 409.1 539.2 411.5 639.9 408.1 577.8 427.3 576.3 419.9 566 429.8 537.2 408.8 596.6 424.9 552.3 409.9 643.4 409.3 618.1 430.8 616.2 429.5 588.7 426.5 578.5 430.7 549.8 413.6 566.2 427.3 541.4 418.7 556.8 413.2 535.9 424.1 611.3 429.6 599.6 419.6 551.1 413.3 606.8 424.6 581.9 431.6 582.4 419.3 642.4 415.9 577.3 426.6 591 421.9 598.4 425.8 542.3 418.7 578.4 425.4 631.5 423.6 583.8 422.1 555.4 412.7 580.7 421.5 538.3 412.8 601.3 420.4 579.6 429.6 588.2 418 639.2 409.4 691 409.3 595.2 423.5 548.7 419.3 575.5 430.2 591 423.1 645.6 415 600.7 426.1 541.4 413.7 597.8 421.2 599.5 421.5 605.8 429.7 553.6 409.8 594.3 419.8 527.1 412.5 578.4 429.2 632.8 418.8 556.1 409.8 645 407.8 581.3 419.8 541.6 420.3 585.1 424.7 608.5 431.6 597.5 416.7 595.1 427.2 581.4 425.1 580 428.7 543.3 410.3 552.1 408.1 556 411.5 612.8 425.6 634.4 410.9 541.2 407.5 602.4 427.6 536.5 424.5 538.7 412.3 600.6 425.7 684.8 407.7 647.4 411.5 594.4 427.1 687.9 407.8 533.8 416.1 606.1 421.1 588.5 431.6 604.9 431.3 616.5 430.5 550.1 417.6 594.6 427.3 592.6 424.4 532.1 408.7 577 424.4 596.1 427.7 588.6 425 551.3 419.8 621.5 416.4 631.6 416.7 545.4 418.3 547.6 418.9 636.4 408.8 636.1 408.1 609.3 424.5 626.2 409 551.8 419.2 634.1 413.3 577.4 423.6 593.2 426.5 608.7 428.3 644.3 408.1 691.8 408.2 549.4 413.2 550.9 408.7 590.6 423.8 571.4 428 600.9 425.4 584.7 421.1 541.1 413.7 590.7 423.2 645 407.1 637.4 410.9 633.2 417.1" fill="none" stroke="none" marker-start="url(#mxae0665)" marker-mid="url(#mxae0665)" marker-end="url(#mxae0665)"/>
<path d="M588 425.3 591.6 426 643.9 411.3 537.4 420.2 543 413.7 534.4 416.1 680.6 411.8 593.3 426.2 529.8 410.8 609.8 418.9 570.6 428.2 582 421.6 594.1 419.4 542.3 409 639.5 409.2 554 410.2 534.5 415.9 539.4 411.3 534.9 407.7 628.2 414.8 595.2 420.2 583.9 418.4 539.2 415 598.2 425 582.6 426.5 630.7 411.2 524.3 407.1 595.1 425.4 643.4 407.6 583.4 416.7 587 419 551.5 420.9 582.5 427.1 593.2 427.2 540 422.6 609.6 431.3 607.6 428.1 586.4 430.3 538.7 409.9 549.3 414.9 572.5 428.7 580.6 431.7 583.4 423.3 584.6 421.4 607.5 429.3 549.3 418.5 538.6 407.7 640.2 414.7 572.2 429.9 570.2 423 535.4 418.5 548.4 412.2 581.6 424.3 613 426.3 645 414.6 534.9 413.5 530.4 409.5 615.8 428.5 551.6 419.5 700.2 410.1 611 425.2 543.1 411.4 612.2 423.3 549.2 418.3 533.9 416.9 569.2 424.4 581.2 421.1 551.4 417.3 602.7 427.3 543.8 422.2 582.4 426.6 544.9 416.6 692.5 408.6 633.8 410.8 600.9 431.8 643.8 410.7 608.7 421 548.6 419.2 609.9 424.3 541.7 420.1 531.3 419.1 575.4 423.8 633.8 418.4 565.2 431.2 636.1 408.2 595.1 426.9 593.1 418.2 603.1 424.6 630.2 409.7 539.1 423.9 639.6 408.3 587.5 423.8 542.7 412.6 607.6 424.8 578.9 422.4 572 430 630.4 411.8 609.3 422.3 611 431.2 610.9 427.4 557.3 415 551.1 411.9 602.8 420.7 535.1 416.3 606.5 421 616.5 430.6 591.2 428.6 604.5 431.7 591.2 421.4 549.2 416.1 554.4 416.8 533.6 419.7 547.1 421.1 533.6 411.6 554.5 412.3 610.2 421.5 577.6 427.1 606 430.1 635.3 409.9 602.5 425.4 580.3 422.7 530.3 408.6 593.3 421 583.7 423.1 536.7 410.1 541.3 409.2 589.1 425.2 549.6 411.5 573.6 428.7 643.6 410.3 588.1 429.3 552.9 408.8 582.1 427.3 604.7 420 543.2 416.5 581.7 423.5 637.7 413.4 630.3 407.9 587.5 421.3 539.9 415.5 547.3 414.5 611.3 431.1 604.1 426.7 588.1 423.4 595 422.1 528.8 410.4 527.9 412 589 431 585.5 420.2 580.1 425 593.5 426.1 578.6 428.1 588.5 419.4 575.8 427.5 547.4 419.8 554.2 408.2 547.6 415.5 553.1 410.4 542.8 410.9 558.7 411.5 594.6 427.3 529.1 408.8 613.5 429.9 574.5 430.6 577.1 421.5 637.6 411.6 585.4 419.5 551.3 414.9 599.8 423.1 592.6 420.8 557.6 411.5 647.3 417.6 593.1 420.1 645 410.8 613.6 431.6 531.8 409.2 545.9 411.7 535 419 592.9 430.1 599 412.7 617.2 428 640.5 412 633.2 409.7 600.3 425 542.5 412.8 551.1 415.4 552 417 580.4 431.8 575.1 425.3 597.3 430.1 602.5 423.8 613.6 431.8 620.4 425.7 553.2 412.6 599.7 429.4 593.6 424.8 577.6 426.4 595.6 429.4 608.3 430 599.8 426 548.8 418.6 539 414.2 629.3 410.7 605.8 424 558.3 409.2 603.9 430.4 606.5 426.5 550 415.3 637.7 411.7 547.3 420 574.2 421 554.9 408.1 601 430 637 414.4 542.8 421.7 535.3 417.9 654.2 407.6 551.1 408.1 553.7 407.9 600 429.3 636.4 417.2" fill="none" stroke="none" marker-start="url(#mxae0665)" marker-mid="url(#mxae0665)" marker-end="url(#mxae0665)"/>
<path d="M596.7 447.3 588.3 437.6 600.5 440.1 594.6 432.3 602.1 435.7 607.9 440.4 587.2 440.1 612.6 434 587.2 433.4 587.9 438.7 586.4 452.4 607.9 444.8 605 441.3 586.6 453.8 601.1 442.5 606.3 433.4 600.1 451.6 595.5 449.9 603.4 438.6 607.7 449.3 593.7 446.1 571.4 447.9 596 436.9 585.1 437.4 583.2 453.8 579.7 440.1 582.5 451.4 578.9 452 592.5 453.7 584 433.4 568.6 440.9 600.9 431.8 618.4 434.3 597.2 445.9 595.8 442.1 610.1 433.7 583.7 456.1 597.7 448.1 573.4 453 609.9 433.2 599.6 440.4 567.4 439 607.6 435.5 599.2 432.7 610.1 433.8 595.5 445.8 597.2 439.1 609.5 440.2 569.8 440.7 572 436.4 593.3 448.6 568 441.9 606 444 576.1 439.1 594.3 453.9 601.7 448.8 601.8 445.4 597.2 446.8 609.3 454.6 567.5 438.5 611.6 438.3 601 443.3 606.2 434.9 567.5 432.5 586.5 446 609.3 445 581.9 442 582.8 452.1 610.1 443.2 572.2 439.8 596 437.8 598.8 453.7 596.6 448.5 587.9 441.1 608.4 431.9 589.4 447.8 587.3 435.6 569.6 440.9 591.5 449.5 594.8 447.4 592.1 450.8 581.8 450 602.6 451 588.7 447.5 575.9 449.4 600.5 432.7 590.5 452.8 592.9 440.2 596.8 433.6 595.2 447.4 584.2 446.1 579.3 438.7 589.4 441.8 582.4 441.1 593.6 448 586.4 451.2 585.9 455.4 587.9 451.1 586.1 451.5 602.6 451.2 571.3 444 598 436.9 611.6 436.2 594.3 443.1 614.3 441.4 618.4 436 576.2 440.4 582.5 440.5 566.2 441 615.9 432.1 586.5 451.1 601.6 453.6 609.9 448.1 591 438.1 572.3 441.6 591.3 447.6 596.4 444.9 605.1 443.2 611.5 442 574.4 444.4 583.9 448.8 608 446.7 585.5 445.4 598.9 446.3 602 436.7 604.9 437.1 577.1 439.7 583.8 446.9 581.9 435.9 590.4 448.1 570.3 437.2 603 438.4 605.2 434.6 575.9 452.5 599.8 452.7 613.4 435.2 588.5 454.3 613.4 437.7 580 452.7 605.7 443.7 588.1 444 609.6 444.4 589.8 445.9 602.6 435.7 601.6 449.9 608.9 444 588.7 444.8 570.4 434.2 576.3 435.6 576.3 452 585.9 433.6 605.3 445.2 575.3 443.2 604.2 445.8 569.3 434.5 602.6 452.8 604.3 448.2 580.3 452.2 591 435.4 570.1 443.1 566.5 437.1 592.2 453.1 562.5 432.3 571.5 436.9 594.6 455.6 604 455.8 605.1 436.3 593 440.5 613.4 442.7 597.3 446.7 603.5 438.3 606.3 433.4 603.9 447.7 570.1 438.2 591.5 447.7 581 455.9 595.9 443.3 591.4 444.4 599.5 444.4 577.8 444.5 609.6 446 591.8 439.7 599.7 450.7 597.6 438.1 609.3 438.7 562.6 434.7 585.3 440.5 585.7 444.4 592.8 436.6 580.4 431.9 571.1 441 589.6 436 584.5 433.5 569.7 445.2 595.7 431.9 603.3 446.1 585.2 451.5 574 446.5 608.4 446.1 583.4 452.4 569.7 445.7 613 436.9 584.6 441.4 598 432.3 583.2 443.2 588 448.9 575.9 438.2 597.6 445.3 585.1 434.2 612.4 447.8 577.1 454.5 584.8 453.1 613.8 436.5 590.5 443.3 597.4 442.2 595 448.4 590.3 438.2 610.7 431.9 597 452.9 568.5 437.9" fill="none" stroke="none" marker-start="url(#mxd5033b)" marker-mid="url(#mxd5033b)" marker-end="url(#mxd5033b)"/>
<path d="M686.8 392.5 558.7 387.6 549.3 393 523.7 385.2 664.4 390.2 546.7 388.7 546.3 385.5 550.7 385.1 691.7 403.2 684.7 385.9 700.7 383 553.4 391.4 670.4 385.4 549.1 398.1 532.2 404.6 699.5 399.7 642.7 405.6 556.1 398.2 690.7 386.6 686.2 393.8 689.6 391.2 646 405.5 654.2 384.3 675 388 519.1 389.9 546.7 403 520 388.8 652.2 395.8 543.1 406.6 664.6 385.1 550 402.9 646.4 392.3 511.6 387.9 695.6 384.9 655 390.7 536 388.4 663.3 395.9 699.2 389 532.5 400.4 539.8 397 679.2 399 534.6 393.1 650.1 383.1 704.2 395.3 538.4 386.9 655.4 394 627.6 406.9 539.5 401.2 702.4 396.1 537 386.6 695.5 384.3 650.3 398.3 527.6 389.2 520.4 394.4 697.3 393 667.9 385.3 680.1 390.7 548.7 397.2 532 399.5 702.9 399 547 401.7 529 389.9 699 398.4 697 384 534 401.4 688.1 388.8 691.4 384.5 657 393.5 514.8 387.2 508.2 385.2 549.8 403.2 532.9 406.9 532.9 386.3 532 399.2 666.2 401.1 555.9 383.7 555.1 400.9 547.8 382.8 543.8 387.5 519.3 392.1 562.9 395.8 556.4 392.1 643.6 390.8 659.4 396.2 532.7 402.9 649 394 552 387.3 653.9 403.7 655.2 391.1 649.3 400.2 559.1 384.1 520.1 398.6 526.8 385.9 658.9 401.9 667.8 390.2 673.2 382.7 648.4 400.9 638.4 390.1 522.5 391.4 647 400.3 698.2 394.4 702.2 394.7 684 397.9 558.8 386.3 673.6 399.4 685 395.8 535.9 385.9 680.7 385.9 546.1 395.3 657.8 390.9 552.3 386.3 512.6 392.2 534.7 386 554.1 396.7 675.2 389.6 648 404.1 521.1 397.5 694.1 394.2 534.5 404.7 528.9 384.6 543.6 394 546.3 382.9 699 394.6 672.6 390.4 535.8 393.7 560.2 400.4 688 400.4 509.5 383.4 696.2 394.8 521.6 392.2 536.5 395.2 640.3 406.9 545 383.8 541.1 388.2 530.4 397 546 384.5 696.9 396.5 534.9 403.2 555.5 383.1 511.8 386.3 513.6 387.2 644.9 394 654.7 399.4 648.3 405.7 550.7 388.8 653.8 384 656.9 396.2 695.2 403.2 664.3 397.3 519.5 390.8 648.3 387.6 514.8 390.3 517.7 394.2 660.5 398.5 686.9 396.4 660.7 398.6 516.1 389.5 529.1 393.7 631.3 403.4 671.2 399 523.7 395.9 554 395.3 521 399.8 546.8 382.4 654.4 387.6 702.5 390.8 517.3 383.3 657.5 400.4 550.4 403.4 539 406.9 539.8 394.7 701.6 394.8 556.1 402.5 548.5 394.2 537.6 386.2 530.6 401.8 535.8 403.9 559.7 389.9 537.3 406.4 652.3 400.3 668.6 383.1 655.9 397.7 686.4 402.2 532.2 395.1 545.7 388.6 525.7 401.9 656.4 388.7 679.6 391.2 700.1 387.6 665.5 398.7 664.5 386.5 667.6 398.2 638.6 405.2 532.1 384.9 659.2 385.9 702.3 391.2 693.6 383.1 529.3 390.5 651.3 403.1 559 392.1 677.3 384.6 532.7 399.3 546.9 400.8 543.7 385.1 539.8 389.2 551.4 401.4 554.5 387.8 677.3 384.7 518.4 386.7 522.2 392.7 515.3 395.6 513.9 383.3 542.6 390.6 515.3 388.5 667.4 394.4 673.5 388.4 673.3 383.7 516.8 389.6 660.9 387.4 654 394.9 661.7 402 550.3 403.8 546.3 385.8 677.5 384.9 542.6 384 543.2 383.8 692.9 385.3 655.9 398.4 561.9 382.9 679.7 401.6 529.5 392 518.8 389 669.5 384.4 558.2 394.4 537.5 384.8 645.6 385.2 689.4 401.7 559.6 400.3 530 396.6 550.1 383.4 529.2 398.8 649.6 403.2 535.2 389.6 553.2 386.9 510.7 386.3 700.3 396 543.7 386.5 552.3 406.2 520.7 395.4 539.1 385.1 688.5 389 554.1 406.9 660 382.5 681.3 392.7 668.1 387.5 657.4 392.9 693.5 391.5 658.4 387.7 532.6 401.1 662.6 383.5 552 388.6 531.6 394.4 550.4 391.1 567.1 388.2 555.9 402.8 652.7 392 552.6 389.4 513.5 384.8 552.6 383 532 383 553.9 396.3 678 398 520 385.9 524.5 388 518.6 397.6 659 395.8 659.7 399.2 557.9 382.9 669.4 388.7 544.5 400.2 533 388 522.5 390.9 538.7 388.9 526.3 383.2 653.3 385.1 686 394.6 548.6 388.8 552.6 393.9 699.8 384.8 525.9 384.3 677.3 394.6 510.9 384.8 661.1 393.6 544.3 395.4 690.3 396.5 558.1 394.4 513 385.9 557.2 402.1 645.5 395.6 527.8 389.1 686.1 392.4 533 401.2 686.7 401 523.6 395.5 559.4 405.6 535.6 388.6 697.7 395.3 633.6 401.5 542.9 403.6 550.1 396.4 543.8 400.7 551.6 387.3 512.5 387.6 524.5 394.6 652.1 399.7 541.3 388.7 552.4 395.1 690 399.6 688.6 392.3 534.7 389.8 538.3 397.3 689.3 395 524.1 404.8 529.1 399.5 652.9 392.3 536.3 400.7 542 401 708.5 382.5 687.7 399.6 523.8 392.2 657.9 390.1 687.4 391.9 651.6 392.5 653.4 384.7 529.6 404.5 550.7 406.8 668.9 383.5 690 393.1 556.9 405.8 648 385.9 684.7 397.6 656.6 386.5 525.9 396.5 515.5 391.4 654.9 383.7 522 388.2 637.1 402.9 696.5 382.5 656.2 391.1 539 382.9 513.7 384.2" fill="none" stroke="none" marker-start="url(#mx89088c)" marker-mid="url(#mx89088c)" marker-end="url(#mx89088c)"/>
<path d="M523.9 350.2 494.4 336.8 509.6 333.8 493.2 354.2 698.5 348.2 703.7 350.5 510 355.3 485.6 336.8 707.1 340.1 480.3 336 509.2 346.6 507 355.5 504.7 345.9 511.2 353.3 505.2 341.4 516.3 349.9 506.5 339.8 509.4 347.9 486.2 334.6 553.1 352.1 483.2 334 721.8 335.3 707.9 353.6 723.3 338.4 520.4 346.8 514.5 348 520.4 344.6 513.4 356.7 500.8 348.6 698.6 351.4 726.6 341.8 726.5 339.3 523.1 350.3 515.7 357.3 531.4 357.2 509.4 337.1 538.7 356.3 705.4 335.7 693.4 351.9 692.2 353 493.2 333.6 529.7 357.4 504.9 356.5 502.5 351.3 486.4 335.4 493.1 353.6 512.3 342.7 503 338.4 515.8 345.1 705.2 340.4 545.4 356.9 493.2 336.1 686.7 354.1 529 355.4 732.1 336.4 720.7 339.4 496.6 346.4 504.8 340.2 512.7 346.8 515.8 348.8 713.9 341.2 500.5 345.5 511.3 348.1 693.7 351.5 502 355.9 507.7 335.6 496.7 356.6 709.6 344.5 708.7 353 731.2 341.7 505.2 338 700 346.3 693.2 348.2 710.9 336.5 528.4 357.1 493.2 338.1 495.9 344.2 717.9 335.1 509.1 348.4 527.2 333.6 500.2 337 724.9 337.7 729.1 338.9 493 335.1 731.1 332.9 500 341.2 505.4 341.7 727.3 340.1 520.6 355.9 726 337.9 518.3 336.6 699.1 342.9 504.7 340.6 507.7 356.9 503.5 345.4 691.1 346.2 504.3 346.5 734.3 333.9 497.8 333.3 478.1 333.8 706.2 333.2 712.1 336.9 523.3 355.8 736.6 334.7 707.7 355.4 517.7 338.3 516.3 349.4 504.3 344.6 537.6 356.7 494.7 342.5 483.7 334.4 729.4 340.6 498 352.5 490.6 345.5 491 334.9 714.7 337.7 507.1 352.7 515.7 346.9 505.3 344.1 720.5 339.8 739.4 334.9 501.2 351.3 726 341.6 522.8 336.8 715.6 341.4 706.7 334.4 496.8 353.8 496.1 345.6 492.4 344.2 724.5 336.5 520.1 341.7 506.2 340.7 498.6 340 712.1 334.4 496.8 332.8 499.7 355.3 492 343 510.2 344.2 537.6 356.9 684.6 356.2 516.6 347.6 510.8 351.4 702 355.7 494.2 333.7 509.5 341.9 505.8 335.2 695.8 347 510.1 335.7 495.4 355.6 501.1 347.2 500.4 345.3 512 357 495.9 340 504.9 343.4 513.1 341.2 693.5 351.5 705.7 351 507.3 354.2 693.5 353.5 515.9 355.9 711 344 734.8 332.8 723.9 337.5 482.5 335.7 710.2 333.1 511 353.2 493.3 343.3 484.4 336.1 731.8 341 511.9 336 733.9 336.4 525.2 333.2 715.7 339 522.6 356 519.6 347.4 689.4 352 712.5 343.8 493.4 336.6 515.3 354.6 491 348.4 523.7 332.9 499.2 350.5 703.2 347.8 496 350.2 531.3 355.1 725 337.2 540.2 355 723 342.7 524.5 356.8 511 353.1 496 342.6 511.5 344.2 487.6 335.5 519.6 347.7 718.5 333.4 507 339.3 492.9 341.5 516.9 357 696.9 344.4 531.6 354.9 717 338.7 519.8 342 514.5 335.2 499.8 352.3 495.4 344.1 502.4 347.2 542.5 356.5 503 346.4 493 344.4 471.9 332.8 725.3 333.7 515.4 346.3 519.9 352.2 738 335.8 716 336.7 517 357.2 504.4 356.2 710.1 347.1 510.9 344.5 712.1 332.9 515.5 353.8 499.3 349.3 479.8 335.4 493.1 355 498.9 351.1 513.8 333.1 517.2 345.5 731.4 338.1 680.5 356.3 488.3 344.6 507.5 346.7 536.6 356.6 508.8 345.6 730.5 340.4 498.4 339.8 520.9 338.6 506.4 337.7 710.7 344.5 507.9 350.9 521.1 357.5 703.6 341.9 518.9 333.3 720.6 336.7 506 336.3 493.2 347.9 508.1 352.9 721.3 333.8 506.3 345.2 540.6 356.4 719.4 333.2 694.8 356.9 527.6 351.3 517.9 337.6 526.6 356.5 514.5 333.6 505.3 350.6 528.3 333.3 542.9 355.2 688.7 356.4 539.8 355.8 523 349.8 540.5 356.7 527.8 335.1 515.2 348.6 531.1 355.2 705 344.6 494.9 352.2" fill="none" stroke="none" marker-start="url(#mx470dd0)" marker-mid="url(#mx470dd0)" marker-end="url(#mx470dd0)"/>
<path d="M512.1 356.3 525.6 333.2 706.2 347.6 498.6 350.4 494.2 333.2 719.1 334.3 536.9 355.8 535.7 357.3 490.3 333.9 726.5 340.3 513.9 333.4 502.2 335.6 528.4 355.1 548.2 356.8 504.7 356.6 525.7 333.2 516.8 348.4 501.5 345.4 731.8 335 505.8 343.1 515.1 348.2 496.9 347.2 524.9 351.7 521.6 337.4 509.9 344.6 703.5 344.4 694.3 354.2 489.9 343.4 510.6 353.4 706.6 352.3 513.6 344.3 505.8 351.1 720 339 487.3 333.5 683.8 356.7 696.7 353.1 521.9 334.5 704.3 355.9 710.3 351.1 716 337.3 525.7 334.3 495.9 353.1 495.4 346.8 529.8 355.6 510 334 505.3 349.6 499.3 353.6 513.7 337.5 496 354.9 510.8 357.5 506.3 347.4 496.2 334 501 350.6 524.1 338.9 523.2 335.1 519.9 340.3 505.8 353.1 705.1 345.9 506.7 345.8 522.8 351.2 519.6 342.7 733 336 499.9 342.8 504.4 333.3 690.6 348.6 490 336 711.9 334.2 501.9 340.5 501.8 348.3 492.7 346.3 509.3 357.5 530.9 339.3 528.9 356.3 494.7 347.8 501.4 342 515.8 350.5 532.2 356 711 348.9 542.1 356.3 514.2 334.9 501.6 342.8 696.8 356.6 506.7 350.6 734.6 333.1 507 357.3 517.2 349.8 509.5 348.7 526.9 353.5 493.6 352.1 727 339.6 514 340.4 499.7 335.9 735.2 333.2 696.9 345.8 501.7 343.7 711.8 342.2 502.1 348.8 496.3 348.3 737.1 337.4 510.3 343.3 506.7 340.3 521.9 340.6 718.4 336.3 522.9 335 728.8 335.9 505.8 353.9 491.4 349.9 724.3 341.1 513 340.9 518.3 339 724.4 341 730.7 334.1 705.3 340.3 736.4 337 712.7 333.7 705.7 347.7 483.3 336 495.5 354.6 513.7 339.6 717.2 334.5 522.1 334.1 531.1 355.4 716.9 337.9 732.4 339.4 704.3 354.9 516.2 357.5 734.7 334.5 744.4 333.1 727.4 334 696.8 353 501.1 353.5 493.5 342.3 533.3 333.2 724.6 335.5 709.9 353.2 509.3 333 495.1 351.9 505 352 523 335.8 509 347.8 717.5 336.1 504.6 346.1 517.4 334.8 497.1 350.1 491.9 354.9 701.3 355.3 511.9 346.8 484.9 333.9 715.2 333 516.4 334.3 504.4 336.1 706.3 334.2 493.8 344.5 503.6 336 499.3 343.7 499.4 337.2 504.6 345.5 490.5 333 506.6 338 502.9 337.3 512.3 336 508.6 340.9 499 355.9 513.8 337.4 492.9 348.4 723.3 333.4 725.9 335.1 726.1 340.5 735.6 337.4 703.6 343.4 514.4 332.9 516.1 355.5 497.5 337.7 494.4 346.8 489.1 347.3 700 342.6 514.8 352.1 511.3 340 504.9 336.3 728.8 334.7 512.7 333.8 522.7 352.1 716.5 334.9 525.7 353.2 729.3 341.7 736.7 337 513.4 339.1 507.8 343.3 491.6 338.1 511.7 336.2 711.3 336.1 698 353.7 508.2 334.1 507 334.6 515.6 352.3 511.2 342.5 498.2 348.3 704.6 343.7 502.2 342.2 492.5 345.4 708.2 333.3 489 339 520.5 336.7 706.9 349.1 500.7 342.9 525.7 333.4 500.8 334.1 701.1 353.1 500.4 338.6 521.4 353.6 507 346.6 499.9 349.5 727.9 336.4 727.9 333.6 514.2 341.3 514.8 339.8 497.7 341 528.6 356.9 693.1 350.9 736.8 334.3 719.2 338.7 500.3 341.2 729.5 339.5 505.5 351.1 733.6 336.7 510.5 340.1 511.3 354.6 538.7 354.8 694 351.8 519.9 357.2 537.4 355 708.3 342 494.6 334.5 720.2 337.8 698.8 342.8 478.6 335.3 497.6 334 739.3 334.5 720.2 333.7 503.8 339.4 716 335.5 513.7 340.3 501.8 337.5 717.4 338.9 725.6 341.8 524 355.7 517.1 357.4 721.3 333.9 727.4 336.2 524.6 337.3 724.6 334.2 499.1 345.6 706.5 341.1 724 341.6 714.1 342.2 498.3 342.1 727.8 339.4 699.1 344.7 511.1 354.4 495.1 338.2 708.4 340.1 500.2 345.1 506.3 336.5 512.1 343.2 727.1 342.3 703.9 348.6 700.2 355.8 722.6 337.9" fill="none" stroke="none" marker-start="url(#mx470dd0)" marker-mid="url(#mx470dd0)" marker-end="url(#mx470dd0)"/>
<path d="M590.1 458.6 605.9 457.3 585.1 467.5 578.8 458.2 582.9 457.5 586.3 457.6 598.2 462.1 592.1 461 592.7 468.5 593 471 592.4 465.4 586.2 460.8 596.8 463.9 582.2 462.4 583.3 467.6 580.6 459.4 603.6 459.3 589.9 470.7 583.1 473 595.7 464.6 587.7 468.2 603.1 458.5 586.7 458.9 598.7 465.7 580.5 461.4 581.2 460.8 600 460.8 598.1 461.1 582.1 458.1 591 475.3 579.2 471 582 468.3 599.6 462.1 577.2 457.5 594.2 464.7 579.3 466.6 587.2 460.3 578.5 472.5 601.2 457.6 598.4 470.8 596.7 463.3 597.1 468.5 599 469.1 579.4 464.4 603.5 458.7 581.7 472.7 588.3 459 587 464.1 589.6 476.4 590.6 466.8 600.5 459.8 596.5 461.2 595.1 469.6 581.5 471.7 589.1 458.9 590.9 468.1 584.4 464 594 472.5 585.8 473 588.3 475.6 586.3 476.3 579.4 458.9 578 458.4 582.3 458.4 603.2 462.4 600.8 466.5 591.1 458.3 590.5 467.3 602.7 459.2 606.6 457.5 598.6 465.1 577.3 459.7 574.2 457 595.5 469.4 600 458.4 586 470.6 587.1 467.8 576.8 463.3 585.5 462.7 588.9 474 600.3 464.2 595.8 468.2 576.9 458.4 607.6 462.2 603.1 461 586.9 476.8 604.9 469 578.8 462.7 585.5 472.6" fill="none" stroke="none" marker-start="url(#mxff0010)" marker-mid="url(#mxff0010)" marker-end="url(#mxff0010)"/>
<path d="M623.2 411.7 585.6 426.1 553.1 408.3 550.8 410.7 592.5 428.5 537.9 410.9 534.4 407.6 587.4 429 565.7 428.3 600.2 427.9 557.2 407.4 576 430 607.1 427.6 580.8 427.7 587.3 426 629.4 409.1 551.2 416 587.1 425.6 618.8 429.6 549.2 411.8 594.2 424.1 593.6 421.8 578.8 427.8 606.8 425.5 587.6 429.4 595.4 420.3 602.5 425.5 596.3 425.4 589.3 427.8 578 429.3 535.8 409.6 584.9 430.5 635 421.4 555.5 410.2 585.6 431.4 588.8 418.1 647.1 411.9 570.8 422.5 535.1 411.5 632.4 410.9 539.9 409.9 629.4 413.2 631.9 418.2 605.1 429.9 543.1 416.9 588.3 424.7 603.7 424.5 636.7 413.8 610.9 429.9 589.6 422.5 529.2 408.3 597.5 425.6 553.7 412.5 586.5 425.5 689 412.9 631.5 415.9 621.3 421.2 591.6 423.4 533.3 415.8 616.7 430.8 578 415.2 522.5 407.2 640.4 408 535.7 407.6 611.1 426.3 610.8 429.2 647.5 408.6 545.6 413.1 552.1 416.5 587.4 422.8 600.3 428.6 541.2 415.7 604 430.4 544.4 423.9 530.8 413.8 585.3 427.2 529 410.8 540.6 411.6 629.2 417 604 424.2 585.8 430.3 592.8 428.8 568.9 429.2 611.9 426.2 538.8 414.7 576.7 426.5 646.7 410.5 528.9 407.9 594 427.8 594.3 418.5 535.9 411.5 640.2 417.9 636 417.8 591.8 425.5 534.5 415.8 568 431 591.4 425.5 610.7 424.9 531.2 409.1 601.9 422.3 544.9 419.1 539 407.8 610.5 427.2 593.8 422.8 546.5 418 629.4 413.4 576.2 424.5 629.5 413.4 577.1 429.2 595.7 424 649.4 410 593.8 418.2 643.3 410.1 638.2 410 590.8 422.1 577.8 424.7 539 421 532.3 413 606.7 429.5 547.4 415.6 650 409.6 613.2 428.7 550.4 420.4 540.8 413 592 423.4 597.9 430.4 569.1 427.7 632.1 418.4 535 412.3 546.2 417.4 535.8 412.2 588.6 422.7 595.1 430.8 591 428.8 545.6 418.7 549.3 412.8 552.4 414.5 577 425.2 627.7 418.3 568.9 428.9 597.4 425.6 538.2 414.1 637.6 413.7 605.8 420.9 636.9 416.4 606.4 427.4 596.3 422.6 541.9 409 611.6 425.6 608.6 430.2 589.5 431.4 641.2 408.9 574.8 422.5 525.8 411.1 543.6 417.6 607.6 425.9 568.7 426.2 615.2 427.4 580.6 419 583.5 431.8 545.8 410.2 586.7 422.1 582.5 428.5 635.5 410.2 574.1 425.1 612.9 425.6 603.9 429.4 596.8 425.3 587.5 417.3 533 414.7 576.5 427.8 549.3 410.9 581.1 425.2 581.1 427 603.6 426.1 544.1 407.2 606.4 421.7 584.7 422.2 537 409.3 584.9 422 612.1 427.1 554.3 407.2 591 419.2 656.9 408.7 598.2 426.3 552.9 409.7 645.3 411.8 599.8 420.6 531 411.1 575.5 425.2 596 423.6 536.2 422 529.5 413.9 691.7 407.6 544.6 421.5 535.5 422.5 543.2 414 532.4 411 604.1 421.8 535.5 416 614.8 427.9 536.2 411.7 585.5 425.8 552.6 415.9 580.2 431 593.5 409.7 553 416 610.7 427.3 584.5 425.6 634.4 418.8 540.9 419.2 579.6 420.3 584 417.7 615.3 430.7 592.2 431.6 545.5 421 613.7 429.4 527.1 414.6 614.8 430.4 601.7 417.9 532.3 412.2" fill="none" stroke="none" marker-start="url(#mxae0665)" marker-mid="url(#mxae0665)" marker-end="url(#mxae0665)"/>
<path d="M508 365.1 518.3 357.6 671.3 378 670.3 371.8 503.6 361 506.3 372.9 519.9 359.8 673.3 374.6 670.2 367.5 524.4 360.5 691.1 369.6 533.7 371.9 549.2 374.6 532.9 365.3 657.1 378.5 544.8 378.8 515.5 366.1 677.2 367.3 557.2 371.9 691.6 361.4 672.9 372.9 552.2 362.7 551.7 379 687.8 365.6 559.8 380.6 512.8 367.6 550.1 378.3 499.1 364.7 531.2 376.7 516.9 367.1 534.9 379.5 512.5 362.8 689 373.1 513.9 378.3 701 362.6 544.4 365.2 522.2 360.9 528.6 375 558.4 362.6 544.6 362.4 541.4 362 526.1 360.1 699 363.4 529.8 373.3 557.9 368.8 548 373.2 525.9 369.1 538.9 368.4 509.3 380 552.6 365.3 511.1 358.2 522.5 380.6 668.2 376.4 692.2 374.8 683.8 369.9 517.2 372 544.8 360.9 510.8 368 689.7 365.3 674.2 366.9 692.2 372 554 374.3 522.5 360 511.7 369.6 514.6 365.6 672.9 378.3 542.9 381.8 529.9 381.9 665 372.9 692.4 381.7 545.2 381 672.5 365.6 663.5 370.6 676 372.8 517.6 372.4 524.7 371.2 682.7 367.1 526.9 361.3 532.1 359.4 521.6 362 512.4 367.5 546.9 376.6 535.4 382.1 686.1 358.6 498.8 357.5 546.8 374.4 675.2 370.1 680.9 381.4 525.5 377.6 509.6 381.7 516.5 370.8 515.4 373 663.6 381.5 693 364.9 533.1 374.1 540.4 377.1 664 373.6 665.9 379.4 543.5 381.3 557.5 365.6 680.7 376.8 523.7 365.8 556.4 360.7 522.2 363 534.6 364.2 524.4 381.9 525 361.8 550.9 365.3 504.6 362.3 557.4 362.2 671.6 370.3 537.1 366.1 545.7 372.7 510.9 372.9 532.2 382.2 532.7 359 549.8 367.4 503.4 373.6 509.8 371.2 554.3 370.6 555.1 372.6 544.7 375.5 661.6 378.3 503.8 366.5 670.6 367.1 536.7 359.1 501.4 361.4 538.1 362.2 535.4 360.5 535.7 359.3 514.9 359.2 672.5 366.9 695.6 369.7 693.4 381.8 700.8 358.6 525.7 380.6 662.6 375.8 498.9 367.5 508.4 377.9 674.1 380.7 532.8 371.4 525.5 360.7 697.2 382 501.5 360.8 657.2 378.3 506.3 362.9 560.2 379.4 553.6 363.8 692.6 382 544 382 543.3 364.3 520.9 374.2 530.8 381.7 507.1 378.1 515.5 367.1 543.8 362.4 528.2 380.2 524.9 365.8 677.9 366.6 497.5 358.9 524.7 374.4 519.9 379.5 532.7 362.7 548.8 379 685.1 376.5 545.4 373.5 506.7 377.8 683.3 372.6 497.9 358.7 548.6 360.3 551.6 368.8 532.9 367.6 521 375.4 681.4 376.8 535 359 535 362.1 518 370.2 693.2 359.5 545.7 363.2 542.9 363.4 549.6 366.3 514.3 370.1 549.2 379.2 657.7 376.4 693.9 379.4 553.3 363 685.2 362.6 535.2 375.5 661.9 382.1 516.6 360.9 521.4 379.7 531.6 377.8 666.5 370 506.4 360.2 554.3 369 525 369 559.4 367 540.5 373.9 678.8 369.4 669.6 381.8 503.5 375.7 687.8 359.3 512.1 372 541.1 364.3 549 374.7 552.9 360.6 546.2 358.5 539.4 373.6 542.2 361 701.6 362.1 694.3 361.7 532.1 361.8 558.3 369.4 523.9 363.6 695.8 357.9 686.2 366.6 549.5 370.7 685.3 380.6 554.6 364.1 529.3 361.8 676.9 362.6 527.5 380.3 679.4 358.3 549.4 369.2 508.7 373.7 640.9 382.2 675.8 372.1 549.8 364.4 543.3 369.9 686.9 373.8 504.6 373.9 656.4 378.4 533.8 369.1 522.6 376.7 530.8 370.5 673.3 364.7 522.6 366.8 506.8 359.2 556.2 380 517 362.9 548.6 359.6 514.6 358.2 536.3 374.2 540.7 373.3 667.4 377.4 517.6 374.7 666.5 365.3 518.4 377.1 682.8 370.4 656.6 377.9 518.1 372.5 559.8 375.2 665.3 377.6 507.1 375.9 540.5 377.9 544 373.6 500.8 361.8 539.4 371.5 695.3 358.1 686.4 373.9 549.9 370.6 678.5 379.5 691.3 366.3 548.3 381.2 542.7 377.8 684.2 361.3 532 371.1 671.4 377.5 534.9 366.8 509 375.5 554.4 380.1 512.9 376.3 520.6 378 699.8 358 529 371.9 555.1 381.7 546 379.2 546.7 362.8 671.5 373.6 558.8 376 542.4 381.6 544.5 380.9 534.3 366.1 519.6 359.5 522.4 374.1 549.6 376.8 522.5 370.6 503.5 369.5 531 378 550.1 367.2 659.4 376.5 537.3 357.9 540.6 364.1 506.3 362.6 517.8 363.3 554.1 368.6 653.9 381.8 675.5 380 531.8 366.7 513 371.7 531.9 359.2 520.1 366.8 687 370 538.6 367.1 692 357.8 530 365.8 524.8 359.4 534.5 365.5 535.5 378.5 674.3 366 549.7 365.7 542.7 377.8 553.6 371.7 562.9 380.7 516.5 369.1 516.1 363.7 669.8 364.8 535.3 360.7 529.4 358.7 527.3 378 528.2 359.7 704.2 361.6 546.2 369.4 515 367.7 544 359.8 544.5 381 512.6 365.5 676.7 380.7 685.6 371.8 683 376.2 549.1 372 518.5 367.5 534.9 374.2 554.2 369.8 497.2 359.9 559.2 376.4 515.9 365.9 542.3 362.8 528.9 363.7" fill="none" stroke="none" marker-start="url(#mx660bb0)" marker-mid="url(#mx660bb0)" marker-end="url(#mx660bb0)"/>
<path d="M496.8 301.2 729.6 305 499.4 295.5 722.6 307.1 501.2 300.3 508.2 287.4 492.7 294.1 495.5 298 486.6 302.5 731.7 306.1 498.9 293.9 717.5 307.4 477.4 295.6 518.1 303.2 492.2 296.2 485.2 304.8 501.5 299.3 486.8 306.3 515.3 301.2 503.1 304.5 476.7 298.6 511.8 304.1 489.3 298.2 506.7 306.7 521.6 297.1 505.1 306.6 497.5 294.8 723.1 307.5 733.4 303.5 507.4 293 508.1 307.6 494.7 301.7 493.8 291.7 715.6 306.9 483.8 305.1 497 293.1 510.9 303 497.8 292.4 486.5 295 500.7 295 718.5 305.4 511.2 294.7 512 298.2 497 294.9 493.5 307.1 482.4 301.1 718.4 302.1 507.8 292.2 730.9 305.8 480 304.3 490.7 303.9 482.2 300.3 512.9 292 494.7 299.1 729.7 307.1 487.6 298.9 519.1 300.3 505.3 297.6 734.6 303.7 490.9 299.7 489.5 299.9 505.4 304.8 489.1 307.4 720.8 307.3 720.9 306 481.6 306 728.4 306 730.9 303.6 734 305.7 506 302.6 505.2 299.2 500.5 291 519.1 294.2 483.3 306.5 510.2 301.2 730.3 305.2 522.8 307.9 487.5 307.4 497.4 297.9 521.5 307.8 503.8 297.4 490.8 297.2 480.7 305.1 508.8 304.1 487.4 306.5 733.5 304 735.3 305.7 742 306.4 504.5 298.1 487.5 303.5 506.1 299.1 492.8 307.5 725.3 302 516.4 297.3 492.7 295 514.8 303.9 728 307.1 504.2 300.6 484.1 297.5 518.5 302.6 513.5 293 509 297 745.4 304.8 518.3 306.2 508.7 304.4 721.8 306 521.4 300.5 482.9 302.7 502.3 301.9 505.9 296.9 490.1 289.1 513.4 307.2 500.7 304.2 481.5 303.5 507.8 307.2 719.6 306.1 491.9 296.5 487.3 296.9 494.1 302.6 511.1 303.9 516.4 302.8 522.2 304.7 484.5 305.7 520.7 305.4 480.6 301.2 486.3 307.1 502.9 295 498.6 300 485.6 301.6 483.6 307 510.3 303.6 502.5 297.3 486.2 302.4 518.8 307 504.4 299.8 497.3 307.9 487.9 299.6 497.3 300.4 481 302.1 489.2 303.4 724.3 306.4 486.5 307.7 509.5 294.5 512.4 305.1 495 301.6 489.5 292.3 499.9 296.4 726 307.1 517.5 294 481.7 302.3 524 296 495.5 299.8 506.2 291.5 737 307.3 521.4 306.4 490.7 304.9" fill="none" stroke="none" marker-start="url(#mx1a10ff)" marker-mid="url(#mx1a10ff)" marker-end="url(#mx1a10ff)"/>
<path d="M505.5 298.7 517.2 304.2 513.1 304.5 722.5 307.1 516.8 293.3 500 298.9 507.7 304.7 494 307.2 498.6 296.8 494 296.8 501.7 301.2 513.7 305.2 496.4 293.7 517.1 294.1 720.1 307.2 491.2 307.3 521.9 305.4 518.5 300 503.2 304.9 513.4 298.7 494.6 307.6 495.6 303.2 506.7 292.5 725 307.5 518.1 296.2 731.3 303.6 504.7 298.4 495.8 306.6 519 299.5 503.6 301.8 503.4 299.5 506.8 299.5 496.3 294.4 521 299.6 500.2 299.2 491.1 305.8 510 295.3 731.2 307.4 521.9 298 518.5 303.6 506.3 302 726.4 307 507.3 300 482 303.8 512.6 307.2 483.1 301.5 495.2 304.1 512.3 300.4 502.5 306.5 478.6 302.1 486.2 307.2 728.3 305.9 521.7 296.6 488.1 299.8 495.4 292.5 515.9 294.5 505.2 295.6 490.8 295.1 501.9 305.3 489.4 293.8 492.2 306 513.5 298.7 483.3 307.1 495 303.7 507 294.2 513.7 294.2 490.2 295.5 486.9 299.4 512.9 293.8 495.9 305.3 726.2 306.6 489.9 298.2 729.6 304.9 500 304.4 500.7 303.2 716.8 305.6 485.6 297.3 505.4 298.5 719.4 301.5 719.6 306.2 503.8 291.8 521.2 304.2 500.2 294 496.7 304.7 512 304 513.6 294.3 517.4 298.1 498.7 298.5 488.2 296.1 517.3 293.6 521.1 296.8 483.8 302.9 493.2 302.4 505.4 304.3 485.9 307.3 513.2 305.3 509.5 299.8 503.9 294.3 490.7 300.1 487.2 297.6 486.1 299 511.7 306 493.2 296.3 505.2 307.5 493.3 303.3 486.1 294.1 493 307.1 480.6 307.5 484.3 300.7 735.2 297.7 506.9 290.9 486.2 300.4 503 292.1 516.1 300.7 720.6 306.9 479 300.4 499.8 305 489.9 294.1 504.8 301.4 515.3 304.6 517.3 287.2 523.3 305.9 521.1 303.6 728 307 506.5 296.6 496.6 301.5 521.8 299.2 487.2 297 502.8 288.8 510.1 302 498.4 301.8 518 296.3 507.6 307.4 496.7 295.5 720.7 304 508.4 295 497.9 294.6 491.8 302.2 488.2 297.4 498.7 307.8 491.1 306.2 520.6 296.9 517.8 304.1 733.9 303.9 514.6 302.7 504.3 300.6 506.8 290.8 729.4 303.3 490 294.1 516.2 304.1 507.1 289.2 500 297.7 500 300.8 501.8 295.5 488.3 296.6 498.7 306" fill="none" stroke="none" marker-start="url(#mx1a10ff)" marker-mid="url(#mx1a10ff)" marker-end="url(#mx1a10ff)"/>
<rect x="448.9" y="268.4" width="321.9" height="228.8" fill="none" stroke="#111" stroke-width="2"/>
<text class="t" x="518.5" y="289" textLength="192.5" lengthAdjust="spacingAndGlyphs">Bexarotene/HDAC6</text>
<ellipse cx="740.2" cy="470.7" rx="22" ry="19.8" fill="#dcdcdc"/>
<text class="L" x="740.2" y="478.9">E</text>
<text class="n" x="441.5" y="290.7" text-anchor="end">40</text>
<text class="n" x="441.5" y="332.3" text-anchor="end">20</text>
<text class="n" x="441.5" y="374" text-anchor="end">0</text>
<text class="n" x="441.5" y="415.6" text-anchor="end">-20</text>
<text class="n" x="441.5" y="457.2" text-anchor="end">-40</text>
<text class="n" x="441.5" y="498.8" text-anchor="end">-60</text>
<text class="n" x="452.5" y="520.9" text-anchor="middle">-60</text>
<text class="n" x="495.6" y="520.9" text-anchor="middle">-40</text>
<text class="n" x="538.8" y="520.9" text-anchor="middle">-20</text>
<text class="n" x="581.9" y="520.9" text-anchor="middle">0</text>
<text class="n" x="625.1" y="520.9" text-anchor="middle">20</text>
<text class="n" x="668.2" y="520.9" text-anchor="middle">40</text>
<text class="n" x="711.4" y="520.9" text-anchor="middle">60</text>
<text class="n" x="754.5" y="520.9" text-anchor="middle">80</text>
<path d="M132.7 676 138.4 656.8 90 666.1 131 657.5 112.3 642.8 111.5 652.8 103.5 647 100.8 647.6 137.6 674.4 136.2 656.3 125.6 655.8 108.1 660.1 108.6 634.4 138.4 673.4 120.6 665.7 90.2 671.9 109.2 681.6 99.1 631.5 100.6 627.6 91.5 667.2 107.2 648 102.5 629.5 117.5 675.5 113.1 664.6 100.5 652.3 110.9 679.6 129 672.1 128.3 652.2 140.8 683.4 147.7 687.2 113.6 658.6 136.3 684.2 95.7 636.8 115.6 645.4 138.3 666.5 102.2 649 95.7 683 126.2 664 119.8 667.5" fill="none" stroke="none" marker-start="url(#mdc8103e)" marker-mid="url(#mdc8103e)" marker-end="url(#mdc8103e)"/>
<path d="M124 722.5 124.2 575.4 117.8 591.5 136.8 747.8 145.6 697.5 129.4 574.3 128.2 578.4 94.3 680 94.7 581.5 133.7 678.7 105.1 637.8 98.4 574.2 151.8 572.1 158.2 575.4 147.8 577.3 129.1 723.1 119.8 711.2 342.1 675.1 93.3 705.4 323.2 667.3 117 664.6 142.3 726.4 178.5 593.1 106 566.7 143.6 713.4 326.6 686.3 101.4 688.9 134.1 586.4 132.8 703.9 103.6 635.6 104.3 594.1 129.7 568.5 105.9 716.7 97.5 696.4 105.1 706.3 143.7 721.1 348.9 689.4 163.7 589.9 106.5 707.7 98 715.4 185.5 600.2 128.1 596.2 322.7 693.6 143.5 732.4 186 594.5 133.8 567.6 178.4 583.7 132.3 721.8 148.6 674.4 118.4 586.2 128.3 728.6 128.6 694.7 147.2 734.3 109.5 721.7 103.9 730.7 136.6 713.1 114.3 684.3 116 697.4 91 701.4 109.3 731.1 120.4 673.8 346.1 671.7 134.7 589.4 151.6 586 127.9 739.4 84.6 704.4 115.8 682 354.6 696.5 336.2 656.3 123.4 753 119.5 588.1 172 595.5 145.3 757.2 143.3 569.8 84.2 698.2 106.4 588.8 115 628.7 121.7 691.5 100.3 598.9 109.1 660.3 127.1 725.3 127.5 747.7 132.9 572.4 134.8 590.5 115 690.3 90.5 703 135.5 724.7 186.2 600.1 110 725.3 153.2 747.2 137.7 706.5 159.9 578 118.3 570.3 103.2 696.1 137.1 747.6 126.6 685.2 126.9 718.1 302.7 669.4 101.8 670.2 153.7 753.7 125 570.5 320.9 691.4 119.2 591.9 304.1 673.9 119.8 735.1 142.1 762.4 139.7 754.2 100.1 570.7 126.6 700.6" fill="none" stroke="none" marker-start="url(#md8010a0)" marker-mid="url(#md8010a0)" marker-end="url(#md8010a0)"/>
<path d="M142.6 744.2 198.1 595.2 150.1 758.7 123 694 101.3 726.5 153 759.6 266 676.7 234.6 616.8 138.8 567.6 131.1 734.8 308.8 671 141.7 749.4 317 690.6 128.1 592.3 220.7 617.1 299.4 682.4 136.4 719.6 302.2 687.9 111.2 696.4 317.9 685.6 125.2 754.8 118.2 749.3 323.6 681.7 110.5 737.3 145.1 728.7 131.6 719.9 130.1 740.9 124.2 697.6 119.5 725.3 137.1 697.5 130.7 593.1 121.3 685.1 227.5 645.8 135.1 692.3 94.4 590.6 109.4 570.7 128.1 709.2 93.8 691.1 260.4 644 309.8 661.3 101.7 711.5 117.9 725.7 135.6 758.1 141.7 741 122.5 690.4 111.9 691.1 317.6 664.2 153.6 576.6 301.6 676.6 115.6 743.9 211.9 593.1 230 613.9 145.7 755.5 103.8 699.6 130.8 740.9 114 745.7 304 687.4 128.3 733.5 251 647.6 105.8 685.5 229 612.2 193.9 595.8 127.6 737 125.8 704.7 95 722.1 110.1 706.3 88.7 715.8 127.5 739.7 142.3 738 135.3 699.9 310.1 678.8 148.2 721.9 298.4 671.4 221.8 634.3 98.7 706.2 211.7 606.5 320.7 675.7 115.9 723 189 570.7 325.9 675.9 312 675.2 192 597.1 310.4 663.7 114.4 704.7 187.6 582.6 207.6 614.7 112.2 745 173.5 588.7 132.9 713.9 227.2 628.6 295.2 675 268.4 660.2 262.4 663.8 315 660.7 113.7 720.4 91.8 700.3 118.6 744.8 134.8 743.3" fill="none" stroke="none" marker-start="url(#md5c12c8)" marker-mid="url(#md5c12c8)" marker-end="url(#md5c12c8)"/>
<path d="M151.3 637.4 354.4 681.2 118 599.5 321.4 661.8 360 694.6 148.7 619.7 129.2 634.9 129.6 609 105.8 597.9 138.3 629.4 102.8 652.8 156.7 585.6 336.5 680.1 186.4 601.5 332.7 665.3 309.6 694.4 345.2 672.3 140.3 730 125.9 640.1 336.9 683.8 342.3 670.5 111.4 574.4 171.4 623.3 98.7 666.2 96.2 694.7 151 744 181.3 602.5 124.5 589.1 110.7 597.1 143.5 635 145.9 739.3 302.9 665.2 311.9 697 143.2 595.3 118.9 596.2 123.4 660.9 159.2 616.5 124.1 637.9 104.2 683.9 179.2 618.6 124.8 662.8 129.4 594.6 131.7 649.4 151.7 632.9 313.3 674.3 122.5 660.2 172 581.7 128.6 679.6 352.7 681.5 323.2 655.2 109 577.5 141.3 677.8 353.7 691 109.1 668.2 161.9 643.5 127 587.2 166.2 592.9 96 586.8 106.3 665 182.3 599.2 353.6 693.7 129.4 586.1 135.4 627.3 342.7 657.1 179.9 623.2 104.8 629.5 337.5 652.2 140.3 596.4 338.9 666.8 151.3 613.5 123 592.2 112.4 638.1 152.3 635 135.6 593.1 128.3 658.9 101.7 578.4 173.9 605.9 92.1 589.7 117.7 732.9 119.9 614.2 317.2 695.2 118.4 660.2 128.6 578.7 121.2 575 337.7 697.3 114 641.1 173.7 601.1 100.5 578 121.8 579.2 342 674 351.4 681.5 179.8 585.1 360.5 674.8 120.3 660.8 314.5 696.1 353.6 685.7 184.1 599.1 182.7 606.4 140 574 153.6 616 124.9 680.1 140.4 757.7 110.4 642.8 109.9 648.7 144.8 577.4 339.5 684.8 138.2 572 172.2 607.6 167.9 576.3" fill="none" stroke="none" marker-start="url(#mda8106a)" marker-mid="url(#mda8106a)" marker-end="url(#mda8106a)"/>
<path d="M149.8 685.1 125.6 647.7 136.6 663.6 107.7 655.4 102 642.7 97.1 633.9 118.7 666.6 133.2 647.9 120 639 140 666.6 131.9 658.1 129.9 662.6 129.4 660.4 88.6 666.7 96.3 672.7 124.5 642.6 110.8 680.9 103.6 665.4 102.9 666.9 111.8 657 112.2 663.5 104.1 632.6 120.1 655 136 649.1 104.4 675.4 116 670.2 105 667 99.3 668.9 112.2 652 109.4 674.8 122.6 673.7 121.8 670.5 99.8 678.2 113.6 632.7 144.6 680 118.1 642.9 114.5 655.3 123.3 678.7" fill="none" stroke="none" marker-start="url(#mdc8103e)" marker-mid="url(#mdc8103e)" marker-end="url(#mdc8103e)"/>
<path d="M145 620.3 97 663.6 157.6 603.9 169 577.3 111.4 599.3 336.8 685.9 100.8 578.3 128 677.3 162.7 582.1 141.2 711.3 149.2 623.3 155.7 580.9 96.3 577.5 142.1 681.2 139.7 660.4 101.9 574.5 93 716.7 337.2 666.3 132.6 644 178.3 616.2 103.8 582.2 134.4 612.1 164.9 588 174.6 631.1 142.3 761.5 95.1 663.7 191.5 619.6 172.8 584.4 99.7 666.4 138 649.1 107.2 602.7 101.3 586.5 131.2 649.8 115.3 567.4 136.7 678.1 122.8 595.3 116.8 731.6 327 672.7 131.6 594 94.2 664.8 117 651.2 111.5 591.6 133.4 596.3 93.8 719.4 185.7 586.4 143.5 575.3 123.3 592.8 165.7 643.9 152.1 637.2 331.8 680.2 149.5 743.8 175.3 604.5 109.6 601.1 336.8 700 139.1 660.9 136.6 666.7 180.1 601.6 128.4 612.4 165.7 604.1 331.5 660.3 170.9 625.6 167.1 621.2 158.5 579.8 153.6 583.1 126.5 640.6 123.9 665.1 151.9 742 122 579.3 353.6 685.9 97.7 663.4 175.4 597.4 135.8 627 137.5 575.9 340.2 701.1 134.3 660.9 338.2 695.9 152.1 639.3 149.2 741 126.9 598.4 138.5 675.4 127.3 607.3 148.3 579.2 336.2 693.6 141.9 592.2 99.3 640.2 154.4 641.6 173.6 579 166.9 580.9 100 584.1 93.1 671.3 341 654 106.4 584.4 325.1 656.8 160 602.6 105.1 597.2 95.7 595.8 173.1 627.5 175.9 629.2 150 628.1 185.2 593.3 104.9 584.2 166 592.2 175.3 598.4 156.4 584 332 684 171.2 604.3 131 616 144.7 761.2 183.7 586.9" fill="none" stroke="none" marker-start="url(#mda8106a)" marker-mid="url(#mda8106a)" marker-end="url(#mda8106a)"/>
<path d="M125.3 604.6 183.2 623.2 325.2 664 349.2 670.6 104.5 645.8 340.7 709.7 350.1 668 334.6 703.9 137.9 644.8 350.5 721.2 170.3 635.5 120.5 654 345.4 715.3 180.5 616.4 164.9 622 349.4 702.8 138.2 639.4 150.4 589.6 327.4 694.4 352.2 662.9 344.7 713 121.5 637.3 329.1 681.5 143.2 619.8 344.3 723.5 167.2 628.6 179.8 604.9 148 645.6 178.6 631.7 150.1 643.2 342.1 687.8 107.3 654.2 168.1 625.8 168.8 630.3 345.8 678.6 166.5 623.8 342.3 716 158.2 607.1 127 616.6 328 699.7 138 601.4 152.5 609.1 332.7 678.6 353.8 667.4 160.8 620.2 161.7 618.2 131.8 635.7 345.4 706.9 142.3 642.4 136.3 609 175.3 635.4 336.7 703.5 138.2 621 186.5 615.8 335.7 672.1 158.5 615 339.3 692.3 183.7 620.2 123.9 605.9 158.7 590.1 169.8 608.5 160.7 610 339.3 718.2 117 639.7 342.2 713.7 151.3 608.6 324.4 700.6 136.2 636 342.1 663 353.7 669.5 330.9 657.6 184.9 631.4 338.6 717.8 346.7 665.6 135.6 671.5 173.9 614.8 141.8 621.3 123.5 608.2 150.9 595.4 343.6 693.7 156.7 612.1 180.9 609.2 157.7 593 330.8 671.9 123.4 678.8 180.4 610.2 179.1 630.4 341.5 686.2 169.1 611.7 166 615.7 338.7 663.3 334.8 708.8 124.2 620.6 141.8 630.1 160.9 593 359 685.6 90.1 671.7 152.3 599.1 137.1 592.8 151.3 597 141 589.8 145.6 591.3 130.6 643.6 146.9 642.5 140.1 600.6 153.6 626.6 163.1 598.1 355.9 698.8 151.7 606.6 165.6 595.9" fill="none" stroke="none" marker-start="url(#mdf01020)" marker-mid="url(#mdf01020)" marker-end="url(#mdf01020)"/>
<path d="M217.3 588.1 215.7 606.9 226.9 632.2 196.5 600.1 221.7 616.7 190.7 579.1 292.3 656.6 226.8 624.2 188.3 595 187.6 601.3 302.6 687.1 225.3 620 228.2 599.9 201.8 606.9 285.1 659.7 296.1 662.4 185.2 595.9 183.7 598.1 219.8 593.5 208.6 585 255.7 651.2 214.7 588.3 219 626.8 209.4 584 274 646.3 264.9 649.1 251.1 641.7 277.9 650.3 231.5 641.3 248.2 654.2 268.4 650.7 298.2 675.8 256.8 653.8 249.4 643.5 261.7 672.4 228.1 638.3 284.9 661.3 237.1 638.6 217.8 607.9 289.9 693.1 194 611.8 222.5 597.6 280.2 675.3 288.9 665.5 237.4 613.6 274.8 662.7 198.6 575.8 296.3 694.7 231.3 632 297 666.5 252 652.1 280.5 662.6 296.5 663.1 204.4 586.1 261.7 657.8 243.6 642.5 234.1 634.4 298.4 669.2 223.4 599.5 203.2 617.8 199.6 611.3 232.1 636.8 232.8 646.3 192.5 603 267.2 678.3 229.3 609.1 237.5 640.7 189 591.5 203.9 585.5 195.3 576.3 283.8 666 230.2 633.7 229 640.7 273.1 661.2 272.3 683.7 258.2 657.4 202.5 610.6 209 603.2 212.1 620.1 259.6 667.3 285.5 671.5 285.5 659.4 301.2 687.2 227.6 632.2 239 648.7 282.3 657.8 238.3 643.8 217.9 616.2 221.1 597.1 207 591.4 222.5 603.9 226.2 638 271.8 646.7 288.6 652.1 222.6 615.8 197.2 585.8 182.4 585.3 206 589.2 230.6 627.7 239.1 647.7 294.6 682.8 272.7 670.8 288 650.1 216.5 611.5 258.6 653.4 240.2 652 200.9 589.4 185.9 589.4 196.1 610.3 234.4 643.9 229.6 602" fill="none" stroke="none" marker-start="url(#md2412ee)" marker-mid="url(#md2412ee)" marker-end="url(#md2412ee)"/>
<path d="M123.9 613.9 345.9 661.3 170.2 638.5 342.4 663.3 330 677.6 345.3 701.6 186.1 625.7 163.9 599.5 154.7 607.1 166.7 608.1 329.8 674.6 181.8 618.8 173.5 613.4 121.3 621.7 133.2 626.5 131.9 610 173.1 638.8 168.9 600.8 153.9 648.1 124.2 603.1 146.8 632.9 177.6 613.3 145.4 602.8 353.8 681.2 144.7 638.8 150.2 604.3 161.1 595.2 152.4 610.6 179.6 638.8 343.1 678.4 358.9 691.5 170.2 642.3 179.8 609.3 139 625.9 180.9 612.7 133.8 608 187.9 618.4 176.4 622.6 347 695.1 152.8 594.4 329.6 694.3 342.1 660.3 357.5 687.5 357.5 687.4 331.5 668.1 187.7 625 359.8 688.9 155.7 631.3 140.5 649.9 144.3 606.5 130.9 622.4 340.8 724.1 141.9 647.3 135.5 629.9 187.8 619.9 144.8 625.6 165.1 620.1 348.5 675.6 334.6 700.7 100.5 679.7 344.4 686.9 355.1 671 151.4 620.7 342.8 692.2 146.5 608.4 136.3 602.5 141.2 605.7 166.2 629.3 350.4 663.6 327.6 679.4 161 633 122.8 620.6 167.4 611.9 347.5 689.6 182.2 634.9 347.7 674.6 350.3 693.4 356 672.5 172 641.2 346.8 702 339.3 715.3 144.1 601 346.5 727.6 325.6 690 140.7 641.6 347.7 707.6 145.9 605.5 168.7 633.6 179.2 635.5 329.8 658.9 134.3 602.4 161.1 645 135 636.3 158.7 587.8 350.5 702.3 352 700.1 348.8 706.3 347 697.5 156.5 641.8 350.7 675.1 154.7 649 345.1 676.1 139.3 608.3 151.5 598.8 147.4 610.8 332.8 672.2 140.6 643.7 167.2 598.9 345.8 705.1 130.7 603.3" fill="none" stroke="none" marker-start="url(#mdf01020)" marker-mid="url(#mdf01020)" marker-end="url(#mdf01020)"/>
<path d="M118.1 674.2 113.4 682.8 143.2 681.9 129.4 645.3 121.3 646.9 114.3 645.3 126 644.3 90.4 677.4 96.9 659.7 122.7 655.1 102.1 660.6 143 687 101.2 646.4 98.5 637.4 120.7 680.9 110.2 637 100.2 677.1 103.2 654.9 95.5 675.3 135 652.2 105.2 673.2 100.5 635.9 123 666.3 120.2 640.4 111.6 636.8 116.7 640.1 91.7 676.9 132.4 672.1 116 653 134.2 683.8 119.2 635.3 117.8 632.3 135.5 685.5 96.5 631.7 107.3 642.9 122.6 642.8 145.8 685.1 113.4 647.8" fill="none" stroke="none" marker-start="url(#mdc8103e)" marker-mid="url(#mdc8103e)" marker-end="url(#mdc8103e)"/>
<path d="M124.7 583.3 104.6 700.6 95.4 585.8 149.9 625.4 114.5 591.5 138.1 593.3 143.2 597 116 592.7 338.8 664.9 354 682 125.3 717.6 126.6 631 159.9 585.6 148.2 630.6 106.4 628.9 140 581.8 97.6 697.9 144 613.6 127.3 684.7 130.9 654.2 169.1 579.7 141.5 613.7 133.7 667.8 131.9 681 143.3 759.1 121 611.6 318 681.9 122.6 625.7 114.6 572.9 144.7 637.1 104.4 577.6 126.2 583.2 160.5 622.3 166.8 607.4 130.2 731 123.5 745.2 94.6 703.6 359.4 695 128.8 582.3 124 721.2 115.8 601.3 186.2 585.8 153.5 635.5 134.7 654.6 126.1 674.2 113.1 574.1 171.7 579.1 341.5 699.9 97.5 665.3 331.4 696 96.3 719 155.8 640.3 342.8 697.8 162.6 602.4 160.3 584.6 360.2 677.7 358.2 680.4 110.8 575.3 324.1 659.1 110.6 593.2 110.4 665 138.1 636.2 144.3 691.5 157.6 582.5 124.6 710.9 135.3 665.1 130.6 632.7 111.5 600.4 116.1 575 164.6 579.4 148.4 633.4 178.8 595.3 133 585 181.9 586.3 166.6 586.6 157.9 623.7 147.4 684.9 184.5 630.4 176.6 607.5 173.2 576.7 156.6 588.4 139.9 590.5 112.7 672.4 142.7 574.1 128.3 724.6 131.5 615.2 159.7 589.6 124.4 632 100.7 681.4 349.5 660 353.4 689.3 131.4 725.5 138.7 736.5 358.5 694 162.1 623.3 130.6 611.2 101.5 578.6 125.6 598.2 144.2 589.9 354.1 690.5 131.4 694.6 129.8 582.9 139.9 728.3 156.6 590.6 160.9 620.8 127.6 610 186.7 584.2 160.5 588.9 163.6 639.5" fill="none" stroke="none" marker-start="url(#mda8106a)" marker-mid="url(#mda8106a)" marker-end="url(#mda8106a)"/>
<path d="M276.3 663.2 225.9 606.3 290 676.1 290.5 673.1 214 605.9 299.8 669.6 271.4 662.8 205.2 610.4 284 655.1 232.3 619.5 228.2 633.8 296.5 691.5 198.5 602.3 299.3 671.7 228.1 620.7 207.6 610.8 267.6 673.5 256.5 642.7 191.9 603.9 267.4 663.6 281 663.2 279.7 680.1 259.5 661.4 277.3 675.2 190.5 591.2 186.3 606.5 185 593 270 656.2 250.8 660.4 247.2 657.5 246.1 639.9 201.5 604.7 202.6 578.4 217.9 603.3 220 596 296.1 682.6 220.7 622.7 255.3 656.1 280.2 653.1 291.4 673.8 275.2 680.1 256.8 644 285.1 653 295.5 657.6 289.9 664.3 273.1 678.6 288.8 681.8 240.2 648.6 194.7 586.1 236.3 651.8 197.2 611.4 190.6 593.1 292.5 658.2 193.4 577.2 237.1 657.4 207.8 582.2 261.2 653.4 289.7 657.6 201.9 614.3 223.5 608.4 243.9 635.5 199.1 582.4 305.9 685.7 298.3 691.7 287.4 679 198.3 601.9 184.9 586.1 213.7 621 267.7 655.5 267.3 644.6 223.2 640.5 294.4 686.5 204.6 592.2 227.2 619.3 211.7 614.5 238.9 625.8 280 665.7 220.6 590.8 213.3 583.9 223.5 645 294.2 669.2 213.4 602 197.5 610.1 253.3 639.5 217.8 601.8 193.1 581.6 280 662.3 293 678.8 222.2 628.6 294 665.8 212.1 585.6 229.1 616 227.6 624.6 257 647.2 285.1 677.9 212.4 610.5 256.2 667.9 218.2 624.1 210.6 583.7 208.5 593.3 300.9 669.2 300 685.5 194.6 589.6 263.8 647.5 281.8 689.5 183.3 590.3 232.3 644 276.9 648.3 293.5 685.1 282.7 647.8 274.3 680" fill="none" stroke="none" marker-start="url(#md2412ee)" marker-mid="url(#md2412ee)" marker-end="url(#md2412ee)"/>
<path d="M156.1 619.4 138.9 597 142 630.8 149 632.8 142.6 626.8 325.8 692.1 346.2 667.5 158.9 629.3 188.7 616.8 125.9 626.4 176.4 635.6 339.4 703.4 346.8 724.7 335.8 703 337.4 723.7 346.3 722.8 146.3 647 339.3 676.9 328.9 699 340.6 728.8 163.2 592.9 139.6 672.3 143.5 651.4 345.7 692.1 168.9 613.9 351.5 672.2 110 670.5 141.1 646.5 180.9 619.7 155 616.4 156.6 637 332.1 660 346.7 702.1 327.5 686.4 134.8 632.1 130.2 599.4 104.5 660 359.9 689.1 182.5 611.7 137 671.5 126.8 617.4 336.2 673.2 137.2 606.3 120.5 610.4 148.6 600.6 130.3 640.2 332.7 680.9 150.5 649.9 169.7 601.4 330.5 656.8 112.5 670.4 336.7 714.7 335.6 709.5 327.4 669.8 159.9 595.5 185.8 628.6 181.8 629.9 335.4 671.9 125.6 662.2 134.4 601.8 355.8 666.6 100.6 640 138.2 619 350.4 700.1 128.1 626.8 139.5 621.3 136.6 598.5 168.2 603.3 133.3 605.5 113.4 635.6 141.9 608 170.7 618.7 134.1 615.5 140.5 623.6 130.2 629.2 125.1 634.3 167.9 637.8 155.9 626.8 149.6 604.7 342.7 683.5 104.1 662.8 177 640.3 325.2 665 120.1 606.5 164.9 594.5 348.8 707.1 140.2 617.8 143.2 644.7 147.7 617.1 151 625.1 351.1 716.4 173.1 598.7 163.6 611.6 140.7 638.7 133.2 662.5 332.6 654.8 163.2 643.9 171.8 630 175 609.7 158.6 635.9 130.1 600.3 344.5 682 343.9 727.8 124.4 612.6 174.3 637.3 188.8 631.7 171.3 609 328.4 688.2 150.6 616.6 332 669.5 347.7 697.3" fill="none" stroke="none" marker-start="url(#mdf01020)" marker-mid="url(#mdf01020)" marker-end="url(#mdf01020)"/>
<path d="M119.6 650.5 148.6 676.6 103.8 642.5 142.7 663.5 132 647.7 127.9 644.3 110.5 635.7 110.1 638.3 103.8 654.6 116.5 633 144.8 691.9 130.7 675.8 109.4 649.9 119.7 680.7 110.5 677.7 107.3 680.8 142.7 672.2 149.1 684.5 92.2 630.7 128.9 684.1 122.2 652.1 139.1 659.8 104.6 680.4 91.4 628.7 102.1 659.2 124.6 677.1 107.6 632.3 117.8 660.5 142.5 677.2 96.8 637.1 130.9 670.1 132.1 647.6 111.1 629.5 103.6 671.1 104.3 663.2 142.6 671.3 133 655.1 129.1 673.5 109 661.4" fill="none" stroke="none" marker-start="url(#mdc8103e)" marker-mid="url(#mdc8103e)" marker-end="url(#mdc8103e)"/>
<path d="M122.2 731.5 109.1 727.3 93 704 99.5 687.6 131.9 591.9 175.7 582.1 322.3 698.5 105.4 708.1 110.1 710.2 102 699.7 312.5 691.6 129.5 691.6 309.6 685.2 114.2 599.1 95.7 721.9 117.2 739.4 95 708.8 109 675.3 117.1 578.5 99.1 655.2 93.6 725.9 113.1 701.9 113.6 687.2 111 701.7 347.8 658.8 114.3 584.9 136.9 713.2 115.1 696.4 120.1 590.3 144.2 588.9 148.9 761 106.6 723.2 100.4 723.9 313.7 688.9 355.8 676 134.6 728 157.5 582.3 123.5 747.3 128 686.7 113.9 588.4 132.9 702.6 127.1 574.6 122.9 748.4 144.6 673 120.7 584.6 178.6 579.1 126.3 692.4 141.8 687.3 122.3 734.4 130 707.5 343 699.5 106.1 590.9 149.2 745.3 139.6 695.6 316.2 676.6 137.6 579.5 315.6 670.2 111.1 710.6 338.8 655.9 144.4 717.7 105.6 740.8 126.6 727.2 309.7 687.9 109.8 684.3 332.1 691.3 149.2 586.6 332.6 661.7 105.7 696.8 136.4 566.8 92.4 582.3 329.9 664.2 150.3 739.3 140.3 572.9 140.1 685.9 175.1 592.3 110.6 745.2 182.2 584.7 177.8 577.6 119.9 739.7 180.6 592.5 343.8 668.1 93.5 716.1 112.2 586.7 110.9 719.2 124.1 670.4 107.1 736.2 96.1 722.7 129.7 578.6 132.8 573.9 142.3 666.4 141.7 711.9 185.6 593 119.8 588.6 115.4 597.3 144.8 675.4 338.1 691.6 335.1 663.3 126.8 704.1 183.7 596.4 104.1 735.8 111.8 714.2 137.7 586.7 109.7 568.2 307.6 687 334.3 677.6 100.6 719.9 121 592.9 304.4 668.6" fill="none" stroke="none" marker-start="url(#md8010a0)" marker-mid="url(#md8010a0)" marker-end="url(#md8010a0)"/>
<path d="M314.1 677 115.6 587 118.9 701.5 175.8 584.7 298.8 681.3 235 621 222.4 635.3 216.3 597.1 131.3 738.8 133.7 723.3 119.3 728.3 107.7 688.2 296.4 678.9 263.9 677 147.5 751.6 132.9 698.3 135.8 740.3 221.9 622.9 303 684.7 113 707.6 273 652 112.9 741.7 89.3 698.8 136.7 737.5 135 756.4 128.6 751.4 130.7 576 98.4 593.3 116 741.6 315.4 667.3 304.1 678 320.1 691.7 136.2 703.9 264.9 678.1 117.6 684.6 98.3 729.7 271.9 673.5 117.5 688.1 313.1 680 134.6 715.3 193.3 598.8 291.5 689.8 126.6 705.5 137.6 694.8 216 618.6 115.3 725.1 103.2 722 151.7 734.3 235.6 609.5 143.2 701.9 102.8 740.9 263.1 661.5 301.7 675.6 143.4 703.3 119.4 701.7 122.5 683.9 323.6 677.8 177.6 589.3 300.8 685.9 143.8 708.7 232 611.3 129.5 713.7 110.5 740 99.9 694 129.8 571.2 319.3 694.6 213.7 590.5 125.2 755.2 99.9 714.9 272.4 654.6 209.5 588.3 101.6 733.9 272.8 650.9 286.6 687.8 100.6 696.4 323.8 681.2 124.9 733.1 147.8 754.5 119.1 714.6 115.2 720.6 146.2 586.2 150.3 730.3 100.3 596 141.2 719 134.4 735.2 189 598.9 148.5 749.1 115.4 736.7 131.3 718.3 277.1 657.8 114.2 705.8 114.6 710.4 308.1 662.9 103.8 691.6 195.2 593.9 145.2 748.2 106.7 725.5 95.3 726.9" fill="none" stroke="none" marker-start="url(#md5c12c8)" marker-mid="url(#md5c12c8)" marker-end="url(#md5c12c8)"/>
<path d="M101.7 673.7 134.6 577.4 105.5 728.3 129.7 699.8 302.3 672.5 335.6 696 106.3 710.4 133.5 709.7 144.3 569.4 91.8 689.2 135.7 729.8 125 717.6 140.3 742.7 170.1 594.4 89.3 575.6 132.4 748.7 153.6 760.7 93 711.6 138.2 762.2 89.6 701.3 94.1 695.5 357.7 679.1 124.8 722 111.8 579.5 135.9 582 124.4 651.5 138.3 735 134.8 703 111.9 725.2 107.9 574.2 120.1 694.4 101.8 693.1 150.2 580.2 108.2 587.8 341 672 146 710 120.1 580 159 574 320.1 665.8 310.2 683.6 303.9 675.2 133 706.1 142.2 585.7 312.8 669.4 122.4 718.4 133.3 588.4 97.7 704.5 92.2 583.9 167.9 589.7 110.6 697.2 116 736.9 134.8 571.2 106.8 724.3 126.4 744.7 88 696.6 95.8 678.5 126.7 709 319.5 688.7 135.2 751.2 137.9 750.7 353.2 665.2 113.5 699.1 127.6 716.5 115.7 731.2 153.6 581 350.9 674.7 327.1 677.3 109.5 735.2 326.1 659.7 132.8 708.4 109.6 717.8 107.1 673 119.8 584.6 125.3 668.7 136.7 733.4 120.1 692.2 144.3 714.4 145.5 743.6 135.1 575.9 125 650 121.3 740.9 118.1 582.3 147 582.2 123 575.1 115.3 697 107.6 719.6 181.4 589.9 138.2 722.8 314.2 686.1 137.7 692.9 95.2 710.3 147.3 571.1 115.1 687.3 105.7 635.1 92.7 579.2 141.4 723.8 173.3 595.7 107 580.1 134 741.9 103.7 574.1 145 674.4 108.6 581.1 92 581.2 124.1 570.1 310.2 665 163.3 588.8 302.1 688.3 143.1 753.5" fill="none" stroke="none" marker-start="url(#md8010a0)" marker-mid="url(#md8010a0)" marker-end="url(#md8010a0)"/>
<path d="M209.2 619.1 299.4 667.8 233.1 625.1 232 623.5 205.7 616.5 214.6 614.3 202.5 588.4 289.2 691.3 204.1 604.3 218.8 613.9 224.4 630 221.2 633.7 274.4 666.4 220.7 638.8 236.3 618.2 285.7 683.2 285.7 649.6 272.1 664 291.8 673 210.1 600.4 205.9 595.4 220.9 622.5 222.1 607 277.3 656.1 251.4 643.8 283.5 674.4 279.3 656.6 250.1 638.5 249.9 650.5 278.8 674.1 260.4 670.9 272.5 659.1 221 634.7 261.4 647.5 231.7 633.8 294.7 684.6 212.6 613.5 206.2 592.1 274.5 682.8 237 640.9 291.3 688.6 264.6 656.9 259.4 672.3 275.3 672.6 226.9 605.3 211.6 603.8 264.2 653.4 243.8 646 295 664.7 231 618.7 267.5 667.2 285.3 678 221 610.4 247 654.1 225.2 595.9 291.9 660.4 270.9 659.8 258.7 654.9 192.4 610.6 205 601.1 268.1 651.2 243.5 641.2 289.8 652 190.2 605.1 192.2 586.9 270 670.4 276.6 685.5 199.4 579.5 198.4 582.4 224.8 598.7 264.7 670.4 245.4 642.9 185 600.7 300.5 685.3 214.1 609.4 203.4 602 264.5 657.5 255.2 663.4 257.5 670.2 284.6 667.3 298.9 677.7 288.9 676.9 226.7 630.1 266.5 666.9 271.2 667.2 195.1 582.5 273.6 662.4 241.1 637.2 281.9 679.9 182.9 586.9 248.8 657.9 244.5 649 224.9 616.6 215.4 591.2 265.3 673.7 217.3 619.6 272.7 683.2 257.9 649 284.7 688 225.6 612.9 246.4 654.7 279.5 662.8 230.5 621.5 225.8 594.4 302.4 672 225.1 636.8 211.1 597.9 233.9 602.3 279.8 681.7 264.7 657.1 232.4 633.8" fill="none" stroke="none" marker-start="url(#md2412ee)" marker-mid="url(#md2412ee)" marker-end="url(#md2412ee)"/>
<path d="M157.3 636.7 329.5 687 175.1 636.9 147 642.5 160.5 612.1 157.6 646.3 110.6 631.1 182.8 606.1 186.9 622.2 128.3 639 144.9 610.3 137.8 623.1 152.2 613.1 130.6 620.7 354.4 698.8 125.9 630.8 347.3 683.7 127.9 621.9 123.9 609.6 336.8 660.4 149.4 634.4 164.3 629.8 155.4 650.4 165.6 605.6 122.6 624.8 169.2 623.4 146.8 613.5 139 614 350 711.4 345.5 692.9 182.3 613.6 163.8 636.4 143.2 604.4 153.7 629.3 357.7 671.4 338.5 677 135.8 625 154.6 611.6 164.7 602.4 343.6 707.4 121.6 616.8 158.5 608.1 136 595 169.9 636.6 173.2 626 330.1 695 327.2 668 156.8 595.4 346.5 685.6 130.4 605.1 168.3 617.5 143.3 623.8 338.6 688.1 101.5 626.7 162.8 617.9 137 591.6 133.4 683.8 147.8 614.2 160.1 641.9 162.8 637 336.6 689 360.8 691.2 127.2 601.5 173.6 620.7 137.3 643.1 148.2 644.7 159.4 644.9 169.1 598.6 153.2 647.1 361.2 684.8 347.1 709.4 338.4 720.3 151.1 592.6 346 686.5 126.4 616.2 171.2 632.9 339.5 673.4 141.8 629.5 337.8 708 129.3 621.8 188.7 623.3 163.8 645.7 159.3 630.7 339.4 679.4 155.4 625.2 138.9 614.3 157.1 599.8 153.5 622.9 343.5 720.5 140.6 604.6 329.1 689.5 163.5 615.7 173.7 617.5 352.7 698.2 130.2 625.8 342.3 683 154.6 596.2 137.3 612.8 347.3 657.9 154.6 609.4 349 717.2 157 634.6 328.9 665 174.5 620.8 149.7 600.5 341.5 704.6 162.6 639.7 151.8 605.1 182.2 637 333.2 654.8" fill="none" stroke="none" marker-start="url(#mdf01020)" marker-mid="url(#mdf01020)" marker-end="url(#mdf01020)"/>
<path d="M114.6 578.7 141.4 582.4 121 598.2 187.2 591.1 134.8 647.3 163.2 582.8 150.7 625.8 118.8 573.5 147.3 598.6 136.9 708.7 309.2 694.9 175.7 627.2 138.2 584.5 103.6 583.9 138.6 755.4 152.7 571.9 172 623.8 107.5 733.6 341.6 657.3 139.9 579.7 180.1 625.2 124.6 680.5 175.7 613.9 109.1 594.1 321 658.2 96.8 580.1 299.4 684.2 158.9 624.8 158.6 602.3 113 570.1 141.6 756.3 170.5 582.6 97.7 584.9 183.1 626 169.3 587.7 88.3 673.4 315.5 694.5 98.3 583.8 332.3 690 145.4 575.7 106.5 650.3 104.3 629.4 126.2 749.2 99.9 628 130.3 614.3 152.9 588.3 160.1 605.7 153.1 642.3 163.9 632.8 151.8 587.3 112.6 668.8 139.5 635.1 148.2 682.7 162.6 633.8 130.1 589.2 356.2 697.2 185.4 608.4 109.1 598.9 138.2 743.5 177.5 611.9 163.3 626.7 132 728.4 349.9 680.3 180.1 597.8 193.1 630.5 122.7 587 125.7 713.7 336.8 653.7 146.7 595.2 94.7 669.6 156.7 621.1 140.2 681.7 165.9 576.4 152 679 138 729.5 113.4 677.3 134.2 581.7 129.7 595.7 112.4 679.4 144.2 721.5 143.2 583.3 111.4 713.5 118.2 737.7 145.5 638.9 126.7 592.1 116.3 673.2 164.5 585.7 115 572.1 321 658.9 123.4 716.3 95.9 666.7 138.3 631.8 118.8 566.1 125.9 629.2 125.3 658.6 148.8 741.1 348.3 685.9 174.5 601 138.2 631.6 155.8 589.5 141 576.8 142.8 634.6 110.1 652.2 133.1 619.9 92.5 711.4 318.7 661 134.2 640.6 109.9 733.6 331.3 682.8" fill="none" stroke="none" marker-start="url(#mda8106a)" marker-mid="url(#mda8106a)" marker-end="url(#mda8106a)"/>
<path d="M312.3 671.4 121.7 725.8 104 567.5 304.4 691.9 114.8 727.9 113.1 705.5 228.2 635.4 107 694.5 149.1 732 129.5 756 130.7 747.7 288.3 665.4 252.3 650.3 299.2 669.3 103 589.9 134.3 694.9 318 688.5 149.2 718.2 101.2 711.6 172.6 592.1 189.1 581.7 89.4 694.3 122.9 699.3 117.8 586.5 133.5 691.1 120.8 712.9 129.1 743.7 330.8 677.4 302.7 676.4 247.8 647 90.4 695.9 92.2 693.5 272.3 674.7 140.6 719.4 208.5 605.9 144.4 745.2 307.6 676.2 185.6 581.2 122.7 686.6 95.2 715.7 210.9 620.7 147.5 707.4 239.9 636.1 169.3 589.9 89.1 580.1 289 670.5 320.1 663.5 145.1 730.9 118.1 720.1 212.8 595.5 312.8 681.1 83.5 696.4 316.9 683.6 99.7 702.1 117.8 748.3 299.9 664.8 140.2 700.6 103.7 717.8 217.1 599.1 102.7 714.4 116.9 717.4 303.3 680.9 321.7 674 308.1 681.2 199.8 593.8 101.6 718.2 249.1 651.1 119.4 730.7 264.5 646.1 90 710.8 326.9 679.2 141.2 753.3 103.8 714.8 315.9 682.9 324.9 670.2 124.3 727.7 210.8 609.7 107.6 693.2 225.3 624.8 222.4 621 132.8 758.1 118.1 719 85 712 320.2 684.1 150.4 574.5 144.3 705.3 307.1 675.9 231.5 612.7 151.9 749.5 146.1 701.7 126.1 686.3 305.9 672 135.7 761.6 111.3 739.2 86.7 706.5 297.4 672.8 118.4 749.7" fill="none" stroke="none" marker-start="url(#md5c12c8)" marker-mid="url(#md5c12c8)" marker-end="url(#md5c12c8)"/>
<path d="M200.4 590.5 207.8 578.8 298.7 686.7 262.4 655.7 279.1 684.1 233.1 642.1 180 592.1 254.3 650.9 206.9 596.8 254.4 653.1 223.6 627.4 290.6 659.9 213 613.6 304.4 693.6 207.8 597.1 296.5 693 246.9 642.5 288.4 656.3 224.6 642.4 198.7 587.9 211.9 603.4 243.8 651.3 304.5 679.8 244.5 652.9 298.1 693.9 284.9 664.4 290.1 684.9 235.7 650.3 226.6 613.4 287.5 681.3 232 635.7 232.5 604.2 298.8 695.3 293.9 684.5 241.1 641.7 279 675.5 271.5 652 197 607.9 206.7 580.7 216.1 623 225.9 601.4 236.4 612.4 276.5 669.8 282.8 655.4 204.4 586.8 274.8 648.4 216 586.4 302.2 662.5 235.3 646.4 240.6 655.3 229.4 637.2 300.4 680.4 236.7 630.2 219.5 607.3 302.4 676.7 201.3 597.3 297.9 662 216.7 593.4 284.8 684 190.4 582.7 276.5 681.6 235.2 633.6 202.5 615.9 286.8 657.9 225.1 603.8 238.3 633 175 578.4 253.8 646.6 299.6 659 220.9 625.4 228.7 605.2 239.9 632.5 282.6 683.5 220.7 614 235.5 622.6 261.8 667.8 285.3 691.3 283.7 649.4 223.3 638 232.4 618.1 196.8 588.9 185.8 597.5 264 650.2 198.8 613.7 234.9 624.3 204.2 614.5 191.3 576.4 198.5 607.5 197.9 576.7 229.4 646.5 304.2 680.3 223.6 615.2 283.9 673.4 227.3 644.3 292.4 664.4 198.2 613.6 225.8 636.6 215.8 588.3 190.6 607.9 189.4 587.7 210.8 581.9 202.3 595.9 192.6 606.2 301 690.2 192.3 583.8 230 622.2 187.8 579.3 198.8 597 221.8 631.9 268.7 663.9 267.8 669.8 278 656.2" fill="none" stroke="none" marker-start="url(#md2412ee)" marker-mid="url(#md2412ee)" marker-end="url(#md2412ee)"/>
<path d="M146.9 724.2 191.8 593.9 129 749.3 103 591.9 196.5 595.3 257.2 664.8 130.5 709.7 131.9 714.5 104.6 711.6 125 688.9 144.8 754.2 178.2 589 141.4 701.3 113.1 728.7 105.4 726.2 86.4 709.9 100.7 730.6 97.1 706.7 124.6 576.7 144.5 751 124.4 735 120.6 749.7 308.4 693.1 318.5 661.3 220.3 600.7 120.1 709.9 221.9 604.6 141.4 699.7 264.1 660.5 149.6 751.9 118.4 704.5 271.9 676.4 318.6 681.4 133.5 687.1 127.2 711.1 195.3 605 130.2 743.5 101.8 594.4 259.2 645.9 277.5 654.7 304 678.9 163.1 574.8 200.8 593.7 117.4 715.1 113.3 740.3 133.5 716.5 319.9 671.9 318.9 665.3 131.5 756.3 88.6 710.9 308.2 664 305.2 678.4 324.7 688.9 123.1 737.8 321.7 685 259.2 662.5 147.5 587.7 319.2 672.7 101.3 708.8 136.4 692.6 201.9 582.8 119.2 707 191.5 601.5 257 662 132.2 733.9 231.9 632.8 93.6 574.3 213.8 599.6 98.4 700 132.7 743.5 151.6 576.9 152.4 757.3 282.2 670.3 101.8 685.5 204.9 610.6 121.1 705.2 118.2 690.3 102.8 730.9 149 726.7 131.4 751 143.1 735.3 120.7 708.1 147.4 758.5 116.1 736.8 271.8 657.3 103.2 687 309.5 667.9 134.7 687.6 306.1 691.1 305.2 661.7 104.8 730.5 191.2 599.2 317.5 660.2 310.4 676.7 134.2 720.6 291.4 671.8 210.3 594.9" fill="none" stroke="none" marker-start="url(#md5c12c8)" marker-mid="url(#md5c12c8)" marker-end="url(#md5c12c8)"/>
<path d="M93.1 580.2 108.4 706 171.2 598.5 152.9 573 130.5 701 107.6 713.8 115.8 580.7 322.7 698.4 96 677.3 86.2 694.3 103.6 571.6 132.9 569.5 108.5 687.9 131.1 689.8 146.7 700.6 156.6 575 336 691.7 95.6 679.6 139 748.2 117.7 692.7 97.5 593.4 141.9 708.2 130.7 694.7 138.2 727.9 126 568.3 124.5 739.2 322.5 681.4 115.3 602.7 120.9 572.4 136.3 579.8 93 721.8 177.6 593.1 138.7 689.2 98.8 726.8 89 582.1 323.2 666.5 90.7 589.8 120.2 706.6 136.8 751.2 96.3 700.3 133 578.9 123.1 701 143.8 724.6 308.4 681.2 331.8 699.3 104.4 709.5 107.2 685.4 139.3 737.9 105.8 572.9 313.6 664.4 124.5 706.2 99.8 588.4 138 572.3 99.5 719.9 136.8 701.1 141.5 665.2 308 684.5 167.2 592.6 146.1 712.3 152.1 581.4 89.2 584.8 124.3 691.9 98.3 598.2 109.8 743.3 114.8 713.2 144 727.7 127.7 690.8 106.6 641.2 144.6 718 356.9 676.5 112.1 734.2 133.2 688.1 161.3 583.4 140.6 588 147.8 671.7 95.6 688.5 181.7 586.2 168 595.3 98.9 689.8 154.2 573.5 137.7 743.1 97.4 725.6 116.3 732.9 155.7 755.4 85.8 701.8 327.8 662.4 336 670.3 168.1 574.3 129.3 669.1 126.2 716.4 112.9 584 106.6 700.7 147.7 763.8 96.8 592.1 95.6 712.5 139.5 586.7 119.9 600 107.7 728.9 108.4 578.3 145.1 733 102.3 702.2 140.6 735.2 99.1 672.7 150.4 739 109.2 690.8 110 735.5 355.3 665.7 114.1 692.2 318.7 670.1" fill="none" stroke="none" marker-start="url(#md8010a0)" marker-mid="url(#md8010a0)" marker-end="url(#md8010a0)"/>
<rect x="48.9" y="545.8" width="326.4" height="233.4" fill="none" stroke="#111" stroke-width="2"/>
<text class="t" x="91" y="565.8" textLength="230.2" lengthAdjust="spacingAndGlyphs">Hydromorphone/VISTA</text>
<ellipse cx="345.5" cy="754.8" rx="22.4" ry="19" fill="#dcdcdc"/>
<text class="L" x="345.5" y="763">C</text>
<text class="n" x="39.2" y="551.7" text-anchor="end">60</text>
<text class="n" x="39.2" y="590.6" text-anchor="end">40</text>
<text class="n" x="39.2" y="629.5" text-anchor="end">20</text>
<text class="n" x="39.2" y="668.3" text-anchor="end">0</text>
<text class="n" x="39.2" y="707.2" text-anchor="end">-20</text>
<text class="n" x="39.2" y="746.1" text-anchor="end">-40</text>
<text class="n" x="39.2" y="784.9" text-anchor="end">-60</text>
<text class="n" x="61.1" y="805.1" text-anchor="middle">-60</text>
<text class="n" x="118.7" y="805.1" text-anchor="middle">-30</text>
<text class="n" x="176.3" y="805.1" text-anchor="middle">0</text>
<text class="n" x="234" y="805.1" text-anchor="middle">30</text>
<text class="n" x="291.6" y="805.1" text-anchor="middle">60</text>
<text class="n" x="349.2" y="805.1" text-anchor="middle">90</text>
<path d="M512.4 673.4 704.2 667.3 566.9 672.5 718.6 668.1 598.1 673 622.7 663 735.3 657.8 676.6 674.7 600.2 669.2 562.7 664.1 688.6 656.9 633.4 665.4 556.2 667.4 517.4 660.5 706 656.4 605.4 673.1 567.7 666.6 580.6 673.9 534 664.8 490.3 657.6 525.5 671.9 624.6 657.2 711.2 666.7 553.6 663.8 718.2 653.7 561.6 665.3 591.8 676.7 603.8 669.9 636.5 674.5 592.6 670.8 495.4 654 612.2 664.2 608.9 672.4 661.6 660.4 489.5 671.4 653.8 659.6 619.2 655.8 634.2 669.2 478.6 666.1 545 664.9 593.2 667.8 654.8 672.7 659.9 663.7 545.7 664.3 508.4 675.4 631.7 674.4 499.4 661.7 657.4 671.4 552.4 671.6 695.7 669.1 517.8 656 479.7 664.3 505.8 671.6 545.9 662.7 638.1 674 620.5 660.2 716.2 655.9 677.7 658.2 646.1 658.9 611.8 672.8 666.1 660.9 558.6 669.2 628.9 669 726 656.1 520.8 676.7 488.7 661.2 619 659.6 726.3 674.9 626 670.2 649.9 661.7 625.7 674.3 538.7 656.8 652.7 666.7 641.3 660.7 595.6 665.6 651.1 671.1 652.7 675.4 715.2 668 564.4 667.4 527.2 672.1 669.5 672.3 511.4 661.3 488.1 669.6 658.8 660.2 615.9 673.5 738.7 655.9 522.8 660.2 623.2 674.7 684.7 657.6 575 670.4 659 655.2 672.7 658.5 655.7 676 697.1 658 702.7 670.8 502.9 658.6 721.6 674.7 628.3 658.4 638.9 668.1 682.5 671.7 489.5 675.3 599.2 664.4 544 662.5 634.4 674.7 718.4 675.2 613.7 672.2 563 669.5 684.4 663.4 696.1 655.8 705.1 673.3 495.3 658.3 639.4 665.2 552 668.4 741.5 660.4 701 666.2 723.9 658.2 636.7 662.6 653.3 657.1 704.8 657.3 691.4 658.5 604.7 673.3 719.7 670.9 701.7 656.5 710 671.8 495.1 667.2 627.4 663.6 696.8 672.1 679 660.4 531.3 655.1 605.5 666.6 509.5 658.7 515.1 661.5 647.5 675.6 579.1 672.3 715.9 669 661 660.7 644.2 673.8" fill="none" stroke="none" marker-start="url(#md700a9f)" marker-mid="url(#md700a9f)" marker-end="url(#md700a9f)"/>
<path d="M557 702.5 554.1 703.5 630.8 705.3 533.9 709.8 569.2 706.5 582 715.8 568.5 702 525.8 717 595.3 710.8 545 712.3 536.7 707.2 619.2 704.7 543.1 719.7 525 709.5 561.6 716.9 558.3 707 568.7 716.1 587.8 712.7 518.1 705.4 602.2 711 595.4 716.3 585.8 719.1 578.2 717.5 596.4 708.6 533.3 719.4 622.9 705.8 552.3 704 576.6 715.7 589.8 703.6 546.5 706.3 594.4 700.7 566.3 712.7 641 703.2 524 723.5 556.5 710 594.9 720.6 603.7 704.8 594.6 712 554.3 723.8 591.2 708.1 526.5 707.6 575.7 723.5 544.3 723.7 566.1 718.6 640.6 700.9 562.8 713.5 561.8 711.1 562.7 700.6 545.3 715.8 541.8 710.9 592.4 704.6 535.1 702.2 566.3 716.6 571 702.7 584.5 709.4 576.3 715.6 516.3 719 616.4 701.9 558.2 719.5 582.4 703.2 554.7 715.7 566.9 707.6 521.9 718.5 590.1 714.7" fill="none" stroke="none" marker-start="url(#mdcf0340)" marker-mid="url(#mdcf0340)" marker-end="url(#mdcf0340)"/>
<path d="M726.4 633.1 644.7 634.9 513.4 641.5 510.4 634.5 640.3 638.4 525.7 634.3 528.3 638 490.3 650.6 508.2 633.4 633.2 640.5 693.6 639.2 639.8 643.6 693.1 643.4 647.2 644.5 715.3 634.6 678.9 647 497.5 648.6 513 632.8 703.3 642 529.7 645.2 675.8 642.3 564.4 643.5 720.7 645.5 518.9 635.2 537 639.2 658.6 642.6 512.2 644.8 659.3 637.6 648.6 648.5 528.9 632.4 673.4 640.4 525.5 643.7 535.2 641.2 727.4 642.9 735.7 652.6 705.5 638 523.2 636.5 502 650 548.8 652.1 711.4 648.6 521.8 640.5 538.5 646.9 707.3 634.4 661.9 636.2 706.4 651.8 694.1 646.3 657.6 652.5 517.5 632.5 641 638.9 543.9 649.2 507.6 652.7 728.2 651.6 658.2 647.6 645.7 632.5 534.3 646.5 709.1 650.8 660.2 638.4 703.1 637.1 520.2 649.3 675.3 644 672.9 650.6 661.4 648.5 637 650.8 533.5 648.7 717 636.9 667.1 634.6 709.1 639.8 535.4 633 709.3 634.9 522.4 630.7 649.2 644.8 552.4 650.7 714.1 644.8 643.1 646.6 556.6 650.8 653.3 635.6 621.6 653.3" fill="none" stroke="none" marker-start="url(#md400dcf)" marker-mid="url(#md400dcf)" marker-end="url(#md400dcf)"/>
<path d="M558.9 727.8 585.5 740.4 547.8 736.9 563.2 724.5 564.2 743.5 581.9 735.8 551.7 730.1 535.2 733.8 532.4 728 552 734.4 521.9 730.2 575.6 740.7 589.8 730.8 577.3 732.6 539.7 729.8 532.2 733 544.3 728.5 575.3 727.4 544.4 731.2 542.8 735.5 564.5 739.6 529.8 733.1 544.8 729.8 538 734.5 577 729.5 544.8 738.4 538.3 728 550.4 742 534 735.3 565.3 726.2 571.7 749.7 567.7 753.4 594.7 725.9 552.2 740.3 570.8 752.4" fill="none" stroke="none" marker-start="url(#mdff0010)" marker-mid="url(#mdff0010)" marker-end="url(#mdff0010)"/>
<path d="M528.5 580.9 512.9 583 510.8 593.3 549.2 588.4 511.8 590.9 531.9 593.5 505.5 612.4 506.2 593.6 518.8 607.4 487.7 601.6 515.6 575.2 536.3 598.2 529 615.8 510.2 613.4 505 608.7 540.1 578.9 535.6 601.1 535.5 609.9 517.3 575 551.6 591.8 514.1 607.1 498.7 586.8 529.5 579.9 497.1 577.6 499.9 604.2 539.1 585.1 534.1 590.7 521.5 623.2 532.1 579.6 510.2 571 526.4 602.8 511.6 616.7 523.5 568 499.9 594.7 546.9 595.1 497.6 589.9 508.7 587.1 534.5 609.7 503.5 609 493.7 597.2 544.2 579.9 655.9 628.7 504.3 604.1 537.2 583.5 495.5 580.1 521 612.2 493.8 576.3 527.7 620.5 548 582.1 714.7 625 513.2 585.1 501.1 580.4 516.8 564.4 530.8 606 524.2 571.4 525.5 589 518.9 594.5 525.8 580.2 538.1 600.1 506.3 588.5 514 616.9 512.3 595.8 513.3 594.4 506.9 620 657.9 629.9 521.7 590.7 489 578.2 499.1 597.2 518.3 584 518.3 627.3 506.6 587.1 510.2 600.3 521.2 608.3" fill="none" stroke="none" marker-start="url(#md1010ff)" marker-mid="url(#md1010ff)" marker-end="url(#md1010ff)"/>
<path d="M532.8 598.2 512.6 609.6 518.7 600 484.7 581.7 537.5 586.7 506 598.9 517.7 618.4 541.6 579.2 497.7 590 501 583.6 491.3 593.5 527.4 583.3 522.4 579.7 514.2 588.5 527.5 598.9 490.3 583.6 517.3 598.1 551.8 585.1 542.6 590 489.5 585.1 528.1 614.2 508.9 573.8 507.9 583.5 536.3 600.3 534.8 593.1 534.4 603.5 514.7 572.8 517.7 593.7 500.9 587.9 535.6 602.4 521.2 584.2 499.7 599.2 535.7 596 541.7 591.3 494.5 586 529.7 591.7 504.5 574.8 493.3 573.1 540.8 597.8 530.8 606.9 507.3 619.8 485.6 587.9 501 612.2 490.1 609.2 550.7 581 502.3 620.5 515.4 606.2 501.9 614 524.5 616.5 504.9 629.2 530 572.8 500.7 584 517 618.6 537.1 578.1 512 586.5 501.5 602.4 515.9 580.3 521.1 625.1 505.1 574.1 498.4 618.5 527.2 605 538.3 589.9 523.4 622.3 529.6 613.6 508.2 577.4 498.9 581.2 525.1 619.5 496.2 595.2 520.9 615.6 556.8 585.1 503.5 577.4 508.7 611.2" fill="none" stroke="none" marker-start="url(#md1010ff)" marker-mid="url(#md1010ff)" marker-end="url(#md1010ff)"/>
<path d="M726.6 672.6 526 661.2 723.1 669 596.2 669.1 659.3 676.4 552.9 660.4 591.2 666.8 702.3 661.3 693.4 659.2 678.5 665.1 637.3 670.6 713.1 659.8 515.4 665.3 482 665.1 483.7 668 507.9 655.5 516 676.1 480.6 669.7 733 654.6 693.1 663.8 497.5 663.8 667.5 658.6 645 671.7 636.9 671.4 642.2 654.6 631.6 657.8 683 673.1 633.9 660.9 647.4 655.4 535.6 671.1 643.2 657 656.2 663.1 531.8 667.9 702.9 673.9 619.2 669 675.8 674.6 663.8 668.2 612.5 667.9 489.8 664.4 555.5 669.8 594 670 675 654.1 532.2 655.8 519.1 662.4 485.7 666 621.6 671.4 580.9 666.1 564.6 675.6 612.2 674.3 632.9 673.2 639.1 656.7 526 656.6 725.5 664.7 613.9 661.4 493.8 669.2 688 657.8 523.2 666 654.6 654.1 512.8 657.2 521.5 673.8 620.2 662.9 504.3 658.1 485 674.2 548.4 664.2 619.8 667.7 690.7 660.9 650.2 658.5 600.9 672.3 547 673.2 532.4 670.2 563.3 675 550.7 670.2 503.2 667.9 627.2 663.5 495.8 660.9 501.2 670.9 561 661.8 590.8 674.1 664.6 673.1 563.6 670.7 629.2 674.3 599 672.7 552.9 660.7 560.2 662.1 650.7 664.3 734.3 662.7 654.4 657.2 595.1 669 678.7 660.4 717.4 676.1 641.4 660.6 627.1 675 501.2 659.7 625.9 665.5 571.1 671.2 688.4 672.9 728.3 676.7 522.4 676.7 588 663.7 490.9 654.8 677.3 664.4 555.5 654.7 602.6 671.2 610.3 661.7 598.5 675.8 648.6 676.2 545.7 669.6 679 666.3 589.5 675.8 701.9 658.1 601 672.9 607.1 666.8 578 666.3 504.7 668.5 488.2 658.5 695.2 666.5 497 667.8 616.6 664.5 485.8 667.7 661.8 670.6 558.6 672.4 539.8 671.1 683.7 673.7 730.3 659.5 668.4 664.1 623.1 674.3 607.2 659 548.7 665.7 725 662.8 630.9 655.4 616.1 667.5 567.6 667.7 627.1 664.1 731.4 657.7 699.5 665.6 480.5 655.2 742.7 655.2" fill="none" stroke="none" marker-start="url(#md700a9f)" marker-mid="url(#md700a9f)" marker-end="url(#md700a9f)"/>
<path d="M597.7 717.5 518 709.2 551.3 707.3 531.2 701.5 593.8 700.7 594.6 703.3 637.5 702 520 719.9 550.7 711.2 529.6 721.7 584.2 720.9 549.3 722.7 557.8 718 601.4 704.3 622.1 704.1 540.6 718.4 605.3 710.8 636.7 703.6 529 710.5 597.8 713.1 543.7 703.9 634.1 704.9 552.2 708.3 582.4 712.9 561.3 720.9 576.6 704.7 608.9 701.8 539.6 705.2 589.8 718.4 568.1 722.3 592.1 716.6 539.6 712.3 629.1 704.4 526.3 705.3 631.9 702.6 515.5 713.3 605.1 704.2 533.1 707.7 605.7 707.9 569.2 711.6 604.1 714 513.2 705.3 617.6 705.3 541.4 703.1 531.6 705.9 555.7 703.6 630.8 705.1 514.2 700.8 592.5 705.9 578.5 709.5 557.8 710.3 563.5 707.8 517.6 710.6 621.6 703.3 578.4 703.3 522.9 704.4 576.5 716.6 523.6 716.5 537.3 722.5 600.7 720.7 550.4 702.4 567.3 703.8 549.1 703.3 553.8 702.9" fill="none" stroke="none" marker-start="url(#mdcf0340)" marker-mid="url(#mdcf0340)" marker-end="url(#mdcf0340)"/>
<path d="M517.1 629.7 545.8 587.4 490.6 604.5 508.8 628.4 502.6 606 522.9 583.5 515.5 625.7 517.7 623.9 508.6 624.2 526.1 569.7 494.6 601.8 710.5 629.6 509 580.9 530 587.6 536 580.5 526.7 592 520.9 627 518.8 593 529.3 590.8 521.5 575.3 516.7 576.2 513.4 623 516.5 602 554.1 580.7 518.6 578.1 529.3 603.5 531.3 579.6 516.7 627.8 527.6 600.3 518.5 622.9 492.1 601.4 513.4 578.2 485.9 587.1 508.7 605.8 514.1 621.5 540.9 581.7 509.1 598.1 494 587.2 521.3 596.3 530.5 597.8 503.2 628.6 529.7 604.9 524.1 589.1 514.3 610.7 519.3 588.1 533.8 604 516.6 619.2 505.4 616 509.2 591.3 522 619.9 505.8 614.7 514.9 580.2 526.4 574.8 517.4 579.1 524.2 606.1 503.7 606.6 533.6 617.3 539.3 591.4 503.3 618.7 511.6 600.1 502.5 579.3 518.8 588.8 534.8 611.4 527.9 623 511.1 628.1 500.9 574.3 496.6 610.2 527.3 613.4 502.3 580.4 532.2 622.7 528.9 594.8 517.3 603.6" fill="none" stroke="none" marker-start="url(#md1010ff)" marker-mid="url(#md1010ff)" marker-end="url(#md1010ff)"/>
<path d="M647.9 678 630.5 686.9 630.4 680.8 628 679.3 641.5 692.7 622.6 698 514.3 680.3 516 692.6 542.9 686.6 561.6 696.8 589.5 682.5 591.1 694.4 537.3 696.8 511.2 691.8 554 677.1 571.4 687.1 554.5 687.4 553.6 688.8 594.6 679.5 631.8 682.4 636.1 694.8 630.9 693.8 586 692 528.9 682.2 557.3 684.3 714.2 677.1 581.8 690 626 688.9 587.7 699.6 622.7 686.3 615 697.7 573.2 679.4 578.7 682.7 631.1 690.9 639.6 695.5 630.9 694 550.4 699.1 598.1 684.8 593.7 690.5 595.5 687.9 588.6 685 612.4 680.6 599.8 682.8 637.5 692.2 554 679.4 552.3 694.3 600.7 677.2 595.1 693 536.5 693.8 618 680.1 574.8 679.2 620.9 691.4 726.2 679.3 559.3 677.8 497.3 681.2 532.2 682.3 609.9 692.9 610.8 696.4 599.9 699.3 630.1 678.5 634.5 680.5 510 688.7 639.8 690.7 620.5 678.1 517.9 695 583.9 693.9 538.5 695.9 624.8 690.6 529 691 635.5 692.4 617.7 683.1 507.8 683.1 514.6 693.4 611 686.7 589 677.4 617.8 698 605.3 680.1 591.8 699.4 600.9 689.8 640.9 677.5 519.7 691.8 645.5 681.3 567 695.3 593.4 686.3 574.7 681.8 532 689.3 580.4 695.5 624.3 698.6 604 693.6 624.3 678 520.5 680.1 592.5 693.2 493.4 677.1 599.4 679.5 610.6 697.3 589.5 683.5 535.4 690.2 572.1 699 627.8 683.5 540.3 677.2 539.3 700 608.3 691.1 514.3 685 549.7 687.6 542.9 687 592.3 695.3 619 690.7 624.1 694.6 615.6 679.8 636.5 698 609.1 685.3" fill="none" stroke="none" marker-start="url(#md9f0670)" marker-mid="url(#md9f0670)" marker-end="url(#md9f0670)"/>
<path d="M612.9 675.3 678.6 653.9 615.4 673.6 706.1 665.1 536.5 655.6 510.1 674.3 506.9 665.9 530.4 664.9 572.9 674.8 528.2 659.7 536 661.3 588.6 670.2 718.1 654.5 622.3 666.1 609.2 670.1 610.7 665.4 634 668.9 597.6 667.4 476.5 665.9 720 657.4 630.2 655.5 714.5 671.7 597.5 674.4 647.5 666.8 545.2 659.2 616.5 665.8 592.1 674.2 665.8 669 607.1 660.7 506.9 660.1 625.8 657 704.4 661.7 668.1 674.3 734 665.3 601.2 660.5 623.7 672 526.8 658.6 531.3 674.7 559.9 665.7 611.2 671.1 672.7 665 665.6 665.7 542.2 667.8 619.6 665.5 592 662.5 637.2 676.1 598.6 676 643.9 656.9 557.3 658.2 538.5 676.1 602.6 659.4 478.6 660.2 663.2 658 622.3 666.9 639 672 497.7 673.6 490.4 653.8 492.7 676.9 519.5 671.7 578.2 675.4 502.1 670.1 500 659.7 677.1 671.2 694.6 671.8 589.2 668 499.9 673.5 604.7 662.9 674.9 657.9 495.2 671 529 658.5 621.8 667.8 617.6 661.9 537.2 668.8 722.8 653.6 520.4 673.4 680.9 662.7 706.7 654.4 520.1 654.2 646.6 664.8 668.9 660 671.7 657.1 616 663.8 656.7 668.1 708.4 659.3 631.5 673.5 671.8 666.6 684.9 669.6 607 671.3 619.6 658.4 708.5 674.6 635.2 669.1 521.7 671.8 509.6 676.6 543.6 675.9 592.7 666.1 520.1 665.2 657.4 656.6 576 669.4 715.8 658.7 683 653.7 646.5 669.8 539.7 671.3 546.5 657.9 611 662.6 731.7 666.9 620.1 675 480 659.3 610 674.9 727.1 671.3 684.2 665.5 484.7 653.5 692.3 663.2 695.7 660.8 491.9 675.5 660.3 669.5 568.3 675.6 604.9 669.6 614.9 676 673.2 661.2 632.6 657.1 532.8 668.1 707.4 668.4 620.3 671.1 611 664.2 718.2 665.4 721.8 661.9 730.5 660.8 582.5 672.2 544.6 655.6 500.1 656.2 580 675.3 585.3 662.7 672 673 639.9 659.1 620.1 670.8 628.8 670 684.7 672.2 541.9 659.7" fill="none" stroke="none" marker-start="url(#md700a9f)" marker-mid="url(#md700a9f)" marker-end="url(#md700a9f)"/>
<path d="M619.4 697.2 616.5 687.3 599.9 681.1 631.5 700 566.4 699.8 518.7 678.2 519.8 690.1 635.9 699.7 494.3 680 524 684.6 676.9 677.5 518.9 679.8 614.2 690.7 559.5 699.1 631.6 698.4 522.7 696.3 557.5 689.7 522.9 689.5 598.9 691 544.4 679.3 640 688.2 641.6 680.1 614.5 694.6 626.8 693.8 591.9 689.2 606.6 682.3 563.9 678.1 584.8 688.9 725.1 684.2 642.1 699.2 569.9 688.2 526 698.9 715.6 679.8 578.3 695 634.4 681.4 597.9 691.2 596.2 684.9 486 677 562.2 691.8 624.9 697 624.2 694.3 541.8 679.8 637.7 677.4 554.2 692.1 512.1 691.5 502.4 678.6 722.7 680.8 642 695.9 619.2 679.9 535.4 685.7 564.9 690.2 631.3 690.1 593.7 689.8 637 700.1 570.2 699.3 598.6 689.2 624.6 684.2 619 695.7 718.2 680.4 581.9 690.3 556.7 699.8 517.2 684.9 609 699.3 541.7 689.9 641.6 700.3 609.3 686.4 516.7 699.7 584.1 700 507.8 687.8 628.7 695.9 577.7 679.1 529.5 699 536.3 682.4 631.8 685.6 608.8 694.1 548.9 689.5 636.9 683.8 618.3 683 642.4 689.4 598.2 700.2 554.3 683.1 597.1 691.8 542.1 677.1 544.8 683.2 629.3 677.2 512.1 683.2 561.9 692.3 599.3 690.4 642.8 695.1 556.6 696 612.8 699.5 632.6 678.4 604.9 682.2 643.4 677.5 619 696.3 599.1 698.7 630.1 688.9 622.5 697.8 522.4 678.1 721.7 678.9 607.1 688.1 539.5 694.2 596.2 700.1 622.4 680.2 589 686.3 602.4 694.8 578.6 682.7 551.4 679.8 601.3 677.4 596.9 695.9 520.6 694.9" fill="none" stroke="none" marker-start="url(#md9f0670)" marker-mid="url(#md9f0670)" marker-end="url(#md9f0670)"/>
<path d="M566.4 706.8 533.1 714.8 584 723.6 586.8 723.2 570.1 717 525.1 702.5 553.9 700.8 570.4 707.6 562.1 706.1 610.5 705.8 525.7 712.6 591.3 712.9 599.4 701.5 600.4 706.6 527.6 713.1 602.8 723.4 525.9 703.8 515.1 718.7 573.4 713 549.7 718.3 540.6 722.9 526.2 720.1 583.3 718.5 603.9 700.6 517.7 702.3 591.5 708.9 638.1 701.7 553.9 719.7 590 710.5 591.4 711.1 573.1 703.8 603.2 704.9 535.3 719.6 516.2 718.9 606.2 711.8 547.7 700.8 600.7 717 522.2 717.3 544.5 711.6 537.7 701.4 610 703.3 642.4 703 565.3 722.8 611.1 704 605.8 707.8 625.5 703 612.3 702.8 557.2 715.1 535.1 720.3 529.7 708 537.4 721.8 571.7 721.8 531.1 718.5 621.9 701.1 594.5 709.7 559 702.8 610.3 700.7 543.2 716.7 572 704.9 600.4 709.9 643.7 701 548.4 715 542.9 718.4 555.3 711.2 573.8 708.6" fill="none" stroke="none" marker-start="url(#mdcf0340)" marker-mid="url(#mdcf0340)" marker-end="url(#mdcf0340)"/>
<path d="M584.6 718.6 624.6 702.2 633.5 703.8 541.4 720.5 578 713.1 538.5 714.9 512.4 703.9 586.8 708.4 521.6 720.8 546.4 709.2 607.5 706.1 530.9 705.2 591.9 701.5 513.6 708.1 585.9 706.1 601.4 702.1 599.9 703.5 597.2 704.2 515.5 712.6 516.3 712 592.2 722.8 588.4 723.6 578.6 720.8 542.2 706.7 546.4 719.8 578.5 705.7 610.3 708.1 523.3 706.2 575.6 718.4 536.3 711.1 557.1 716.8 518.3 722.8 523.1 712.2 559.8 709 519.9 703.9 581.7 721.4 517.4 708.3 581.6 719.4 615.5 702.4 604.6 719.8 585.1 705.1 582 711 595.1 711.9 577.5 712 601.6 718.3 545.4 718.8 522.1 703 604.2 717.3 593.8 718.1 528.4 714.5 633.3 700.8 530.7 715.6 592.9 713.4 606.6 701.4 584.2 705.9 619.8 702.2 539.8 710.4 584.8 714.8 579 708.2 572.5 718.7 596.5 712 616 701.2 552.6 722.1 606.9 715" fill="none" stroke="none" marker-start="url(#mdcf0340)" marker-mid="url(#mdcf0340)" marker-end="url(#mdcf0340)"/>
<path d="M592 682.9 612 691.8 568.2 689.5 639.8 685.8 618.2 699.1 547 692.1 539.2 692.2 624.9 680.3 507 683.3 570.4 692.4 631.4 694.8 505.2 678 636.4 693.7 714.2 677.5 526.5 680.6 600 683.8 519.6 684.5 615.6 690 646.1 683.7 625.3 687.7 525.3 682 645.3 689.1 612.6 680.8 636.6 695 635.4 689.7 618.2 686.9 637.7 689.6 594.9 694.6 604 691.4 525.5 691.1 628.6 687 617.7 696 550.4 690.4 595.1 695.4 559.7 687.5 559.6 683.6 606.2 680.2 572 679.2 641.7 691 620.5 692.4 630.9 687.4 633.9 688.3 588.2 696.9 623.5 685.1 609.1 677.5 545.3 699.9 609.8 692.6 534.1 677.3 596.3 678.2 566.4 689 616.2 686.9 499.5 677.6 564.8 684.7 541.2 693.8 617.5 688.5 567.4 678.5 638.8 684.5 593.3 677 637.5 692.5 521.9 698.5 544 694.6 604 686.4 581.4 678.2 603.8 678 595.1 683.7 617.3 697.2 616.8 678 727.1 679.7 601.3 688.4 538.4 688.6 589.4 680.5 634.5 696 584.4 681.4 527.2 677.2 603.1 694.9 515.1 698 613.6 699.6 537.6 685.9 636.9 683.1 533.8 677.2 610.1 689.5 546.4 697.2 537.5 678.6 579.6 684.5 526.9 689.1 518.2 687.1 625.3 691.5 612.5 686.5 615.7 678.5 616.8 683.7 611.5 680.2 600.4 687.9 612.6 690.5 609.5 696.1 574.6 694.6 579.9 685.7 508.2 681.7 534.1 681.6 553.3 699.6 529.4 686.5 578.8 699.3 549.4 693.6 538.7 681.3 532.2 687.7 626.8 696.6 609.4 693.5 572 694.3 545.8 696.1 604.9 688.6 643.4 697.3 601.5 679.8" fill="none" stroke="none" marker-start="url(#md9f0670)" marker-mid="url(#md9f0670)" marker-end="url(#md9f0670)"/>
<path d="M545.3 731.3 562 740.6 569.3 739.8 536.4 737.8 573.6 738.4 570.8 729.2 557.2 730.9 562.4 743 547.8 730.4 533.8 730.2 574.6 752 558.5 725.8 534.7 729.3 582.4 727.4 569.1 730.3 565.4 750.5 574 737.4 582.2 729.8 542 729.1 557.8 735.6 569.8 748.9 568.1 747.7 589.8 724.5 578 724.7 576.8 726.7 564.1 736.3 530.7 731.4 562.7 749.2 551.1 725.7 557.2 749 561.6 747.3 596.9 730.1 560.7 738.8 528.3 725.2 596.1 733.4" fill="none" stroke="none" marker-start="url(#mdff0010)" marker-mid="url(#mdff0010)" marker-end="url(#mdff0010)"/>
<path d="M641.6 644.8 717.5 639.4 724.6 648.4 521.1 650.6 548 649.7 536.8 653.5 705.7 635.6 634.1 640.6 617.2 650.6 493.9 650.6 723.3 643 675.7 648.5 550 641.9 509.4 639.3 699.6 646.5 558.3 648.8 664.4 643.9 653 647.3 722 635.6 699.1 643 730.1 638.6 623.5 651.8 505.8 648.2 524.9 647.3 669.9 637.5 719.7 630.8 500.6 651.2 651.2 642.9 737.8 651.8 555.1 644.6 673.1 647.4 697.5 637 518.6 631.7 646 650.1 700.7 639.8 701.2 646.7 547.7 642.3 730.3 645.5 693 647.8 512.2 637 524.2 634.5 635.6 641.9 549.8 650.2 645.3 634 649.5 641 653.6 652.8 516.8 651.8 523.8 651.2 742.9 651.8 518 637.7 706.4 646.8 497.6 650.9 694.9 651 513.1 649.1 655.6 631 713.6 639.7 625 647.8 526.1 634.4 669.8 652.5 488.6 648.3 658.4 630 545.6 646.3 521.3 642.8 517.7 639.7 716.1 638.5 511 649.3 519.7 636.3 501.4 648.1 692.2 653.5 522.1 635.2 733.3 639.1 495.7 652.5 536.5 648.3 713.7 649.2 507.6 641.8 732.3 651.5 517.4 643.1" fill="none" stroke="none" marker-start="url(#md400dcf)" marker-mid="url(#md400dcf)" marker-end="url(#md400dcf)"/>
<path d="M513.3 678.1 521.1 696.7 590.2 690.9 625 698.8 617.1 700.4 562.9 679 568 697.6 614.8 693.9 605.3 695.9 622.6 681.8 622 695.5 621.6 678 606.1 698.6 604.7 700.2 646.6 686.6 598.1 687.2 647 681.4 624.3 679 633 677.2 533.5 694.6 576 685.9 598.2 684.2 590 678.6 641.8 684.2 523.2 689.1 621.6 684.3 629.2 685 527.4 686.9 618.6 687.6 599.4 694.3 618.9 692.3 637.3 698.2 595.1 700.3 642.6 688.1 581.1 694.1 596.1 682.3 575.4 689 599.6 696.9 546.8 681.9 579.7 677.7 599.8 681.1 601.1 693.9 602.6 680.9 577.9 699.9 584.7 686.5 550.3 698.5 567.7 685.9 612.7 678.9 545.6 690 629 699.2 529.5 695.1 526.1 697.8 574.6 696.7 558.7 690.9 621.9 687.8 614.8 680.9 561.7 678.6 522.6 694.3 549.1 684.7 610.6 680.1 638.7 680.1 629 695.5 642 692.4 606 680.5 588.1 681.1 548 677.4 610.4 683.2 594 697.9 558.5 689.6 726.1 682.2 629 679.9 633.3 684.5 604.5 684 593.9 680.5 564.2 697.2 501.1 679.4 562.3 697.6 638.4 698.3 509.6 688 564.1 680 607 681 548.2 687 607.8 695.8 585.7 696.4 504 681.4 630.9 697 513.2 694.7 510.5 679 567.1 684 602.4 691.5 604 688.7 577.3 693.2 571.1 684 543 697.6 561.7 685.5 569.3 695.1 628.9 689.9 537.6 691.3 639.2 681.4 586.1 677.2 613.4 680.1 532.3 697.9 538.6 698.2 567.4 679 642.7 683.7 585.3 685 548.9 697.9 619.4 685.3 641.5 693.4 565 685.6" fill="none" stroke="none" marker-start="url(#md9f0670)" marker-mid="url(#md9f0670)" marker-end="url(#md9f0670)"/>
<path d="M672.8 649.8 524.1 649 527.3 648.1 548 635.7 505.7 636.3 681.9 642.2 527.8 637.2 718.3 649.9 699.3 633.5 549.5 644.4 624.6 646.9 627.1 648.4 715.2 651 529.9 634.3 649 634.8 484.2 648.8 639 648.2 689.4 649.5 729.7 642.1 639.1 652.1 666.6 645.8 711.7 645.8 660.5 647.9 655.6 642.8 673.4 650.4 711 640.7 661.5 652.5 543.7 638.4 680.3 647.3 553.3 644.8 635.8 645.8 621.2 647.2 540.1 642.5 683.4 645.8 731.5 642.8 724.4 638.8 697.8 651.6 527.1 637.2 526.2 647.5 720.3 634.3 697.5 642.1 734.2 641.8 664.1 640.6 508.8 642 722.3 650.8 720.5 640.1 643.6 641.1 690.3 644.4 625.1 653.4 628 645 548.9 646.2 527.1 632.3 511 653.2 656.7 637.9 630.6 645.8 630.2 647.9 726.9 645.6 678.9 652.2 541 638.3 524.7 639.6 507.2 640.6 716 633 725.1 646.8 510.5 643.4 520.4 648.6 651.8 631.8 717.1 640.9 666.3 653.3 559.9 653.3 535.5 638.9 711.6 637.4 656.9 638.1 653.9 631.5 706.8 647.3 692.7 652 633.7 652.3 515.6 648.4" fill="none" stroke="none" marker-start="url(#md400dcf)" marker-mid="url(#md400dcf)" marker-end="url(#md400dcf)"/>
<path d="M554.4 744.6 572.2 747.9 560.8 738.4 573 730 592.9 735 583.7 745.8 586.9 726.3 539 727.1 564.3 729.3 556 740.4 589.3 726.4 581.8 733.1 541.4 740.4 588.5 735.5 556.5 745 573.1 746.4 580.1 725.4 523.8 725 565.2 732.4 585.7 741.6 553.3 732 561.6 729.6 569 734.9 555.5 735.5 570.3 745.4 558.7 743.6 579.3 740.7 522.7 726.9 586.5 730.5 564.1 747.9 557.7 724.9 578.4 745.8 570.6 724.6 594.8 729.6 550.8 741.3" fill="none" stroke="none" marker-start="url(#mdff0010)" marker-mid="url(#mdff0010)" marker-end="url(#mdff0010)"/>
<path d="M572.1 743.8 546 743.2 582.8 739.2 592.9 727.9 566.4 728.9 527.6 727.2 599.6 724.7 575.8 733.7 602.2 725.2 552 726.2 578.4 745 567 732.8 551.1 735.1 536.5 726.1 583.7 725.7 575.4 741.9 562.1 733.5 597.5 726.1 589.6 735.2 544.4 742.3 584.7 734.8 549.9 732.1 540.7 737.5 556.8 733.2 533.6 725.1 560 744.9 568.6 735.7 573.7 724.8 584.4 736 546 725.8 537.1 726.9 550.9 730.1 565.3 733.8 584.7 729.8 565.7 737.9" fill="none" stroke="none" marker-start="url(#mdff0010)" marker-mid="url(#mdff0010)" marker-end="url(#mdff0010)"/>
<path d="M479.3 652.9 688.1 645.6 669.8 643.4 503.2 634.3 652.2 647.3 541.3 636.9 663.1 645 526.2 639.8 649.9 639.7 685.3 644 679.7 642.6 713.9 644.9 716.5 645.1 731.9 649.7 544.9 644.1 687.3 650.4 699.4 650.7 649.7 631.6 553.8 641.6 708.8 634.7 696.2 652.5 719.9 637.1 728.9 644.7 512 630.8 657.2 644.5 521.8 646.1 662.9 645.7 631.4 649.7 536.3 634.8 707.3 640.1 704.2 646.1 724.8 635.7 639.8 644.2 533.5 642.5 733.5 648.5 661.2 646 661.3 632.2 529.8 643.3 512.1 638.6 505.5 647.5 677 651.5 518.3 635.1 670 638.5 506.4 649.4 725.2 652.8 542.4 652.6 696.6 640.1 543.2 644.8 515.7 636.4 518.5 640 721.7 648.4 514.8 645.3 656.5 639.6 704.2 651.6 527.7 633 542.2 652.7 543.1 635.2 737.2 646.6 685.2 647.8 700.6 634.1 538.8 647.6 618.6 650.6 508.5 645.7 512.3 630.1 533.8 635.6 638.6 649 665.2 640.2 555.5 648 717.8 652.6 645.6 638.6 654.7 648.6 662.6 632.7 512.7 651.8 647.8 651.9 672.5 647.4 531.7 638.8 664.5 648.8" fill="none" stroke="none" marker-start="url(#md400dcf)" marker-mid="url(#md400dcf)" marker-end="url(#md400dcf)"/>
<path d="M524.2 660.1 534.8 662.6 523.1 666.9 554.9 673.1 482.1 659.7 713.6 676.5 517.7 671.9 712.5 666.4 716.1 662.2 719.7 662 482.3 655.4 503.1 674.8 602.8 664.8 637.2 670.7 511.2 655.8 730.2 654.1 608.8 675.2 679 672.8 570.6 676.6 683.5 654.8 663.2 674.5 626.2 663.7 709.5 661.2 507.9 667.2 674.4 670 654.6 676.6 538 660 742.8 659.8 485.2 663 541.2 675.4 612.9 659.1 491.5 662.6 485.4 661.5 642.5 666.9 609.2 668.5 517.4 668.4 528.6 653.5 690.9 668.9 608.8 676.1 627.8 669.4 488.2 669.9 641.4 674.2 615.7 661.2 691.7 669.9 714.8 668.3 738.3 661.9 682 658.1 483.3 672.3 518.7 658.9 551.8 659.4 721.3 665 488.8 654.1 608.5 663.6 602.1 670.1 585.4 674.8 627.1 670.5 625.8 676.8 510.9 664.5 725.4 668 515.4 660.5 632.3 663.5 513.7 654.2 702.9 673.4 742 658.5 541.1 664.2 552.3 675.8 614.3 666 625.9 659.3 700.8 662.9 599.5 669.1 710.7 663.2 547.6 654.1 666.6 654.8 528.5 661.4 594.7 661.6 679.4 666.4 535 653.8 626.5 669.7 515.5 666.5 482.9 669.6 621.5 665.8 558 676.6 614.3 674.3 510.2 667.5 699.4 660 549.4 656.2 599.1 669.7 601.9 665.3 711.1 655.9 485.7 655.6 606.6 676 535.8 660 663.6 656.1 597.5 662.4 585.3 667.3 545.9 667.9 735.3 663.5 704.8 670.6 582.4 673.2 712.7 674.8 527.4 665.1 616.3 658 584.7 671.7 671.8 676.1 629 667.5 637.7 656.3 532.4 674.8 658.8 662.8 678.2 661.1 633.3 668 614.9 668 688.6 670.2 558.9 656.3 510.5 670.7 525.6 670.5 614.5 656.3 632.8 672 557.8 665.5 726.6 664.1 537.6 663.1 641.3 671.9 545 656.4 651.7 668.1 514.7 666 642.9 661 615.6 670.8 505.6 658.7 618.3 660.8 529 667.5 498.8 672 679.6 653.7 483.1 662.5 476.2 660.2 540.7 660.4 608.2 662.4 686.6 665.2 528.5 655.7" fill="none" stroke="none" marker-start="url(#md700a9f)" marker-mid="url(#md700a9f)" marker-end="url(#md700a9f)"/>
<path d="M481.4 585.9 520.9 608.2 534.3 575.3 504.3 584.8 523.1 599 510.4 569.4 513.7 598.3 514 595.9 512.2 604.7 513.4 615.4 502.2 601.4 520.2 613.3 510.2 603.7 510.6 610.2 525.5 585.8 492.9 597.4 526.3 589.3 525.1 622.5 548.5 579.4 732.5 629 528.9 587.1 500.9 587.1 503.2 597.4 522.5 605.8 499.6 618.1 505.3 570.2 531.6 601.3 647.1 629.3 512.8 588.2 522.6 610 505.9 597.1 528.1 623.9 504.9 619 548.8 585.1 519.1 574 526.8 597.3 510.3 622.3 522 584.5 523.3 591.9 532.9 611.5 496.9 591.6 527.6 614 489.9 592.9 519 580.1 506.8 608.7 716.1 630 509.2 599.7 523.5 595 494.6 607.7 535.6 614.2 499.4 597.7 497 597.5 512.3 576.1 528.5 610.2 535.6 581.4 523.3 594.1 517.2 601.9 510.1 576 541.2 587.3 534.7 609 520.3 604.2 507.3 580.3 509.9 606.3 518.4 603.4 492 607.5 526.8 580 497.9 615.9 548.9 593.6 530 575.2 502.8 606.2 536.5 576.8 490.2 576.4 490.1 590.1" fill="none" stroke="none" marker-start="url(#md1010ff)" marker-mid="url(#md1010ff)" marker-end="url(#md1010ff)"/>
<rect x="445.6" y="538.7" width="328.5" height="237.3" fill="none" stroke="#111" stroke-width="2"/>
<text class="t" x="521.9" y="560.5" textLength="195.8" lengthAdjust="spacingAndGlyphs">Capmatinib/HDAC6</text>
<ellipse cx="744" cy="746.5" rx="21.9" ry="19.4" fill="#dcdcdc"/>
<text class="L" x="744" y="754.7">F</text>
<text class="n" x="438.1" y="559.4" text-anchor="end">60</text>
<text class="n" x="438.1" y="602.6" text-anchor="end">40</text>
<text class="n" x="438.1" y="645.8" text-anchor="end">20</text>
<text class="n" x="438.1" y="689" text-anchor="end">0</text>
<text class="n" x="438.1" y="732.1" text-anchor="end">-20</text>
<text class="n" x="438.1" y="775.3" text-anchor="end">-40</text>
<text class="n" x="445" y="799.8" text-anchor="middle">-60</text>
<text class="n" x="506.6" y="799.8" text-anchor="middle">-30</text>
<text class="n" x="568.2" y="799.8" text-anchor="middle">0</text>
<text class="n" x="629.8" y="799.8" text-anchor="middle">30</text>
<text class="n" x="691.4" y="799.8" text-anchor="middle">60</text>
<text class="n" x="753" y="799.8" text-anchor="middle">90</text>
<g fill="#111"><rect x="393.8" y="124" width="3.6" height="190"/>
<polygon points="395.6,111.5 388.6,126 402.6,126"/>
<rect x="393.8" y="463.5" width="3.6" height="190"/>
<polygon points="395.6,666.5 388.6,652 402.6,652"/>
<rect x="164" y="820.5" width="190" height="4"/>
<polygon points="151.5,822.5 166,816.5 166,828.5"/>
<rect x="441.5" y="816" width="191" height="4"/>
<polygon points="645.5,818 630.5,812 630.5,824"/>
<text class="P" x="375" y="827.5" textLength="51" lengthAdjust="spacingAndGlyphs">PC1</text>
<text class="P" transform="translate(405.2 415) rotate(-90)" textLength="54.5" lengthAdjust="spacingAndGlyphs">PC2</text></g>
</svg></body></html>
